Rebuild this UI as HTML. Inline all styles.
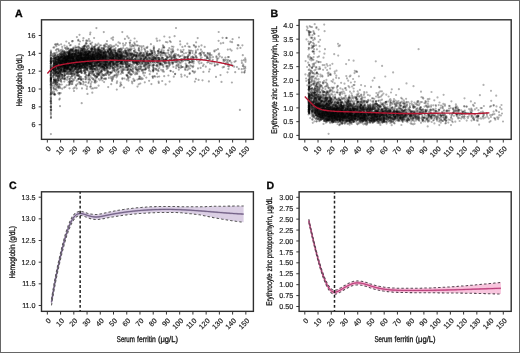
<!DOCTYPE html>
<html><head><meta charset="utf-8"><style>html,body{margin:0;padding:0;background:#fff;overflow:hidden}svg{display:block;filter:blur(0.35px)}</style></head>
<body><svg width="520" height="353" viewBox="0 0 520 353" font-family="'Liberation Sans', sans-serif" text-rendering="geometricPrecision"><rect x="0" y="0" width="520" height="353" fill="#fff"/><rect x="0.5" y="0.5" width="519" height="352" fill="none" stroke="#666" stroke-width="1"/><g fill="none" stroke="#000" stroke-opacity="0.33" stroke-width="2.2" stroke-linecap="round"><path d="M105.6 56.7h0M170.4 70.8h0M87.5 68.2h0M109.5 59.2h0M64.3 64.2h0M176.3 62.0h0M94.4 54.1h0M53.7 70.7h0M66.8 69.2h0M78.3 53.4h0M66.9 60.8h0M68.9 57.2h0M68.2 62.3h0M70.8 54.6h0M77.9 57.3h0M132.9 61.0h0M83.0 66.9h0M58.8 59.2h0M57.8 76.5h0M81.4 71.7h0M55.5 72.8h0M69.7 84.4h0M71.2 59.6h0M93.6 79.5h0M59.3 71.7h0M114.5 65.3h0M195.8 53.0h0M50.9 53.8h0M55.5 79.4h0M74.5 62.2h0M88.4 65.2h0M116.4 53.1h0M53.1 77.4h0M74.5 65.2h0M99.4 62.2h0M100.1 54.8h0M165.9 42.0h0M141.8 56.4h0M91.9 64.4h0M60.9 69.9h0M54.2 62.8h0M112.1 53.3h0M81.9 65.2h0M60.7 80.3h0M83.4 66.1h0M53.4 56.3h0M110.4 62.6h0M104.4 68.3h0M67.1 59.5h0M106.5 58.9h0M147.2 47.8h0M59.0 62.4h0M152.0 60.8h0M81.9 54.5h0M111.1 62.4h0M174.3 59.7h0M139.7 51.3h0M68.6 62.7h0M107.7 71.7h0M245.2 66.8h0M83.5 57.4h0M58.0 63.8h0M91.3 51.8h0M97.4 60.7h0M80.0 41.5h0M120.2 58.2h0M169.4 65.2h0M153.3 59.2h0M63.0 64.2h0M68.7 61.2h0M111.1 50.7h0M142.0 62.2h0M86.2 42.9h0M99.4 47.3h0M89.3 58.6h0M106.2 62.5h0M92.1 61.7h0M200.9 49.7h0M66.9 58.6h0M135.8 59.7h0M103.7 52.6h0M145.8 64.0h0M63.8 58.3h0M201.5 45.4h0M109.3 63.8h0M64.5 45.6h0M64.2 63.8h0M102.8 66.8h0M88.5 57.9h0M93.8 74.6h0M101.7 56.6h0M141.3 58.4h0M101.5 55.5h0M89.7 73.5h0M72.8 66.1h0M59.2 68.6h0M55.7 83.5h0M96.9 68.5h0M139.3 59.2h0M98.2 56.2h0M74.0 63.8h0M50.9 61.6h0M95.7 61.6h0M73.5 58.9h0M137.7 63.2h0M69.3 65.0h0M86.4 75.7h0M93.1 60.6h0M72.0 59.4h0M60.4 61.1h0M136.2 60.3h0M53.7 68.1h0M138.1 62.2h0M97.2 61.6h0M63.9 55.8h0M75.6 67.4h0M151.7 53.5h0M62.2 62.4h0M130.6 55.0h0M79.7 64.5h0M67.5 68.0h0M71.0 61.9h0M50.9 65.9h0M66.4 55.4h0M68.8 65.8h0M75.9 62.9h0M190.0 68.5h0M122.0 57.4h0M126.4 64.4h0M104.0 78.8h0M153.4 64.5h0M154.0 62.5h0M85.6 54.2h0M66.0 56.0h0M90.0 72.2h0M101.7 60.5h0M58.4 80.1h0M53.6 71.2h0M70.4 70.2h0M117.2 65.2h0M71.8 51.7h0M74.0 65.8h0M92.8 66.4h0M108.8 63.6h0M178.4 54.9h0M73.2 59.6h0M147.0 61.6h0M83.9 58.2h0M61.1 57.6h0M100.0 56.6h0M71.0 63.1h0M71.4 56.6h0M67.1 68.7h0M109.9 49.2h0M132.7 65.1h0M89.1 61.4h0M87.2 66.1h0M50.9 68.1h0M51.0 87.7h0M69.2 57.9h0M74.8 54.0h0M195.9 78.9h0M106.4 68.7h0M71.5 60.8h0M50.8 72.3h0M76.6 64.3h0M105.8 56.7h0M80.8 53.4h0M87.5 48.5h0M58.1 64.0h0M77.5 61.3h0M61.6 65.5h0M91.0 56.7h0M108.0 51.4h0M159.4 61.1h0M101.1 68.1h0M62.0 54.6h0M91.6 71.7h0M231.4 62.7h0M164.6 61.3h0M54.4 69.7h0M69.6 61.8h0M149.7 74.2h0M80.1 62.6h0M79.8 68.6h0M73.9 51.5h0M100.9 72.8h0M97.1 69.9h0M80.2 63.4h0M65.6 62.6h0M74.5 63.4h0M61.5 74.3h0M103.7 75.2h0M95.4 55.5h0M160.6 63.6h0M97.9 52.6h0M141.7 52.4h0M112.5 67.2h0M62.0 52.7h0M174.0 57.4h0M81.9 71.3h0M144.5 64.4h0M53.5 72.7h0M68.8 54.4h0M174.6 36.2h0M153.9 57.3h0M90.1 52.8h0M128.3 55.8h0M66.1 70.4h0M60.6 67.8h0M139.6 58.8h0M219.2 53.6h0M125.2 63.3h0M85.0 58.8h0M114.8 58.0h0M86.7 57.6h0M109.0 51.6h0M172.9 63.3h0M103.5 65.7h0M51.0 80.8h0M61.8 57.3h0M135.9 61.3h0M76.8 67.3h0M88.3 52.5h0M60.8 63.8h0M117.4 55.0h0M56.1 59.5h0M143.7 56.2h0M126.0 52.8h0M126.8 61.3h0M63.8 63.5h0M127.9 76.6h0M88.5 55.9h0M108.7 48.0h0M192.5 71.0h0M153.7 68.0h0M91.8 55.1h0M105.1 56.8h0M118.3 56.8h0M67.7 64.2h0M131.1 59.3h0M91.5 49.2h0M83.6 64.1h0M82.9 60.9h0M95.3 68.8h0M103.2 50.4h0M103.8 58.5h0M101.9 59.4h0M87.0 61.9h0M68.8 69.5h0M127.7 49.8h0M104.9 64.4h0M88.7 64.6h0M116.5 77.3h0M82.0 67.6h0M149.0 61.2h0M134.3 48.3h0M81.8 72.5h0M64.1 73.5h0M176.2 54.4h0M141.7 69.9h0M84.3 70.4h0M98.7 48.6h0M68.4 64.5h0M74.2 61.8h0M77.4 70.4h0M115.0 60.5h0M88.0 67.3h0M77.4 50.0h0M59.1 62.3h0M131.4 55.7h0M84.7 73.7h0M188.9 62.8h0M101.2 57.1h0M59.9 77.5h0M66.0 59.3h0M129.6 58.8h0M126.2 65.3h0M90.1 62.7h0M130.3 54.1h0M73.7 69.7h0M95.0 46.4h0M125.5 67.6h0M190.0 53.1h0M165.0 53.9h0M68.4 61.2h0M92.0 59.6h0M54.1 68.2h0M135.2 50.2h0M85.5 56.3h0M128.3 61.5h0M79.7 65.8h0M73.1 65.8h0M65.5 58.3h0M153.3 62.9h0M96.9 60.5h0M80.9 65.1h0M78.1 50.6h0M96.7 81.5h0M65.7 66.4h0M163.3 60.1h0M120.2 66.1h0M117.1 62.7h0M69.5 60.3h0M69.0 71.9h0M60.0 106.2h0M117.5 52.3h0M102.5 60.6h0M87.0 55.0h0M68.1 62.8h0M176.8 64.7h0M93.1 53.6h0M61.2 79.4h0M83.2 79.0h0M67.4 57.8h0M60.8 63.6h0M164.6 60.9h0M121.7 61.9h0M125.8 63.8h0M108.8 53.4h0M80.0 64.0h0M76.4 62.1h0M50.9 71.4h0M143.5 62.1h0M50.9 72.7h0M61.8 71.9h0M91.1 64.8h0M78.2 60.2h0M142.3 62.9h0M76.4 63.8h0M98.1 56.1h0M137.2 63.5h0M136.4 55.5h0M90.1 63.5h0M60.7 68.1h0M67.2 64.9h0M72.4 56.6h0M129.7 55.6h0M208.1 58.0h0M157.2 40.9h0M107.0 69.8h0M135.6 61.7h0M115.3 60.9h0M99.9 52.7h0M203.4 71.9h0M104.7 47.0h0M80.9 64.6h0M117.1 81.4h0M53.8 80.2h0M98.1 57.3h0M112.5 54.8h0M65.8 52.8h0M148.8 57.8h0M58.9 71.0h0M163.2 61.7h0M88.7 62.2h0M64.7 71.8h0M68.0 58.0h0M95.2 52.2h0M118.5 74.4h0M114.8 54.5h0M57.7 67.0h0M66.3 62.5h0M83.1 49.1h0M72.5 63.1h0M50.9 71.2h0M57.5 56.4h0M102.2 75.0h0M50.9 79.3h0M145.7 68.4h0M229.5 61.1h0M82.8 59.1h0M157.0 62.1h0M139.3 78.5h0M68.9 52.3h0M104.1 60.9h0M67.4 68.0h0M95.4 60.7h0M98.1 56.0h0M85.6 72.2h0M66.1 61.0h0M85.7 52.3h0M66.3 67.9h0M76.2 52.2h0M92.5 57.5h0M93.6 59.2h0M123.0 43.7h0M114.2 57.9h0M74.3 66.0h0M85.2 64.6h0M107.4 64.7h0M182.1 59.1h0M59.4 84.0h0M91.9 45.7h0M168.4 75.5h0M85.6 65.0h0M75.0 73.9h0M125.9 61.3h0M98.8 60.6h0M62.9 52.3h0M111.6 56.1h0M146.4 64.5h0M76.6 58.1h0M53.6 67.1h0M165.0 63.7h0M170.8 42.1h0M68.3 63.2h0M137.9 56.0h0M81.1 58.3h0M92.0 56.6h0M83.8 82.4h0M72.9 62.2h0M127.3 59.1h0M92.0 49.5h0M72.0 67.2h0M60.4 73.6h0M90.8 60.8h0M85.4 60.4h0M110.4 63.7h0M126.2 56.7h0M124.7 67.7h0M60.5 51.7h0M87.7 54.1h0M70.6 59.4h0M119.6 56.7h0M108.3 63.4h0M73.8 73.6h0M174.3 59.1h0M68.5 69.1h0M92.0 58.4h0M243.8 68.7h0M123.5 45.8h0M67.3 62.5h0M64.0 67.9h0M95.8 49.0h0M150.6 56.2h0M118.4 65.9h0M88.4 56.5h0M110.9 47.7h0M89.6 53.0h0M63.0 61.2h0M51.0 58.9h0M241.9 72.3h0M65.3 53.5h0M118.5 60.3h0M151.2 51.4h0M99.1 57.6h0M71.7 58.9h0M112.1 79.7h0M238.5 45.4h0M63.7 69.2h0M67.3 60.8h0M85.3 62.9h0M89.9 59.5h0M88.4 62.0h0M113.6 56.9h0M68.3 56.8h0"/><path d="M64.6 66.4h0M175.6 62.2h0M151.8 59.8h0M84.1 49.0h0M173.1 56.8h0M78.2 67.0h0M55.5 63.9h0M58.7 58.5h0M61.2 64.0h0M147.9 56.0h0M89.6 55.3h0M101.2 71.4h0M98.5 50.0h0M107.5 72.5h0M105.8 59.4h0M87.4 55.6h0M97.0 63.1h0M86.0 64.2h0M93.0 71.7h0M131.1 55.4h0M88.8 77.6h0M158.3 61.7h0M67.1 63.8h0M117.9 45.9h0M168.8 61.5h0M123.2 51.5h0M65.5 65.0h0M136.8 61.6h0M60.2 71.0h0M95.8 67.6h0M95.9 65.4h0M59.6 63.0h0M57.9 68.2h0M79.4 53.6h0M51.0 117.5h0M61.4 66.3h0M73.2 63.4h0M199.4 63.5h0M84.7 57.2h0M121.1 56.2h0M114.6 54.8h0M98.3 48.3h0M68.1 48.5h0M62.3 51.5h0M149.8 58.5h0M107.3 52.0h0M92.1 65.5h0M77.0 72.5h0M61.5 56.2h0M110.7 66.7h0M71.8 81.7h0M116.5 55.3h0M92.8 54.3h0M116.0 59.8h0M123.4 62.5h0M80.8 68.4h0M56.7 63.9h0M110.2 63.5h0M87.8 58.7h0M78.2 69.1h0M125.8 64.7h0M87.2 50.2h0M116.9 64.9h0M51.0 98.3h0M53.4 73.3h0M99.4 66.1h0M95.9 53.4h0M94.1 46.7h0M63.0 59.9h0M62.6 61.0h0M113.2 61.4h0M96.9 72.4h0M98.9 56.8h0M93.0 63.1h0M92.0 61.8h0M55.5 44.3h0M112.2 57.6h0M61.7 74.4h0M162.2 58.2h0M81.7 103.2h0M70.8 68.2h0M131.8 56.2h0M216.2 50.0h0M105.4 55.3h0M163.9 52.4h0M161.5 60.3h0M154.3 51.4h0M84.1 69.1h0M141.6 61.2h0M93.4 65.5h0M137.5 79.5h0M60.1 73.3h0M185.7 63.7h0M92.0 62.9h0M66.4 62.2h0M64.5 68.0h0M88.1 62.0h0M67.7 65.8h0M81.0 55.9h0M64.5 62.5h0M92.7 57.3h0M109.1 63.1h0M124.2 58.5h0M65.4 68.0h0M157.7 66.6h0M98.9 56.1h0M87.3 51.8h0M91.7 60.5h0M122.3 56.6h0M99.8 66.2h0M76.7 64.2h0M58.5 62.2h0M67.1 79.8h0M70.6 71.5h0M140.8 68.3h0M115.6 62.7h0M96.7 52.7h0M88.0 53.2h0M133.0 62.0h0M54.3 57.9h0M90.8 72.7h0M79.4 63.6h0M110.3 72.8h0M81.2 58.1h0M89.7 66.6h0M103.5 47.7h0M94.2 60.3h0M63.7 54.7h0M102.6 74.6h0M50.8 55.3h0M58.1 62.2h0M84.8 63.7h0M129.4 50.8h0M143.4 60.6h0M173.9 56.1h0M65.0 63.1h0M72.9 62.2h0M93.9 66.1h0M153.8 46.4h0M57.7 80.3h0M145.9 68.6h0M86.9 58.4h0M149.2 54.1h0M73.5 60.7h0M83.5 49.1h0M67.6 67.9h0M169.6 81.6h0M120.8 57.2h0M79.4 60.3h0M55.6 71.4h0M130.7 70.7h0M156.4 65.7h0M138.7 84.3h0M100.1 58.1h0M175.2 56.4h0M101.5 60.4h0M61.4 69.8h0M57.4 78.8h0M85.5 52.6h0M84.1 55.0h0M65.3 71.1h0M88.7 72.0h0M173.8 56.4h0M105.0 63.3h0M100.9 54.7h0M115.7 50.7h0M115.6 56.9h0M103.0 57.9h0M106.0 69.6h0M114.8 75.8h0M94.3 64.2h0M84.9 68.9h0M91.8 71.4h0M139.9 55.5h0M82.9 52.2h0M81.6 58.4h0M99.6 65.1h0M97.3 55.5h0M97.1 57.6h0M130.1 70.1h0M172.5 51.1h0M89.4 78.1h0M91.2 60.4h0M127.2 75.6h0M59.3 60.7h0M121.9 54.4h0M175.2 73.8h0M82.0 55.1h0M53.2 61.1h0M75.1 65.6h0M86.6 55.8h0M153.8 60.3h0M59.9 84.8h0M111.0 64.3h0M95.8 71.2h0M117.7 53.7h0M155.6 59.2h0M64.8 61.8h0M67.4 60.7h0M94.9 60.4h0M100.9 52.6h0M87.1 61.1h0M70.4 63.8h0M154.0 56.9h0M62.8 59.2h0M71.1 68.6h0M59.5 59.9h0M86.9 64.6h0M147.3 59.2h0M88.9 39.0h0M70.3 64.4h0M84.6 51.6h0M81.2 61.9h0M231.9 82.5h0M90.8 86.2h0M75.2 63.5h0M65.6 59.5h0M103.7 47.8h0M195.9 56.5h0M135.7 72.4h0M86.7 78.0h0M120.9 67.3h0M97.2 76.6h0M78.9 57.8h0M140.0 53.5h0M90.9 63.0h0M183.9 53.5h0M82.9 65.1h0M93.9 55.1h0M51.0 67.6h0M59.7 58.6h0M170.0 59.7h0M173.4 46.8h0M163.7 50.6h0M70.0 57.3h0M67.3 48.2h0M73.6 58.4h0M88.4 83.1h0M105.5 70.7h0M112.2 50.4h0M192.8 67.2h0M185.7 59.8h0M77.2 59.1h0M78.5 49.1h0M64.6 55.0h0M147.2 56.0h0M72.3 50.4h0M59.9 62.9h0M108.5 64.3h0M73.3 65.7h0M50.9 58.9h0M71.5 57.1h0M79.5 56.3h0M231.6 50.6h0M74.2 56.1h0M69.8 64.4h0M71.8 66.4h0M151.8 65.6h0M91.4 58.6h0M66.3 69.2h0M192.5 56.9h0M72.6 51.8h0M112.4 57.9h0M59.8 75.8h0M97.6 52.7h0M126.1 60.0h0M61.1 60.3h0M94.5 68.5h0M72.2 67.8h0M52.5 68.9h0M63.8 56.7h0M138.1 62.3h0M70.5 56.4h0M98.7 54.2h0M79.6 48.0h0M57.7 66.3h0M71.7 73.6h0M117.5 56.6h0M83.6 53.9h0M123.4 59.8h0M108.8 61.0h0M96.5 54.3h0M64.3 56.8h0M99.4 54.3h0M97.8 53.0h0M76.5 64.8h0M88.3 55.5h0M78.5 58.3h0M68.8 54.7h0M68.2 55.6h0M112.9 57.8h0M80.5 55.9h0M77.7 67.5h0M159.6 59.5h0M134.8 62.4h0M53.4 58.6h0M50.8 67.8h0M200.8 54.3h0M80.5 83.2h0M106.9 66.8h0M137.0 63.1h0M100.4 57.9h0M61.1 65.9h0M218.3 58.3h0M85.2 62.8h0M96.1 72.1h0M79.0 55.6h0M117.1 54.1h0M85.1 67.0h0M84.8 49.3h0M123.3 57.6h0M59.5 74.6h0M70.7 61.6h0M156.3 57.6h0M69.8 82.0h0M177.0 60.9h0M60.4 58.9h0M67.1 60.1h0M146.4 47.7h0M104.2 64.8h0M69.9 81.0h0M67.8 60.3h0M89.4 51.8h0M161.4 63.0h0M97.7 60.8h0M55.2 65.1h0M204.4 54.8h0M99.9 56.8h0M55.9 81.7h0M89.1 63.2h0M61.6 66.0h0M189.7 62.7h0M120.9 53.1h0M83.0 81.5h0M111.6 59.1h0M125.9 53.5h0M178.2 59.5h0M146.7 64.5h0M71.9 68.4h0M58.8 86.8h0M92.3 92.7h0M131.6 55.1h0M214.9 65.1h0M156.8 62.2h0M100.4 54.2h0M111.6 50.0h0M65.4 65.2h0M165.8 59.9h0M113.0 55.3h0M87.5 60.9h0M160.5 62.2h0M170.9 56.8h0M200.5 55.8h0M224.0 66.9h0M133.3 71.3h0M109.3 60.5h0M101.2 56.8h0M121.3 59.8h0M111.4 51.7h0M64.8 63.7h0M82.1 67.5h0M105.4 57.6h0M97.8 52.3h0M82.3 55.1h0M132.1 53.9h0M147.4 46.8h0M101.5 54.1h0M73.4 59.2h0M106.6 54.7h0M62.7 62.4h0M65.2 66.4h0M235.2 72.2h0M67.8 64.8h0M91.5 59.7h0M57.2 76.3h0M110.4 54.9h0M80.7 62.3h0M53.7 65.9h0M86.9 55.1h0M82.9 62.7h0M50.8 101.4h0M70.6 65.3h0M110.1 66.6h0M65.7 61.4h0M72.1 68.2h0M63.5 71.3h0M145.1 62.6h0M110.2 74.1h0M114.2 56.0h0M91.2 64.5h0M79.2 56.2h0M81.7 57.9h0M58.2 59.3h0M78.9 67.5h0M87.7 54.9h0M86.3 54.2h0M130.5 49.8h0M102.9 65.9h0M50.9 61.4h0M70.2 62.6h0M56.3 87.6h0M69.0 54.1h0M83.5 59.5h0M118.5 67.4h0M116.7 62.9h0M122.6 60.5h0M55.9 73.0h0M188.6 60.1h0M71.6 65.7h0M83.6 62.8h0M129.5 56.8h0M80.0 63.4h0M89.0 75.2h0M192.3 60.8h0M80.7 53.2h0M113.0 65.1h0M127.0 55.0h0M131.9 46.5h0M79.1 65.5h0M73.3 67.4h0M122.3 79.1h0M121.2 59.4h0M100.6 63.9h0M58.9 45.0h0M78.7 65.1h0M60.6 62.9h0M150.2 58.1h0M157.0 73.7h0M93.3 58.0h0M85.1 51.9h0M89.8 41.1h0M69.0 68.9h0M102.0 78.0h0M58.6 77.7h0M76.9 59.1h0M67.1 59.4h0M60.3 58.2h0M209.8 54.1h0M85.4 57.6h0M227.8 66.0h0M113.2 46.6h0M84.7 67.6h0M92.8 73.2h0M86.6 60.7h0M94.1 58.1h0M50.7 101.5h0M164.2 76.2h0M114.2 67.8h0M121.1 61.1h0M78.9 52.8h0M124.3 58.0h0M154.2 57.8h0M50.9 83.4h0M114.3 71.1h0M93.8 66.3h0M75.3 51.6h0M63.6 59.2h0"/><path d="M60.2 72.6h0M50.9 63.5h0M56.9 64.9h0M65.9 65.7h0M176.6 59.3h0M60.9 80.9h0M102.8 56.7h0M50.9 62.4h0M56.0 75.5h0M62.7 62.8h0M163.2 65.7h0M99.0 62.7h0M106.4 60.8h0M123.5 53.3h0M84.0 56.5h0M206.9 58.1h0M50.9 94.1h0M77.9 73.1h0M79.6 51.2h0M133.5 62.3h0M165.6 59.6h0M62.9 63.0h0M59.4 62.6h0M108.6 59.3h0M84.0 64.4h0M87.3 59.3h0M58.5 60.1h0M103.3 53.5h0M84.9 55.4h0M103.4 54.9h0M92.9 63.1h0M128.4 54.7h0M129.7 60.9h0M157.7 70.5h0M134.8 54.7h0M82.1 58.6h0M188.5 55.8h0M64.8 75.4h0M79.5 54.3h0M192.6 51.1h0M92.4 57.0h0M134.7 52.5h0M127.1 67.2h0M80.0 61.2h0M121.5 64.2h0M103.9 52.5h0M69.2 62.4h0M137.5 86.6h0M76.6 67.7h0M71.0 65.0h0M50.9 100.2h0M82.9 57.1h0M66.9 64.4h0M87.7 46.1h0M105.4 65.1h0M71.4 60.3h0M90.5 56.3h0M132.3 59.1h0M82.3 54.3h0M146.2 58.7h0M127.5 53.9h0M123.4 54.1h0M79.2 44.2h0M63.8 61.4h0M78.1 63.8h0M109.6 61.3h0M81.9 48.8h0M135.1 67.9h0M94.0 58.2h0M64.5 51.3h0M89.9 60.8h0M93.8 58.9h0M125.1 55.7h0M99.4 62.6h0M108.8 46.5h0M108.1 52.0h0M174.7 55.3h0M93.1 60.1h0M51.0 92.8h0M117.2 57.4h0M86.3 54.6h0M69.4 71.1h0M113.4 68.3h0M142.7 78.8h0M79.6 77.5h0M76.2 65.6h0M197.8 49.6h0M143.8 53.0h0M80.9 55.3h0M60.5 79.8h0M66.2 59.8h0M172.2 63.0h0M66.5 65.8h0M70.9 61.1h0M122.1 66.1h0M115.0 66.8h0M80.0 49.9h0M119.7 61.5h0M80.3 61.1h0M106.8 60.4h0M70.1 72.2h0M113.9 62.6h0M53.4 64.9h0M87.0 65.1h0M168.9 54.5h0M63.3 60.4h0M125.0 69.9h0M78.9 55.4h0M72.8 59.2h0M192.6 56.6h0M141.6 63.9h0M81.1 60.9h0M107.9 59.7h0M167.4 42.3h0M89.4 64.4h0M97.2 63.4h0M104.2 60.7h0M84.5 66.9h0M142.8 61.6h0M130.0 53.1h0M51.0 89.9h0M75.1 54.5h0M72.9 67.5h0M72.9 54.2h0M70.4 64.9h0M66.8 66.1h0M77.1 54.7h0M76.8 56.0h0M74.6 60.2h0M64.5 70.4h0M61.8 62.5h0M100.6 59.8h0M111.3 51.8h0M147.6 62.7h0M53.0 83.4h0M51.1 93.6h0M100.5 64.5h0M96.8 55.9h0M164.0 61.6h0M108.8 59.8h0M120.8 62.6h0M55.7 69.4h0M55.2 80.0h0M58.7 88.1h0M67.3 77.9h0M114.9 52.5h0M135.1 58.5h0M100.7 55.2h0M120.3 58.4h0M76.3 67.3h0M51.0 81.9h0M50.8 69.2h0M86.0 53.7h0M84.0 56.5h0M105.9 56.7h0M64.0 68.4h0M77.8 59.5h0M93.3 68.8h0M144.8 82.3h0M176.1 68.2h0M70.8 64.9h0M67.4 58.2h0M88.9 53.1h0M101.4 65.4h0M55.8 55.6h0M56.1 72.6h0M88.4 61.6h0M64.6 65.6h0M82.7 54.1h0M87.3 60.5h0M89.4 58.6h0M72.4 78.7h0M119.4 60.2h0M50.9 85.2h0M117.4 56.6h0M71.5 81.4h0M106.4 65.5h0M166.6 58.7h0M147.4 54.9h0M102.9 56.7h0M101.2 64.6h0M97.0 56.4h0M93.3 54.4h0M65.7 71.3h0M75.1 78.3h0M60.3 65.5h0M230.2 49.3h0M83.5 60.3h0M82.8 63.7h0M69.2 53.6h0M82.5 57.6h0M166.8 69.0h0M97.2 55.5h0M118.0 62.3h0M62.5 72.0h0M53.6 70.2h0M77.3 60.3h0M154.1 65.2h0M50.9 82.4h0M55.3 63.2h0M60.2 63.7h0M139.0 61.3h0M72.7 54.1h0M96.4 56.7h0M83.5 55.7h0M66.8 68.7h0M82.7 50.5h0M59.3 57.1h0M83.1 64.8h0M178.7 67.1h0M146.4 57.9h0M121.2 51.2h0M68.3 68.5h0M97.1 61.8h0M102.1 73.5h0M162.6 71.3h0M50.9 68.8h0M50.9 103.2h0M159.0 63.7h0M153.0 61.5h0M90.0 57.8h0M132.1 57.8h0M140.4 53.2h0M91.1 67.0h0M116.7 55.7h0M189.7 53.2h0M141.3 67.2h0M50.9 74.3h0M58.7 60.3h0M53.1 68.3h0M59.8 71.6h0M76.3 56.2h0M98.4 53.4h0M119.6 55.0h0M73.1 57.6h0M63.7 70.4h0M99.7 64.4h0M109.2 50.3h0M65.0 58.1h0M123.3 69.2h0M137.1 52.8h0M83.3 60.8h0M68.7 56.9h0M118.0 55.1h0M149.0 58.1h0M125.2 60.0h0M59.5 56.4h0M94.0 62.3h0M91.1 58.4h0M58.1 73.1h0M85.8 59.8h0M152.5 76.6h0M79.4 60.6h0M173.4 55.5h0M69.9 57.4h0M63.5 64.7h0M65.1 63.2h0M130.1 54.5h0M137.5 61.3h0M98.8 54.0h0M80.2 53.1h0M94.7 65.5h0M69.5 66.1h0M74.0 79.8h0M61.4 70.0h0M63.8 58.2h0M80.2 53.3h0M138.5 54.9h0M86.0 60.7h0M160.3 51.8h0M187.2 76.8h0M99.3 57.8h0M111.2 55.5h0M84.7 65.4h0M67.3 65.2h0M227.5 61.3h0M70.5 69.9h0M76.9 73.4h0M111.2 54.9h0M108.6 63.5h0M81.0 61.2h0M94.6 47.2h0M97.7 61.8h0M190.2 61.9h0M164.0 53.0h0M88.7 65.6h0M114.6 50.1h0M77.1 63.2h0M62.4 62.2h0M55.9 50.2h0M146.7 62.7h0M68.3 68.1h0M72.9 54.2h0M103.2 66.7h0M92.3 73.0h0M104.4 61.5h0M81.2 57.8h0M55.2 60.5h0M118.9 49.1h0M118.5 53.1h0M70.6 72.1h0M72.2 58.6h0M91.4 69.5h0M101.3 61.4h0M74.5 69.9h0M82.9 56.1h0M86.0 63.2h0M67.0 56.9h0M76.2 57.1h0M105.3 56.2h0M112.9 53.0h0M79.3 67.6h0M73.4 48.3h0M121.8 61.8h0M50.7 84.7h0M191.5 66.2h0M123.1 55.8h0M81.9 61.1h0M79.3 64.6h0M124.5 55.7h0M101.2 58.2h0M110.2 45.0h0M120.5 57.9h0M69.4 79.0h0M105.2 56.0h0M52.6 92.8h0M142.5 55.7h0M96.6 73.6h0M168.6 50.3h0M145.0 49.5h0M80.5 53.4h0M93.7 61.9h0M89.7 58.4h0M64.8 59.6h0M77.3 71.7h0M113.5 77.3h0M50.8 75.3h0M62.5 74.6h0M107.6 50.1h0M139.3 76.7h0M119.7 61.6h0M72.5 82.1h0M74.3 50.5h0M120.0 43.3h0M62.2 76.9h0M128.5 61.0h0M95.6 53.1h0M109.3 54.6h0M94.7 61.7h0M145.1 72.8h0M70.5 49.4h0M50.7 82.2h0M100.4 62.9h0M64.5 67.1h0M63.1 67.1h0M180.2 63.1h0M64.3 58.4h0M74.0 59.9h0M71.1 67.9h0M130.5 64.7h0M78.8 59.4h0M53.3 82.1h0M158.8 57.5h0M112.0 77.6h0M69.9 45.3h0M57.0 73.1h0M148.7 54.9h0M111.0 77.1h0M55.3 75.7h0M156.9 60.4h0M74.8 63.0h0M50.6 81.2h0M221.5 81.9h0M72.1 61.2h0M56.8 57.1h0M56.0 56.6h0M54.2 82.3h0M81.9 62.8h0M226.6 37.9h0M55.4 64.0h0M99.2 49.7h0M119.9 63.5h0M83.1 40.5h0M111.4 45.5h0M184.2 56.5h0M132.8 54.5h0M78.1 56.7h0M65.4 59.8h0M51.0 71.0h0M116.7 56.6h0M72.9 59.6h0M143.1 58.7h0M70.8 63.5h0M105.9 78.4h0M150.9 44.2h0M53.9 58.9h0M86.1 58.1h0M100.6 61.2h0M64.7 59.8h0M50.7 77.9h0M54.0 65.7h0M98.5 66.1h0M118.4 58.1h0M100.7 63.4h0M107.0 44.3h0M85.3 56.8h0M59.8 58.0h0M118.5 50.4h0M90.7 62.0h0M82.4 61.3h0M189.6 73.9h0M83.4 56.2h0M89.8 52.0h0M149.1 58.3h0M129.8 77.2h0M160.1 64.1h0M91.3 68.7h0M73.1 79.4h0M70.6 58.1h0M79.5 59.2h0M136.3 62.3h0M105.2 59.6h0M56.8 63.3h0M113.5 58.3h0M94.4 57.8h0M72.5 57.0h0M223.2 42.9h0M68.2 58.0h0M69.7 64.1h0M104.6 68.6h0M64.4 59.8h0M145.0 62.4h0M155.0 76.7h0M50.9 100.6h0M88.7 55.7h0M106.6 67.5h0M62.7 60.8h0M103.5 58.3h0M67.9 72.1h0M127.9 51.1h0M165.5 60.8h0M80.5 55.3h0M80.6 65.0h0M60.8 62.0h0M119.5 60.8h0M91.4 61.4h0M104.6 60.3h0M52.7 54.1h0M68.7 55.8h0M141.3 58.8h0M88.1 56.7h0M73.9 62.2h0M97.5 62.9h0M153.1 71.6h0M178.8 65.2h0M73.9 66.0h0M127.6 53.0h0"/><path d="M62.2 65.9h0M88.1 59.9h0M171.3 60.4h0M132.4 62.1h0M136.9 58.2h0M87.0 63.1h0M58.9 66.0h0M60.6 56.8h0M175.1 60.0h0M191.0 57.4h0M120.9 63.4h0M195.9 55.8h0M141.0 58.7h0M114.1 56.7h0M91.8 65.4h0M140.7 66.7h0M64.2 69.7h0M64.9 65.0h0M110.2 62.5h0M153.1 66.6h0M64.0 64.7h0M95.4 61.9h0M55.5 58.0h0M74.9 68.5h0M116.4 54.8h0M188.3 69.2h0M85.7 61.0h0M68.0 53.6h0M69.5 53.9h0M62.5 63.9h0M70.1 65.5h0M78.5 79.0h0M141.6 49.8h0M64.8 71.2h0M70.5 55.5h0M170.1 56.7h0M113.3 65.1h0M107.8 66.7h0M56.4 65.5h0M115.4 64.0h0M119.4 52.3h0M58.9 57.3h0M85.8 60.9h0M102.4 57.5h0M112.6 64.0h0M57.9 66.9h0M76.5 66.8h0M76.5 53.3h0M72.0 63.6h0M106.3 57.6h0M98.4 60.1h0M59.1 93.2h0M108.9 72.1h0M105.1 61.6h0M78.1 51.8h0M73.2 61.1h0M70.6 57.7h0M59.5 65.0h0M173.8 76.7h0M82.4 50.6h0M120.5 49.2h0M93.1 56.4h0M101.1 52.4h0M70.2 62.4h0M102.6 60.0h0M120.5 59.6h0M103.0 63.9h0M79.5 58.8h0M88.5 75.1h0M92.1 64.2h0M77.1 69.9h0M58.3 73.2h0M74.9 61.9h0M62.3 60.5h0M105.0 60.6h0M57.0 71.3h0M72.1 54.2h0M84.7 55.6h0M81.0 55.3h0M122.0 52.8h0M95.8 57.4h0M99.7 54.0h0M148.8 63.8h0M77.3 69.9h0M132.9 68.8h0M75.9 61.1h0M103.6 66.3h0M93.4 62.9h0M67.6 67.8h0M136.7 63.8h0M76.5 57.0h0M139.0 78.9h0M85.8 61.6h0M173.4 66.9h0M102.9 56.7h0M188.0 58.9h0M94.8 50.0h0M92.0 60.1h0M96.8 55.9h0M50.9 78.1h0M91.8 56.7h0M241.9 62.9h0M136.3 62.0h0M75.1 59.7h0M50.8 60.5h0M105.4 57.6h0M139.5 63.7h0M66.6 73.8h0M85.0 57.2h0M112.3 63.6h0M77.7 53.7h0M62.0 59.8h0M99.7 80.2h0M72.0 49.7h0M55.0 58.5h0M76.0 63.3h0M154.7 51.8h0M96.2 57.8h0M51.1 62.2h0M108.1 60.8h0M119.5 52.4h0M206.9 56.5h0M62.9 57.6h0M55.8 61.6h0M186.7 65.8h0M62.8 78.2h0M95.4 56.2h0M159.5 65.7h0M83.0 61.9h0M90.1 56.4h0M114.9 56.6h0M70.0 58.9h0M112.6 61.8h0M241.7 69.2h0M153.2 70.4h0M123.1 73.1h0M53.4 47.5h0M204.7 46.9h0M86.6 60.4h0M90.2 57.3h0M88.1 61.0h0M50.8 68.8h0M80.7 71.1h0M149.4 60.6h0M76.9 59.8h0M136.0 56.0h0M136.5 54.8h0M122.0 62.3h0M137.9 70.5h0M50.9 53.1h0M72.3 63.2h0M105.0 51.2h0M76.4 58.9h0M84.9 63.8h0M187.4 70.0h0M98.6 65.5h0M87.5 93.9h0M110.3 67.6h0M125.2 44.8h0M143.2 69.7h0M81.3 52.5h0M84.4 55.2h0M152.9 61.0h0M80.4 63.9h0M205.1 56.1h0M61.2 64.4h0M232.6 65.6h0M84.0 62.3h0M67.7 65.0h0M82.7 61.9h0M70.3 58.1h0M105.1 57.2h0M161.2 69.8h0M111.6 49.3h0M64.4 61.2h0M92.4 60.6h0M80.0 56.1h0M84.9 58.4h0M83.7 62.0h0M127.3 36.4h0M240.4 47.9h0M85.0 58.2h0M127.6 67.6h0M159.3 59.8h0M66.8 67.1h0M65.9 55.7h0M51.1 89.8h0M111.4 58.0h0M88.6 54.7h0M84.7 62.0h0M90.2 60.6h0M162.4 57.6h0M62.2 61.1h0M76.5 55.3h0M75.6 60.3h0M88.0 48.9h0M116.3 58.5h0M88.8 59.3h0M76.0 47.7h0M69.5 60.7h0M50.9 88.2h0M125.2 64.3h0M60.5 63.1h0M117.4 69.3h0M56.3 80.7h0M90.4 68.2h0M133.1 53.3h0M174.2 60.3h0M86.3 58.0h0M85.3 76.8h0M56.6 71.4h0M203.4 53.2h0M139.5 64.4h0M65.0 58.0h0M88.8 58.5h0M81.4 53.2h0M76.0 50.1h0M139.9 54.8h0M84.0 61.8h0M63.0 72.0h0M76.3 65.7h0M84.6 59.2h0M62.8 71.7h0M111.2 58.1h0M91.6 59.0h0M58.5 76.5h0M54.9 71.6h0M73.9 66.2h0M90.1 63.9h0M81.9 65.8h0M110.4 67.6h0M80.1 72.0h0M105.2 73.8h0M76.4 61.4h0M118.5 72.2h0M112.5 57.4h0M84.7 55.1h0M94.4 55.7h0M127.6 53.1h0M51.2 74.5h0M101.9 66.2h0M120.5 56.2h0M65.3 79.4h0M81.0 52.0h0M88.7 50.9h0M90.3 55.8h0M130.4 61.6h0M91.9 54.6h0M88.7 63.2h0M171.2 53.3h0M187.8 65.8h0M93.9 49.8h0M96.1 62.0h0M160.5 54.9h0M227.5 72.3h0M87.2 68.6h0M144.9 67.2h0M188.6 46.5h0M117.2 75.9h0M80.3 58.0h0M120.3 59.3h0M65.9 60.0h0M138.6 53.7h0M108.2 48.3h0M86.6 55.7h0M74.8 62.7h0M53.4 87.7h0M107.0 60.2h0M57.3 82.2h0M170.5 60.0h0M84.2 66.0h0M77.5 72.5h0M75.4 46.3h0M80.2 66.9h0M93.0 48.6h0M53.8 74.8h0M95.3 64.0h0M132.5 71.6h0M106.6 53.4h0M171.7 60.5h0M77.7 62.5h0M71.6 50.1h0M65.1 58.1h0M59.1 56.5h0M81.4 54.2h0M90.7 56.2h0M97.0 58.0h0M84.1 57.5h0M124.2 53.1h0M129.9 63.9h0M55.8 70.8h0M72.3 83.9h0M85.8 58.8h0M84.5 64.9h0M71.4 56.8h0M58.2 93.3h0M87.1 57.6h0M207.7 53.1h0M88.9 56.3h0M62.1 60.8h0M95.6 49.8h0M86.1 64.0h0M63.1 61.2h0M94.4 59.2h0M86.6 59.8h0M75.4 55.7h0M103.9 67.6h0M115.8 53.0h0M51.0 78.8h0M66.2 66.5h0M78.4 52.3h0M104.5 59.1h0M83.8 71.0h0M97.7 59.3h0M152.6 62.1h0M83.6 56.0h0M71.4 70.5h0M88.3 79.5h0M77.7 55.7h0M91.2 55.9h0M72.7 57.3h0M62.7 56.2h0M194.2 72.7h0M136.1 54.6h0M100.0 51.4h0M142.2 63.0h0M226.4 38.0h0M228.5 68.9h0M109.9 52.4h0M132.2 44.9h0M84.8 62.9h0M60.1 55.0h0M73.5 59.4h0M76.8 75.4h0M113.4 57.0h0M96.4 28.1h0M51.0 58.5h0M80.9 69.0h0M68.4 60.4h0M111.0 57.6h0M69.0 50.7h0M154.1 47.9h0M93.7 62.6h0M71.8 64.5h0M63.5 59.5h0M144.3 48.7h0M167.3 57.5h0M133.6 56.6h0M63.0 71.8h0M81.8 61.8h0M62.2 65.0h0M136.1 52.4h0M76.1 61.7h0M86.3 64.0h0M114.0 59.8h0M149.0 65.7h0M109.3 54.6h0M78.0 61.1h0M95.3 64.3h0M53.8 61.2h0M187.3 43.7h0M97.9 49.3h0M101.4 51.8h0M118.0 63.1h0M84.3 54.5h0M81.3 68.3h0M98.8 79.1h0M68.9 68.4h0M63.3 77.7h0M145.5 52.0h0M117.7 58.9h0M124.4 56.5h0M67.9 59.3h0M104.5 65.3h0M80.3 53.8h0M60.7 64.0h0M66.9 56.3h0M81.5 61.4h0M103.1 55.5h0M76.3 65.4h0M70.5 56.4h0M191.9 62.0h0M184.9 57.7h0M54.6 69.2h0M80.8 58.4h0M78.3 70.4h0M58.2 67.4h0M117.3 55.1h0M87.8 54.2h0M93.2 52.4h0M105.7 53.4h0M109.3 49.2h0M65.6 48.3h0M94.4 47.6h0M124.6 55.2h0M107.0 59.2h0M75.8 53.7h0M106.6 57.5h0M129.0 66.3h0M88.6 59.3h0M55.7 71.6h0M92.0 53.8h0M63.4 63.9h0M75.5 63.6h0M100.1 58.3h0M151.8 53.4h0M76.0 64.9h0M70.7 78.3h0M234.1 66.7h0M135.5 55.8h0M144.3 75.6h0M88.7 51.1h0M92.4 55.6h0M140.3 56.7h0M171.3 59.4h0M134.6 38.5h0M132.2 57.6h0M93.4 55.6h0M118.6 63.8h0M88.6 56.5h0M87.0 61.1h0M97.8 75.6h0M89.1 60.7h0M113.1 54.8h0M64.6 68.8h0M112.8 61.6h0M143.8 55.1h0M93.8 56.9h0M110.0 66.8h0M98.7 50.2h0M62.5 76.6h0M50.8 67.2h0M73.7 53.6h0M200.6 67.9h0M88.5 58.9h0M107.5 66.8h0M126.5 67.1h0M99.3 62.8h0M201.5 62.9h0M163.3 53.1h0M111.0 72.5h0M53.5 86.1h0M53.1 69.0h0M93.9 48.9h0M93.4 63.3h0M69.0 54.5h0M50.7 97.6h0M75.2 57.6h0M66.7 63.1h0M62.3 59.7h0M70.3 74.0h0M61.9 65.5h0M58.4 58.6h0M99.4 59.7h0M56.1 81.7h0M115.3 52.5h0M51.0 74.7h0"/><path d="M107.4 68.1h0M118.7 57.6h0M127.8 69.0h0M92.9 67.2h0M88.5 60.2h0M88.5 52.2h0M209.1 59.2h0M144.8 59.0h0M105.6 60.7h0M65.9 61.2h0M82.8 48.3h0M54.5 72.1h0M83.0 57.5h0M66.9 60.9h0M120.7 63.1h0M61.6 53.6h0M103.5 55.7h0M58.0 61.3h0M178.7 60.9h0M209.7 69.3h0M73.1 61.0h0M92.5 55.8h0M130.0 45.0h0M187.6 56.5h0M98.6 54.3h0M158.2 53.2h0M71.9 74.8h0M181.4 60.7h0M96.3 63.1h0M75.9 62.3h0M105.9 58.2h0M79.5 64.4h0M50.9 101.6h0M138.1 68.2h0M229.0 66.4h0M107.9 51.0h0M84.4 45.8h0M79.6 57.3h0M58.9 71.3h0M82.6 57.9h0M90.9 62.3h0M71.6 55.9h0M94.9 80.8h0M80.4 60.0h0M92.5 67.7h0M134.2 56.2h0M74.6 54.1h0M143.4 59.9h0M75.0 68.4h0M87.1 55.1h0M74.7 87.6h0M82.0 59.8h0M134.7 62.5h0M112.1 61.3h0M115.7 53.0h0M98.0 59.8h0M85.0 48.8h0M68.3 56.8h0M162.2 81.0h0M64.9 65.3h0M112.2 53.2h0M76.2 58.4h0M92.9 58.9h0M69.5 65.2h0M121.5 57.9h0M100.4 49.5h0M106.8 62.0h0M89.2 58.4h0M96.5 66.5h0M86.4 60.6h0M57.9 66.4h0M91.7 65.6h0M55.2 66.6h0M76.0 50.8h0M115.0 69.3h0M50.9 106.9h0M149.2 61.4h0M65.6 71.7h0M54.2 64.7h0M60.3 60.3h0M89.4 52.9h0M94.3 57.2h0M89.3 58.4h0M58.3 56.9h0M72.3 55.4h0M92.6 56.9h0M122.4 64.0h0M89.4 58.6h0M133.9 63.4h0M63.6 56.6h0M73.0 57.1h0M83.3 64.9h0M104.2 69.3h0M65.0 68.4h0M80.0 59.9h0M98.9 61.2h0M64.6 59.9h0M202.1 51.7h0M63.0 67.8h0M88.9 60.3h0M60.9 61.4h0M82.2 61.8h0M81.0 63.7h0M138.7 50.3h0M67.4 67.3h0M235.7 61.1h0M95.1 57.4h0M76.6 65.4h0M81.6 57.6h0M75.2 77.2h0M71.6 60.2h0M62.5 51.0h0M77.9 62.3h0M105.2 55.3h0M62.5 57.2h0M59.6 67.2h0M93.5 59.1h0M110.1 63.6h0M60.2 66.2h0M67.3 70.6h0M102.7 58.5h0M57.0 72.2h0M64.4 57.9h0M96.7 49.3h0M67.1 65.3h0M65.7 67.2h0M78.6 57.1h0M85.8 57.7h0M84.7 53.6h0M188.3 59.4h0M92.0 62.4h0M55.8 89.3h0M98.8 67.1h0M69.6 60.0h0M82.8 58.6h0M103.2 55.4h0M136.3 61.1h0M138.8 48.9h0M78.9 68.7h0M87.6 57.4h0M80.3 66.1h0M119.0 50.9h0M120.3 54.1h0M73.6 56.5h0M61.5 58.1h0M91.2 61.1h0M185.3 70.0h0M74.4 55.9h0M141.9 59.7h0M55.0 55.2h0M69.0 60.2h0M129.0 60.5h0M51.0 77.9h0M67.1 60.0h0M73.0 62.2h0M72.3 68.9h0M97.4 57.7h0M116.3 58.6h0M136.4 73.7h0M104.7 50.1h0M50.7 65.9h0M58.8 60.5h0M103.1 54.7h0M67.6 49.2h0M155.8 59.8h0M77.2 65.7h0M106.0 52.4h0M87.4 61.6h0M94.1 59.7h0M55.4 63.2h0M157.7 51.2h0M125.2 62.6h0M63.8 69.0h0M54.8 57.5h0M163.0 57.8h0M70.3 69.8h0M71.8 76.1h0M105.4 53.5h0M58.3 60.3h0M88.7 58.4h0M79.5 53.1h0M195.9 52.2h0M145.2 69.6h0M227.8 62.8h0M99.7 60.9h0M84.5 72.9h0M101.7 63.2h0M86.1 69.5h0M60.5 53.2h0M59.2 66.3h0M91.0 58.9h0M56.2 63.0h0M54.8 74.3h0M87.5 62.8h0M53.0 69.5h0M59.6 69.8h0M87.1 86.7h0M59.8 64.4h0M82.3 63.1h0M205.7 55.2h0M84.7 67.8h0M95.2 49.8h0M79.4 64.3h0M118.8 60.4h0M95.8 70.1h0M116.7 73.5h0M118.5 42.4h0M65.9 57.2h0M51.1 62.6h0M59.4 94.3h0M112.2 58.3h0M69.4 54.6h0M59.1 65.7h0M86.2 52.6h0M98.6 65.9h0M72.8 58.2h0M78.8 56.5h0M154.0 50.1h0M105.1 66.4h0M136.7 55.9h0M60.1 59.0h0M63.0 58.6h0M63.3 64.8h0M140.3 60.7h0M78.5 65.5h0M73.8 57.5h0M69.6 59.1h0M100.7 65.9h0M70.4 57.7h0M106.2 75.0h0M100.7 54.4h0M190.3 65.3h0M164.8 63.0h0M79.9 55.3h0M122.0 49.4h0M87.1 55.0h0M139.2 62.7h0M63.8 56.6h0M84.3 65.8h0M74.6 61.4h0M122.4 78.2h0M74.0 75.6h0M80.3 57.0h0M55.3 59.8h0M96.3 76.3h0M112.2 58.7h0M136.7 68.9h0M105.3 62.1h0M155.9 69.2h0M69.4 64.2h0M88.1 54.2h0M104.0 53.3h0M66.7 85.3h0M98.2 57.5h0M107.1 73.6h0M149.2 68.8h0M57.9 73.1h0M60.3 74.0h0M61.0 58.0h0M139.4 68.9h0M138.4 67.2h0M79.5 34.8h0M79.0 75.0h0M73.2 80.7h0M121.4 58.2h0M241.8 60.7h0M218.0 49.2h0M65.4 66.4h0M175.4 59.1h0M70.3 49.8h0M126.3 54.0h0M75.2 50.3h0M69.1 55.4h0M93.7 70.8h0M133.9 59.8h0M50.9 94.5h0M73.3 61.7h0M153.7 48.1h0M130.7 49.5h0M66.2 63.5h0M99.7 68.1h0M106.1 64.0h0M58.8 51.4h0M73.8 51.2h0M91.9 57.4h0M92.3 69.0h0M162.5 64.7h0M98.2 54.1h0M101.6 78.0h0M66.3 41.5h0M110.2 68.5h0M58.3 49.1h0M157.5 76.8h0M77.0 60.6h0M53.9 80.0h0M90.5 62.6h0M100.8 53.8h0M129.1 66.3h0M65.0 62.3h0M76.2 51.8h0M236.9 67.0h0M113.5 53.5h0M79.2 63.6h0M105.5 56.1h0M73.3 70.8h0M66.8 59.4h0M112.5 65.6h0M92.0 57.5h0M74.8 52.9h0M164.0 47.4h0M134.3 42.7h0M61.4 52.7h0M53.5 72.7h0M86.0 59.1h0M94.8 50.7h0M50.9 52.5h0M54.5 94.4h0M185.1 46.2h0M90.6 54.0h0M77.2 60.1h0M193.1 58.2h0M115.7 58.7h0M103.0 58.9h0M196.0 46.6h0M70.4 51.7h0M71.1 72.5h0M93.8 61.5h0M117.8 58.5h0M176.2 66.0h0M175.1 57.7h0M116.9 62.0h0M83.9 50.3h0M143.4 57.4h0M119.6 62.2h0M83.4 62.4h0M102.0 51.2h0M152.1 51.1h0M76.9 73.3h0M57.7 61.4h0M91.5 88.5h0M74.4 55.0h0M167.0 67.0h0M102.5 56.8h0M132.7 60.4h0M120.6 67.2h0M60.5 63.7h0M79.0 56.1h0M243.9 60.2h0M86.9 61.2h0M71.2 62.0h0M99.8 60.7h0M62.7 57.5h0M161.0 58.6h0M68.0 58.7h0M63.7 69.2h0M58.1 66.4h0M216.4 56.3h0M85.4 51.5h0M67.0 67.2h0M98.1 61.3h0M73.7 63.5h0M159.4 68.0h0M97.2 62.3h0M55.2 70.5h0M99.8 73.2h0M74.2 63.9h0M50.9 107.1h0M76.6 69.2h0M109.5 54.1h0M84.8 59.9h0M91.3 62.7h0M104.2 57.5h0M112.2 51.6h0M51.0 107.8h0M130.5 74.8h0M83.3 55.3h0M65.2 61.2h0M78.5 64.1h0M66.4 69.6h0M71.1 61.4h0M60.1 62.8h0M85.9 59.7h0M212.4 61.7h0M50.8 55.1h0M152.3 52.3h0M77.6 60.7h0M70.1 65.2h0M184.5 59.4h0M180.8 50.4h0M104.4 49.3h0M86.5 52.6h0M57.3 81.8h0M159.3 52.9h0M93.3 68.1h0M105.8 53.4h0M96.1 64.7h0M86.8 88.9h0M100.7 64.0h0M91.3 50.3h0M51.0 79.5h0M120.6 55.8h0M165.7 59.1h0M126.8 64.7h0M108.5 58.3h0M71.6 49.3h0M157.2 65.7h0M137.0 68.3h0M188.4 54.9h0M53.1 72.4h0M71.6 58.1h0M71.1 49.3h0M81.5 56.0h0M119.6 50.8h0M51.0 81.6h0M100.3 54.8h0M155.0 53.2h0M143.9 65.9h0M100.4 52.2h0M100.4 51.8h0M118.0 51.2h0M70.0 57.9h0M75.1 66.2h0M54.2 70.3h0M99.8 45.4h0M50.9 55.1h0M58.7 63.3h0M222.7 67.4h0M95.9 57.2h0M171.2 55.2h0M70.9 65.0h0M134.6 61.2h0M86.5 58.4h0M68.8 74.1h0M76.2 85.8h0M62.3 61.1h0M67.0 60.3h0M194.3 45.8h0M126.0 57.2h0M110.1 53.6h0M61.2 54.2h0M64.9 61.2h0M178.0 55.4h0M228.2 63.7h0M124.0 62.5h0M113.4 59.1h0M227.8 49.6h0M71.3 64.6h0M131.1 70.0h0M83.6 58.0h0M84.4 61.2h0M75.1 77.2h0M174.7 53.8h0M101.7 66.7h0M239.0 37.5h0M193.8 61.7h0M59.3 66.2h0M204.2 52.8h0"/><path d="M158.6 71.1h0M70.8 61.2h0M60.6 57.2h0M56.2 68.8h0M84.4 60.4h0M71.7 72.8h0M64.8 61.3h0M94.9 51.2h0M69.7 64.0h0M83.4 52.9h0M103.8 61.9h0M108.4 56.1h0M166.8 65.6h0M107.5 68.1h0M120.9 58.1h0M110.5 72.8h0M110.8 51.8h0M186.0 53.0h0M112.8 62.6h0M80.8 56.0h0M100.1 75.0h0M179.5 61.9h0M101.4 52.5h0M99.1 62.6h0M60.7 72.1h0M91.2 66.8h0M59.7 67.0h0M77.7 71.7h0M99.4 62.9h0M80.4 66.2h0M231.5 64.9h0M200.5 59.4h0M58.0 60.6h0M62.0 69.8h0M148.5 63.2h0M132.2 57.8h0M103.6 53.1h0M61.6 61.8h0M213.0 57.1h0M140.8 57.9h0M83.9 58.7h0M59.9 61.2h0M245.3 68.3h0M200.8 52.9h0M50.9 80.7h0M61.8 58.6h0M81.0 80.0h0M92.4 58.2h0M88.2 60.7h0M102.0 57.4h0M88.9 61.2h0M100.5 62.9h0M225.4 57.6h0M106.4 63.4h0M82.1 58.2h0M61.1 68.3h0M92.9 57.2h0M89.3 62.9h0M181.5 66.9h0M70.2 50.1h0M64.9 61.3h0M73.4 47.6h0M102.7 69.2h0M57.0 59.4h0M55.0 58.9h0M111.4 59.1h0M58.9 74.9h0M55.0 63.5h0M56.2 64.0h0M160.8 55.8h0M143.2 72.1h0M140.7 65.2h0M92.8 71.5h0M95.6 56.6h0M77.7 66.3h0M59.8 71.7h0M228.9 57.0h0M125.9 67.2h0M105.1 57.2h0M64.8 56.7h0M214.4 50.7h0M149.6 65.5h0M88.2 70.6h0M136.5 69.9h0M186.1 57.2h0M121.3 55.1h0M108.0 51.3h0M134.2 54.4h0M95.4 59.7h0M167.3 56.7h0M101.1 78.9h0M78.2 51.4h0M175.6 56.0h0M67.9 57.0h0M69.0 53.0h0M126.2 53.8h0M89.3 57.0h0M85.4 66.4h0M85.4 64.8h0M64.0 78.8h0M90.0 53.9h0M62.7 64.4h0M84.1 64.2h0M88.1 54.4h0M91.6 60.3h0M64.9 61.6h0M74.9 61.3h0M139.5 59.9h0M95.4 55.6h0M62.9 70.4h0M68.0 64.0h0M101.8 64.1h0M89.9 59.6h0M57.7 54.6h0M69.4 56.4h0M79.1 65.8h0M150.5 61.6h0M55.5 66.3h0M92.9 57.1h0M56.0 61.4h0M65.7 57.0h0M63.9 61.2h0M125.3 50.8h0M50.9 134.1h0M186.6 66.0h0M94.9 81.4h0M113.8 64.3h0M81.3 66.7h0M86.7 56.0h0M99.8 59.3h0M80.9 57.1h0M67.7 60.4h0M182.8 67.0h0M78.4 57.3h0M89.2 55.7h0M195.1 71.7h0M120.1 58.2h0M199.2 53.8h0M71.1 66.8h0M84.6 64.1h0M94.8 75.5h0M101.6 61.2h0M85.4 60.9h0M83.6 52.5h0M98.6 59.5h0M207.9 53.4h0M77.6 56.3h0M85.9 62.8h0M122.2 58.6h0M74.1 63.3h0M52.8 70.4h0M78.3 39.9h0M116.1 53.3h0M87.2 59.1h0M140.4 78.8h0M51.2 82.5h0M79.1 69.2h0M147.7 52.0h0M59.3 63.3h0M163.4 67.0h0M83.2 84.3h0M75.4 61.0h0M71.7 76.4h0M60.9 64.1h0M110.8 57.7h0M100.5 64.7h0M103.8 75.7h0M116.5 55.0h0M113.5 70.0h0M123.0 55.8h0M96.6 54.1h0M63.7 63.7h0M162.8 61.2h0M89.7 53.3h0M62.8 63.9h0M163.5 46.4h0M90.4 51.8h0M144.3 61.0h0M104.1 56.3h0M99.0 74.7h0M86.2 62.0h0M60.2 68.0h0M111.5 54.4h0M55.5 53.3h0M88.9 46.7h0M88.3 57.5h0M60.4 61.6h0M84.1 47.9h0M55.2 94.6h0M68.7 58.0h0M78.7 60.5h0M77.2 58.4h0M60.9 71.7h0M73.4 67.1h0M75.7 50.0h0M135.1 74.3h0M50.9 84.4h0M62.6 59.2h0M110.7 66.0h0M99.3 53.5h0M117.9 60.5h0M90.0 64.1h0M64.8 66.6h0M76.6 50.4h0M78.8 58.4h0M73.0 58.4h0M75.5 59.6h0M92.2 70.0h0M60.9 62.7h0M68.7 64.7h0M84.6 71.1h0M125.2 49.1h0M78.3 72.6h0M61.4 67.1h0M105.6 61.4h0M131.4 53.9h0M207.3 62.5h0M76.0 67.3h0M155.2 58.4h0M65.8 61.5h0M129.0 57.3h0M99.1 54.1h0M63.6 65.7h0M96.9 57.8h0M142.7 63.9h0M186.5 67.3h0M51.0 62.6h0M71.4 67.4h0M99.9 55.5h0M62.4 66.0h0M57.0 72.3h0M167.9 57.5h0M111.0 61.1h0M108.6 65.3h0M73.2 60.6h0M121.0 56.9h0M59.5 75.2h0M140.6 65.9h0M64.3 52.6h0M87.4 59.7h0M66.7 61.2h0M75.6 53.6h0M50.9 78.0h0M85.6 77.2h0M130.9 55.3h0M100.1 65.3h0M93.7 60.8h0M74.8 61.3h0M61.4 67.5h0M161.5 59.9h0M64.5 58.8h0M64.8 75.1h0M102.2 55.8h0M188.8 66.9h0M55.8 68.3h0M62.4 68.3h0M152.0 54.3h0M91.1 67.9h0M162.6 52.9h0M68.0 67.1h0M79.2 65.9h0M82.7 51.3h0M71.1 53.1h0M88.5 61.2h0M59.3 99.6h0M96.1 54.0h0M70.9 54.4h0M76.6 56.2h0M53.3 70.8h0M135.4 45.3h0M116.8 83.1h0M94.4 54.5h0M58.8 58.1h0M103.7 67.2h0M92.4 60.3h0M102.4 80.5h0M137.4 54.5h0M139.2 59.3h0M78.9 63.8h0M102.7 67.6h0M158.9 59.1h0M105.7 79.2h0M88.6 53.9h0M80.9 61.8h0M124.5 61.6h0M77.6 59.8h0M56.6 64.8h0M113.7 61.8h0M57.2 69.1h0M130.1 73.4h0M77.6 74.9h0M169.1 60.2h0M132.6 60.5h0M73.6 63.6h0M64.6 64.4h0M81.2 56.8h0M82.6 52.8h0M104.6 58.6h0M61.3 54.7h0M212.8 59.8h0M85.3 53.5h0M58.0 73.4h0M61.3 81.9h0M54.0 64.0h0M149.4 66.8h0M158.1 57.8h0M61.4 62.5h0M96.9 58.2h0M85.7 54.0h0M70.3 70.1h0M166.5 59.8h0M99.4 55.2h0M68.5 55.0h0M97.3 55.1h0M63.3 69.5h0M79.9 68.3h0M158.9 60.4h0M67.7 73.6h0M78.2 65.1h0M58.7 66.0h0M173.4 62.6h0M101.8 61.3h0M92.1 50.7h0M92.0 58.9h0M193.0 71.5h0M89.3 73.6h0M55.0 59.4h0M157.5 64.4h0M59.0 62.8h0M109.8 57.1h0M78.6 71.8h0M210.0 55.2h0M51.0 51.8h0M82.0 63.5h0M61.6 59.4h0M113.1 68.2h0M64.0 70.8h0M74.3 74.4h0M65.0 64.2h0M99.3 61.0h0M89.0 54.8h0M147.5 57.8h0M102.4 61.3h0M62.7 59.9h0M100.0 64.2h0M72.7 51.0h0M87.3 68.8h0M153.4 58.3h0M51.1 91.8h0M62.8 61.0h0M86.7 47.4h0M73.3 64.7h0M70.0 69.4h0M75.9 66.1h0M218.7 32.0h0M128.6 59.8h0M129.1 50.2h0M108.1 57.3h0M72.0 68.5h0M93.1 74.8h0M58.2 61.1h0M111.6 57.4h0M64.2 66.9h0M102.9 56.9h0M100.3 58.7h0M66.3 62.3h0M89.2 55.3h0M78.3 69.2h0M60.8 50.2h0M85.6 45.0h0M55.2 44.6h0M135.5 61.0h0M162.9 52.5h0M72.7 69.3h0M116.1 44.7h0M105.1 58.3h0M76.9 60.4h0M94.4 60.3h0M140.2 61.1h0M148.5 60.4h0M150.5 49.9h0M80.2 60.1h0M176.8 59.7h0M50.9 60.1h0M62.2 46.9h0M51.0 107.5h0M106.1 63.1h0M99.7 54.7h0M134.0 45.8h0M94.9 55.1h0M103.0 60.6h0M75.3 59.9h0M139.3 71.3h0M140.4 57.5h0M88.2 59.0h0M125.0 58.6h0M62.4 78.6h0M135.2 62.6h0M78.3 61.5h0M87.0 54.5h0M191.6 59.4h0M54.6 84.3h0M68.6 52.2h0M60.3 59.1h0M80.3 65.8h0M56.4 61.7h0M61.6 64.1h0M64.1 61.8h0M81.0 71.9h0M132.9 56.6h0M181.6 60.0h0M180.1 41.3h0M133.0 59.7h0M104.1 61.4h0M98.0 55.2h0M99.8 50.3h0M131.7 48.8h0M100.7 66.8h0M85.7 58.3h0M101.2 57.0h0M98.1 60.3h0M116.6 53.1h0M92.5 49.0h0M61.0 60.6h0M187.5 56.8h0M68.6 82.2h0M139.1 61.7h0M114.3 60.8h0M63.6 65.8h0M153.4 58.8h0M157.3 56.1h0M80.2 84.2h0M96.8 55.8h0M90.2 80.0h0M161.4 52.4h0M237.8 45.1h0M80.8 50.8h0M86.4 46.5h0M57.8 87.4h0M99.4 55.9h0M148.1 61.5h0M81.2 69.8h0M126.4 67.7h0M97.6 54.5h0M90.8 63.7h0M64.1 65.5h0M52.7 72.7h0M65.0 68.3h0M88.8 60.2h0M80.2 57.4h0M90.4 55.2h0M70.0 55.7h0M61.8 63.3h0M67.8 58.6h0M81.7 54.3h0M55.5 89.3h0M129.1 72.2h0"/><path d="M124.5 60.7h0M157.0 59.3h0M52.9 67.3h0M184.9 57.0h0M98.6 48.9h0M128.3 78.7h0M111.3 61.5h0M83.9 58.2h0M50.8 101.3h0M136.0 56.5h0M104.4 66.4h0M84.3 57.0h0M84.7 64.0h0M102.2 58.4h0M75.4 54.0h0M62.3 49.4h0M90.1 63.6h0M56.4 61.9h0M84.1 46.2h0M130.8 51.0h0M53.6 73.8h0M73.1 68.0h0M65.8 57.5h0M67.2 58.2h0M81.9 49.8h0M64.2 87.6h0M50.9 65.9h0M71.2 53.8h0M117.9 60.1h0M97.4 74.1h0M78.1 60.3h0M58.4 60.9h0M93.6 50.4h0M121.0 48.4h0M65.8 66.2h0M182.5 51.9h0M92.6 51.3h0M163.5 60.3h0M63.6 53.5h0M112.6 58.8h0M122.3 63.0h0M73.3 65.7h0M77.6 61.1h0M110.0 57.6h0M76.8 64.2h0M55.3 80.8h0M67.3 51.8h0M91.9 48.9h0M103.3 63.9h0M138.0 45.5h0M82.1 50.1h0M137.7 57.4h0M71.3 62.5h0M71.8 62.1h0M118.7 54.1h0M72.1 66.2h0M135.9 67.5h0M84.2 51.9h0M118.8 57.6h0M110.4 58.9h0M103.7 45.5h0M115.4 63.2h0M96.9 57.2h0M118.2 72.3h0M75.6 68.9h0M166.6 53.4h0M50.7 63.6h0M142.1 55.1h0M152.9 76.6h0M132.2 71.1h0M150.7 53.8h0M98.0 57.8h0M65.0 63.4h0M124.4 52.8h0M134.0 50.9h0M95.8 45.5h0M75.3 47.8h0M77.2 53.2h0M168.9 63.3h0M80.3 59.7h0M245.0 70.6h0M117.0 58.8h0M84.4 59.8h0M112.6 59.9h0M58.2 56.2h0M118.8 61.2h0M68.7 76.4h0M72.5 49.9h0M75.2 56.3h0M67.7 61.4h0M79.3 68.3h0M138.8 49.9h0M183.5 49.8h0M129.8 60.5h0M65.7 57.3h0M62.5 75.4h0M203.7 64.6h0M62.4 57.1h0M79.7 60.2h0M71.2 62.3h0M66.2 54.3h0M137.8 64.6h0M105.8 52.3h0M81.1 60.8h0M69.0 61.6h0M62.6 55.3h0M101.7 48.3h0M163.0 69.9h0M171.9 57.6h0M182.3 67.0h0M86.9 68.9h0M64.9 57.9h0M62.0 67.0h0M98.4 62.6h0M55.0 62.9h0M54.8 73.7h0M94.7 69.2h0M223.8 59.6h0M76.2 64.4h0M114.0 60.1h0M77.3 59.0h0M80.6 48.4h0M58.9 54.7h0M145.8 64.8h0M85.3 67.6h0M105.8 59.3h0M130.1 53.3h0M80.4 52.5h0M66.5 64.6h0M78.2 58.9h0M87.1 66.5h0M66.5 60.2h0M62.0 57.3h0M106.0 62.0h0M63.7 58.1h0M68.8 55.6h0M137.3 71.0h0M61.3 64.3h0M60.8 65.4h0M153.2 67.7h0M164.4 62.3h0M56.0 64.9h0M134.8 44.0h0M74.8 62.4h0M74.5 56.1h0M50.7 94.9h0M128.4 63.6h0M118.3 61.5h0M96.4 59.5h0M110.5 57.0h0M100.6 61.2h0M73.1 59.0h0M185.1 69.0h0M95.2 63.2h0M182.4 55.4h0M71.0 59.3h0M127.1 64.5h0M71.6 59.3h0M145.9 61.9h0M152.2 61.5h0M88.0 58.5h0M63.2 66.3h0M118.4 55.1h0M76.7 61.1h0M99.2 58.6h0M138.0 69.8h0M102.1 57.7h0M156.4 70.0h0M122.4 57.5h0M91.5 62.3h0M79.2 55.4h0M68.7 60.2h0M52.2 85.5h0M98.4 55.0h0M69.0 43.2h0M171.6 59.2h0M59.3 55.0h0M67.8 53.6h0M53.3 83.1h0M115.5 59.7h0M180.7 56.0h0M111.8 46.9h0M140.0 76.8h0M68.3 55.7h0M77.7 59.2h0M96.0 53.0h0M85.1 64.1h0M102.8 59.2h0M169.2 57.2h0M86.0 67.5h0M82.3 60.7h0M76.6 64.7h0M115.3 59.4h0M152.1 57.5h0M68.4 66.4h0M80.5 54.4h0M110.0 63.3h0M84.4 55.7h0M103.5 52.4h0M97.6 69.4h0M78.4 62.6h0M83.5 67.7h0M94.9 57.1h0M90.1 34.3h0M90.6 59.0h0M75.7 66.9h0M76.7 54.7h0M76.4 61.1h0M166.6 63.0h0M76.2 71.3h0M82.1 58.1h0M118.6 68.8h0M149.9 57.8h0M67.4 69.5h0M64.1 63.8h0M113.9 59.7h0M61.1 70.9h0M60.8 68.8h0M76.0 72.0h0M87.4 65.5h0M66.2 57.0h0M83.1 68.0h0M50.8 109.8h0M100.3 67.3h0M76.9 55.8h0M112.7 54.8h0M106.3 57.3h0M135.6 69.1h0M162.8 55.1h0M82.7 60.4h0M91.9 69.0h0M88.9 60.0h0M135.2 58.9h0M156.9 58.6h0M99.0 61.7h0M119.9 58.0h0M99.2 56.1h0M56.3 69.1h0M65.0 66.9h0M81.0 59.2h0M141.7 47.8h0M90.9 60.9h0M86.1 62.0h0M189.8 62.1h0M68.4 61.1h0M58.9 59.1h0M53.0 56.3h0M230.1 60.7h0M193.5 57.5h0M191.0 50.6h0M91.9 51.4h0M54.3 63.2h0M114.0 56.5h0M82.4 58.3h0M148.8 56.2h0M197.7 38.1h0M184.2 59.7h0M127.9 70.4h0M77.7 61.2h0M100.8 50.3h0M134.2 61.2h0M70.6 63.3h0M78.5 46.5h0M67.5 61.9h0M67.0 68.2h0M93.4 56.5h0M74.3 65.5h0M103.2 62.7h0M96.0 61.2h0M126.3 51.9h0M99.9 59.8h0M130.5 46.7h0M105.6 74.9h0M91.9 56.8h0M54.7 63.2h0M117.3 66.2h0M121.6 72.0h0M79.0 60.1h0M112.1 80.9h0M126.7 61.3h0M209.9 53.0h0M83.5 65.0h0M67.3 66.0h0M145.8 57.6h0M86.6 67.4h0M83.4 54.6h0M131.4 59.1h0M69.4 67.1h0M84.4 46.2h0M109.9 49.9h0M99.2 59.5h0M110.6 65.6h0M78.5 66.9h0M60.1 65.7h0M121.4 61.4h0M77.9 59.9h0M115.6 59.3h0M67.8 53.7h0M146.3 77.6h0M168.9 66.5h0M108.5 53.7h0M68.6 48.5h0M106.0 66.3h0M99.6 51.7h0M85.9 49.5h0M91.0 61.5h0M114.6 60.4h0M112.6 54.5h0M56.8 82.9h0M195.9 50.7h0M71.8 71.0h0M107.2 62.7h0M85.2 63.8h0M71.9 61.3h0M72.4 54.4h0M141.4 79.2h0M98.9 59.5h0M96.7 50.3h0M75.3 59.8h0M117.4 57.2h0M106.5 65.3h0M141.5 77.8h0M185.1 57.6h0M97.5 65.2h0M78.1 67.3h0M168.2 52.8h0M66.8 68.1h0M63.8 57.5h0M66.8 59.8h0M73.6 57.4h0M70.7 59.4h0M124.4 59.7h0M80.8 65.5h0M79.7 67.1h0M127.6 62.9h0M107.9 57.2h0M70.6 77.0h0M107.5 60.1h0M109.1 53.8h0M55.5 83.9h0M66.5 66.2h0M57.4 59.9h0M151.6 58.8h0M66.2 64.5h0M79.2 52.2h0M85.9 52.4h0M129.3 58.9h0M64.9 77.8h0M95.9 62.7h0M128.6 68.3h0M97.4 61.2h0M126.8 59.8h0M56.9 67.9h0M58.5 69.4h0M86.3 59.8h0M146.8 61.8h0M131.1 69.7h0M207.1 56.7h0M158.5 53.4h0M133.3 61.4h0M112.3 53.0h0M80.1 57.6h0M165.3 53.1h0M106.7 58.1h0M95.5 62.7h0M67.7 57.9h0M138.3 60.9h0M63.9 55.4h0M112.0 53.6h0M121.5 60.6h0M93.9 57.9h0M111.1 56.4h0M50.9 114.4h0M110.2 53.9h0M64.2 71.7h0M117.8 64.2h0M158.5 54.8h0M54.1 56.4h0M107.5 72.1h0M72.5 66.6h0M85.8 55.9h0M166.0 62.9h0M179.4 56.8h0M109.5 62.1h0M122.0 68.4h0M95.0 58.1h0M124.0 56.0h0M59.6 54.0h0M157.1 55.1h0M108.7 55.9h0M96.6 77.8h0M168.5 57.3h0M128.0 54.0h0M94.6 57.2h0M60.6 68.0h0M137.6 60.2h0M129.1 65.0h0M98.2 57.3h0M66.0 64.3h0M84.6 50.4h0M100.6 71.8h0M152.4 59.8h0M65.4 57.6h0M129.0 70.5h0M130.5 40.5h0M78.4 76.2h0M103.5 69.9h0M85.4 78.9h0M96.2 59.6h0M69.5 88.3h0M53.9 70.6h0M68.6 63.2h0M69.1 62.4h0M50.9 100.0h0M85.1 70.3h0M79.1 72.1h0M158.5 50.4h0M100.1 59.6h0M77.4 57.9h0M101.1 57.7h0M102.3 68.8h0M56.0 67.9h0M64.6 52.6h0M92.9 47.0h0M113.4 50.1h0M76.1 58.5h0M63.6 64.6h0M76.7 88.4h0M169.3 56.8h0M65.1 47.8h0M54.9 60.8h0M60.6 69.1h0M99.2 53.8h0M71.3 63.5h0M173.0 51.9h0M127.8 64.5h0M55.6 70.7h0M75.1 55.7h0M85.9 82.2h0M67.6 56.4h0M92.8 55.4h0M74.2 71.9h0M83.9 48.6h0M55.9 80.0h0M76.4 61.0h0M67.8 53.0h0M97.2 55.2h0M132.4 54.5h0M80.4 76.5h0M128.1 57.9h0M152.7 53.1h0M117.4 65.6h0M122.5 56.8h0M175.0 74.2h0M132.0 81.7h0M144.6 60.7h0M113.0 39.8h0"/><path d="M101.1 70.4h0M66.7 56.4h0M66.0 61.4h0M100.3 63.6h0M104.8 54.0h0M192.5 53.0h0M93.2 52.1h0M153.5 70.4h0M106.1 60.1h0M172.0 52.7h0M98.1 54.5h0M127.7 65.4h0M81.9 59.7h0M59.4 63.4h0M77.9 56.0h0M64.7 60.9h0M131.4 54.6h0M155.7 58.3h0M70.6 65.0h0M74.9 67.0h0M51.0 93.5h0M74.8 54.4h0M80.8 51.8h0M150.8 63.6h0M100.0 69.9h0M80.2 58.6h0M99.1 73.5h0M92.4 54.0h0M99.8 59.9h0M78.4 58.2h0M121.3 55.4h0M65.6 64.1h0M87.2 70.2h0M68.7 51.4h0M189.2 60.7h0M50.7 74.9h0M59.0 68.5h0M81.7 63.7h0M108.8 64.3h0M61.4 74.6h0M96.0 64.5h0M51.0 96.5h0M87.9 57.4h0M62.7 60.4h0M70.1 61.8h0M136.8 41.5h0M97.3 58.8h0M82.7 64.8h0M120.7 84.2h0M95.9 61.4h0M93.0 53.0h0M71.6 66.7h0M68.8 56.7h0M92.1 55.6h0M68.5 58.0h0M93.5 57.4h0M77.3 58.1h0M168.9 63.3h0M127.7 53.2h0M108.3 52.0h0M125.8 52.8h0M50.9 79.0h0M53.7 66.8h0M55.8 62.5h0M72.9 73.3h0M148.6 55.2h0M61.8 63.9h0M117.6 70.3h0M65.3 63.6h0M131.6 53.0h0M223.7 61.7h0M65.3 62.8h0M97.5 61.4h0M99.3 58.3h0M101.1 55.6h0M124.8 61.8h0M64.8 62.0h0M169.6 37.3h0M84.5 67.6h0M118.3 56.7h0M100.9 69.5h0M80.4 55.1h0M109.1 75.4h0M97.7 61.9h0M80.0 63.3h0M181.6 60.7h0M61.1 64.5h0M88.0 54.9h0M93.6 66.5h0M71.1 61.1h0M60.6 57.4h0M107.2 62.6h0M56.9 90.5h0M60.5 61.0h0M69.9 53.2h0M82.6 61.8h0M94.7 64.1h0M50.7 106.8h0M100.3 57.9h0M91.8 54.6h0M95.2 63.8h0M93.9 55.5h0M53.3 62.5h0M77.1 61.8h0M198.5 61.8h0M66.1 59.7h0M88.4 52.2h0M78.9 62.0h0M56.1 71.8h0M118.8 71.0h0M80.8 50.6h0M65.3 61.2h0M56.3 46.2h0M64.7 66.7h0M238.8 68.9h0M160.6 52.2h0M98.1 61.0h0M126.0 43.0h0M194.1 57.5h0M90.2 71.0h0M65.6 58.3h0M104.1 82.1h0M103.2 60.8h0M188.6 52.4h0M145.9 56.8h0M55.5 61.3h0M68.2 66.3h0M54.8 58.8h0M114.6 55.9h0M244.4 72.6h0M76.9 55.5h0M66.4 55.8h0M87.8 40.8h0M71.3 81.0h0M90.1 61.1h0M53.3 76.0h0M87.6 61.5h0M77.8 66.4h0M163.9 59.5h0M66.9 53.1h0M122.8 59.9h0M58.1 80.3h0M73.0 65.0h0M55.7 60.6h0M83.5 60.2h0M106.6 49.7h0M61.8 54.7h0M97.6 57.8h0M111.1 78.5h0M75.6 67.2h0M88.2 52.0h0M186.4 65.2h0M161.5 51.1h0M88.3 58.6h0M81.9 64.8h0M108.7 49.3h0M98.9 60.3h0M51.2 109.6h0M58.5 78.4h0M89.8 58.1h0M225.5 64.2h0M112.5 66.3h0M51.1 73.3h0M75.9 69.6h0M76.7 80.7h0M110.2 57.3h0M144.2 61.3h0M126.7 75.6h0M86.2 51.8h0M81.9 58.0h0M112.0 59.7h0M91.3 64.8h0M58.4 68.4h0M72.8 72.2h0M57.9 62.9h0M94.9 49.2h0M54.0 79.3h0M104.4 45.7h0M187.4 58.1h0M102.3 52.5h0M126.7 79.6h0M143.2 73.4h0M144.2 59.1h0M71.2 65.1h0M98.1 55.9h0M116.3 58.8h0M65.3 58.0h0M149.1 80.8h0M210.6 57.7h0M159.2 76.5h0M92.9 54.9h0M158.6 81.6h0M129.0 53.2h0M114.7 49.0h0M126.9 58.8h0M86.1 64.8h0M110.8 53.0h0M118.8 55.2h0M91.9 50.6h0M96.3 59.4h0M116.6 60.6h0M91.6 81.9h0M72.4 56.0h0M72.0 61.1h0M191.8 62.5h0M91.7 57.1h0M88.3 58.1h0M73.5 88.6h0M111.6 58.7h0M208.4 62.0h0M92.2 55.5h0M104.1 55.9h0M61.2 65.9h0M107.0 41.2h0M89.1 63.8h0M201.0 58.0h0M135.9 60.8h0M116.8 89.6h0M53.7 60.5h0M76.9 59.7h0M109.9 56.1h0M119.3 58.6h0M136.2 56.9h0M115.3 50.3h0M62.8 66.9h0M78.4 58.6h0M71.5 66.3h0M64.8 58.1h0M122.8 70.9h0M65.8 59.9h0M51.0 78.9h0M201.0 54.9h0M107.7 59.1h0M105.3 53.7h0M156.9 55.6h0M56.4 80.1h0M65.0 78.6h0M67.9 61.2h0M65.5 54.7h0M117.2 65.2h0M89.4 63.6h0M201.7 57.6h0M82.7 50.1h0M92.3 57.9h0M95.2 58.8h0M56.8 56.5h0M123.6 64.3h0M91.6 65.2h0M210.0 59.6h0M140.7 60.5h0M83.4 38.2h0M75.2 62.1h0M59.0 74.9h0M95.4 77.8h0M71.7 63.9h0M169.9 64.6h0M218.6 54.6h0M118.7 60.2h0M64.7 60.8h0M51.3 61.0h0M62.7 63.6h0M64.9 56.2h0M161.1 53.8h0M60.9 63.1h0M97.5 50.3h0M71.4 65.1h0M142.4 54.9h0M60.1 65.7h0M90.1 65.8h0M84.3 46.5h0M169.9 41.1h0M108.1 73.3h0M62.8 66.0h0M50.8 57.5h0M149.6 54.6h0M59.8 98.6h0M57.7 74.1h0M98.0 55.1h0M152.8 59.9h0M76.9 64.3h0M74.7 60.8h0M50.9 104.1h0M76.3 55.4h0M134.1 55.0h0M63.9 66.6h0M71.2 65.7h0M99.6 56.6h0M56.5 58.1h0M79.4 61.3h0M78.0 79.4h0M124.9 38.9h0M91.3 57.3h0M105.2 62.8h0M92.0 59.2h0M230.4 41.7h0M123.8 60.0h0M82.1 57.3h0M50.8 73.6h0M105.5 65.7h0M61.1 44.3h0M127.1 54.4h0M61.7 64.0h0M61.2 75.9h0M72.3 58.0h0M136.7 69.5h0M144.8 69.5h0M112.2 71.9h0M97.2 45.2h0M68.8 51.2h0M120.3 51.6h0M98.5 73.8h0M95.4 57.4h0M101.6 53.9h0M79.7 66.3h0M110.3 61.3h0M94.7 56.6h0M98.1 60.5h0M177.8 49.7h0M77.0 64.6h0M95.5 57.5h0M71.8 61.9h0M91.6 47.4h0M150.5 61.3h0M173.2 71.8h0M104.0 55.1h0M118.9 58.3h0M77.0 61.9h0M89.2 51.6h0M136.1 55.8h0M87.3 50.2h0M88.3 57.7h0M56.1 59.6h0M106.0 61.5h0M54.9 71.2h0M82.1 66.4h0M88.5 57.0h0M60.9 54.5h0M119.5 52.1h0M65.6 63.1h0M92.7 78.3h0M84.1 60.7h0M86.9 64.3h0M75.0 60.1h0M101.4 53.1h0M96.8 76.9h0M116.3 54.9h0M119.6 64.3h0M117.6 59.9h0M159.4 58.7h0M67.5 69.0h0M93.3 61.2h0M99.0 57.7h0M105.9 56.5h0M90.4 43.7h0M92.9 56.5h0M50.9 86.5h0M104.6 78.5h0M109.2 65.1h0M54.9 80.4h0M103.7 64.1h0M60.7 56.1h0M147.0 67.0h0M54.4 94.4h0M63.6 61.2h0M162.9 45.3h0M62.0 56.6h0M117.1 70.5h0M218.6 40.8h0M72.8 56.3h0M63.9 68.1h0M90.0 69.2h0M83.9 68.5h0M88.0 54.4h0M103.0 57.4h0M91.4 66.6h0M207.3 58.2h0M117.8 65.0h0M128.2 72.9h0M156.6 65.4h0M121.0 56.2h0M86.7 60.5h0M180.7 59.6h0M199.4 60.9h0M70.0 65.0h0M51.2 83.9h0M63.7 64.2h0M65.4 58.1h0M143.9 59.3h0M91.2 54.5h0M92.5 60.2h0M84.8 52.0h0M74.0 91.0h0M64.8 56.5h0M92.9 67.0h0M71.5 61.2h0M90.1 57.8h0M59.1 75.1h0M116.9 55.1h0M94.5 82.5h0M76.9 60.8h0M145.3 50.8h0M55.8 70.0h0M101.2 60.2h0M94.6 49.5h0M71.7 63.6h0M99.2 61.0h0M153.4 65.2h0M147.8 62.9h0M53.7 68.5h0M78.8 63.1h0M92.0 58.3h0M67.4 76.8h0M119.3 56.1h0M86.9 60.1h0M54.1 63.0h0M121.9 54.1h0M114.2 60.1h0M99.8 65.9h0M79.8 57.9h0M155.5 54.6h0M71.1 63.0h0M93.0 88.4h0M169.3 48.2h0M94.8 55.0h0M53.3 58.7h0M84.0 59.0h0M85.8 50.9h0M68.8 61.0h0M110.3 72.1h0M116.7 74.8h0M146.8 54.4h0M70.5 57.3h0M51.0 83.5h0M116.3 56.5h0M95.0 58.0h0M54.5 67.9h0M51.0 105.9h0M177.6 65.8h0M68.9 62.8h0M143.4 66.3h0M113.1 63.7h0M171.7 58.8h0M99.4 56.7h0M95.3 65.6h0M107.5 60.6h0M222.0 57.4h0M78.2 79.0h0M116.8 54.1h0M67.9 65.9h0M116.0 63.5h0M110.3 48.3h0M115.3 56.8h0M73.6 53.0h0M97.0 55.7h0M96.9 57.0h0M83.8 57.6h0M120.4 60.5h0"/><path d="M109.5 63.4h0M198.0 68.4h0M105.9 54.6h0M148.9 67.3h0M120.4 66.7h0M70.7 69.5h0M121.7 71.3h0M71.7 58.2h0M56.5 75.6h0M80.3 53.3h0M179.9 56.3h0M113.6 51.2h0M105.3 64.6h0M196.0 57.7h0M72.7 62.3h0M98.6 56.9h0M82.5 63.6h0M66.5 64.3h0M77.8 64.2h0M66.8 71.4h0M90.4 64.0h0M79.5 56.8h0M69.3 54.6h0M55.4 70.9h0M63.6 65.7h0M84.2 54.1h0M105.0 60.1h0M55.5 66.5h0M208.9 81.4h0M85.3 59.4h0M57.0 44.4h0M90.9 60.2h0M98.3 50.1h0M220.5 75.1h0M170.8 71.1h0M98.4 65.4h0M103.7 49.2h0M140.1 54.2h0M159.3 58.0h0M74.8 60.0h0M62.8 63.4h0M60.6 71.8h0M81.6 48.5h0M97.2 58.9h0M106.3 64.1h0M135.1 52.1h0M97.1 74.3h0M97.9 66.1h0M100.3 64.7h0M73.2 61.7h0M68.3 58.5h0M81.7 57.4h0M56.9 49.2h0M69.3 56.0h0M73.3 60.7h0M143.7 60.2h0M70.7 58.8h0M113.7 59.8h0M127.3 60.2h0M114.4 63.9h0M143.7 55.2h0M116.0 62.2h0M72.1 53.6h0M104.7 58.3h0M63.2 63.5h0M50.7 80.0h0M112.7 67.6h0M100.9 60.1h0M93.1 55.0h0M96.8 53.6h0M50.9 58.6h0M105.8 63.5h0M99.8 51.4h0M71.1 49.6h0M143.8 54.9h0M51.0 116.6h0M114.4 45.9h0M50.9 70.6h0M108.7 67.8h0M61.1 65.7h0M69.7 61.2h0M121.6 55.5h0M108.2 71.2h0M60.3 88.1h0M62.9 66.7h0M53.5 62.0h0M68.6 73.8h0M130.3 60.1h0M158.9 58.0h0M50.8 93.4h0M78.3 40.7h0M78.4 59.1h0M73.9 56.5h0M122.9 63.9h0M193.8 45.1h0M76.2 84.8h0M138.9 47.9h0M114.6 58.3h0M174.1 57.2h0M108.3 45.8h0M170.9 51.8h0M62.6 70.5h0M60.7 93.0h0M52.6 75.8h0M113.8 63.3h0M96.4 68.2h0M116.9 53.5h0M56.9 84.9h0M214.8 65.8h0M86.5 40.3h0M65.6 68.5h0M104.2 52.2h0M72.0 66.9h0M81.7 60.9h0M69.3 60.0h0M78.7 60.1h0M60.1 60.8h0M123.7 69.4h0M93.8 59.2h0M104.0 75.0h0M162.3 52.9h0M62.5 62.1h0M115.9 56.7h0M55.7 70.6h0M120.9 59.0h0M138.0 59.3h0M152.8 69.6h0M52.5 68.6h0M90.9 57.0h0M97.5 66.8h0M89.7 60.4h0M187.0 60.2h0M123.0 66.3h0M94.2 65.3h0M67.9 57.8h0M113.2 54.9h0M69.2 64.3h0M88.5 54.0h0M187.9 57.1h0M107.9 70.4h0M86.8 62.5h0M61.4 62.2h0M93.0 61.2h0M74.1 70.3h0M93.2 79.3h0M70.6 59.2h0M124.9 50.7h0M125.5 61.3h0M106.4 68.5h0M55.5 61.6h0M96.5 54.5h0M98.4 70.7h0M154.9 58.3h0M65.2 60.5h0M88.7 65.0h0M79.6 58.3h0M71.8 67.3h0M91.5 68.2h0M65.3 63.6h0M113.7 59.9h0M80.8 70.7h0M62.4 59.2h0M66.2 61.6h0M140.7 52.9h0M126.9 57.2h0M53.0 61.1h0M149.9 54.2h0M202.9 66.0h0M57.5 71.7h0M68.3 66.1h0M121.5 56.4h0M91.5 64.1h0M61.0 67.2h0M181.3 59.4h0M87.1 63.3h0M114.2 63.8h0M104.4 68.2h0M89.5 64.6h0M73.5 60.7h0M117.3 66.3h0M80.4 58.8h0M167.9 50.4h0M91.4 48.4h0M81.1 77.1h0M93.4 52.0h0M146.8 53.9h0M88.3 55.7h0M65.9 62.3h0M127.9 64.0h0M92.2 66.9h0M69.9 51.6h0M194.0 59.7h0M166.3 55.9h0M120.3 61.0h0M139.1 69.0h0M125.9 52.3h0M82.2 62.9h0M98.1 61.5h0M71.9 55.8h0M111.1 58.4h0M66.9 74.2h0M55.4 58.0h0M145.8 69.3h0M56.8 59.2h0M50.8 76.1h0M72.5 63.3h0M93.1 60.4h0M137.5 64.2h0M113.6 56.7h0M226.0 59.8h0M107.5 46.8h0M94.6 54.4h0M108.9 77.9h0M78.8 53.0h0M83.9 47.2h0M70.6 67.2h0M65.0 68.0h0M70.1 63.6h0M242.4 45.3h0M58.8 61.8h0M120.1 86.2h0M115.3 53.6h0M75.4 62.8h0M145.4 65.8h0M190.6 59.0h0M70.5 51.0h0M75.0 56.5h0M119.8 68.0h0M72.5 64.4h0M93.9 58.6h0M65.2 66.0h0M75.4 63.3h0M67.1 62.0h0M98.2 61.8h0M140.2 69.2h0M86.2 55.2h0M85.4 54.9h0M85.8 43.5h0M81.0 56.8h0M78.1 60.7h0M63.0 61.8h0M100.6 55.6h0M94.2 56.4h0M92.4 61.3h0M98.1 73.9h0M70.8 45.1h0M163.2 59.3h0M70.7 58.9h0M126.5 74.8h0M128.0 59.9h0M91.5 59.2h0M69.4 53.7h0M112.9 78.9h0M136.9 45.4h0M94.3 64.6h0M93.9 66.3h0M60.1 78.8h0M84.9 52.9h0M128.5 59.2h0M77.6 57.4h0M62.3 57.2h0M95.5 80.1h0M53.8 64.1h0M62.3 63.6h0M109.5 55.4h0M75.9 50.0h0M110.8 50.8h0M51.1 70.8h0M100.0 57.9h0M90.2 69.2h0M152.0 55.6h0M99.7 72.3h0M195.5 47.3h0M85.3 63.4h0M63.8 66.3h0M70.2 59.9h0M66.8 59.4h0M168.8 62.0h0M75.5 60.1h0M67.5 72.6h0M70.6 59.5h0M97.4 69.0h0M97.9 57.9h0M65.3 69.3h0M50.7 84.9h0M70.7 67.0h0M93.4 72.0h0M58.3 68.1h0M160.2 64.4h0M79.1 63.7h0M90.5 50.4h0M65.4 66.9h0M81.6 66.2h0M52.5 93.7h0M65.7 65.5h0M90.5 76.2h0M148.7 63.1h0M78.2 47.4h0M120.3 54.3h0M73.7 55.5h0M61.9 78.0h0M102.3 66.4h0M85.2 57.1h0M129.2 54.9h0M185.3 60.5h0M68.3 56.9h0M92.7 54.5h0M86.3 57.6h0M79.1 55.7h0M58.2 57.2h0M95.5 44.3h0M68.4 72.9h0M66.7 63.6h0M54.3 57.9h0M122.3 32.1h0M69.3 59.4h0M119.8 49.0h0M128.2 69.5h0M156.6 38.7h0M119.9 53.5h0M54.3 93.5h0M124.2 58.0h0M65.9 62.8h0M60.7 60.1h0M102.1 54.0h0M100.3 55.5h0M196.8 59.8h0M85.0 66.0h0M117.0 60.8h0M87.4 60.0h0M81.9 59.2h0M69.5 81.2h0M107.3 62.0h0M87.2 65.3h0M69.6 53.5h0M60.3 70.0h0M129.7 48.9h0M75.7 58.6h0M55.6 65.2h0M138.8 56.7h0M62.4 75.1h0M112.9 60.6h0M85.6 61.8h0M102.1 76.4h0M70.2 61.2h0M135.8 60.3h0M61.5 62.1h0M153.7 60.5h0M223.4 60.1h0M111.0 60.7h0M139.6 57.3h0M91.7 61.3h0M64.8 61.6h0M82.6 47.4h0M68.9 61.8h0M165.4 62.0h0M86.9 66.0h0M52.5 58.9h0M64.4 51.8h0M181.0 65.7h0M72.5 63.3h0M135.9 62.9h0M106.3 73.2h0M108.6 59.8h0M116.0 56.2h0M68.8 85.1h0M89.1 66.0h0M84.8 60.2h0M101.0 55.0h0M78.2 57.6h0M96.5 59.0h0M90.4 55.8h0M74.1 61.6h0M142.5 56.5h0M118.5 59.2h0M89.4 50.5h0M103.4 68.6h0M70.8 57.7h0M65.6 59.2h0M78.9 57.1h0M145.3 56.3h0M76.5 63.1h0M120.9 61.1h0M87.9 54.5h0M106.3 55.1h0M81.7 80.0h0M58.6 71.1h0M214.5 51.5h0M55.1 64.8h0M106.8 64.6h0M142.3 69.8h0M109.7 59.1h0M128.1 77.7h0M55.7 59.0h0M119.7 61.0h0M143.7 69.8h0M86.8 59.1h0M202.5 80.3h0M112.2 62.1h0M103.5 56.7h0M128.5 55.7h0M57.7 58.3h0M110.4 62.9h0M71.6 54.9h0M72.2 55.6h0M217.2 59.1h0M80.2 77.3h0M139.9 63.1h0M98.9 47.1h0M158.4 51.5h0M180.3 44.4h0M106.9 54.6h0M56.6 75.5h0M103.7 54.3h0M185.4 67.4h0M57.1 64.0h0M155.2 57.8h0M85.2 72.8h0M89.2 50.9h0M98.0 52.3h0M97.7 53.1h0M94.5 74.0h0M244.4 72.1h0M72.6 75.6h0M121.0 62.2h0M126.8 70.1h0M51.0 57.9h0M106.1 64.7h0M53.2 65.0h0M94.1 38.0h0M93.6 55.2h0M149.7 53.5h0M153.7 49.3h0M61.9 68.8h0M54.3 81.8h0M59.8 76.1h0M104.8 45.4h0M57.7 62.6h0M50.9 106.7h0M67.7 52.5h0M147.9 66.0h0M55.3 67.4h0M65.9 61.5h0M81.6 53.3h0M119.8 52.0h0M104.9 70.1h0M216.9 64.4h0M55.4 64.2h0M63.4 58.0h0M61.7 62.4h0M164.3 36.5h0M128.4 59.1h0M70.7 58.0h0M101.2 50.6h0M68.6 68.0h0M82.8 59.3h0M70.7 65.0h0"/><path d="M97.2 62.8h0M64.6 53.2h0M79.0 58.5h0M137.4 53.0h0M79.9 64.0h0M66.2 61.1h0M70.9 58.2h0M104.3 63.8h0M94.0 52.7h0M64.5 64.5h0M82.8 59.5h0M108.6 74.5h0M100.0 61.3h0M83.8 52.6h0M181.2 74.5h0M78.1 64.0h0M72.6 65.7h0M107.0 55.8h0M81.2 57.8h0M159.9 63.2h0M61.7 84.5h0M70.5 54.8h0M104.1 65.1h0M127.3 61.8h0M111.3 60.7h0M169.7 55.3h0M54.3 53.1h0M80.5 79.2h0M55.2 82.3h0M83.8 53.9h0M51.0 98.5h0M143.6 53.3h0M161.8 57.4h0M90.3 68.6h0M69.7 55.8h0M72.0 55.7h0M158.1 61.8h0M72.6 58.6h0M83.5 60.8h0M120.9 52.2h0M81.0 61.8h0M102.5 59.2h0M126.7 48.0h0M51.2 71.2h0M125.7 63.2h0M120.6 82.5h0M108.2 87.1h0M149.0 70.6h0M58.3 66.4h0M117.8 54.6h0M61.2 63.9h0M63.7 65.0h0M86.3 62.9h0M65.4 62.2h0M155.9 57.0h0M80.6 67.9h0M136.4 59.5h0M92.1 55.1h0M164.3 47.5h0M82.9 67.7h0M84.2 58.2h0M64.0 70.7h0M85.8 79.5h0M74.3 57.1h0M116.8 61.2h0M105.4 55.5h0M57.5 62.4h0M157.6 62.5h0M99.6 59.9h0M123.4 59.6h0M76.7 63.2h0M50.9 76.8h0M116.5 62.0h0M53.2 69.4h0M172.7 62.2h0M137.7 64.5h0M85.8 67.2h0M239.9 109.9h0M79.7 62.8h0M101.6 71.2h0M128.7 51.5h0M59.8 56.8h0M73.6 49.1h0M51.0 86.3h0M158.8 82.9h0M153.1 55.6h0M95.3 66.0h0M133.6 72.8h0M70.9 55.0h0M56.9 63.6h0M86.2 63.3h0M95.1 60.9h0M90.5 66.1h0M67.3 58.7h0M131.8 74.4h0M100.0 59.5h0M134.6 59.3h0M112.4 57.0h0M62.3 61.1h0M117.9 49.8h0M150.9 59.3h0M136.3 56.3h0M105.6 51.9h0M102.3 62.1h0M117.6 54.0h0M57.4 69.5h0M53.5 67.7h0M91.2 54.8h0M111.5 72.9h0M78.0 52.8h0M55.8 76.2h0M181.5 76.7h0M89.7 66.9h0M63.8 61.4h0M96.8 76.6h0M109.7 56.2h0M134.0 55.3h0M99.0 65.3h0M68.7 60.5h0M224.8 60.6h0M143.8 56.6h0M227.9 59.8h0M150.7 54.8h0M62.2 88.7h0M69.8 50.8h0M87.6 65.0h0M113.0 58.2h0M87.3 63.3h0M101.0 76.9h0M66.1 63.3h0M50.9 79.7h0M80.3 66.3h0M83.6 58.4h0M128.7 38.1h0M113.0 59.1h0M157.9 58.1h0M110.2 58.2h0M103.1 52.4h0M64.6 67.8h0M64.7 73.1h0M59.1 60.3h0M67.1 67.9h0M173.3 50.9h0M96.9 55.3h0M86.4 53.0h0M92.5 69.1h0M65.2 66.8h0M145.5 57.1h0M88.1 62.3h0M75.1 57.8h0M154.4 76.0h0M60.9 61.9h0M77.8 74.9h0M54.2 47.4h0M109.8 46.5h0M76.8 63.2h0M96.0 55.9h0M132.3 58.1h0M65.1 59.7h0M50.8 59.3h0M83.0 59.0h0M116.2 70.7h0M113.8 64.0h0M171.9 57.5h0M101.6 59.6h0M91.5 65.3h0M87.4 65.5h0M70.1 58.2h0M101.0 59.8h0M78.6 75.1h0M176.6 59.7h0M100.3 57.3h0M129.5 71.8h0M163.9 71.7h0M110.5 48.1h0M89.6 57.3h0M133.3 45.8h0M89.3 48.0h0M91.1 52.5h0M150.7 51.3h0M85.6 67.1h0M50.8 112.0h0M68.9 53.0h0M78.5 50.1h0M103.5 60.2h0M64.3 81.6h0M102.8 49.8h0M72.9 60.9h0M216.0 76.9h0M71.1 73.9h0M67.3 60.4h0M58.3 69.9h0M73.6 65.2h0M71.8 64.8h0M54.8 68.3h0M53.8 65.5h0M61.0 58.8h0M108.3 62.8h0M86.3 46.9h0M82.8 57.8h0M127.5 48.3h0M86.8 51.9h0M94.9 62.5h0M60.4 66.1h0M84.7 45.5h0M58.7 86.1h0M74.4 74.2h0M98.3 71.4h0M91.5 61.3h0M214.4 62.8h0M85.0 55.0h0M77.9 70.4h0M139.0 55.6h0M103.6 49.0h0M84.7 58.2h0M71.2 62.8h0M120.9 73.8h0M74.9 63.2h0M132.0 60.5h0M60.3 62.9h0M146.6 53.0h0M56.3 62.2h0M104.2 62.5h0M76.6 52.9h0M92.3 55.4h0M121.1 63.3h0M72.7 57.1h0M110.5 56.0h0M89.1 68.0h0M98.6 49.9h0M90.8 55.7h0M66.9 46.7h0M117.1 68.9h0M72.0 64.3h0M94.1 75.3h0M94.1 59.7h0M90.8 54.1h0M81.8 73.0h0M126.0 50.5h0M159.1 59.9h0M136.8 63.1h0M75.6 72.6h0M72.6 62.7h0M103.2 58.5h0M121.7 53.6h0M78.7 60.0h0M51.2 88.8h0M50.8 87.4h0M117.8 51.7h0M51.0 91.3h0M109.3 53.6h0M80.5 55.4h0M104.4 49.6h0M99.2 65.0h0M75.8 66.5h0M79.8 59.1h0M174.7 61.4h0M155.4 56.2h0M134.4 63.6h0M72.6 57.7h0M72.8 41.1h0M198.6 79.9h0M63.2 63.1h0M79.1 76.1h0M94.1 65.8h0M65.2 68.6h0M73.5 59.2h0M59.0 56.9h0M103.8 32.1h0M63.5 50.8h0M95.0 87.9h0M101.9 50.8h0M177.4 59.8h0M90.8 83.9h0M56.1 58.2h0M187.7 58.6h0M133.9 51.0h0M167.9 68.0h0M86.7 63.5h0M93.0 59.5h0M79.7 54.7h0M69.3 62.5h0M64.3 65.5h0M56.6 74.5h0M104.9 53.3h0M80.3 82.5h0M82.1 52.8h0M95.6 76.2h0M118.5 61.7h0M234.5 61.8h0M64.7 75.8h0M80.8 60.5h0M84.0 60.6h0M65.6 67.2h0M147.0 59.8h0M87.6 58.0h0M90.7 59.2h0M86.4 41.2h0M194.6 54.5h0M69.3 57.0h0M182.4 46.9h0M88.9 75.6h0M85.7 54.1h0M99.6 50.0h0M100.5 54.8h0M135.7 58.4h0M128.7 65.7h0M97.7 47.8h0M69.1 66.3h0M63.8 54.4h0M189.9 51.1h0M76.1 62.3h0M112.4 68.6h0M140.3 83.5h0M101.0 45.3h0M60.8 57.2h0M71.2 64.1h0M61.4 59.7h0M115.6 71.8h0M100.6 51.0h0M97.1 56.5h0M245.5 61.8h0M133.9 62.4h0M63.9 62.5h0M82.8 61.8h0M76.9 57.3h0M59.3 58.6h0M51.0 88.2h0M70.2 82.3h0M81.2 54.4h0M69.3 56.3h0M94.3 58.0h0M53.7 53.3h0M127.1 55.8h0M66.8 58.2h0M106.7 66.6h0M71.7 69.4h0M53.8 67.8h0M115.0 50.9h0M226.3 62.5h0M114.8 70.7h0M99.7 58.7h0M87.0 57.0h0M66.8 51.8h0M61.0 63.7h0M78.4 55.4h0M84.8 58.8h0M56.8 65.4h0M170.1 63.1h0M69.6 83.8h0M144.6 64.4h0M70.2 69.1h0M76.9 59.9h0M75.0 69.2h0M116.6 56.3h0M78.1 53.4h0M67.0 57.6h0M58.2 75.9h0M78.3 61.8h0M59.7 68.5h0M155.3 62.8h0M66.2 64.7h0M87.1 55.1h0M51.0 72.1h0M57.6 77.9h0M104.0 52.7h0M65.0 56.7h0M89.3 73.5h0M101.0 54.9h0M76.8 56.5h0M55.2 67.1h0M64.0 58.8h0M105.9 46.6h0M67.2 55.9h0M105.8 65.0h0M55.2 61.5h0M116.7 67.4h0M77.7 83.8h0M121.4 54.6h0M69.7 65.5h0M50.9 63.9h0M63.3 61.5h0M145.2 54.4h0M79.7 67.1h0M57.3 59.4h0M102.4 66.9h0M68.2 56.8h0M72.3 41.5h0M72.0 50.7h0M138.3 61.0h0M76.9 37.1h0M69.4 58.0h0M57.7 57.6h0M59.0 72.8h0M121.5 56.1h0M137.5 60.7h0M131.2 57.6h0M78.4 64.3h0M104.5 63.7h0M86.8 53.5h0M91.0 65.4h0M127.5 70.0h0M123.1 48.0h0M91.8 48.8h0M87.3 67.7h0M103.9 64.3h0M96.6 87.8h0M74.3 54.1h0M81.2 83.9h0M72.5 54.2h0M88.7 63.4h0M143.2 60.9h0M80.8 54.3h0M119.2 57.6h0M84.8 62.2h0M153.9 54.7h0M110.6 52.6h0M75.6 51.2h0M57.6 43.8h0M90.1 52.8h0M71.0 62.2h0M175.8 58.3h0M95.1 56.6h0M130.7 59.6h0M50.8 91.3h0M98.4 51.7h0M147.6 64.3h0M86.4 57.3h0M134.0 80.9h0M79.1 78.8h0M144.5 58.1h0M111.7 56.1h0M76.1 53.8h0M157.9 60.8h0M61.6 56.6h0M90.6 64.1h0M78.9 71.7h0M77.2 65.9h0M67.2 56.3h0M63.2 60.8h0M155.3 58.3h0M88.2 56.8h0M50.9 110.3h0M88.3 67.0h0M81.9 59.6h0M95.8 51.2h0M242.8 66.0h0M113.1 56.2h0M59.8 54.1h0M91.7 68.7h0M108.4 57.2h0M132.3 83.3h0M73.6 66.2h0M100.7 55.9h0M165.3 55.4h0M91.6 51.8h0"/><path d="M73.0 58.4h0M113.6 59.9h0M65.3 86.9h0M63.7 53.9h0M76.4 62.6h0M59.5 65.8h0M102.0 59.5h0M76.9 47.5h0M81.5 52.3h0M69.1 62.3h0M59.5 77.2h0M145.9 63.4h0M103.5 60.3h0M69.2 54.9h0M115.6 65.2h0M93.9 58.6h0M123.1 67.0h0M81.1 60.1h0M84.0 60.7h0M98.9 56.2h0M196.1 42.3h0M104.6 64.7h0M56.9 64.7h0M68.8 61.8h0M65.1 68.4h0M73.0 62.0h0M93.4 54.6h0M123.6 56.8h0M174.0 59.5h0M79.9 60.2h0M89.0 61.4h0M63.2 65.0h0M181.5 62.5h0M72.7 49.3h0M125.9 51.3h0M149.8 54.4h0M81.5 56.4h0M55.0 81.2h0M113.1 37.4h0M69.3 62.6h0M86.6 65.2h0M59.7 57.9h0M54.2 91.8h0M96.5 52.4h0M88.9 58.7h0M145.0 57.8h0M50.9 50.7h0M88.9 81.8h0M96.9 53.0h0M74.3 65.5h0M62.5 65.0h0M132.7 56.8h0M67.4 67.4h0M70.7 56.0h0M58.2 65.3h0M127.4 75.4h0M91.1 57.9h0M61.0 69.6h0M178.8 69.7h0M111.2 84.2h0M88.8 56.8h0M146.9 53.1h0M62.6 54.6h0M132.9 67.9h0M242.8 55.2h0M66.3 65.0h0M67.2 68.4h0M76.3 64.2h0M115.9 57.9h0M89.5 56.2h0M97.6 63.9h0M69.8 52.6h0M114.7 65.9h0M90.1 56.8h0M121.1 70.0h0M65.7 65.2h0M120.9 63.3h0M74.7 56.7h0M70.8 65.1h0M115.6 59.8h0M95.5 82.6h0M71.5 58.5h0M66.5 59.1h0M192.9 61.6h0M125.9 63.0h0M86.7 62.7h0M59.0 80.8h0M56.6 74.6h0M85.1 58.9h0M108.2 50.7h0M63.9 65.9h0M94.0 52.0h0M112.8 63.9h0M102.2 58.4h0M122.2 72.6h0M104.7 58.8h0M152.0 51.1h0M152.2 57.2h0M66.1 54.6h0M53.1 91.5h0M108.2 65.4h0M122.7 61.2h0M142.8 60.8h0M115.5 66.9h0M152.5 56.6h0M78.0 67.8h0M64.3 75.4h0M99.7 56.0h0M56.7 66.5h0M123.9 87.5h0M50.8 74.9h0M139.8 46.1h0M69.0 58.9h0M80.3 62.7h0M81.6 58.0h0M126.8 62.6h0M219.8 56.4h0M57.8 83.7h0M84.5 65.5h0M127.5 63.0h0M53.4 67.1h0M83.2 67.0h0M98.3 51.3h0M155.9 68.5h0M101.9 70.7h0M131.5 66.6h0M76.6 50.6h0M123.9 59.7h0M115.3 74.9h0M71.7 84.1h0M108.8 59.9h0M143.2 61.6h0M79.2 61.1h0M89.0 52.7h0M92.1 42.5h0M89.1 63.7h0M137.2 73.9h0M72.0 66.7h0M66.5 57.6h0M92.8 71.2h0M78.4 53.5h0M76.7 65.4h0M132.9 63.5h0M60.6 65.2h0M95.0 58.3h0M139.3 66.8h0M105.8 51.6h0M87.8 53.8h0M77.8 61.0h0M55.3 55.8h0M149.5 54.1h0M57.7 68.1h0M98.5 54.0h0M60.6 57.5h0M69.0 65.2h0M217.1 60.5h0M62.2 61.6h0M72.2 71.2h0M113.9 63.8h0M183.0 61.2h0M94.9 69.4h0M146.8 55.5h0M130.1 58.0h0M109.9 49.3h0M121.3 50.2h0M101.5 52.3h0M55.5 56.9h0M50.9 61.6h0M98.4 72.7h0M95.5 53.7h0M133.3 66.6h0M66.5 62.8h0M191.9 59.9h0M158.3 69.3h0M112.4 56.7h0M90.1 52.4h0M62.4 60.4h0M86.8 63.3h0M126.9 58.8h0M88.4 61.1h0M62.0 61.8h0M109.4 58.2h0M51.2 78.8h0M98.0 55.2h0M90.8 43.9h0M64.9 56.5h0M78.3 54.4h0M53.8 88.2h0M55.8 64.5h0M100.2 64.1h0M105.4 64.3h0M153.7 57.4h0M50.9 113.4h0M57.6 69.5h0M121.8 52.5h0M70.5 52.5h0M66.5 64.7h0M130.0 43.1h0M78.4 68.7h0M106.8 67.5h0M162.2 64.7h0M200.0 53.2h0M91.9 65.3h0M232.6 39.2h0M61.3 69.3h0M159.1 49.1h0M90.8 49.2h0M63.4 55.5h0M74.7 66.2h0M58.8 50.3h0M79.6 59.8h0M154.0 59.8h0M88.4 51.4h0M65.5 58.8h0M80.3 51.2h0M117.3 56.6h0M123.2 58.4h0M187.4 60.1h0M57.9 76.3h0M83.7 63.9h0M147.5 51.3h0M110.5 65.0h0M100.9 54.6h0M80.8 71.1h0M81.8 50.3h0M104.0 59.3h0M76.8 63.5h0M98.3 61.3h0M95.6 59.4h0M61.6 64.9h0M78.9 67.3h0M76.6 66.0h0M171.9 46.5h0M82.3 57.6h0M58.0 66.9h0M81.4 67.0h0M75.6 53.2h0M150.2 54.6h0M71.3 62.4h0M107.4 55.9h0M89.3 54.7h0M154.0 69.0h0M129.4 59.9h0M121.4 63.1h0M123.0 52.1h0M65.5 60.6h0M56.6 68.4h0M77.8 53.0h0M68.7 70.9h0M108.4 52.8h0M96.6 60.9h0M66.6 58.5h0M88.7 57.2h0M98.7 74.4h0M110.8 66.2h0M64.1 70.2h0M70.2 73.9h0M131.2 74.5h0M97.7 50.7h0M66.9 72.7h0M68.7 52.6h0M77.3 56.6h0M91.0 59.1h0M110.3 49.7h0M79.7 62.9h0M126.4 66.0h0M75.4 55.0h0M69.2 57.6h0M92.5 65.9h0M158.6 60.1h0M115.6 67.0h0M141.0 55.8h0M69.2 53.4h0M82.7 52.1h0M153.0 65.4h0M171.3 49.4h0M55.1 55.4h0M59.8 68.0h0M91.0 53.1h0M184.8 75.4h0M101.8 55.6h0M95.4 60.1h0M85.8 70.1h0M81.4 72.9h0M68.5 68.2h0M72.3 73.8h0M56.3 75.0h0M120.0 55.2h0M65.1 54.1h0M67.6 56.6h0M141.5 46.3h0M105.7 43.9h0M55.0 86.1h0M137.5 61.2h0M86.9 60.2h0M140.6 62.3h0M114.7 65.0h0M69.8 69.3h0M65.0 74.3h0M160.1 63.9h0M106.9 52.6h0M71.6 55.8h0M95.5 65.9h0M89.0 57.4h0M109.4 68.7h0M144.6 65.6h0M134.7 80.4h0M58.0 63.3h0M76.2 63.3h0M86.7 59.5h0M136.6 62.8h0M82.7 46.8h0M55.4 81.7h0M92.7 56.2h0M62.1 65.2h0M120.5 54.8h0M71.3 64.6h0M60.7 60.3h0M105.9 55.0h0M74.1 63.0h0M91.9 60.5h0M107.3 55.9h0M104.1 67.6h0M73.0 54.1h0M61.3 61.4h0M60.5 67.0h0M129.5 73.6h0M55.5 73.1h0M53.6 62.1h0M66.2 58.4h0M74.7 63.3h0M67.5 65.9h0M166.9 59.4h0M165.6 84.4h0M59.8 86.8h0M98.6 52.4h0M56.2 84.7h0M94.2 59.8h0M94.6 49.0h0M108.7 57.2h0M55.5 69.1h0M210.0 63.3h0M91.5 77.8h0M120.4 60.2h0M77.7 56.6h0M50.9 71.3h0M77.9 61.4h0M76.1 75.5h0M61.9 65.6h0M73.7 65.0h0M77.8 55.5h0M73.6 55.1h0M87.0 58.2h0M85.1 55.8h0M73.7 57.3h0M58.3 73.2h0M64.5 70.3h0M115.9 55.9h0M140.2 60.3h0M60.3 72.8h0M180.8 67.8h0M89.5 67.0h0M129.4 66.1h0M131.4 64.9h0M70.5 54.1h0M59.0 59.9h0M89.1 62.3h0M103.9 53.6h0M70.3 58.1h0M105.1 54.8h0M61.2 70.0h0M119.7 51.5h0M81.5 78.7h0M132.8 69.3h0M70.9 55.4h0M50.8 61.2h0M126.3 51.1h0M84.2 55.7h0M91.9 48.3h0M88.4 45.5h0M82.9 59.4h0M90.2 60.2h0M76.7 68.4h0M50.8 81.3h0M86.0 67.8h0M126.5 56.5h0M72.2 41.0h0M92.7 66.8h0M112.9 58.7h0M147.9 67.9h0M109.2 49.9h0M73.7 58.3h0M85.1 69.3h0M143.2 60.9h0M64.1 65.8h0M128.6 73.1h0M125.6 56.6h0M66.2 63.7h0M115.6 48.0h0M150.5 71.4h0M60.1 71.1h0M133.4 59.9h0M70.9 56.6h0M166.8 62.7h0M67.9 61.8h0M70.5 59.8h0M81.1 71.4h0M53.7 63.4h0M245.2 58.4h0M56.7 65.1h0M56.7 65.2h0M166.2 66.4h0M55.3 65.1h0M92.4 53.0h0M102.8 54.9h0M104.6 58.6h0M58.5 69.1h0M104.2 61.2h0M66.8 61.9h0M90.3 59.1h0M77.6 55.5h0M130.2 68.9h0M66.2 61.3h0M98.8 59.3h0M77.2 57.6h0M66.7 66.9h0M86.0 63.5h0M67.5 69.5h0M81.0 53.6h0M70.7 61.9h0M100.1 52.1h0M69.6 62.0h0M208.5 54.7h0M58.1 59.9h0M103.4 56.8h0M88.7 63.4h0M77.2 57.9h0M53.8 81.6h0M91.3 67.3h0M92.4 57.7h0M102.8 56.2h0M98.6 85.7h0M122.4 57.6h0M82.0 62.7h0M71.9 58.5h0M172.5 64.3h0M77.1 58.1h0M128.7 49.5h0M153.7 59.5h0M86.7 43.6h0M74.0 61.3h0M68.2 61.1h0M56.2 83.5h0M128.5 80.6h0M179.1 67.6h0M50.9 75.0h0"/><path d="M151.3 59.3h0M50.7 61.2h0M190.0 52.7h0M76.3 63.7h0M82.0 88.4h0M50.9 118.0h0M150.4 61.6h0M176.0 28.0h0M56.8 52.4h0M59.0 59.7h0M61.7 67.2h0M119.2 57.2h0M82.9 61.8h0M68.0 62.3h0M78.0 75.8h0M67.9 64.0h0M84.6 59.5h0M110.2 57.8h0M124.6 60.6h0M211.7 63.6h0M53.7 77.5h0M118.0 61.2h0M114.0 75.6h0M147.1 55.7h0M112.9 76.7h0M130.9 67.2h0M104.7 51.7h0M96.0 54.6h0M59.2 59.3h0M92.6 56.4h0M57.3 86.2h0M77.9 60.4h0M149.8 65.1h0M51.0 67.9h0M84.0 59.5h0M109.4 65.0h0M82.4 54.0h0M67.2 60.0h0M136.3 65.7h0M113.3 62.8h0M167.6 66.0h0M51.1 110.3h0M81.3 48.8h0M76.0 54.8h0M127.6 58.6h0M189.7 54.7h0M88.8 57.2h0M72.9 62.0h0M102.2 56.7h0M79.9 55.2h0M193.3 66.2h0M60.1 61.2h0M64.9 53.1h0M95.7 60.2h0M68.6 55.5h0M198.9 46.6h0M64.2 55.2h0M106.1 57.2h0M135.6 66.5h0M79.0 63.8h0M94.1 60.4h0M68.8 58.8h0M70.1 59.7h0M119.1 51.2h0M113.5 59.3h0M59.8 63.3h0M57.5 61.4h0M92.5 55.7h0M58.2 79.0h0M182.0 51.8h0M75.9 51.5h0M147.7 54.2h0M90.4 32.5h0M149.1 59.7h0M62.7 57.7h0M68.6 63.4h0M127.4 55.3h0M68.2 66.3h0M81.9 59.3h0M89.4 58.0h0M66.9 60.8h0M63.5 64.5h0M81.7 49.7h0M94.2 65.5h0M96.0 52.7h0M110.3 53.2h0M137.6 61.9h0M113.0 54.4h0M67.8 59.8h0M106.7 64.5h0M243.2 64.7h0M159.7 40.5h0M125.1 56.8h0M84.5 51.3h0M133.9 55.4h0M75.5 68.2h0M106.0 55.3h0M63.8 59.6h0M65.7 60.5h0M137.5 72.5h0M65.4 61.3h0M73.3 52.4h0M64.2 79.2h0M70.1 63.3h0M65.0 57.4h0M69.5 64.7h0M217.9 64.4h0M67.0 56.1h0M88.8 74.6h0M50.8 63.7h0M53.7 56.1h0M102.0 67.2h0M80.1 61.4h0M57.1 66.7h0M64.0 76.5h0M112.1 53.6h0M67.0 67.6h0M98.4 43.7h0M107.1 57.6h0M127.0 61.6h0M59.8 66.0h0M69.5 61.4h0M69.0 61.2h0M161.1 52.3h0M232.1 42.2h0M152.4 59.6h0M107.2 71.0h0M66.9 61.8h0M121.3 62.4h0M57.8 65.3h0M78.8 64.9h0M80.2 65.3h0M73.8 61.1h0M131.4 53.6h0M82.5 65.6h0M111.3 51.1h0M119.0 49.7h0M88.2 64.0h0M107.9 66.4h0M144.3 60.4h0M55.2 73.6h0M152.2 52.8h0M57.7 85.0h0M63.4 65.2h0M89.3 79.6h0M54.3 79.6h0M74.3 58.5h0M151.4 84.1h0M114.6 55.1h0M65.3 66.6h0M124.4 78.5h0M102.0 62.9h0M77.1 64.5h0M62.5 60.5h0M100.7 56.1h0M101.9 63.3h0M119.2 49.8h0M121.5 60.9h0M87.3 69.8h0M77.2 55.8h0M127.5 66.9h0M186.7 66.8h0M90.0 67.4h0M161.1 64.6h0M75.0 55.7h0M94.9 76.1h0M64.0 60.8h0M89.9 55.6h0M55.6 66.1h0M98.7 60.5h0M80.8 57.1h0M204.7 59.5h0M130.6 59.5h0M85.1 57.6h0M112.5 70.6h0M82.4 60.0h0M121.4 85.2h0M53.4 65.9h0M68.3 63.5h0M67.5 62.5h0M78.7 63.8h0M102.3 59.0h0M111.5 38.4h0M68.8 67.4h0M211.5 55.2h0M104.6 68.4h0M107.4 61.1h0M245.7 60.0h0M237.4 48.4h0M153.1 70.6h0M58.2 68.8h0M209.6 56.8h0M105.5 66.0h0M95.5 51.6h0M116.5 59.8h0M97.0 65.3h0M129.7 42.6h0M85.6 67.4h0M171.6 62.3h0M85.5 85.2h0M53.1 60.7h0M141.3 53.5h0M194.9 81.6h0M142.0 71.0h0M150.5 62.1h0M54.8 68.0h0M73.8 61.9h0M96.1 54.1h0M51.1 57.6h0M122.9 59.0h0M84.0 63.1h0M79.3 47.5h0M83.1 65.1h0M71.5 55.6h0M97.6 51.8h0M146.5 58.9h0M86.4 51.5h0M51.0 63.8h0M69.6 79.2h0M209.0 71.6h0M113.5 52.0h0M143.8 60.8h0M147.2 59.8h0M167.1 57.4h0M174.1 55.2h0M148.0 60.0h0M99.0 53.7h0M87.9 63.4h0M94.2 48.4h0M140.5 59.6h0M107.1 56.6h0M87.7 54.1h0M74.9 65.9h0M129.5 65.8h0M70.3 55.6h0M56.4 61.8h0M79.5 56.3h0M119.5 55.7h0M59.9 63.0h0M118.5 56.4h0M67.8 56.4h0M162.8 47.7h0M93.2 58.2h0M102.0 64.7h0M70.2 51.6h0M70.0 71.4h0M161.7 49.6h0M70.3 60.8h0M110.6 62.3h0M64.8 61.8h0M76.6 63.0h0M88.9 56.2h0M104.3 70.4h0M119.1 59.4h0M57.7 71.5h0M92.6 61.1h0M59.4 93.0h0M116.3 64.8h0M76.1 59.0h0M55.2 78.2h0M51.0 68.3h0M77.9 72.7h0M70.4 69.3h0M81.0 68.5h0M114.0 69.4h0M75.7 57.0h0M68.5 59.9h0M73.4 71.3h0M100.9 61.8h0M144.5 59.4h0M93.5 59.4h0M90.3 86.9h0M71.8 56.0h0M76.1 71.5h0M133.4 78.9h0M83.9 61.5h0M53.1 55.4h0M158.4 62.5h0M75.4 60.8h0M59.1 61.2h0M64.3 65.3h0M54.4 63.3h0M189.8 73.2h0M68.9 62.8h0M91.4 74.1h0M79.2 55.5h0M85.3 62.0h0M113.2 60.5h0M158.2 51.1h0M87.9 75.8h0M61.7 69.0h0M119.4 61.0h0M61.0 53.4h0M59.2 67.6h0M103.1 62.3h0M101.7 48.2h0M65.2 52.3h0M177.4 62.2h0M82.1 63.8h0M85.3 59.8h0M54.1 89.4h0M86.2 56.4h0M67.4 63.0h0M57.4 55.1h0M63.2 53.4h0M189.0 50.3h0M120.8 57.7h0M78.2 60.2h0M97.9 53.3h0M152.9 77.9h0M205.8 66.7h0M51.1 56.0h0M90.2 51.8h0M72.6 59.9h0M93.3 69.0h0M64.3 64.4h0M103.3 57.6h0M57.6 67.3h0M222.6 37.8h0M84.3 49.9h0M63.2 53.9h0M80.8 79.0h0M116.5 61.1h0M63.6 64.8h0M145.6 58.1h0M113.0 57.9h0M74.8 62.6h0M101.7 71.7h0M51.2 103.2h0M64.1 62.1h0M104.4 55.1h0M53.8 75.2h0M88.0 58.7h0M71.9 57.8h0M80.2 56.2h0M193.5 63.5h0M154.4 61.7h0M67.9 56.5h0M96.9 58.7h0M50.8 78.8h0M99.6 61.0h0M92.6 58.5h0M82.2 63.9h0M62.9 64.3h0M85.9 62.7h0M84.0 54.6h0M111.6 59.7h0M228.0 57.1h0M56.2 57.6h0M99.1 69.2h0M98.8 61.3h0M105.1 56.2h0M79.3 61.3h0M110.8 54.6h0M72.2 54.4h0M72.2 60.6h0M178.4 63.8h0M96.5 67.0h0M85.3 67.6h0M95.3 53.5h0M70.6 64.2h0M103.5 48.2h0M85.4 72.3h0M79.1 57.7h0M82.9 60.0h0M64.6 71.0h0M78.9 64.1h0M86.1 74.7h0M110.3 64.7h0M89.0 60.4h0M60.1 61.4h0M85.2 59.8h0M121.9 59.7h0M63.8 65.8h0M79.9 71.1h0M68.7 58.3h0M79.1 82.2h0M66.5 59.4h0M104.8 57.0h0M113.5 49.3h0M50.8 70.9h0M81.5 66.1h0M97.6 64.9h0M79.2 67.0h0M216.5 57.4h0M98.7 75.2h0M94.4 69.3h0M165.3 59.6h0M69.8 83.2h0M103.4 53.0h0M82.0 55.9h0M122.8 70.1h0M80.0 54.8h0M205.7 59.7h0M110.0 49.2h0M124.4 51.4h0M122.4 55.4h0M50.7 56.4h0M86.4 68.7h0M66.3 49.6h0M70.4 51.4h0M102.5 58.1h0M136.1 55.2h0M89.0 57.9h0M189.7 46.9h0M81.3 55.4h0M68.9 64.2h0M85.9 54.6h0M86.5 51.0h0M115.5 52.2h0M89.7 55.5h0M152.7 58.3h0M97.9 60.3h0M77.9 50.9h0M61.3 55.9h0M60.4 62.7h0M91.0 63.1h0M95.6 59.4h0M54.4 94.5h0M143.4 46.2h0M183.9 58.0h0M79.1 78.6h0M53.2 69.3h0M95.0 55.8h0M83.4 54.9h0M95.1 63.3h0M56.7 64.9h0M67.3 57.8h0M122.0 61.3h0M89.5 56.5h0M50.8 73.4h0M73.1 56.3h0M220.8 43.4h0M97.1 67.5h0M89.9 67.2h0M51.0 77.0h0M243.6 66.3h0M99.7 60.0h0M54.6 54.2h0M181.0 52.1h0M86.4 61.1h0M69.9 51.9h0M116.8 54.4h0M64.4 61.0h0M172.9 49.2h0M90.4 56.8h0M59.3 60.5h0M111.9 61.8h0M83.5 70.8h0M197.0 57.6h0M84.5 60.3h0M102.5 61.4h0M72.6 58.4h0M96.9 63.2h0M59.9 62.7h0M122.3 64.3h0"/></g><g fill="none" stroke="#000" stroke-opacity="0.3" stroke-width="2.2" stroke-linecap="round"><path d="M322.0 113.6h0M398.7 112.8h0M399.2 103.3h0M348.6 101.4h0M337.8 103.0h0M382.1 65.9h0M352.1 108.6h0M314.4 93.5h0M371.8 114.4h0M341.9 113.3h0M356.3 98.8h0M329.8 119.3h0M333.5 104.8h0M411.7 101.6h0M388.3 114.2h0M336.8 102.2h0M375.2 106.5h0M402.5 117.5h0M340.1 100.4h0M329.5 118.7h0M320.8 106.1h0M359.1 118.0h0M350.8 104.7h0M358.1 115.9h0M322.9 92.5h0M354.6 106.2h0M351.6 104.3h0M330.7 113.1h0M383.4 121.9h0M320.9 112.3h0M317.9 82.7h0M385.5 102.2h0M373.0 98.3h0M366.0 120.8h0M347.1 116.9h0M435.9 111.1h0M340.4 107.9h0M441.3 120.6h0M329.2 90.7h0M360.1 113.5h0M414.4 121.4h0M330.7 119.4h0M348.7 115.5h0M359.8 96.2h0M348.4 120.5h0M451.0 125.1h0M328.2 87.6h0M419.6 108.9h0M309.1 100.6h0M353.9 104.2h0M435.7 108.7h0M318.2 94.8h0M329.4 116.2h0M322.8 111.7h0M413.4 107.8h0M365.3 114.2h0M389.2 112.5h0M329.7 97.2h0M333.1 110.3h0M319.8 97.9h0M353.9 106.4h0M308.9 107.4h0M443.3 117.5h0M329.2 114.2h0M402.6 118.0h0M339.4 119.8h0M331.4 121.0h0M315.6 114.9h0M343.2 114.8h0M361.3 102.1h0M368.5 119.7h0M342.5 121.0h0M389.9 110.7h0M356.3 114.2h0M442.4 113.3h0M346.0 117.2h0M349.1 118.6h0M333.5 121.9h0M440.0 120.6h0M358.2 113.6h0M361.9 118.1h0M319.4 91.6h0M342.2 113.6h0M346.2 121.2h0M329.4 120.7h0M449.1 105.9h0M367.9 108.4h0M348.2 117.0h0M309.3 109.4h0M337.0 119.0h0M329.5 109.4h0M437.1 120.7h0M379.8 119.8h0M360.2 114.6h0M336.5 70.7h0M317.1 114.7h0M319.0 114.9h0M388.0 101.6h0M333.6 115.8h0M426.2 117.6h0M399.1 111.1h0M339.9 116.7h0M338.6 116.2h0M339.6 106.9h0M330.0 107.3h0M343.5 116.8h0M352.6 116.1h0M410.2 111.3h0M405.9 114.9h0M359.6 112.1h0M373.2 101.7h0M428.0 120.6h0M353.3 116.4h0M314.7 81.2h0M311.6 110.8h0M343.3 115.2h0M412.5 119.2h0M315.5 104.6h0M326.8 113.9h0M419.3 112.5h0M330.9 109.0h0M328.6 74.7h0M357.6 99.0h0M402.0 109.5h0M388.0 118.5h0M308.5 101.5h0M370.0 113.6h0M364.3 113.5h0M428.6 114.6h0M383.4 116.7h0M359.9 116.1h0M337.0 108.5h0M491.8 115.1h0M416.4 117.2h0M350.7 115.3h0M416.7 109.4h0M327.4 110.4h0M310.7 103.8h0M421.3 118.3h0M396.4 116.2h0M317.9 107.7h0M390.5 111.7h0M379.0 109.9h0M324.6 112.7h0M352.5 108.1h0M418.0 102.4h0M397.3 120.3h0M317.6 108.2h0M371.5 114.5h0M350.9 111.7h0M364.2 110.5h0M322.3 112.7h0M337.7 115.0h0M430.8 109.4h0M329.8 122.0h0M316.4 105.3h0M322.5 110.8h0M374.8 103.5h0M324.6 119.5h0M382.9 116.0h0M376.1 116.3h0M333.7 108.0h0M370.3 107.9h0M351.5 93.3h0M437.8 114.9h0M317.3 103.8h0M441.0 105.5h0M320.8 113.8h0M384.1 118.2h0M322.7 113.4h0M345.8 109.0h0M320.1 39.8h0M359.3 117.7h0M359.1 106.9h0M341.9 115.7h0M379.6 110.3h0M347.7 115.6h0M371.5 111.1h0M385.6 116.0h0M399.8 103.1h0M305.4 74.4h0M314.6 105.6h0M340.3 115.2h0M342.6 113.7h0M357.9 115.0h0M316.2 104.0h0M330.0 110.6h0M329.8 114.1h0M382.2 117.5h0M375.0 113.6h0M318.9 83.7h0M321.0 119.6h0M327.7 106.3h0M406.6 116.1h0M332.9 116.1h0M361.2 106.4h0M309.1 79.2h0M364.1 115.2h0M365.5 100.9h0M376.8 116.3h0M386.5 101.8h0M355.0 119.0h0M422.8 120.1h0M384.3 114.4h0M345.4 109.5h0M343.1 107.5h0M374.3 119.9h0M444.3 115.4h0M407.9 118.4h0M354.5 106.3h0M350.8 103.6h0M340.0 117.8h0M416.9 110.4h0M311.0 93.0h0M350.6 114.0h0M401.0 108.8h0M317.4 109.3h0M308.9 105.9h0M324.5 96.0h0M378.4 106.1h0M374.3 117.3h0M366.0 117.8h0M371.5 109.3h0M391.8 117.8h0M329.4 108.0h0M356.5 114.8h0M316.6 100.7h0M312.5 47.6h0M395.9 116.8h0M366.5 120.4h0M446.2 110.9h0M359.0 115.9h0M354.6 116.0h0M322.5 109.3h0M318.9 99.3h0M314.6 108.5h0M334.2 108.8h0M337.2 111.4h0M381.3 115.0h0M334.9 105.1h0M368.8 114.6h0M343.8 116.2h0M337.3 113.5h0M320.4 97.9h0M319.5 96.7h0M444.5 114.5h0M380.6 102.7h0M309.1 108.2h0M338.7 110.8h0M442.5 107.4h0M328.8 115.3h0M311.1 57.8h0M370.0 109.5h0M312.1 93.7h0M382.0 114.8h0M376.1 120.1h0M374.0 120.3h0M340.2 119.1h0M347.2 104.6h0M320.9 114.0h0M334.5 113.8h0M409.4 116.6h0M308.9 32.4h0M347.1 109.4h0M372.4 112.3h0M474.9 109.4h0M338.5 105.9h0M314.7 109.8h0M320.1 68.6h0M466.7 106.5h0M319.0 106.0h0M345.0 110.1h0M348.1 113.8h0M319.5 108.7h0M362.9 113.2h0M342.1 116.7h0M370.1 117.9h0M325.9 113.8h0M323.7 118.0h0M342.4 112.7h0M411.0 114.5h0M337.9 85.9h0M407.3 120.4h0M364.2 115.3h0M344.1 118.1h0M318.8 107.2h0M316.1 114.5h0M327.3 97.9h0M308.9 105.9h0M344.1 112.1h0M341.9 117.2h0M343.2 113.7h0M345.7 114.9h0M319.8 109.1h0M319.6 51.5h0M310.3 73.1h0M364.1 113.7h0M401.1 113.8h0M338.5 110.8h0M327.7 112.8h0M330.5 119.2h0M331.0 99.1h0M497.2 117.4h0M397.3 112.6h0M380.4 113.0h0M357.6 112.5h0M347.0 113.5h0M414.5 107.2h0M352.8 119.5h0M332.1 111.1h0M320.0 92.1h0M403.1 117.6h0M361.9 120.8h0M396.2 111.8h0M357.7 118.7h0M367.4 110.6h0M329.2 118.7h0M362.4 116.5h0M318.4 115.8h0M308.8 99.9h0M419.4 121.0h0M355.7 118.7h0M349.8 122.1h0M360.3 119.2h0M330.3 100.5h0M332.7 119.8h0M334.5 117.7h0M337.8 113.8h0M320.3 98.3h0M308.9 105.9h0M379.5 110.2h0M327.8 112.8h0M363.6 100.7h0M372.2 118.8h0M341.9 106.0h0M420.6 102.0h0M384.1 120.2h0M372.8 113.4h0M319.9 106.2h0M331.4 114.4h0M343.0 115.7h0M441.3 119.8h0M362.3 119.2h0M363.9 112.1h0M334.7 111.3h0M310.4 82.7h0M397.2 115.2h0M339.0 115.9h0M316.4 28.2h0M321.3 101.1h0M315.9 111.1h0M433.3 105.3h0M332.2 105.6h0M326.1 112.4h0M346.3 111.6h0M387.8 119.7h0M365.0 118.2h0M345.9 114.7h0M365.9 113.0h0M320.1 115.6h0M316.6 73.2h0M425.9 118.4h0M358.2 117.5h0M355.0 113.6h0M437.7 117.2h0M355.7 114.5h0M327.0 83.7h0M314.9 93.0h0M327.3 114.4h0M323.0 111.9h0M353.2 113.3h0M361.0 115.5h0M378.3 119.1h0M329.4 111.9h0M432.8 115.6h0M330.7 118.4h0M309.5 101.0h0M318.4 104.2h0M311.8 45.7h0M340.3 116.6h0M329.3 103.0h0M436.7 118.7h0M317.2 101.3h0M318.6 36.0h0M348.1 114.9h0M347.4 123.8h0M316.7 111.4h0M355.8 120.7h0M341.6 106.1h0M318.6 81.7h0M471.5 116.9h0M348.7 111.2h0M379.1 115.2h0M321.6 117.4h0M336.1 119.0h0M397.0 115.4h0M341.5 120.0h0M445.4 123.5h0M350.5 101.6h0M335.0 97.7h0M343.2 113.0h0M361.5 113.5h0M318.0 109.3h0M323.4 104.7h0M411.3 115.7h0M324.8 115.7h0M326.4 112.7h0M328.2 108.2h0M389.3 117.5h0M478.6 116.0h0M367.0 102.7h0M324.1 112.5h0M325.4 96.3h0M355.1 113.1h0M440.7 115.0h0M315.9 98.4h0M327.7 102.7h0M309.5 112.3h0M338.4 122.1h0M394.3 104.0h0M386.3 111.4h0M395.9 118.2h0M322.9 111.2h0M326.1 115.0h0M332.0 117.8h0M393.6 115.1h0M391.8 89.3h0M388.6 110.7h0M490.2 115.2h0M335.6 117.3h0M338.1 119.7h0M309.0 87.3h0M334.3 117.3h0M359.6 114.3h0M334.8 73.4h0M310.7 37.6h0M360.3 108.6h0M379.6 115.9h0M383.5 120.0h0M337.7 108.7h0M314.0 43.9h0M388.7 110.4h0M336.4 92.3h0M340.4 120.2h0M365.5 109.5h0M313.1 102.2h0M426.5 110.4h0M335.2 107.6h0M355.5 115.8h0M379.8 112.3h0M315.1 98.4h0M358.5 93.4h0M335.4 116.7h0M345.5 115.6h0M346.0 109.6h0M327.5 106.6h0M330.4 112.9h0M326.2 104.5h0M339.3 120.4h0M489.5 122.1h0M372.2 116.8h0M309.4 108.3h0M356.9 120.1h0M333.7 111.1h0M422.4 110.2h0M323.4 96.9h0M355.4 117.3h0M338.9 78.2h0M400.1 117.9h0M380.0 115.2h0M335.5 116.7h0M364.1 111.4h0M391.2 103.0h0M349.9 119.5h0M339.3 106.5h0M326.7 119.4h0M422.6 117.2h0M337.3 116.8h0M353.5 110.8h0M417.1 109.4h0M311.5 102.7h0M322.3 115.3h0M375.3 118.5h0M359.9 117.6h0M346.1 116.7h0M378.0 111.6h0M359.7 113.7h0M409.3 120.2h0M337.8 105.8h0M328.5 118.8h0M361.4 109.3h0"/><path d="M339.3 116.2h0M398.1 102.9h0M345.6 119.0h0M473.8 105.9h0M353.6 118.1h0M324.6 104.9h0M309.5 32.7h0M332.9 97.6h0M354.2 115.3h0M420.9 107.2h0M340.5 107.4h0M367.7 114.8h0M379.7 106.4h0M353.2 112.8h0M334.1 115.8h0M391.5 112.8h0M311.2 76.6h0M390.6 111.6h0M347.9 118.3h0M349.4 120.7h0M380.3 115.8h0M332.4 112.9h0M364.4 104.9h0M388.7 113.4h0M392.4 111.7h0M329.1 119.6h0M348.1 99.3h0M322.8 111.6h0M326.8 110.2h0M368.5 111.9h0M314.6 102.4h0M312.4 119.7h0M311.7 115.8h0M308.7 108.6h0M322.1 110.6h0M386.2 115.0h0M361.7 119.1h0M383.1 114.7h0M370.7 114.8h0M322.1 116.0h0M318.9 114.2h0M351.1 115.5h0M372.2 114.2h0M369.2 113.6h0M425.6 111.8h0M393.6 111.3h0M314.3 33.6h0M309.1 102.2h0M311.9 37.6h0M332.8 108.4h0M314.1 117.1h0M382.2 112.5h0M350.4 113.2h0M353.9 121.6h0M441.0 116.2h0M392.6 114.1h0M316.9 49.3h0M328.7 105.9h0M331.1 113.4h0M382.2 104.4h0M366.4 118.3h0M352.4 96.6h0M438.7 109.8h0M339.7 111.9h0M335.6 112.3h0M341.1 117.0h0M335.0 116.6h0M327.6 108.2h0M427.1 118.9h0M321.1 101.4h0M385.3 76.5h0M350.9 82.5h0M321.7 112.3h0M405.7 114.9h0M320.9 112.9h0M317.5 96.2h0M340.6 112.7h0M334.8 114.3h0M363.5 111.5h0M309.1 83.4h0M336.3 112.4h0M318.6 79.2h0M308.7 70.0h0M375.6 114.0h0M343.9 98.3h0M333.2 79.7h0M356.1 98.0h0M349.4 113.4h0M395.8 112.2h0M321.7 107.8h0M378.8 110.4h0M331.6 116.3h0M354.8 115.1h0M355.9 115.5h0M342.9 113.3h0M480.9 112.3h0M357.7 113.5h0M333.8 120.3h0M331.4 98.2h0M361.1 85.1h0M334.9 110.2h0M343.1 112.8h0M413.6 117.7h0M315.5 102.6h0M342.6 89.4h0M381.0 106.7h0M378.3 115.7h0M311.9 104.9h0M322.7 114.2h0M335.3 110.5h0M406.7 113.0h0M396.9 101.5h0M316.5 73.5h0M309.3 96.6h0M311.6 94.7h0M356.4 114.8h0M341.9 116.8h0M319.2 99.1h0M312.1 71.6h0M318.1 114.5h0M345.1 120.5h0M326.2 110.7h0M372.5 118.4h0M328.0 101.4h0M320.8 104.5h0M372.8 117.9h0M374.0 120.6h0M331.8 111.3h0M362.8 109.4h0M324.0 114.4h0M323.6 106.5h0M350.5 112.2h0M340.1 110.6h0M370.2 109.0h0M363.4 117.6h0M344.2 111.8h0M349.4 105.4h0M351.0 113.1h0M351.6 105.3h0M474.1 120.0h0M309.3 98.1h0M482.3 113.5h0M403.9 116.1h0M325.6 117.6h0M325.1 109.5h0M317.2 105.3h0M452.7 122.2h0M320.6 118.2h0M386.8 113.6h0M357.1 101.1h0M501.5 109.2h0M311.8 106.8h0M325.5 67.7h0M328.0 114.3h0M355.8 116.5h0M390.7 102.3h0M372.4 117.2h0M365.5 115.3h0M313.1 76.7h0M348.5 114.8h0M345.8 117.1h0M360.2 113.2h0M390.5 120.4h0M319.2 111.8h0M345.7 117.3h0M374.4 109.6h0M402.1 114.0h0M415.5 116.6h0M361.1 120.0h0M363.2 121.1h0M309.0 108.7h0M348.8 99.8h0M342.0 109.5h0M312.1 90.6h0M330.5 110.7h0M374.0 114.5h0M345.9 113.1h0M362.6 120.7h0M309.1 112.3h0M347.2 109.0h0M346.5 110.5h0M401.6 118.8h0M351.8 112.9h0M331.1 103.5h0M319.4 111.0h0M333.9 109.6h0M335.7 117.8h0M331.9 109.7h0M382.2 95.0h0M341.7 114.3h0M318.7 110.4h0M311.9 68.2h0M327.1 92.3h0M319.7 116.8h0M342.3 109.7h0M315.3 110.4h0M473.4 116.6h0M345.6 109.5h0M326.1 113.1h0M324.8 111.6h0M413.0 106.4h0M328.8 106.9h0M420.9 114.2h0M434.7 115.1h0M355.1 107.0h0M326.1 97.7h0M354.7 101.3h0M314.3 83.4h0M457.8 110.2h0M324.3 104.5h0M370.4 117.9h0M326.9 98.4h0M351.7 124.0h0M391.7 115.3h0M330.4 73.8h0M357.8 107.1h0M357.7 107.5h0M317.4 104.9h0M350.2 111.6h0M391.3 121.2h0M309.2 86.5h0M354.7 107.1h0M350.5 75.7h0M375.4 111.7h0M308.8 47.8h0M309.3 96.3h0M322.5 104.3h0M462.5 114.4h0M399.3 113.6h0M342.4 110.6h0M322.2 104.7h0M379.8 120.1h0M316.6 105.8h0M308.8 107.1h0M318.4 112.2h0M354.0 108.6h0M336.3 104.3h0M342.3 112.7h0M328.3 109.3h0M427.2 106.8h0M363.5 119.5h0M390.6 114.3h0M322.2 105.3h0M355.1 108.2h0M338.5 113.5h0M317.1 116.2h0M340.9 108.7h0M398.2 117.1h0M389.5 114.1h0M423.8 112.0h0M365.2 115.6h0M316.6 84.0h0M335.8 118.5h0M440.1 115.6h0M339.1 109.0h0M313.5 80.9h0M377.4 119.4h0M308.9 109.1h0M491.2 100.8h0M386.6 118.9h0M482.8 116.8h0M346.8 120.2h0M309.2 107.3h0M374.2 116.0h0M346.5 112.8h0M332.9 104.8h0M333.7 112.5h0M346.3 111.5h0M314.6 104.9h0M342.2 102.2h0M328.8 106.6h0M391.9 107.5h0M311.0 102.8h0M348.3 121.2h0M464.3 111.5h0M338.2 108.0h0M337.2 111.4h0M376.8 111.2h0M376.8 114.7h0M369.8 115.0h0M401.5 117.6h0M387.0 112.5h0M333.1 120.3h0M455.8 114.4h0M320.5 74.7h0M324.1 99.2h0M357.4 113.9h0M428.8 111.8h0M336.2 108.9h0M400.4 117.2h0M377.4 112.7h0M344.9 112.3h0M329.6 119.4h0M329.1 103.8h0M394.6 123.4h0M360.4 107.9h0M348.2 112.7h0M393.8 112.6h0M308.8 112.7h0M362.2 109.7h0M318.2 108.0h0M319.9 84.6h0M312.4 115.5h0M314.0 112.5h0M330.7 115.8h0M334.6 114.0h0M399.8 113.0h0M398.9 115.5h0M389.1 109.0h0M335.9 111.6h0M361.4 118.4h0M349.5 113.2h0M361.4 113.6h0M324.1 113.4h0M309.0 113.1h0M334.7 114.3h0M322.0 110.8h0M333.7 117.7h0M309.2 98.9h0M411.6 103.6h0M370.0 113.6h0M343.1 109.7h0M373.2 118.8h0M369.6 113.7h0M345.0 115.0h0M362.5 109.1h0M401.3 114.6h0M319.2 96.8h0M321.1 101.6h0M428.9 106.9h0M329.8 116.4h0M338.1 111.9h0M376.6 117.1h0M353.4 111.6h0M330.2 108.8h0M344.0 117.3h0M313.2 89.5h0M334.5 115.2h0M311.6 105.3h0M395.0 117.2h0M435.9 111.0h0M422.2 116.7h0M385.5 107.7h0M458.6 111.4h0M316.5 86.7h0M315.3 95.3h0M317.4 83.4h0M316.3 97.8h0M355.9 115.3h0M367.0 117.0h0M368.5 110.4h0M369.5 114.2h0M382.0 119.4h0M341.4 109.8h0M331.4 119.9h0M341.2 105.8h0M315.8 94.9h0M354.0 119.2h0M314.8 113.2h0M378.0 120.9h0M330.2 91.3h0M410.9 114.5h0M353.2 112.6h0M357.1 116.9h0M375.6 110.8h0M346.3 76.1h0M340.5 113.7h0M352.6 116.0h0M320.2 105.9h0M378.0 105.6h0M354.0 118.0h0M372.7 112.3h0M405.2 106.6h0M327.4 114.0h0M368.0 111.4h0M328.5 107.0h0M317.9 113.2h0M378.7 116.6h0M320.8 99.7h0M327.5 120.5h0M421.9 102.1h0M340.7 106.5h0M352.1 109.9h0M356.2 114.6h0M375.9 117.5h0M367.7 114.4h0M379.7 118.0h0M378.3 115.0h0M337.6 102.9h0M434.3 100.3h0M310.6 41.8h0M350.2 114.0h0M342.6 116.9h0M321.5 107.0h0M315.9 115.5h0M384.6 113.1h0M341.2 114.6h0M358.3 113.9h0M314.8 39.2h0M317.5 92.9h0M360.2 113.4h0M332.0 111.1h0M326.2 111.2h0M342.0 123.9h0M320.5 112.3h0M353.4 118.7h0M326.3 103.3h0M324.9 104.1h0M323.1 83.6h0M397.2 119.6h0M424.5 106.6h0M315.7 97.6h0M343.2 113.7h0M372.3 118.5h0M360.1 107.1h0M345.9 120.6h0M328.5 103.7h0M328.6 109.2h0M367.4 122.7h0M309.1 97.7h0M325.1 110.4h0M331.2 114.4h0M409.7 103.6h0M321.9 108.5h0M364.9 119.5h0M331.5 110.5h0M317.8 104.7h0M335.9 114.2h0M354.1 110.4h0M321.0 118.4h0M349.6 97.3h0M328.6 116.7h0M326.5 108.0h0M312.4 107.7h0M314.3 66.2h0M330.9 118.8h0M315.9 86.0h0M397.1 111.0h0M418.7 120.0h0M353.0 119.1h0M357.4 123.9h0M357.7 119.7h0M382.2 113.8h0M374.2 112.2h0M360.5 115.5h0M414.7 111.9h0M308.8 108.8h0M322.4 110.9h0M382.4 108.8h0M319.6 105.5h0M327.7 97.5h0M322.7 110.8h0M434.3 112.7h0M342.7 107.3h0M386.4 113.3h0M317.2 116.4h0M356.4 114.8h0M375.1 108.3h0M363.6 116.3h0M356.7 109.3h0M324.6 108.5h0M360.2 110.4h0M346.9 105.7h0M359.0 121.2h0M373.6 112.7h0M321.5 110.4h0M345.8 116.3h0M356.2 100.0h0M310.7 105.0h0M317.8 101.4h0M323.1 110.1h0M383.8 120.9h0M402.6 120.4h0M386.7 116.5h0M416.6 118.3h0M369.5 120.3h0M331.2 104.2h0M312.2 88.3h0M360.4 118.6h0M367.6 110.4h0M341.6 114.3h0M321.1 119.3h0M358.8 117.0h0M338.3 116.8h0M381.6 114.6h0M348.6 119.6h0M358.2 122.9h0M307.3 85.3h0M368.2 110.4h0M347.6 117.5h0M309.4 97.5h0"/><path d="M496.6 111.0h0M343.2 114.4h0M394.6 102.7h0M333.1 88.4h0M324.7 109.7h0M442.8 121.0h0M361.9 99.7h0M342.4 115.4h0M392.6 115.9h0M379.4 106.6h0M360.7 111.8h0M390.4 116.1h0M348.8 120.4h0M311.1 94.6h0M336.1 121.6h0M328.6 105.5h0M325.7 116.9h0M367.9 108.8h0M313.3 101.7h0M359.5 111.8h0M473.2 118.2h0M325.4 105.3h0M310.7 70.9h0M335.6 101.5h0M411.7 123.9h0M328.1 111.9h0M339.8 110.8h0M419.6 113.7h0M351.7 119.3h0M398.0 110.9h0M347.4 113.1h0M318.0 116.2h0M334.3 117.6h0M344.1 110.3h0M348.3 112.7h0M472.3 110.8h0M367.9 94.9h0M327.4 113.8h0M454.4 111.5h0M336.1 108.3h0M403.8 100.4h0M383.5 120.1h0M329.6 119.1h0M308.8 100.6h0M311.3 100.6h0M351.7 118.2h0M336.8 107.6h0M342.9 118.2h0M404.2 112.6h0M328.6 101.0h0M430.7 113.7h0M325.0 86.8h0M318.8 108.0h0M331.7 105.1h0M400.2 104.8h0M338.8 115.9h0M399.1 115.1h0M374.0 118.0h0M384.1 115.1h0M364.3 100.8h0M316.5 27.2h0M380.9 118.8h0M406.4 119.5h0M331.8 119.1h0M308.8 102.7h0M319.8 111.3h0M427.8 99.2h0M390.3 123.1h0M329.6 120.3h0M364.5 118.9h0M314.5 89.9h0M334.0 115.1h0M355.4 114.5h0M355.8 105.9h0M343.3 116.7h0M316.3 115.0h0M317.5 89.1h0M327.9 119.8h0M334.4 120.5h0M308.9 110.1h0M325.1 112.3h0M345.7 95.6h0M320.8 105.0h0M396.9 114.6h0M330.4 112.5h0M354.0 118.5h0M372.3 115.3h0M367.6 118.4h0M327.1 111.8h0M381.2 96.3h0M323.5 117.9h0M503.0 121.5h0M372.1 108.4h0M330.4 98.1h0M321.5 115.0h0M340.5 119.8h0M476.5 116.2h0M329.8 113.5h0M435.7 105.1h0M331.6 117.6h0M344.1 114.8h0M342.6 120.7h0M380.9 119.2h0M331.4 110.0h0M316.2 91.3h0M429.4 121.1h0M343.0 110.7h0M332.0 117.2h0M393.4 112.7h0M335.0 96.6h0M383.2 114.7h0M311.0 58.4h0M348.0 100.3h0M353.8 116.0h0M324.5 115.7h0M449.8 114.1h0M386.4 113.6h0M339.5 119.4h0M348.8 108.5h0M351.5 111.0h0M326.0 82.3h0M344.6 111.0h0M327.1 112.2h0M386.7 110.9h0M346.8 103.6h0M376.9 115.4h0M347.2 110.3h0M314.9 91.6h0M357.1 109.9h0M346.1 98.2h0M379.1 86.8h0M308.9 105.4h0M333.0 115.1h0M325.6 114.8h0M401.9 114.4h0M349.3 120.7h0M322.1 113.8h0M345.6 117.7h0M341.8 108.2h0M364.2 117.0h0M344.5 114.3h0M310.1 57.1h0M350.1 115.5h0M308.7 102.2h0M401.0 112.6h0M361.8 116.0h0M382.8 121.3h0M323.5 96.1h0M358.9 101.4h0M341.2 105.9h0M408.8 114.3h0M367.9 113.0h0M338.9 116.0h0M324.4 109.1h0M385.7 113.5h0M326.9 106.7h0M386.6 123.6h0M363.6 113.7h0M348.5 102.2h0M324.0 106.6h0M323.2 98.1h0M353.7 118.4h0M309.1 111.4h0M314.4 121.3h0M320.1 99.1h0M406.8 106.5h0M332.4 113.1h0M325.7 112.5h0M369.0 114.3h0M308.6 97.8h0M337.1 112.0h0M326.7 112.0h0M340.3 120.6h0M332.0 112.6h0M368.6 107.3h0M334.1 118.1h0M357.5 124.3h0M350.9 118.3h0M358.7 116.1h0M380.3 116.3h0M312.9 107.5h0M336.4 109.9h0M335.1 109.6h0M351.2 112.9h0M316.5 85.0h0M337.3 114.1h0M316.2 107.5h0M334.1 108.0h0M350.7 118.0h0M312.1 105.8h0M340.4 88.3h0M313.4 59.8h0M329.2 109.5h0M358.5 114.0h0M339.7 117.0h0M388.4 109.9h0M337.4 117.4h0M400.1 117.0h0M308.7 109.9h0M332.7 109.0h0M382.2 118.1h0M329.4 114.4h0M431.0 116.6h0M345.2 102.3h0M370.2 110.1h0M369.8 108.5h0M405.3 114.9h0M390.2 120.7h0M424.6 113.8h0M417.7 119.0h0M424.4 103.1h0M321.3 117.4h0M309.5 43.5h0M326.4 111.0h0M332.9 116.4h0M357.5 102.1h0M421.1 109.4h0M354.5 110.2h0M415.8 103.8h0M312.1 108.6h0M396.1 95.0h0M385.2 113.2h0M348.6 102.0h0M394.5 113.8h0M350.2 110.9h0M350.6 103.7h0M351.8 122.3h0M394.1 117.0h0M408.4 108.3h0M369.1 111.0h0M357.5 115.7h0M342.6 110.1h0M348.9 113.9h0M418.7 119.1h0M355.2 118.9h0M363.8 113.5h0M340.0 105.4h0M476.6 108.1h0M330.3 107.9h0M348.8 101.6h0M490.6 121.0h0M330.6 106.1h0M339.9 119.2h0M317.3 105.6h0M346.1 112.3h0M335.9 106.8h0M397.0 103.4h0M343.1 117.1h0M347.7 116.7h0M321.7 107.6h0M327.0 105.9h0M331.9 113.6h0M345.3 105.3h0M395.7 118.5h0M326.7 104.7h0M339.6 116.0h0M340.1 116.9h0M328.1 116.3h0M344.9 114.7h0M352.9 108.1h0M384.4 111.1h0M351.2 115.7h0M308.7 103.8h0M354.8 108.8h0M322.0 96.2h0M322.7 105.2h0M386.4 115.3h0M406.6 116.2h0M414.6 123.8h0M311.9 111.9h0M318.8 97.8h0M383.6 118.2h0M341.0 104.8h0M395.9 111.3h0M319.5 103.6h0M414.3 115.7h0M332.4 106.1h0M319.3 111.9h0M352.6 111.1h0M365.1 113.7h0M336.2 108.4h0M353.6 110.3h0M338.5 108.6h0M371.2 114.8h0M336.4 115.6h0M316.0 94.9h0M360.0 117.3h0M411.5 111.6h0M308.9 111.4h0M332.4 94.5h0M346.6 117.9h0M315.0 105.3h0M327.4 99.0h0M340.9 113.9h0M406.5 83.4h0M334.7 112.3h0M373.0 118.3h0M342.2 102.9h0M451.4 101.3h0M366.6 110.4h0M439.2 119.0h0M349.9 112.4h0M320.9 97.0h0M378.6 107.8h0M325.8 113.5h0M402.5 115.4h0M367.0 121.9h0M318.8 113.4h0M455.3 121.7h0M365.0 114.4h0M323.6 113.4h0M357.0 106.4h0M338.5 111.4h0M369.7 110.3h0M341.0 103.0h0M333.4 114.3h0M390.8 120.6h0M325.8 111.8h0M422.0 112.3h0M363.5 107.4h0M358.0 117.5h0M403.0 103.1h0M328.4 112.6h0M327.6 98.7h0M311.0 88.9h0M384.7 119.7h0M326.6 118.9h0M398.2 118.3h0M421.0 91.7h0M478.1 118.7h0M397.5 111.9h0M338.5 117.2h0M326.5 117.5h0M356.4 120.9h0M392.9 115.3h0M312.5 35.2h0M367.2 113.6h0M348.6 113.4h0M377.5 118.7h0M363.1 112.0h0M326.7 95.1h0M345.7 109.7h0M314.0 49.2h0M315.4 105.3h0M338.9 112.2h0M366.2 121.6h0M313.1 115.7h0M381.2 119.6h0M325.7 99.0h0M405.6 112.5h0M320.8 114.8h0M334.2 112.0h0M341.8 112.1h0M362.3 118.3h0M315.3 109.7h0M325.4 112.4h0M327.7 105.3h0M360.0 122.2h0M351.9 114.0h0M337.4 119.9h0M311.1 89.6h0M352.9 114.6h0M323.8 118.3h0M314.2 93.2h0M323.6 114.1h0M370.6 113.7h0M365.5 115.0h0M318.4 89.2h0M336.5 113.7h0M422.9 97.7h0M315.6 89.2h0M333.2 96.2h0M337.4 120.7h0M332.6 109.2h0M326.5 109.5h0M404.7 110.4h0M347.7 117.9h0M349.0 113.3h0M345.9 115.7h0M321.2 102.4h0M308.8 109.6h0M370.5 121.2h0M348.6 119.4h0M310.6 102.8h0M336.6 112.8h0M361.0 118.5h0M399.5 111.6h0M361.6 117.3h0M361.9 101.1h0M363.5 116.9h0M317.2 109.4h0M338.6 109.3h0M453.0 109.5h0M361.5 108.8h0M319.6 94.7h0M333.8 87.5h0M482.7 111.6h0M348.0 106.4h0M306.3 81.0h0M316.6 110.3h0M478.0 117.1h0M333.8 112.9h0M366.5 116.3h0M344.4 116.0h0M336.2 107.8h0M327.6 116.2h0M326.2 120.4h0M342.8 116.7h0M355.9 113.9h0M369.6 117.9h0M390.0 116.3h0M397.8 116.8h0M354.8 119.4h0M336.0 111.0h0M335.4 117.6h0M322.5 101.5h0M328.9 97.0h0M360.0 114.4h0M353.1 79.0h0M319.4 104.4h0M343.1 111.4h0M393.4 113.0h0M354.8 116.8h0M420.2 108.6h0M365.2 107.3h0M322.5 106.3h0M329.4 120.6h0M326.4 94.1h0M421.0 122.8h0M309.6 95.0h0M357.8 119.7h0M349.6 101.8h0M347.6 109.4h0M330.8 116.1h0M332.2 90.4h0M309.2 95.1h0M329.4 111.0h0M393.0 116.7h0M371.0 86.9h0M336.9 87.7h0M309.1 98.1h0M361.2 105.4h0M318.9 114.5h0M334.3 102.6h0M331.4 114.7h0M320.0 100.6h0M402.4 111.6h0M315.9 108.4h0M309.2 88.5h0M314.8 99.3h0M337.0 107.5h0M433.4 110.3h0M410.1 115.8h0M349.6 110.8h0M366.6 108.6h0M311.7 106.8h0M358.0 115.8h0M433.7 110.4h0M388.1 112.3h0M436.9 119.3h0M358.2 118.8h0M376.1 103.3h0M388.2 109.4h0M321.9 103.9h0M364.4 117.1h0M343.3 110.8h0M332.7 118.3h0M375.4 117.3h0M365.5 122.2h0M375.2 115.9h0M323.2 118.2h0M315.7 69.6h0M318.7 103.1h0M472.8 118.2h0M334.2 54.2h0M323.6 106.7h0M343.0 115.0h0M329.4 116.3h0M328.4 92.6h0M315.3 97.7h0M309.2 89.2h0M332.0 102.7h0M333.9 113.0h0M335.4 105.0h0M309.3 32.6h0M365.5 115.4h0M320.0 105.7h0M350.1 115.4h0M367.6 115.7h0M323.4 117.0h0M319.6 107.1h0"/><path d="M393.5 116.0h0M315.2 112.3h0M320.8 107.9h0M336.5 120.1h0M336.9 99.8h0M344.0 120.7h0M393.2 113.2h0M413.4 115.2h0M400.2 118.7h0M312.2 72.7h0M311.3 105.3h0M322.7 115.9h0M339.6 111.8h0M349.8 104.4h0M348.8 108.6h0M406.2 115.0h0M377.7 109.3h0M340.1 118.8h0M365.9 119.9h0M347.5 108.4h0M353.9 107.1h0M321.9 116.8h0M308.6 97.4h0M336.6 114.6h0M321.4 111.5h0M359.8 119.2h0M338.5 117.9h0M358.2 116.2h0M313.2 51.5h0M402.0 112.3h0M395.6 117.3h0M349.1 114.5h0M335.6 117.1h0M354.9 114.7h0M339.0 111.8h0M386.1 115.1h0M339.9 106.8h0M323.4 105.6h0M328.9 98.9h0M316.1 107.2h0M338.9 117.6h0M308.8 89.3h0M340.6 109.6h0M330.0 116.0h0M389.1 118.5h0M498.6 117.5h0M385.4 107.0h0M312.2 101.6h0M383.6 103.2h0M348.5 109.9h0M413.5 86.2h0M324.7 110.6h0M321.9 113.5h0M385.4 109.4h0M324.8 105.5h0M356.0 112.3h0M335.7 117.9h0M343.4 102.9h0M308.9 112.8h0M334.9 109.9h0M326.9 116.2h0M403.5 103.6h0M320.0 116.3h0M374.6 117.0h0M327.6 92.1h0M432.6 114.6h0M337.9 99.0h0M367.1 123.8h0M326.0 92.9h0M336.9 111.4h0M327.7 107.8h0M391.6 119.3h0M330.6 120.5h0M317.7 104.6h0M345.4 96.4h0M355.8 112.3h0M363.8 95.1h0M337.7 117.5h0M405.1 107.3h0M429.4 119.3h0M371.1 110.0h0M378.0 112.3h0M347.2 113.1h0M361.8 96.9h0M329.7 107.3h0M328.2 107.6h0M347.0 108.8h0M309.1 113.1h0M332.3 112.9h0M340.1 124.0h0M355.6 114.6h0M412.2 115.6h0M380.8 119.2h0M348.5 111.9h0M331.6 107.7h0M314.2 94.5h0M333.0 108.8h0M332.6 91.9h0M326.6 107.6h0M324.9 116.9h0M353.6 85.1h0M390.0 115.5h0M331.6 108.7h0M334.6 98.5h0M328.5 110.7h0M387.1 116.4h0M309.0 108.8h0M318.8 61.9h0M338.3 103.5h0M389.7 111.8h0M316.7 79.4h0M320.1 111.0h0M313.7 45.9h0M337.0 119.9h0M327.9 116.8h0M354.9 119.3h0M338.5 108.0h0M351.8 106.0h0M329.4 116.3h0M356.0 117.8h0M346.3 110.9h0M350.9 105.4h0M350.4 115.8h0M383.0 111.8h0M322.5 112.7h0M455.8 111.2h0M334.7 83.3h0M329.6 88.4h0M400.6 102.4h0M377.1 112.2h0M346.5 118.8h0M325.2 118.5h0M371.2 115.9h0M326.6 115.3h0M334.8 110.7h0M328.0 116.5h0M335.5 108.5h0M311.2 105.1h0M396.7 117.4h0M327.5 84.6h0M328.8 109.1h0M396.4 103.0h0M318.2 109.4h0M361.8 110.6h0M315.7 114.9h0M348.0 101.7h0M405.0 115.5h0M360.8 104.8h0M367.5 105.3h0M405.6 120.7h0M380.5 118.8h0M376.5 111.8h0M361.0 120.2h0M399.9 120.8h0M347.4 116.5h0M354.5 109.2h0M329.7 106.9h0M327.1 70.1h0M318.3 96.4h0M343.8 113.6h0M373.6 116.9h0M376.1 96.6h0M310.3 102.1h0M394.3 119.1h0M370.1 114.0h0M309.0 82.3h0M316.3 104.3h0M324.0 109.3h0M324.9 115.3h0M466.5 106.7h0M397.1 118.0h0M352.7 109.1h0M361.2 114.4h0M350.8 122.7h0M367.2 112.8h0M348.5 106.1h0M327.0 99.8h0M378.7 92.7h0M350.6 116.0h0M409.9 107.2h0M355.1 116.8h0M309.3 96.2h0M346.3 122.2h0M313.9 64.3h0M334.9 119.5h0M313.8 109.9h0M342.2 118.9h0M344.2 112.9h0M312.5 59.5h0M343.1 114.4h0M323.4 107.7h0M347.0 104.1h0M370.6 111.6h0M373.4 115.7h0M330.9 102.6h0M377.2 117.3h0M356.8 115.0h0M415.5 117.3h0M323.1 117.7h0M397.9 115.9h0M345.8 88.1h0M360.9 117.4h0M363.8 117.9h0M327.1 103.5h0M323.9 105.5h0M310.5 107.7h0M320.6 106.1h0M344.5 114.4h0M413.4 113.6h0M396.1 111.0h0M359.8 116.1h0M398.2 108.9h0M335.8 109.7h0M309.1 112.5h0M309.2 109.7h0M339.9 95.3h0M308.8 111.4h0M374.6 114.8h0M350.5 110.0h0M359.1 106.0h0M425.9 111.2h0M350.2 119.8h0M386.1 113.3h0M338.8 104.5h0M337.5 124.0h0M354.5 118.6h0M386.1 107.7h0M398.6 114.1h0M358.3 113.8h0M439.1 121.4h0M349.4 115.6h0M322.6 117.2h0M402.2 114.1h0M345.5 116.6h0M349.1 116.1h0M439.5 102.5h0M461.2 118.6h0M320.6 105.7h0M310.9 91.2h0M335.2 116.4h0M392.6 109.0h0M314.5 37.8h0M327.7 111.9h0M388.6 116.6h0M453.9 111.3h0M421.7 113.3h0M333.1 113.8h0M314.7 24.2h0M322.9 99.0h0M313.6 102.3h0M341.1 82.8h0M360.2 121.2h0M351.6 111.9h0M383.3 117.5h0M337.7 106.5h0M404.2 106.0h0M324.8 119.7h0M354.7 116.3h0M410.4 115.0h0M333.1 114.1h0M309.0 83.6h0M309.2 65.2h0M315.2 99.9h0M371.2 112.4h0M453.9 111.7h0M419.0 114.1h0M338.4 106.5h0M406.1 111.9h0M345.4 121.7h0M307.1 67.0h0M373.9 119.2h0M393.7 119.7h0M309.2 107.8h0M367.2 112.2h0M380.5 100.3h0M350.0 121.2h0M346.5 112.8h0M313.0 92.8h0M404.1 106.4h0M317.2 116.4h0M345.3 117.1h0M314.7 88.6h0M329.8 111.3h0M392.1 119.2h0M317.1 94.8h0M415.4 117.0h0M332.3 112.9h0M410.5 114.7h0M403.7 110.8h0M418.1 117.5h0M402.5 119.5h0M326.5 110.1h0M388.3 111.4h0M355.0 112.7h0M455.9 106.3h0M387.1 104.5h0M368.4 114.8h0M392.8 102.6h0M326.8 109.0h0M379.0 100.6h0M345.8 109.2h0M320.3 107.9h0M349.3 118.8h0M371.6 115.9h0M364.3 116.7h0M343.6 115.1h0M388.9 117.8h0M311.8 111.1h0M349.8 108.7h0M390.6 117.8h0M345.9 106.2h0M416.2 109.0h0M387.8 107.2h0M333.1 111.4h0M376.9 117.1h0M371.5 118.4h0M312.3 119.3h0M312.2 112.4h0M420.7 113.6h0M330.1 116.0h0M357.7 110.4h0M336.0 112.7h0M353.3 121.2h0M313.4 31.2h0M331.5 122.0h0M317.7 95.2h0M321.0 107.9h0M317.1 72.9h0M348.5 117.3h0M357.0 106.7h0M374.9 114.2h0M382.0 114.6h0M356.0 114.7h0M339.7 119.0h0M381.1 109.6h0M335.0 109.9h0M339.2 111.5h0M314.5 101.7h0M329.8 117.3h0M318.7 114.6h0M380.5 113.3h0M332.8 87.8h0M320.7 113.4h0M361.1 112.7h0M380.6 106.7h0M332.4 117.7h0M387.7 107.9h0M369.7 108.1h0M319.8 109.5h0M343.0 108.1h0M332.8 111.7h0M324.3 101.3h0M339.3 118.6h0M309.6 86.4h0M419.1 115.3h0M318.2 105.8h0M373.6 117.9h0M342.0 106.1h0M332.2 109.2h0M326.9 109.8h0M310.3 100.3h0M314.2 116.1h0M368.8 115.2h0M444.0 110.1h0M380.6 115.2h0M330.1 65.3h0M357.2 99.3h0M371.4 120.9h0M362.5 116.8h0M334.4 120.4h0M314.2 100.5h0M428.3 117.9h0M389.6 118.2h0M326.3 113.4h0M342.2 111.1h0M351.3 118.5h0M380.8 113.7h0M324.4 109.5h0M391.6 108.2h0M414.8 112.8h0M399.4 113.4h0M499.3 115.2h0M351.0 114.6h0M342.2 113.7h0M400.2 116.2h0M399.1 120.0h0M332.3 113.8h0M405.2 116.7h0M334.3 116.2h0M309.3 77.5h0M400.1 119.1h0M416.5 115.9h0M365.6 115.3h0M358.2 101.9h0M324.3 105.7h0M356.4 116.9h0M322.9 82.2h0M325.3 121.0h0M395.8 104.3h0M322.0 109.0h0M325.7 97.7h0M399.6 108.9h0M335.8 118.1h0M361.0 108.5h0M309.2 81.1h0M332.3 117.9h0M383.8 121.5h0M352.0 116.4h0M382.4 122.3h0M356.2 114.2h0M377.1 119.1h0M313.1 84.3h0M317.8 90.7h0M349.7 117.6h0M340.4 116.3h0M356.1 108.3h0M365.0 86.1h0M340.6 111.4h0M422.7 112.8h0M328.9 117.7h0M435.3 110.8h0M436.9 118.6h0M334.0 91.8h0M316.2 106.2h0M346.5 101.7h0M309.1 94.3h0M326.4 116.9h0M389.1 115.0h0M386.2 108.3h0M380.4 107.4h0M499.0 112.2h0M317.1 107.6h0M332.3 116.0h0M428.9 114.0h0M316.6 101.7h0M321.9 114.0h0M343.9 114.6h0M363.9 108.4h0M478.3 115.9h0M356.1 104.0h0M334.5 120.7h0M429.1 115.2h0M328.3 115.6h0M334.3 117.1h0M332.5 118.8h0M354.9 117.0h0M316.1 98.7h0M360.5 111.2h0M356.9 115.8h0M344.3 107.7h0M370.0 106.2h0M375.1 120.4h0M322.8 111.3h0M361.7 109.0h0M461.2 110.3h0M350.3 109.7h0M376.9 114.2h0M359.3 110.4h0M347.3 107.8h0M406.1 98.8h0M338.5 113.7h0M396.4 109.1h0M500.9 115.5h0M359.6 120.1h0M435.5 116.8h0M331.1 108.4h0M393.8 101.5h0M358.4 113.3h0M358.1 115.5h0M313.3 102.1h0M326.3 108.9h0M356.3 96.7h0M325.0 117.0h0M346.3 90.0h0M326.3 111.8h0M360.6 99.4h0M340.0 115.5h0M323.5 110.8h0M311.8 38.2h0M339.1 106.3h0M427.8 103.7h0M394.0 111.3h0M374.5 109.1h0M341.7 115.2h0M318.3 103.6h0M342.3 122.2h0M368.0 105.4h0M369.4 109.3h0M352.6 117.3h0M357.2 99.3h0"/><path d="M399.4 104.9h0M309.2 106.7h0M343.5 114.1h0M359.2 110.0h0M310.1 99.6h0M445.2 118.8h0M312.3 110.9h0M320.4 116.7h0M381.4 113.7h0M343.6 118.8h0M356.3 112.8h0M377.0 112.3h0M314.2 111.7h0M315.2 97.3h0M343.0 106.5h0M319.3 119.6h0M372.1 120.7h0M445.0 114.9h0M412.4 116.4h0M327.7 73.3h0M328.9 103.7h0M315.0 105.6h0M336.8 116.7h0M320.6 115.4h0M329.5 117.7h0M363.3 120.5h0M479.9 95.2h0M339.4 109.2h0M381.2 120.5h0M404.6 104.3h0M336.3 117.6h0M348.7 104.1h0M350.7 113.2h0M394.8 113.5h0M360.7 111.7h0M319.9 105.8h0M320.6 117.7h0M340.0 108.9h0M446.9 110.5h0M343.2 112.4h0M363.3 109.8h0M396.7 104.9h0M323.0 118.6h0M404.7 118.4h0M315.9 118.4h0M403.2 112.8h0M330.7 98.5h0M337.9 112.4h0M422.9 112.2h0M338.0 115.4h0M400.7 114.0h0M348.3 110.1h0M316.3 103.4h0M316.9 96.9h0M309.4 113.3h0M368.2 120.4h0M332.7 82.0h0M383.9 110.6h0M356.3 113.7h0M360.7 105.1h0M357.2 118.4h0M343.2 119.5h0M328.5 117.0h0M310.4 78.5h0M370.0 114.0h0M325.8 110.4h0M334.7 111.4h0M384.2 117.4h0M345.0 88.3h0M396.6 110.3h0M315.9 94.8h0M320.3 114.6h0M483.6 114.2h0M327.6 65.8h0M374.9 108.2h0M360.7 120.1h0M336.0 115.2h0M331.6 115.8h0M384.4 108.1h0M425.9 105.8h0M409.2 109.2h0M334.3 108.2h0M340.6 110.5h0M333.0 108.5h0M375.8 115.4h0M344.1 121.3h0M343.1 110.5h0M373.4 103.3h0M363.7 118.0h0M364.7 117.2h0M328.2 114.3h0M341.6 116.5h0M422.4 115.2h0M329.6 116.2h0M344.1 105.4h0M323.3 115.0h0M354.2 121.0h0M335.9 111.8h0M399.0 115.0h0M387.9 112.0h0M354.2 102.9h0M318.5 114.2h0M319.9 110.8h0M329.1 106.0h0M356.4 106.3h0M378.6 108.9h0M329.3 115.9h0M452.4 113.7h0M494.3 118.0h0M382.5 112.1h0M351.0 111.2h0M317.9 111.4h0M331.7 99.4h0M319.2 117.5h0M332.4 118.4h0M412.4 114.0h0M344.9 122.4h0M410.4 114.8h0M309.2 113.6h0M457.2 110.9h0M395.6 120.8h0M347.4 121.0h0M336.1 105.4h0M358.2 113.0h0M328.4 104.2h0M339.2 117.6h0M419.0 105.3h0M323.8 108.1h0M329.9 113.9h0M312.7 96.3h0M389.8 111.8h0M372.9 113.0h0M315.6 93.0h0M320.8 96.7h0M344.6 107.3h0M469.4 114.7h0M309.1 64.9h0M363.7 114.4h0M404.0 113.4h0M321.5 109.0h0M349.5 114.8h0M356.4 114.8h0M309.3 105.4h0M315.3 98.4h0M346.0 102.3h0M381.6 119.9h0M427.9 114.6h0M389.2 119.6h0M354.4 96.9h0M331.9 108.0h0M309.1 103.1h0M349.4 87.3h0M342.4 93.7h0M347.7 108.7h0M317.1 112.8h0M391.2 122.1h0M418.9 118.1h0M337.3 107.9h0M328.4 109.9h0M408.3 111.9h0M309.6 109.7h0M404.4 117.8h0M356.8 94.6h0M316.4 121.4h0M317.0 106.4h0M336.6 111.8h0M386.1 117.4h0M306.5 39.4h0M347.5 114.5h0M325.8 111.6h0M337.8 119.8h0M453.1 113.1h0M343.6 116.5h0M311.8 104.2h0M405.9 112.7h0M319.5 115.8h0M314.3 95.9h0M331.6 117.6h0M318.2 111.1h0M373.2 113.0h0M331.6 99.1h0M327.0 116.1h0M392.6 112.8h0M409.1 119.5h0M342.8 118.6h0M406.6 101.9h0M380.5 111.3h0M312.7 64.1h0M338.7 114.1h0M372.9 104.9h0M393.0 109.5h0M341.7 119.3h0M331.0 110.5h0M326.4 114.4h0M325.2 114.1h0M322.8 107.7h0M322.2 116.0h0M325.2 109.5h0M433.0 114.8h0M309.2 111.1h0M363.7 113.1h0M378.4 114.3h0M332.8 102.0h0M379.8 113.7h0M330.1 68.6h0M384.1 117.7h0M398.0 112.2h0M335.6 116.6h0M323.9 114.2h0M327.6 109.1h0M338.0 114.0h0M374.8 121.4h0M462.7 116.7h0M399.2 106.7h0M361.3 101.1h0M315.9 113.5h0M401.7 117.8h0M400.2 118.3h0M326.7 118.5h0M382.6 113.3h0M455.5 107.5h0M309.1 88.2h0M373.2 104.5h0M314.9 87.9h0M375.3 108.0h0M381.4 109.1h0M378.2 100.8h0M416.7 113.0h0M380.4 125.0h0M367.7 118.1h0M332.2 113.4h0M320.7 85.8h0M313.3 102.6h0M343.5 108.1h0M372.6 109.3h0M333.9 115.6h0M431.6 110.3h0M324.8 104.3h0M332.8 118.4h0M373.9 108.2h0M309.3 106.6h0M334.6 117.8h0M376.8 109.7h0M353.3 115.5h0M328.0 110.6h0M319.5 105.0h0M374.4 114.6h0M434.0 115.5h0M356.0 118.9h0M325.4 119.0h0M308.3 80.1h0M329.6 113.0h0M330.1 74.7h0M356.1 116.1h0M364.1 101.6h0M323.2 107.2h0M354.6 115.3h0M328.2 76.0h0M414.0 112.4h0M390.3 99.2h0M352.8 108.6h0M344.7 110.0h0M386.2 122.0h0M328.4 115.6h0M362.3 113.0h0M379.7 105.2h0M349.7 76.5h0M337.8 118.4h0M326.3 103.3h0M379.2 119.4h0M326.8 112.9h0M329.8 114.0h0M312.0 81.1h0M326.4 109.4h0M354.6 111.5h0M319.4 87.5h0M338.3 112.8h0M357.1 109.4h0M325.8 111.6h0M357.9 108.3h0M309.3 110.2h0M342.5 120.1h0M354.0 118.4h0M320.5 103.4h0M396.3 112.0h0M381.7 115.2h0M410.3 111.2h0M350.4 103.8h0M321.3 103.8h0M323.0 119.2h0M349.1 105.5h0M376.4 93.0h0M332.2 120.9h0M351.5 120.3h0M342.4 115.5h0M376.3 111.4h0M394.5 118.9h0M324.8 98.4h0M332.5 118.6h0M384.2 116.9h0M378.7 113.5h0M330.6 114.1h0M318.4 69.1h0M308.8 109.9h0M332.8 106.3h0M374.4 114.3h0M331.1 101.1h0M389.3 121.0h0M356.3 113.2h0M333.8 120.8h0M350.5 114.2h0M321.1 116.6h0M351.4 119.8h0M328.2 111.6h0M349.6 98.2h0M377.8 113.0h0M360.4 104.3h0M430.7 110.1h0M325.6 100.9h0M329.6 113.5h0M342.2 114.5h0M393.8 115.2h0M371.7 109.1h0M318.0 106.8h0M326.6 112.2h0M326.4 109.4h0M339.8 118.3h0M333.5 113.4h0M369.5 115.8h0M361.5 110.9h0M321.7 102.6h0M454.0 110.2h0M361.8 118.7h0M379.6 97.2h0M361.6 116.1h0M362.6 121.7h0M357.1 108.3h0M360.2 111.0h0M327.1 111.7h0M318.3 102.3h0M352.7 109.1h0M372.7 80.6h0M377.0 104.1h0M341.0 111.7h0M310.6 31.9h0M365.2 115.5h0M343.2 111.4h0M308.9 109.6h0M390.3 121.7h0M311.7 109.6h0M407.2 111.9h0M350.8 114.7h0M405.3 112.4h0M320.7 109.2h0M464.3 106.5h0M329.5 117.4h0M311.3 92.8h0M369.6 116.2h0M393.9 111.5h0M321.9 101.2h0M393.6 117.2h0M327.3 105.6h0M320.1 114.4h0M339.4 112.8h0M332.6 118.7h0M364.8 112.4h0M314.0 63.7h0M339.7 108.4h0M374.3 114.3h0M327.6 120.2h0M380.4 113.0h0M344.1 115.7h0M353.8 115.6h0M375.6 116.1h0M420.1 107.5h0M436.9 116.7h0M309.0 99.7h0M335.1 113.7h0M339.0 118.4h0M384.1 115.8h0M324.5 114.0h0M348.2 80.7h0M357.0 119.2h0M398.5 115.4h0M316.1 113.3h0M344.3 118.0h0M360.1 106.8h0M322.4 108.9h0M364.5 117.6h0M339.1 116.8h0M390.9 100.4h0M378.1 115.7h0M334.4 113.8h0M365.6 118.4h0M370.4 122.8h0M371.2 108.0h0M337.0 121.9h0M402.1 110.6h0M324.7 115.2h0M315.4 95.1h0M337.7 111.5h0M327.2 105.4h0M359.6 118.7h0M348.9 120.3h0M456.8 113.9h0M341.3 104.1h0M390.2 110.6h0M350.4 105.6h0M316.6 105.4h0M383.0 116.0h0M311.5 98.6h0M374.3 113.9h0M410.6 123.3h0M364.9 105.5h0M401.6 119.8h0M397.8 112.7h0M395.2 116.7h0M331.4 108.2h0M363.3 115.4h0M394.0 117.2h0M363.6 109.5h0M323.8 108.5h0M335.8 121.7h0M360.8 111.8h0M323.3 91.2h0M353.1 117.4h0M313.4 109.5h0M309.1 95.9h0M346.5 111.4h0M330.4 116.0h0M356.4 119.6h0M370.0 119.3h0M318.5 119.4h0M349.7 110.7h0M440.7 107.9h0M438.7 105.1h0M439.2 109.6h0M341.9 118.0h0M330.2 119.2h0M308.6 49.5h0M363.9 112.4h0M324.0 101.8h0M348.8 104.6h0M314.0 96.1h0M308.9 82.6h0M319.1 99.9h0M339.2 116.7h0M331.1 115.4h0M370.7 115.8h0M317.5 103.5h0M325.0 109.8h0M361.8 101.1h0M346.7 112.0h0M338.7 46.2h0M336.5 106.0h0M331.8 116.1h0M309.1 95.9h0M326.1 109.0h0M336.0 109.5h0M400.5 114.6h0M393.9 109.5h0M336.6 116.4h0M309.2 110.6h0M342.1 107.0h0M320.5 106.4h0M376.9 111.4h0M340.7 111.1h0M377.7 110.3h0M352.0 95.4h0M349.4 113.7h0M365.6 117.3h0M315.1 112.2h0M365.7 114.7h0M329.8 116.2h0M325.9 109.1h0M446.1 120.5h0M411.7 115.0h0M361.3 122.1h0M344.7 117.7h0M337.5 92.3h0M352.3 109.3h0M330.1 123.1h0M344.4 116.7h0M324.4 103.2h0M330.2 107.4h0M356.0 97.9h0M322.1 114.2h0M398.2 119.1h0M409.3 114.0h0M341.8 107.7h0"/><path d="M329.7 117.2h0M338.0 115.3h0M355.1 114.4h0M378.3 97.3h0M320.5 116.0h0M349.0 97.5h0M309.3 89.1h0M347.6 109.2h0M309.1 75.8h0M342.9 119.9h0M349.2 112.0h0M357.9 107.5h0M335.1 113.9h0M375.4 114.4h0M364.3 119.5h0M327.3 91.9h0M330.9 112.8h0M409.9 107.4h0M319.4 112.7h0M396.1 115.5h0M340.6 112.0h0M325.5 107.5h0M372.5 111.5h0M382.5 111.4h0M353.9 117.6h0M458.0 108.2h0M333.9 112.6h0M314.1 108.5h0M317.4 113.1h0M328.8 120.3h0M405.6 105.8h0M350.2 117.0h0M412.1 111.5h0M377.7 112.7h0M309.4 107.0h0M363.5 115.4h0M498.1 119.1h0M370.1 106.5h0M390.2 113.4h0M474.0 119.6h0M383.1 104.6h0M383.4 93.6h0M438.6 114.9h0M422.4 119.1h0M332.2 121.9h0M373.4 105.7h0M321.9 105.7h0M357.2 102.3h0M309.0 44.5h0M342.3 123.5h0M329.4 91.6h0M390.0 111.3h0M338.5 113.4h0M331.1 114.0h0M481.8 108.1h0M308.8 96.4h0M378.5 116.2h0M334.7 116.7h0M425.5 101.2h0M353.3 110.1h0M332.1 109.7h0M329.5 112.1h0M315.7 113.0h0M325.4 101.9h0M376.9 118.2h0M376.0 110.8h0M333.8 114.7h0M346.5 113.7h0M326.8 119.3h0M341.1 117.8h0M334.6 115.1h0M401.5 114.4h0M372.0 114.9h0M350.6 109.4h0M361.9 115.3h0M319.0 112.2h0M328.9 115.6h0M408.1 114.3h0M316.7 96.6h0M331.1 106.9h0M367.6 115.2h0M309.0 91.1h0M378.7 114.9h0M320.4 108.4h0M371.7 120.3h0M344.7 116.7h0M419.2 118.5h0M411.2 118.6h0M386.3 120.9h0M398.7 114.8h0M311.3 114.0h0M357.8 110.5h0M350.5 113.4h0M325.4 105.7h0M308.9 87.4h0M311.0 105.2h0M413.7 107.7h0M377.7 119.3h0M325.8 106.0h0M317.3 104.7h0M313.0 109.3h0M327.7 107.1h0M368.1 116.8h0M316.6 106.6h0M353.8 116.1h0M413.8 113.2h0M377.2 115.5h0M315.9 119.0h0M357.8 111.8h0M369.6 120.9h0M448.3 122.6h0M433.4 120.5h0M377.7 108.1h0M320.6 112.3h0M340.1 99.9h0M407.5 122.2h0M328.8 105.3h0M308.7 105.4h0M333.4 110.0h0M318.2 104.8h0M337.6 90.1h0M336.1 106.3h0M402.1 115.1h0M309.2 107.8h0M371.9 117.7h0M326.5 104.6h0M386.3 94.7h0M311.1 104.6h0M352.4 110.3h0M317.6 103.5h0M328.0 112.4h0M310.6 86.0h0M348.7 113.3h0M335.4 114.7h0M328.7 114.5h0M392.9 114.1h0M386.0 118.0h0M320.0 115.5h0M365.0 104.8h0M347.1 106.2h0M424.6 117.5h0M348.5 116.4h0M332.0 116.3h0M331.2 98.7h0M319.7 108.6h0M337.2 110.2h0M343.9 111.8h0M311.4 85.0h0M342.0 98.5h0M325.9 111.4h0M385.8 119.2h0M321.9 109.1h0M327.1 99.3h0M403.1 119.7h0M327.3 97.5h0M391.3 110.3h0M360.6 115.5h0M337.3 108.6h0M340.8 113.4h0M386.9 116.3h0M368.1 112.8h0M355.2 118.4h0M414.3 118.3h0M328.0 110.5h0M470.5 110.4h0M355.4 109.1h0M411.4 121.5h0M322.5 90.9h0M390.0 107.8h0M422.7 118.0h0M336.6 112.8h0M486.9 114.8h0M390.5 117.0h0M341.3 110.4h0M309.2 87.2h0M450.2 120.1h0M354.4 104.8h0M349.5 98.0h0M403.3 117.6h0M377.3 122.8h0M324.6 112.4h0M362.0 98.6h0M309.1 103.3h0M363.8 114.9h0M317.1 91.6h0M337.6 119.8h0M324.4 108.5h0M324.5 117.4h0M317.6 111.3h0M387.5 112.5h0M463.2 112.6h0M394.5 111.2h0M322.7 100.8h0M387.6 117.5h0M360.5 122.7h0M312.5 51.5h0M400.5 106.1h0M378.6 112.7h0M425.1 115.4h0M323.7 91.9h0M365.5 120.2h0M344.6 112.4h0M392.4 118.6h0M311.7 95.5h0M400.9 118.6h0M350.0 116.3h0M339.0 110.7h0M344.6 99.6h0M459.3 115.2h0M403.1 115.2h0M391.1 114.9h0M353.0 119.8h0M362.2 103.0h0M334.1 112.2h0M364.8 116.3h0M342.2 113.9h0M350.2 114.3h0M322.4 116.4h0M338.8 118.7h0M313.0 42.8h0M355.8 106.0h0M357.2 113.7h0M324.2 24.6h0M400.3 112.9h0M327.7 105.2h0M336.6 113.0h0M373.1 114.1h0M370.3 104.2h0M335.2 118.7h0M335.8 111.8h0M317.8 118.7h0M387.4 113.9h0M330.6 120.1h0M324.7 108.6h0M337.6 114.3h0M334.5 109.4h0M360.8 117.8h0M330.5 107.0h0M339.8 117.5h0M363.8 101.6h0M328.1 106.9h0M349.4 96.7h0M375.1 119.2h0M485.3 117.5h0M406.7 121.6h0M335.6 115.4h0M315.2 106.5h0M365.6 118.9h0M416.8 104.6h0M410.7 112.6h0M359.2 112.4h0M309.2 105.7h0M312.1 94.7h0M344.9 106.8h0M363.2 107.1h0M367.3 118.2h0M342.7 118.5h0M319.0 99.8h0M366.6 101.2h0M457.1 113.5h0M373.8 119.5h0M312.1 95.6h0M359.9 114.6h0M493.7 105.1h0M368.2 115.2h0M405.5 114.6h0M332.7 119.7h0M309.2 102.4h0M339.0 111.0h0M382.4 110.3h0M345.1 112.3h0M322.6 101.1h0M309.1 107.4h0M309.1 108.7h0M313.9 84.7h0M407.1 104.4h0M373.8 115.6h0M385.9 119.3h0M372.4 109.7h0M310.8 108.4h0M424.3 117.6h0M379.5 116.2h0M361.8 117.9h0M386.5 108.9h0M373.2 115.2h0M340.4 100.3h0M428.7 116.2h0M328.3 119.8h0M382.3 122.0h0M390.3 102.2h0M366.7 123.7h0M349.5 117.0h0M341.7 108.9h0M426.4 120.1h0M391.0 108.8h0M330.2 98.7h0M364.3 93.6h0M378.9 117.6h0M317.0 108.4h0M319.5 99.0h0M385.8 112.9h0M349.4 95.7h0M309.2 113.1h0M359.1 123.3h0M405.2 109.8h0M336.0 111.6h0M360.4 120.5h0M322.4 116.0h0M320.9 116.7h0M372.6 118.7h0M357.1 72.0h0M374.2 113.2h0M328.9 110.7h0M324.2 120.5h0M376.3 106.3h0M358.2 106.2h0M336.7 111.3h0M307.6 28.0h0M344.6 104.6h0M364.1 114.9h0M333.9 104.4h0M335.3 112.1h0M338.6 103.4h0M390.5 117.9h0M310.5 95.1h0M324.6 106.3h0M359.4 113.9h0M372.7 104.6h0M354.5 114.5h0M329.4 112.4h0M359.4 112.2h0M334.4 111.4h0M321.2 109.2h0M401.2 97.9h0M415.2 114.7h0M369.6 120.1h0M352.0 115.7h0M340.5 122.2h0M352.3 112.0h0M382.1 112.6h0M320.2 113.7h0M424.9 114.9h0M459.6 121.0h0M364.4 116.9h0M310.6 88.6h0M315.0 113.2h0M357.9 108.0h0M329.2 116.7h0M319.5 103.9h0M336.4 116.4h0M336.4 103.3h0M331.0 108.8h0M340.1 112.0h0M331.0 116.0h0M349.0 116.2h0M331.0 110.6h0M364.5 109.2h0M353.8 114.1h0M417.3 111.6h0M348.7 99.9h0M327.9 116.3h0M327.6 120.0h0M334.0 112.9h0M375.8 115.8h0M443.6 94.8h0M394.0 113.1h0M361.2 119.8h0M338.1 114.8h0M339.0 110.6h0M483.5 118.4h0M386.2 112.2h0M416.0 118.4h0M360.5 107.7h0M311.4 97.0h0M325.4 89.1h0M357.8 107.6h0M335.3 117.9h0M337.4 118.7h0M448.5 110.9h0M358.1 106.3h0M367.5 117.3h0M305.6 61.1h0M337.4 109.5h0M347.6 116.7h0M351.7 117.3h0M329.1 107.2h0M339.6 118.8h0M349.8 117.8h0M363.2 105.9h0M336.5 118.8h0M311.3 103.2h0M308.9 95.9h0M369.2 105.8h0M338.3 122.2h0M363.3 110.6h0M343.3 109.1h0M365.9 120.5h0M356.0 116.1h0M428.5 115.2h0M336.9 107.2h0M377.8 122.4h0M429.0 114.9h0M366.5 115.3h0M330.1 101.1h0M357.3 113.5h0M403.9 113.5h0M339.3 116.7h0M452.0 114.7h0M322.7 115.8h0M371.0 104.9h0M321.5 112.8h0M384.7 116.6h0M362.4 108.3h0M382.5 122.4h0M404.9 110.4h0M374.4 121.2h0M410.3 116.3h0M324.4 106.1h0M346.1 112.5h0M315.0 88.3h0M404.2 103.6h0M374.4 113.9h0M367.1 119.0h0M322.2 111.5h0M390.6 120.4h0M331.9 115.3h0M421.4 111.1h0M328.5 93.1h0M317.3 114.2h0M320.1 112.2h0M340.8 104.0h0M351.9 119.6h0M349.8 111.4h0M349.1 111.7h0M315.7 102.7h0M342.4 114.5h0M344.5 83.7h0M308.9 106.5h0M309.0 105.1h0M309.5 101.9h0M360.8 116.9h0M384.0 118.6h0M328.9 101.4h0M316.2 105.4h0M330.1 113.7h0M346.0 107.8h0M344.3 117.0h0M426.7 115.6h0M391.8 112.5h0M330.9 110.7h0M401.4 125.0h0M479.4 113.0h0M350.3 119.9h0M365.1 115.4h0M343.4 105.8h0M336.7 105.6h0M319.7 107.1h0M355.1 115.9h0M309.7 106.7h0M325.0 107.9h0M309.0 106.0h0M333.7 113.6h0M308.8 102.8h0M398.0 112.3h0M378.7 121.5h0M417.2 118.3h0M312.9 111.1h0M400.5 103.2h0M326.1 101.4h0M398.5 115.8h0M370.1 111.5h0M311.6 96.0h0M316.8 115.1h0M342.7 112.9h0M357.7 96.0h0M318.5 104.7h0M349.6 121.8h0M391.2 113.8h0M308.8 105.5h0M339.5 121.0h0M418.4 114.2h0M316.5 105.2h0M322.5 113.3h0M336.5 112.7h0M348.4 115.4h0M364.9 114.9h0M332.4 63.8h0M371.7 118.4h0M464.8 110.5h0M323.8 116.5h0"/><path d="M429.9 111.4h0M346.6 112.7h0M315.9 106.9h0M309.2 105.9h0M343.0 108.1h0M417.4 119.2h0M340.9 112.5h0M335.5 115.4h0M338.7 97.8h0M343.1 108.5h0M349.9 108.2h0M315.6 62.8h0M425.6 109.9h0M309.0 90.1h0M377.6 118.9h0M314.2 104.7h0M329.4 109.9h0M346.1 107.9h0M309.2 73.8h0M369.7 111.5h0M356.7 113.7h0M319.3 119.5h0M380.2 118.6h0M431.2 112.8h0M378.6 122.3h0M391.0 92.5h0M323.5 117.8h0M314.7 98.0h0M358.5 110.0h0M315.9 101.0h0M322.3 109.9h0M358.7 115.2h0M308.3 57.4h0M411.5 112.6h0M325.8 115.0h0M400.3 117.4h0M338.8 112.3h0M381.2 113.3h0M471.2 108.6h0M334.2 118.5h0M373.8 117.8h0M356.4 117.7h0M443.3 103.9h0M362.7 104.1h0M414.2 106.6h0M325.7 94.7h0M348.3 115.3h0M319.0 90.3h0M377.5 121.3h0M348.3 107.7h0M409.5 115.0h0M320.7 111.1h0M380.6 111.4h0M358.3 114.2h0M389.5 116.9h0M381.9 91.3h0M339.7 105.2h0M336.3 114.6h0M317.4 96.8h0M349.6 111.1h0M352.8 100.8h0M324.7 115.2h0M317.7 117.0h0M348.8 114.6h0M341.6 111.8h0M338.1 110.8h0M326.0 108.5h0M376.9 118.0h0M329.8 110.1h0M339.8 107.4h0M408.0 118.3h0M362.4 102.9h0M319.6 88.9h0M417.4 115.3h0M311.6 104.8h0M309.0 31.1h0M386.1 101.9h0M387.3 115.7h0M334.9 115.0h0M322.4 99.8h0M373.7 116.2h0M317.9 94.9h0M384.6 115.1h0M418.3 101.2h0M353.7 118.7h0M368.2 99.8h0M382.7 117.8h0M445.0 105.8h0M393.8 113.4h0M308.7 100.2h0M309.0 102.9h0M316.1 45.3h0M349.1 110.3h0M383.9 116.5h0M377.5 111.8h0M331.5 115.9h0M390.6 110.9h0M350.2 117.6h0M357.5 114.5h0M448.7 119.6h0M335.6 120.0h0M323.4 111.7h0M313.1 46.4h0M309.6 105.8h0M333.8 110.1h0M362.0 113.2h0M367.4 118.9h0M376.3 111.5h0M318.2 104.4h0M335.4 110.7h0M315.8 77.9h0M410.2 114.6h0M377.7 116.3h0M354.0 121.7h0M321.9 113.0h0M382.8 113.9h0M455.7 109.4h0M319.9 103.5h0M328.0 120.7h0M322.9 111.7h0M326.8 103.8h0M313.2 103.5h0M357.2 119.3h0M446.7 117.6h0M379.4 113.6h0M376.1 110.3h0M360.5 102.2h0M386.4 107.9h0M332.5 111.4h0M367.7 115.5h0M355.9 113.8h0M335.6 109.4h0M317.7 106.2h0M362.1 112.6h0M332.5 110.9h0M413.7 113.9h0M344.0 117.1h0M315.8 105.0h0M392.1 113.7h0M370.3 121.2h0M398.8 107.9h0M441.3 115.8h0M341.8 108.5h0M355.5 97.7h0M360.3 114.6h0M331.0 102.2h0M476.1 117.4h0M387.0 119.2h0M471.9 115.8h0M394.8 117.7h0M389.3 113.3h0M380.0 115.4h0M349.4 111.2h0M381.2 115.7h0M328.1 114.1h0M346.9 113.0h0M354.5 73.1h0M321.3 107.0h0M445.9 118.2h0M345.1 118.2h0M336.9 106.3h0M415.5 118.7h0M337.7 116.7h0M464.9 113.3h0M315.6 100.7h0M366.0 110.1h0M322.5 108.4h0M312.2 79.1h0M308.9 89.2h0M322.1 119.0h0M335.1 111.8h0M332.8 120.3h0M315.4 104.8h0M341.4 108.9h0M366.0 109.7h0M339.2 117.7h0M433.7 109.5h0M372.2 115.8h0M364.6 115.6h0M355.7 112.3h0M348.9 120.1h0M340.2 119.6h0M309.2 107.0h0M317.3 107.4h0M354.0 110.4h0M325.7 119.0h0M402.1 120.7h0M344.5 115.0h0M316.6 84.8h0M345.7 113.2h0M318.8 113.8h0M373.5 112.8h0M349.2 112.3h0M335.8 113.7h0M326.7 92.6h0M379.8 106.6h0M334.5 119.4h0M324.8 111.8h0M361.2 104.4h0M365.9 116.1h0M383.4 119.5h0M492.8 114.4h0M384.9 112.1h0M385.1 111.0h0M357.5 112.0h0M359.4 119.6h0M355.5 117.2h0M455.7 108.2h0M309.2 35.4h0M367.1 102.3h0M392.9 114.7h0M352.9 105.6h0M338.1 112.0h0M309.2 105.5h0M309.0 109.1h0M373.9 117.1h0M322.3 105.9h0M343.3 120.1h0M368.1 108.5h0M312.9 73.3h0M352.2 118.0h0M331.6 111.1h0M311.2 85.2h0M344.6 118.7h0M342.3 110.0h0M365.9 110.5h0M397.8 115.7h0M309.2 54.7h0M327.9 114.0h0M354.3 109.5h0M338.4 117.5h0M379.0 109.0h0M458.6 109.9h0M320.7 102.7h0M320.3 86.6h0M347.4 119.8h0M309.4 112.0h0M308.6 111.7h0M474.8 103.2h0M340.8 104.4h0M356.7 112.6h0M347.3 116.9h0M347.8 105.2h0M323.3 106.3h0M332.5 118.6h0M351.2 110.5h0M326.4 115.9h0M355.3 118.2h0M315.9 110.2h0M368.9 110.4h0M382.6 109.9h0M375.8 61.3h0M325.9 107.3h0M372.0 120.6h0M309.0 103.0h0M341.4 122.8h0M343.5 106.2h0M409.5 109.8h0M337.2 107.9h0M319.2 98.8h0M403.9 106.6h0M348.6 116.2h0M326.7 64.2h0M333.0 118.7h0M361.9 112.2h0M369.8 122.2h0M392.4 107.4h0M318.8 112.6h0M365.9 107.5h0M362.4 117.9h0M326.0 111.6h0M456.7 108.5h0M417.4 117.2h0M455.5 108.1h0M381.6 120.3h0M328.0 119.6h0M347.0 119.2h0M423.5 120.1h0M394.7 114.9h0M328.5 94.9h0M338.1 110.8h0M415.1 116.4h0M405.7 107.8h0M342.2 113.0h0M377.7 105.1h0M312.0 104.3h0M326.2 112.3h0M337.0 116.0h0M395.4 100.5h0M324.1 103.1h0M369.8 95.6h0M334.1 118.9h0M392.3 113.4h0M319.2 118.8h0M330.6 110.7h0M402.4 110.9h0M378.9 114.1h0M381.3 117.8h0M373.8 119.3h0M347.9 108.9h0M346.5 117.2h0M331.0 111.6h0M394.6 117.0h0M324.4 53.7h0M332.1 101.0h0M414.4 113.7h0M326.2 100.3h0M348.5 114.9h0M344.1 97.9h0M315.0 112.0h0M381.6 112.5h0M309.2 111.0h0M393.5 101.2h0M312.3 113.8h0M376.3 110.5h0M396.6 115.2h0M362.3 104.8h0M373.0 117.1h0M438.2 117.1h0M337.8 115.8h0M324.2 105.7h0M360.0 118.3h0M331.8 100.3h0M357.9 115.1h0M348.7 116.1h0M419.5 114.0h0M431.3 118.4h0M379.5 123.5h0M308.9 109.6h0M333.2 99.7h0M364.0 119.2h0M403.9 119.3h0M309.0 87.3h0M334.9 108.7h0M374.9 111.4h0M442.3 112.9h0M370.7 118.5h0M374.8 114.0h0M342.4 110.4h0M372.3 114.8h0M344.7 116.4h0M368.6 111.8h0M317.8 102.5h0M361.3 113.2h0M353.8 121.7h0M349.0 118.8h0M347.6 107.6h0M339.8 106.5h0M328.3 102.5h0M328.7 116.5h0M449.8 106.0h0M334.7 116.1h0M326.8 121.7h0M391.2 116.0h0M413.4 114.5h0M346.9 114.8h0M376.7 113.6h0M323.2 115.9h0M333.7 110.7h0M324.4 112.1h0M322.1 112.6h0M367.5 112.8h0M364.0 118.5h0M383.2 117.0h0M359.9 111.6h0M317.6 109.9h0M335.0 114.8h0M359.5 117.1h0M359.1 96.7h0M355.3 115.0h0M353.5 118.5h0M373.2 120.4h0M483.8 112.9h0M326.5 112.9h0M335.7 114.5h0M393.4 119.3h0M450.7 108.1h0M355.3 111.8h0M329.8 111.5h0M383.7 118.2h0M339.6 110.9h0M324.1 94.5h0M368.2 115.5h0M331.1 116.8h0M350.3 106.6h0M354.8 115.2h0M328.0 118.6h0M326.4 112.9h0M321.4 115.5h0M383.7 109.0h0M344.4 111.0h0M423.3 119.9h0M355.1 114.0h0M317.4 90.4h0M313.7 76.6h0M346.5 115.7h0M363.1 120.6h0M309.1 111.5h0M315.0 92.8h0M337.7 102.2h0M330.3 114.3h0M400.2 115.2h0M342.2 115.6h0M353.8 91.4h0M399.5 114.9h0M348.5 86.1h0M370.1 108.7h0M312.0 27.1h0M376.7 117.4h0M418.6 119.9h0M366.7 112.1h0M343.2 116.0h0M342.1 102.0h0M317.0 117.5h0M317.2 98.5h0M444.3 119.4h0M325.2 114.7h0M339.9 45.4h0M349.5 107.6h0M342.3 120.0h0M322.9 116.6h0M333.0 113.8h0M330.6 113.9h0M367.9 106.5h0M352.0 114.0h0M321.4 100.9h0M382.8 112.3h0M377.4 119.3h0M375.2 119.1h0M371.5 114.1h0M389.3 114.8h0M411.1 115.4h0M429.3 115.5h0M326.4 79.9h0M362.1 110.5h0M350.2 112.1h0M388.4 118.0h0M342.6 111.6h0M315.9 107.4h0M353.9 120.0h0M308.9 103.9h0M330.7 103.4h0M351.1 117.6h0M328.0 105.4h0M344.7 117.1h0M323.9 112.3h0M439.4 117.8h0M333.3 121.9h0M323.4 111.4h0M337.7 110.1h0M350.3 114.6h0M434.0 115.8h0M347.3 102.4h0M350.7 114.9h0M309.2 43.6h0M327.2 113.1h0M419.3 117.2h0M320.6 117.3h0M340.1 119.9h0M358.4 117.1h0M364.9 117.9h0M338.0 114.6h0M369.3 109.7h0M315.5 105.4h0M376.3 109.5h0M369.0 119.8h0M431.9 117.3h0M355.7 110.2h0M327.4 114.0h0M355.9 112.4h0M316.9 93.3h0M318.6 29.6h0M350.2 115.1h0M388.0 119.2h0M363.4 117.8h0M332.3 106.8h0M443.8 111.0h0M317.0 99.3h0M316.7 121.3h0M337.1 118.5h0M328.9 101.6h0M414.4 102.6h0M351.0 118.1h0M386.9 115.1h0M351.0 119.7h0M309.5 109.9h0M314.1 92.8h0M430.6 117.8h0M347.3 106.0h0M423.8 117.9h0"/><path d="M351.8 112.7h0M328.6 133.8h0M334.5 107.2h0M345.0 122.9h0M358.2 116.2h0M374.3 98.8h0M370.7 114.8h0M358.1 102.2h0M390.6 113.9h0M330.5 111.3h0M496.2 95.7h0M309.5 96.9h0M361.1 94.5h0M332.4 111.0h0M468.3 113.1h0M329.0 120.4h0M347.6 116.4h0M317.6 111.3h0M372.4 108.0h0M382.4 112.1h0M470.4 112.3h0M317.5 119.2h0M316.1 100.5h0M317.3 109.6h0M364.8 108.7h0M413.8 111.1h0M324.2 101.4h0M330.5 100.4h0M348.0 121.4h0M371.3 111.7h0M337.9 112.0h0M356.6 97.3h0M474.9 114.6h0M420.1 113.1h0M490.9 117.0h0M377.7 114.1h0M341.0 110.7h0M324.6 120.6h0M309.4 86.9h0M329.8 118.8h0M348.7 115.0h0M386.3 114.9h0M362.8 109.3h0M347.2 113.9h0M342.9 114.9h0M395.8 106.1h0M398.9 120.2h0M384.3 121.3h0M361.4 104.9h0M368.2 106.2h0M318.4 85.6h0M364.5 112.6h0M334.9 102.7h0M349.8 113.5h0M386.3 115.0h0M370.0 111.1h0M347.9 115.3h0M411.9 120.0h0M327.3 101.2h0M313.0 108.0h0M325.6 105.9h0M359.2 111.2h0M350.4 111.4h0M309.4 84.8h0M429.8 116.5h0M331.5 109.3h0M354.4 110.5h0M363.5 124.3h0M317.6 116.2h0M368.5 107.0h0M374.7 117.6h0M337.7 117.4h0M316.5 107.9h0M363.5 124.1h0M373.0 113.1h0M352.5 116.4h0M326.4 104.5h0M337.0 99.7h0M330.4 95.6h0M385.3 110.6h0M326.4 86.4h0M309.3 86.9h0M309.0 96.6h0M332.6 110.4h0M351.2 117.5h0M308.9 105.4h0M410.1 110.0h0M349.4 107.2h0M402.2 98.8h0M337.4 114.3h0M364.0 114.2h0M335.2 113.9h0M422.3 121.0h0M338.5 103.6h0M311.7 94.9h0M327.2 120.5h0M313.9 99.5h0M328.3 110.9h0M480.8 108.1h0M346.5 104.1h0M338.9 107.7h0M341.8 117.6h0M342.6 113.2h0M363.4 109.4h0M327.1 93.9h0M316.7 89.0h0M332.4 112.4h0M332.9 114.7h0M352.1 118.4h0M352.3 112.9h0M327.5 103.8h0M348.4 123.8h0M326.3 112.5h0M334.2 118.3h0M359.9 102.6h0M374.9 109.3h0M309.3 95.8h0M316.8 61.1h0M434.5 118.9h0M327.7 104.3h0M362.3 120.5h0M338.3 115.1h0M461.4 113.8h0M327.2 121.6h0M339.9 121.2h0M349.0 104.7h0M375.8 119.5h0M318.8 108.7h0M347.1 120.9h0M384.6 108.2h0M407.3 120.9h0M354.7 113.4h0M413.2 124.3h0M353.4 121.9h0M375.4 110.2h0M362.6 117.8h0M339.4 110.4h0M316.0 67.6h0M400.9 116.8h0M354.1 110.5h0M367.0 120.3h0M324.7 97.9h0M314.1 92.4h0M361.3 113.8h0M327.2 94.2h0M318.8 97.4h0M340.3 114.9h0M339.1 125.2h0M331.2 117.8h0M401.8 119.5h0M374.8 112.3h0M316.2 94.8h0M312.7 104.6h0M312.0 108.5h0M325.1 98.0h0M358.6 117.2h0M326.9 114.3h0M336.1 117.3h0M418.7 117.6h0M319.7 113.6h0M323.2 112.0h0M374.3 118.5h0M320.5 99.1h0M383.7 105.4h0M395.1 116.7h0M354.9 115.4h0M319.8 120.7h0M372.8 114.0h0M319.0 101.7h0M405.5 113.9h0M348.3 106.8h0M333.7 114.2h0M403.3 107.7h0M377.3 111.1h0M323.0 109.0h0M316.0 89.8h0M316.6 113.6h0M354.0 108.9h0M330.2 102.6h0M319.0 117.2h0M333.2 105.9h0M327.2 107.1h0M342.4 113.3h0M308.6 100.9h0M318.0 82.5h0M365.1 124.1h0M397.7 117.9h0M444.6 119.4h0M328.3 113.9h0M387.1 115.7h0M326.9 109.8h0M385.1 115.4h0M403.5 110.8h0M311.4 81.9h0M320.2 85.7h0M370.0 119.5h0M314.8 112.6h0M327.7 112.5h0M420.0 112.7h0M315.0 101.3h0M412.5 120.0h0M309.3 96.7h0M347.6 102.4h0M336.3 112.7h0M442.1 111.8h0M409.4 114.6h0M379.0 117.6h0M364.9 97.4h0M343.8 116.9h0M331.9 110.4h0M351.9 116.3h0M310.8 94.4h0M339.6 111.0h0M347.0 114.8h0M378.5 123.0h0M394.8 113.8h0M337.0 108.9h0M341.6 116.9h0M375.1 119.0h0M321.1 118.0h0M312.4 110.0h0M373.2 106.1h0M360.0 120.7h0M362.4 122.9h0M309.1 95.0h0M330.4 119.3h0M340.2 119.7h0M352.3 113.8h0M334.7 71.5h0M374.7 116.7h0M351.0 119.8h0M453.9 115.8h0M308.6 93.4h0M324.5 115.3h0M374.4 106.4h0M406.3 109.9h0M383.7 119.8h0M417.5 108.1h0M495.3 119.7h0M332.9 112.7h0M335.9 115.7h0M369.7 120.0h0M377.9 95.4h0M320.3 93.0h0M334.2 115.8h0M340.1 105.6h0M324.7 119.4h0M340.2 112.5h0M355.0 119.7h0M309.7 26.2h0M439.9 113.8h0M326.0 115.2h0M316.5 111.4h0M483.2 116.1h0M456.9 116.3h0M316.3 100.7h0M326.9 114.6h0M311.4 48.2h0M374.4 77.9h0M334.4 117.3h0M379.6 116.6h0M317.0 113.2h0M360.5 112.5h0M361.9 115.2h0M322.2 75.7h0M352.9 121.1h0M445.9 116.4h0M350.5 109.8h0M345.9 112.6h0M313.4 114.7h0M364.5 114.7h0M351.8 122.3h0M412.9 118.4h0M328.4 113.7h0M364.9 114.2h0M324.5 113.1h0M371.6 118.2h0M363.6 113.1h0M310.2 118.0h0M419.9 109.7h0M321.3 114.9h0M339.0 113.7h0M364.2 92.0h0M383.3 116.6h0M339.1 112.7h0M349.5 107.7h0M364.3 114.1h0M322.3 116.6h0M347.8 100.6h0M367.3 111.9h0M337.7 103.6h0M381.8 112.8h0M310.8 89.1h0M316.3 82.6h0M331.8 110.5h0M327.4 106.1h0M345.6 110.4h0M363.0 107.7h0M471.2 112.6h0M319.2 103.6h0M321.1 85.4h0M425.9 101.9h0M323.9 107.4h0M374.8 113.4h0M374.5 120.0h0M364.0 120.4h0M355.1 118.9h0M314.2 101.9h0M316.2 110.5h0M425.2 121.4h0M336.7 110.2h0M320.5 98.5h0M340.8 105.7h0M314.3 113.6h0M381.7 115.2h0M335.8 115.3h0M364.9 117.0h0M336.5 111.9h0M322.2 114.6h0M345.9 118.2h0M355.7 110.0h0M398.2 112.8h0M322.7 116.1h0M389.5 113.1h0M314.6 98.8h0M327.0 90.8h0M310.9 98.0h0M309.4 79.5h0M338.1 112.0h0M443.6 117.6h0M351.0 114.7h0M368.1 101.7h0M349.6 124.7h0M319.4 99.1h0M427.4 119.0h0M394.8 114.1h0M359.3 116.3h0M323.0 83.0h0M330.0 116.3h0M382.3 104.7h0M347.8 114.5h0M338.3 112.9h0M371.0 112.4h0M336.2 114.7h0M321.6 115.5h0M340.4 109.1h0M400.2 113.1h0M400.0 116.1h0M330.9 107.8h0M438.4 111.5h0M341.6 114.0h0M331.0 102.9h0M456.9 113.9h0M335.3 102.5h0M337.4 116.8h0M431.6 118.4h0M364.3 115.3h0M335.7 118.7h0M341.7 102.5h0M375.2 114.8h0M309.4 105.2h0M344.7 117.0h0M334.4 116.0h0M385.6 118.0h0M329.6 113.8h0M310.2 66.6h0M325.4 99.9h0M352.7 111.7h0M360.2 102.2h0M346.3 112.2h0M404.3 113.8h0M383.3 105.6h0M500.1 107.3h0M380.6 120.4h0M322.9 104.8h0M393.8 116.7h0M349.4 104.2h0M383.7 114.7h0M314.7 78.8h0M362.8 123.4h0M324.8 91.9h0M319.1 105.7h0M335.4 97.8h0M366.7 117.6h0M309.6 109.9h0M348.2 118.3h0M418.6 49.2h0M337.8 111.7h0M373.2 109.3h0M335.1 94.6h0M349.4 118.3h0M388.6 96.5h0M393.1 122.0h0M347.4 111.2h0M312.1 112.5h0M319.0 56.4h0M326.8 105.9h0M346.0 115.3h0M319.0 105.7h0M376.0 101.2h0M350.2 108.8h0M324.8 117.2h0M324.8 115.0h0M330.2 115.2h0M323.7 109.0h0M366.0 119.2h0M462.1 112.2h0M369.8 112.7h0M317.2 104.0h0M373.0 116.5h0M328.9 109.8h0M436.1 117.0h0M437.5 97.4h0M362.3 116.3h0M341.1 113.2h0M367.3 109.3h0M443.5 115.3h0M449.0 108.5h0M419.2 109.5h0M312.3 98.3h0M343.4 112.9h0M336.7 115.4h0M332.9 114.4h0M350.8 104.8h0M380.3 105.7h0M365.7 118.9h0M331.7 114.7h0M341.6 106.6h0M316.2 104.3h0M335.1 106.0h0M389.9 109.8h0M332.7 113.4h0M328.6 87.8h0M327.1 117.3h0M347.1 113.5h0M346.6 115.2h0M368.1 112.1h0M326.3 118.6h0M326.3 106.6h0M317.4 106.8h0M329.7 113.0h0M385.0 117.5h0M366.7 116.4h0M393.7 114.9h0M335.5 122.2h0M431.0 106.8h0M363.6 102.5h0M335.6 108.4h0M404.9 116.2h0M330.6 114.7h0M379.2 122.4h0M311.8 77.6h0M309.6 79.2h0M351.7 111.8h0M328.3 119.3h0M380.2 91.3h0M314.5 95.9h0M365.9 116.4h0M309.2 106.0h0M362.4 114.0h0M312.6 88.9h0M433.6 120.0h0M360.4 120.9h0M342.0 107.2h0M324.6 31.2h0M330.0 99.9h0M308.5 114.5h0M341.9 119.2h0M310.8 70.6h0M325.0 49.2h0M310.0 77.3h0M373.5 100.8h0M358.6 117.1h0M336.3 107.0h0M357.2 109.5h0M360.2 111.5h0M328.3 112.7h0M338.2 55.6h0M316.7 110.5h0M349.6 111.5h0M339.9 110.8h0M388.5 118.5h0M332.5 114.5h0M328.6 118.5h0M343.7 104.0h0M333.4 116.4h0M373.7 121.9h0M323.0 106.7h0M419.0 113.3h0M332.1 107.8h0"/><path d="M402.5 118.6h0M382.8 111.7h0M308.0 56.0h0M368.1 107.1h0M326.5 85.8h0M350.7 112.0h0M312.3 109.4h0M320.5 105.5h0M344.5 93.3h0M312.4 91.6h0M343.4 106.0h0M332.9 112.8h0M337.4 117.6h0M335.5 117.2h0M343.2 123.1h0M325.3 99.3h0M341.5 109.6h0M369.7 113.6h0M316.0 109.3h0M471.5 120.6h0M400.9 115.1h0M380.1 112.4h0M354.0 109.9h0M320.1 117.4h0M310.9 42.2h0M341.4 108.3h0M402.8 122.0h0M363.7 108.2h0M368.6 112.2h0M359.8 118.7h0M343.8 115.4h0M340.3 116.8h0M382.7 109.4h0M465.1 112.7h0M329.2 108.1h0M350.7 118.4h0M332.4 121.7h0M397.1 112.4h0M403.9 117.2h0M422.5 119.4h0M347.4 101.7h0M374.5 121.4h0M355.0 113.7h0M368.9 111.9h0M383.5 119.8h0M324.7 109.8h0M327.7 111.4h0M349.8 120.6h0M338.0 116.6h0M332.8 114.2h0M343.9 113.1h0M473.9 118.4h0M314.4 108.3h0M351.9 119.3h0M353.1 114.7h0M408.6 110.5h0M375.3 104.4h0M354.7 109.4h0M427.4 110.1h0M326.7 115.2h0M331.4 119.0h0M351.1 116.9h0M365.9 115.4h0M329.9 113.7h0M339.6 116.9h0M393.7 110.9h0M381.0 112.6h0M459.3 117.9h0M338.2 117.7h0M376.9 116.7h0M365.1 123.5h0M357.4 120.5h0M349.1 101.0h0M329.9 111.6h0M322.1 117.6h0M341.6 112.8h0M428.4 113.5h0M361.1 98.6h0M349.0 112.3h0M311.7 110.4h0M337.6 117.1h0M359.9 106.5h0M399.2 120.2h0M342.7 112.4h0M316.6 104.2h0M387.5 108.5h0M335.4 115.1h0M320.6 97.7h0M322.7 113.1h0M373.3 114.6h0M371.6 117.6h0M381.6 104.0h0M470.9 101.4h0M377.2 120.4h0M337.2 117.0h0M349.6 123.1h0M378.4 119.3h0M372.7 109.3h0M353.7 111.3h0M428.2 101.3h0M330.8 113.9h0M322.7 116.7h0M374.7 107.7h0M353.6 114.7h0M364.4 119.0h0M340.6 106.9h0M338.4 113.3h0M363.2 116.6h0M351.9 106.3h0M372.7 122.8h0M393.5 113.5h0M380.1 113.6h0M369.9 120.3h0M387.2 112.1h0M327.0 119.5h0M340.2 117.2h0M389.4 111.1h0M394.5 112.4h0M309.0 106.1h0M403.8 117.4h0M389.6 100.4h0M327.2 119.3h0M349.6 116.3h0M384.3 112.1h0M349.7 110.4h0M357.7 101.7h0M450.9 118.0h0M321.6 109.9h0M458.2 117.4h0M381.5 118.3h0M407.5 109.9h0M410.7 117.7h0M312.6 106.4h0M352.7 108.5h0M336.1 109.7h0M339.9 116.9h0M322.5 76.6h0M332.9 109.3h0M378.1 105.4h0M322.1 109.0h0M330.4 105.5h0M360.6 113.8h0M324.4 108.4h0M331.9 121.0h0M318.7 109.8h0M324.2 101.3h0M358.5 114.2h0M417.6 101.0h0M361.3 109.7h0M340.9 116.8h0M327.5 112.2h0M367.5 113.2h0M494.4 114.1h0M320.0 118.9h0M317.2 109.3h0M315.9 112.3h0M330.8 74.9h0M340.4 108.7h0M315.6 103.8h0M384.3 121.4h0M364.9 117.1h0M352.1 120.1h0M344.8 111.1h0M319.4 94.7h0M476.8 120.4h0M322.9 113.4h0M319.0 117.9h0M366.4 113.4h0M364.2 109.0h0M411.6 116.6h0M336.4 118.0h0M335.1 114.1h0M347.7 116.2h0M444.9 104.4h0M318.9 114.0h0M363.7 115.8h0M340.7 108.8h0M347.0 121.0h0M322.4 101.1h0M380.2 117.5h0M314.1 53.7h0M412.4 104.9h0M316.1 107.5h0M321.9 105.7h0M327.9 107.9h0M309.2 96.8h0M346.2 116.8h0M324.9 108.5h0M323.3 105.7h0M312.4 106.2h0M366.0 116.0h0M331.3 93.9h0M310.0 92.2h0M383.9 118.0h0M398.8 121.1h0M368.8 114.4h0M387.9 117.5h0M309.0 109.2h0M339.9 114.1h0M376.5 113.6h0M481.4 118.6h0M341.5 112.1h0M397.7 111.5h0M323.8 120.9h0M357.0 108.4h0M377.1 111.9h0M333.5 115.6h0M308.5 93.1h0M334.0 108.4h0M326.9 107.9h0M328.4 111.2h0M313.8 101.2h0M317.1 110.9h0M336.1 99.2h0M417.6 116.3h0M357.0 113.1h0M487.3 116.7h0M336.8 111.8h0M327.2 98.5h0M364.6 118.2h0M329.8 111.3h0M332.6 113.7h0M340.9 101.5h0M383.6 115.8h0M309.0 96.4h0M394.2 119.6h0M327.9 108.7h0M339.4 110.8h0M343.9 116.2h0M480.4 118.4h0M402.8 114.7h0M331.5 99.4h0M323.6 111.0h0M394.1 110.5h0M371.1 113.1h0M445.8 121.1h0M417.0 113.7h0M359.0 119.2h0M372.5 114.1h0M360.8 105.0h0M319.4 100.3h0M356.3 113.4h0M339.3 115.5h0M317.3 76.2h0M431.5 92.0h0M323.4 101.8h0M343.6 91.5h0M350.4 115.5h0M372.3 101.6h0M390.2 117.0h0M337.2 102.7h0M346.2 116.7h0M376.7 119.7h0M327.3 119.5h0M377.7 110.9h0M318.2 74.0h0M382.3 103.6h0M431.5 117.9h0M341.4 104.9h0M327.0 108.2h0M345.7 105.5h0M309.2 91.1h0M308.8 107.5h0M311.6 98.6h0M320.4 114.5h0M397.0 114.2h0M336.4 113.7h0M325.9 116.0h0M329.0 111.3h0M348.9 60.1h0M389.8 114.4h0M354.9 111.4h0M309.0 108.2h0M459.2 109.8h0M361.3 112.6h0M316.6 86.8h0M380.1 116.3h0M313.5 110.4h0M339.2 102.4h0M349.7 112.2h0M317.0 86.8h0M335.8 105.7h0M328.2 105.8h0M332.5 118.7h0M352.3 114.1h0M452.2 119.0h0M356.9 110.7h0M312.9 117.2h0M409.8 105.6h0M355.5 116.3h0M354.3 115.3h0M332.3 122.9h0M341.0 107.1h0M340.3 110.8h0M323.0 102.6h0M326.2 108.8h0M333.2 119.1h0M340.3 119.3h0M310.1 108.8h0M408.6 119.1h0M344.8 114.6h0M350.0 113.5h0M479.1 124.7h0M326.6 118.6h0M362.2 107.2h0M326.0 106.2h0M330.4 89.9h0M310.6 97.4h0M331.9 112.5h0M453.5 112.9h0M328.8 100.5h0M351.1 117.5h0M334.4 116.0h0M331.6 87.5h0M359.7 107.9h0M333.1 113.0h0M440.8 117.9h0M376.4 105.8h0M327.0 116.4h0M392.1 117.5h0M384.1 111.5h0M309.0 108.9h0M336.0 108.7h0M338.3 118.5h0M431.0 116.8h0M308.9 106.4h0M329.1 116.9h0M322.9 88.4h0M343.5 117.9h0M357.7 91.3h0M414.5 112.8h0M386.6 109.6h0M310.6 27.0h0M364.3 113.0h0M413.2 106.7h0M345.1 114.9h0M364.7 113.9h0M325.6 120.8h0M350.2 110.2h0M313.6 101.5h0M365.3 114.7h0M483.9 115.1h0M423.3 98.6h0M320.0 114.7h0M381.9 109.8h0M471.5 112.5h0M329.5 112.8h0M430.7 110.3h0M316.0 105.7h0M333.5 122.1h0M352.8 105.5h0M393.1 72.4h0M339.1 114.0h0M430.0 109.9h0M334.8 104.7h0M339.5 111.7h0M453.0 108.6h0M366.1 109.4h0M461.8 116.8h0M312.1 103.4h0M312.0 88.2h0M335.2 105.3h0M335.2 106.6h0M357.1 110.1h0M318.0 109.9h0M336.7 119.9h0M329.0 118.9h0M328.8 118.1h0M318.4 109.6h0M364.4 111.3h0M309.0 112.3h0M331.9 118.3h0M374.3 118.0h0M310.9 102.0h0M404.1 111.1h0M341.2 107.8h0M358.0 113.4h0M339.5 116.9h0M367.8 109.3h0M373.0 108.4h0M314.9 92.3h0M428.0 117.2h0M312.9 102.6h0M328.6 108.2h0M346.3 99.8h0M367.0 102.1h0M316.0 112.7h0M369.6 110.2h0M323.4 101.1h0M327.4 120.0h0M338.0 117.3h0M338.6 109.0h0M314.0 106.7h0M312.1 67.5h0M344.5 118.5h0M313.5 97.3h0M339.8 114.2h0M374.2 117.0h0M394.6 118.8h0M329.6 104.6h0M332.7 110.1h0M368.6 117.3h0M308.8 103.2h0M350.2 107.4h0M375.2 114.8h0M341.3 97.3h0M323.9 114.2h0M390.0 103.9h0M342.1 116.5h0M356.8 99.9h0M411.2 111.8h0M323.2 107.7h0M329.6 111.4h0M334.7 117.6h0M322.3 107.6h0M343.8 118.6h0M313.7 106.0h0M317.3 98.0h0M327.0 118.8h0M340.6 116.4h0M378.2 113.7h0M318.3 105.5h0M326.7 103.5h0M331.3 111.5h0M406.5 102.5h0M327.8 113.0h0M349.3 106.6h0M355.1 109.2h0M350.6 112.3h0M349.0 118.0h0M313.2 40.2h0M366.7 92.3h0M315.6 105.7h0M400.7 105.8h0M338.8 114.3h0M345.4 119.7h0M329.3 118.3h0M330.0 97.7h0M362.6 115.0h0M400.8 114.5h0M343.4 113.6h0M327.3 116.4h0M348.9 117.1h0M386.7 117.4h0M351.3 112.0h0M337.8 112.3h0M364.0 106.0h0M340.4 119.5h0M356.3 122.6h0M372.0 120.0h0M358.4 115.3h0M313.8 32.7h0M345.1 116.4h0M333.0 112.0h0M444.7 119.8h0M328.4 105.0h0M345.8 109.9h0M360.0 117.8h0M446.8 111.6h0M349.1 102.8h0M320.6 95.3h0M319.2 121.2h0M446.5 116.4h0M371.6 110.2h0M395.2 104.4h0M308.7 110.4h0M335.0 101.9h0M309.0 106.6h0M329.2 109.6h0M341.1 102.5h0M316.3 112.9h0M331.9 116.6h0M320.1 105.5h0M395.8 119.0h0M328.0 108.3h0M371.5 115.2h0M348.3 107.1h0M340.3 120.5h0M358.2 115.9h0M308.8 102.1h0M327.8 86.0h0M311.4 106.7h0M318.9 105.6h0M473.3 118.7h0M332.6 109.9h0M340.9 115.6h0M347.4 114.4h0M387.2 112.5h0M341.7 118.4h0M309.2 109.1h0"/><path d="M328.7 116.7h0M382.0 99.7h0M379.5 87.5h0M381.3 110.3h0M347.1 119.2h0M378.7 109.2h0M352.7 106.5h0M464.5 98.3h0M399.2 117.8h0M383.9 114.3h0M393.9 119.5h0M375.1 104.8h0M361.7 114.0h0M360.5 110.0h0M306.1 78.5h0M309.0 100.6h0M355.9 118.1h0M315.3 103.5h0M344.4 112.5h0M354.8 119.1h0M370.4 109.9h0M309.3 111.4h0M426.5 118.7h0M367.3 112.7h0M340.5 113.2h0M342.7 113.8h0M360.7 105.2h0M347.0 78.4h0M382.5 114.0h0M449.3 110.6h0M339.6 116.6h0M339.8 116.4h0M323.5 111.8h0M330.7 109.6h0M426.6 105.7h0M367.4 110.5h0M379.2 120.6h0M350.8 110.4h0M428.0 121.8h0M356.9 103.3h0M320.4 114.3h0M355.6 118.1h0M309.4 81.4h0M327.4 110.4h0M333.8 112.9h0M455.9 104.4h0M352.7 114.8h0M308.2 62.7h0M373.0 120.1h0M309.3 69.4h0M370.1 105.3h0M333.0 112.2h0M366.3 121.4h0M352.5 121.1h0M350.4 112.6h0M342.3 121.2h0M323.1 69.8h0M320.3 108.9h0M351.9 118.2h0M368.0 104.7h0M315.4 110.5h0M353.6 121.9h0M341.3 112.6h0M308.8 89.1h0M386.4 112.1h0M373.5 112.5h0M372.9 114.8h0M403.2 116.0h0M357.3 117.6h0M346.4 120.1h0M370.1 109.3h0M348.3 110.4h0M407.4 120.6h0M308.8 94.2h0M394.1 123.1h0M339.1 113.3h0M357.8 118.6h0M409.8 116.8h0M358.2 116.2h0M387.7 116.7h0M381.2 121.0h0M347.8 111.8h0M460.2 113.3h0M362.8 119.5h0M378.0 107.5h0M346.1 64.1h0M350.7 110.2h0M345.3 119.6h0M323.8 110.5h0M353.3 115.7h0M386.1 110.4h0M384.7 105.6h0M356.1 116.8h0M360.8 108.4h0M493.6 111.7h0M342.5 98.5h0M331.3 103.1h0M378.1 115.2h0M309.0 109.0h0M451.3 117.1h0M342.0 107.5h0M339.4 94.1h0M369.5 113.9h0M365.8 120.9h0M404.3 115.6h0M327.7 113.6h0M320.5 97.5h0M314.4 94.8h0M495.1 118.5h0M338.7 99.8h0M327.9 111.4h0M456.8 115.3h0M369.9 109.0h0M347.1 117.6h0M354.8 81.8h0M375.8 103.6h0M411.6 111.2h0M309.4 111.2h0M351.8 111.5h0M486.7 113.3h0M337.1 119.6h0M317.8 115.7h0M336.3 112.0h0M397.0 114.0h0M333.2 104.2h0M440.8 122.7h0M342.1 117.1h0M313.7 99.0h0M340.6 104.7h0M388.3 111.1h0M383.3 115.1h0M360.8 104.7h0M324.0 119.1h0M334.3 109.4h0M306.9 30.2h0M334.5 110.6h0M349.5 114.4h0M335.7 119.1h0M321.8 86.0h0M329.5 111.0h0M309.3 103.5h0M415.3 114.7h0M322.5 111.9h0M462.9 111.6h0M325.7 101.8h0M378.0 110.2h0M309.1 99.7h0M347.5 116.1h0M473.0 104.8h0M314.8 86.1h0M383.7 113.5h0M346.5 122.1h0M363.8 110.2h0M319.3 112.4h0M333.9 113.2h0M374.2 120.4h0M358.1 105.1h0M339.9 115.4h0M309.5 96.8h0M313.9 96.4h0M349.4 118.3h0M317.4 110.7h0M367.1 109.9h0M373.8 107.4h0M341.5 111.3h0M360.7 111.4h0M353.6 88.5h0M343.4 114.9h0M340.4 100.1h0M351.7 113.1h0M349.6 103.4h0M310.5 32.2h0M360.0 112.3h0M415.3 106.9h0M314.6 98.9h0M364.0 107.1h0M429.5 116.6h0M353.8 117.6h0M330.9 115.9h0M337.8 106.9h0M400.6 110.9h0M364.5 119.7h0M377.1 104.2h0M423.9 117.9h0M436.7 111.7h0M464.4 116.6h0M378.8 121.3h0M319.2 112.5h0M394.0 99.1h0M324.9 109.1h0M426.4 111.8h0M348.8 97.3h0M340.4 111.1h0M319.1 107.1h0M394.5 108.9h0M370.6 106.4h0M377.5 112.6h0M325.8 111.2h0M353.7 103.6h0M346.6 120.3h0M350.0 115.9h0M317.9 119.1h0M372.9 117.5h0M340.2 117.9h0M322.7 65.1h0M377.8 112.3h0M397.0 112.3h0M342.1 115.6h0M371.6 120.2h0M336.3 75.7h0M359.7 114.9h0M371.7 112.7h0M333.4 108.9h0M324.4 121.1h0M320.0 114.3h0M323.1 116.9h0M363.0 107.0h0M379.5 114.2h0M317.4 106.2h0M343.6 114.0h0M477.8 115.4h0M378.2 116.4h0M348.1 115.9h0M338.1 111.0h0M323.0 113.2h0M425.5 103.3h0M445.1 117.2h0M350.2 109.1h0M309.1 104.2h0M364.8 103.0h0M335.5 117.9h0M331.5 81.0h0M316.7 118.0h0M356.7 114.0h0M309.3 88.0h0M340.7 116.0h0M385.3 102.7h0M442.7 120.9h0M319.8 116.5h0M342.1 123.2h0M325.4 109.3h0M388.1 117.2h0M356.4 113.0h0M383.6 115.0h0M323.4 111.4h0M379.3 112.4h0M360.1 103.8h0M383.0 118.6h0M327.2 111.0h0M325.9 121.5h0M328.2 119.5h0M312.5 105.1h0M379.2 117.3h0M435.5 115.3h0M354.9 115.0h0M312.1 95.3h0M312.3 111.8h0M441.4 116.4h0M356.6 71.4h0M337.5 109.9h0M375.1 120.6h0M351.7 115.9h0M328.1 113.6h0M361.3 117.7h0M321.5 114.8h0M377.5 111.5h0M351.6 111.2h0M323.5 57.7h0M331.3 116.3h0M393.5 121.1h0M372.7 107.1h0M353.3 108.4h0M316.4 99.9h0M379.3 118.8h0M383.4 111.5h0M339.5 107.9h0M422.8 109.3h0M368.3 114.9h0M366.1 106.7h0M324.9 116.1h0M388.2 115.4h0M405.1 103.6h0M320.4 96.1h0M324.4 65.2h0M308.9 104.5h0M376.7 119.9h0M370.8 116.4h0M379.8 113.7h0M309.2 104.8h0M343.8 115.2h0M356.2 111.9h0M343.0 112.0h0M364.1 112.2h0M467.4 117.0h0M332.7 114.3h0M431.2 105.4h0M329.4 104.0h0M310.4 95.9h0M358.6 119.3h0M429.0 116.6h0M392.6 112.4h0M381.3 116.4h0M466.7 120.6h0M343.1 117.9h0M341.5 122.8h0M323.9 114.7h0M312.8 122.8h0M407.3 114.9h0M309.2 99.8h0M399.2 111.6h0M343.8 105.8h0M346.5 103.1h0M350.0 91.7h0M384.2 121.6h0M315.3 98.3h0M412.6 111.3h0M322.3 111.1h0M354.7 107.3h0M340.0 92.9h0M328.7 101.7h0M341.5 114.8h0M309.5 106.8h0M339.0 109.2h0M441.5 115.8h0M342.9 110.7h0M394.4 111.1h0M318.5 106.7h0M320.6 62.1h0M491.0 90.8h0M394.8 118.7h0M338.7 111.5h0M315.0 107.4h0M419.6 103.7h0M359.6 111.4h0M358.6 119.1h0M313.6 57.1h0M368.3 108.5h0M382.8 122.4h0M337.4 107.9h0M370.4 100.4h0M329.0 105.0h0M316.6 118.3h0M353.5 98.6h0M324.4 106.8h0M333.5 108.8h0M345.1 114.5h0M320.9 119.6h0M382.2 113.5h0M336.3 118.4h0M316.7 111.3h0M370.3 121.7h0M376.3 116.5h0M348.1 103.5h0M337.8 115.9h0M421.5 97.2h0M342.1 112.9h0M379.9 113.3h0M314.0 103.8h0M323.8 114.0h0M337.4 102.9h0M387.4 112.4h0M317.4 112.1h0M428.9 115.9h0M350.0 112.4h0M398.5 101.0h0M368.1 109.5h0M330.4 100.8h0M316.6 114.6h0M320.3 116.3h0M332.2 118.8h0M405.5 109.7h0M351.9 120.8h0M355.6 116.4h0M328.2 113.3h0M363.2 97.5h0M403.3 106.9h0M399.9 108.5h0M322.1 94.4h0M477.8 120.8h0M405.0 116.8h0M386.6 112.0h0M318.0 104.8h0M338.9 119.3h0M344.4 119.0h0M417.6 105.1h0M360.0 103.5h0M308.9 109.4h0M395.8 116.8h0M343.0 120.6h0M339.1 121.3h0M350.7 118.8h0M357.2 104.7h0M386.2 113.6h0M324.4 109.0h0M314.1 100.4h0M355.5 118.5h0M466.8 113.1h0M323.0 109.2h0M352.9 113.0h0M314.1 105.5h0M444.1 113.0h0M350.7 122.8h0M309.8 59.4h0M350.6 110.3h0M340.0 111.4h0M483.5 84.9h0M393.5 113.3h0M358.3 109.1h0M338.0 102.4h0M338.0 107.5h0M354.6 114.8h0M333.3 114.8h0M354.7 108.6h0M319.2 110.4h0M365.5 102.3h0M390.4 117.7h0M328.5 108.2h0M317.8 87.1h0M402.4 115.8h0M309.4 111.7h0M319.0 104.6h0M333.2 114.5h0M402.7 117.6h0M367.7 111.4h0M375.2 114.0h0M338.9 113.8h0M380.1 116.2h0M330.6 99.8h0M341.0 102.1h0M335.5 119.3h0M364.8 103.6h0M327.6 108.0h0M319.7 114.4h0M335.1 106.2h0M334.5 115.4h0M320.2 82.1h0M369.0 114.1h0M401.9 109.3h0M395.6 114.9h0M386.2 109.8h0M311.5 80.1h0M315.1 102.8h0M340.8 114.6h0M349.7 110.6h0M324.6 114.0h0M367.1 116.6h0M340.3 120.9h0M326.9 113.2h0M322.5 119.1h0M342.2 116.6h0M308.8 86.1h0M309.0 34.0h0M347.1 113.0h0M314.2 103.4h0M421.8 110.1h0M324.5 92.2h0M341.8 92.1h0M362.3 119.0h0M325.6 106.0h0M321.8 97.3h0M389.9 106.0h0M364.0 114.9h0M368.4 118.5h0M430.8 117.0h0M384.0 106.5h0M317.4 108.7h0M387.6 121.9h0M334.6 98.0h0M396.8 106.2h0M337.5 92.5h0M319.9 116.5h0M374.5 115.1h0M381.7 109.4h0M377.5 119.0h0M467.9 118.1h0M376.1 116.0h0M431.2 114.8h0M371.5 120.9h0M349.6 117.4h0M327.7 117.9h0M419.9 113.6h0M320.8 101.6h0M415.5 111.2h0M335.6 109.5h0M420.0 112.0h0M359.3 104.7h0M386.9 111.0h0M458.5 111.6h0M349.7 111.4h0M321.7 90.1h0"/><path d="M332.8 117.3h0M413.5 115.1h0M368.3 108.0h0M363.1 108.7h0M411.5 116.1h0M340.2 114.9h0M326.9 119.7h0M392.8 118.8h0M321.6 101.3h0M329.0 119.9h0M336.0 119.5h0M330.2 100.5h0M327.1 117.0h0M318.6 97.1h0M363.4 119.2h0M339.5 102.7h0M342.8 108.2h0M353.6 109.5h0M434.4 123.4h0M369.1 114.5h0M374.9 114.7h0M315.5 111.6h0M345.3 120.6h0M309.5 101.6h0M420.8 109.9h0M345.1 111.2h0M336.4 110.7h0M313.8 104.1h0M340.6 100.2h0M445.8 117.1h0M329.5 110.4h0M362.5 117.7h0M326.9 118.8h0M384.7 121.8h0M317.4 108.1h0M308.9 105.6h0M328.5 114.9h0M363.7 119.9h0M337.7 116.6h0M309.1 110.9h0M329.0 113.1h0M333.3 107.7h0M341.6 112.4h0M390.3 111.0h0M393.7 112.4h0M322.5 97.7h0M326.5 118.0h0M323.1 94.8h0M458.9 110.1h0M312.5 101.4h0M309.1 108.5h0M373.6 108.7h0M323.0 103.3h0M339.4 114.6h0M382.5 114.1h0M324.1 80.8h0M309.4 108.4h0M317.2 112.4h0M400.0 118.3h0M314.7 74.3h0M329.8 111.2h0M370.6 108.0h0M329.0 108.8h0M318.3 98.7h0M314.5 70.3h0M326.8 107.2h0M447.3 110.6h0M375.5 117.4h0M337.0 109.6h0M329.4 108.9h0M310.9 103.9h0M330.1 112.3h0M332.1 121.2h0M390.5 109.6h0M376.6 120.8h0M396.1 116.3h0M330.0 114.7h0M326.4 99.5h0M308.8 94.3h0M309.1 81.8h0M379.9 113.7h0M324.8 106.0h0M324.5 82.5h0M333.3 113.8h0M397.2 115.5h0M416.1 120.4h0M346.4 113.6h0M315.7 112.9h0M318.1 112.6h0M306.9 26.5h0M344.7 111.8h0M462.1 113.9h0M320.4 115.3h0M319.6 107.2h0M396.8 113.3h0M398.0 114.1h0M333.3 112.2h0M312.8 115.8h0M325.6 105.9h0M357.5 104.2h0M396.7 116.9h0M323.8 106.8h0M384.2 113.0h0M314.4 117.8h0M316.2 115.2h0M376.3 103.9h0M340.2 94.4h0M323.9 110.6h0M464.2 106.1h0M350.9 112.6h0M356.6 109.4h0M314.1 51.6h0M324.6 116.6h0M348.9 116.0h0M366.8 114.1h0M441.0 119.9h0M328.2 112.9h0M363.7 115.3h0M342.2 119.7h0M353.6 60.7h0M342.8 111.6h0M385.2 111.5h0M309.1 94.4h0M331.2 113.3h0M451.4 115.6h0M336.3 111.6h0M351.8 118.6h0M314.9 92.2h0M366.9 120.5h0M312.8 107.0h0M320.8 106.1h0M314.6 116.3h0M351.8 113.8h0M309.1 108.0h0M378.1 118.2h0M335.7 113.9h0M324.5 113.6h0M338.1 101.1h0M344.6 118.5h0M327.7 108.1h0M401.8 116.7h0M325.2 100.4h0M329.2 110.4h0M445.9 122.9h0M358.5 103.8h0M334.5 118.0h0M317.6 57.1h0M322.9 115.4h0M328.6 101.6h0M392.5 121.2h0M371.4 107.2h0M352.1 115.9h0M340.7 110.8h0M309.2 113.4h0M329.3 115.0h0M324.1 113.2h0M336.7 115.9h0M309.0 107.2h0M374.3 104.5h0M330.6 111.9h0M391.5 118.3h0M397.0 112.5h0M331.7 110.2h0M336.1 106.2h0M385.0 108.4h0M395.0 107.5h0M324.1 91.9h0M333.7 122.0h0M394.2 115.1h0M339.6 98.6h0M308.5 41.5h0M404.1 119.1h0M345.7 111.6h0M345.0 116.4h0M352.4 104.6h0M340.8 105.4h0M333.2 107.0h0M324.1 102.2h0M326.2 112.3h0M310.2 74.4h0M496.5 106.4h0M325.5 97.9h0M312.2 67.5h0M314.5 90.7h0M344.8 123.8h0M309.1 73.0h0M321.2 104.6h0M363.3 118.3h0M352.8 107.9h0M339.9 113.5h0M337.3 86.3h0M425.9 110.9h0M351.1 100.0h0M330.4 101.8h0M308.4 89.8h0M316.6 103.6h0M319.1 106.0h0M314.9 111.0h0M403.3 116.6h0M362.3 121.2h0M363.9 120.9h0M311.0 97.9h0M365.8 114.1h0M381.6 112.6h0M368.5 112.0h0M344.6 117.2h0M348.2 104.4h0M382.3 109.8h0M360.2 107.9h0M352.8 118.4h0M358.1 102.0h0M317.9 113.2h0M328.4 114.5h0M318.4 62.2h0M328.6 116.7h0M333.7 100.1h0M313.6 111.9h0M350.4 121.0h0M377.0 116.8h0M313.5 111.6h0M315.8 113.1h0M366.3 112.5h0M377.7 112.2h0M332.1 114.6h0M342.5 99.5h0M326.2 97.1h0M341.8 113.6h0M326.1 112.4h0M312.6 96.4h0M357.7 108.0h0M343.0 105.3h0M352.3 110.5h0M334.7 110.5h0M397.2 109.5h0M329.6 96.7h0M322.5 118.9h0M341.1 115.3h0M330.3 118.2h0M332.1 102.2h0M343.9 111.0h0M315.9 86.3h0M458.2 114.1h0M325.8 111.7h0M312.1 92.9h0M362.1 107.5h0M368.0 113.3h0M349.3 105.6h0M384.6 122.1h0M364.5 110.0h0M341.9 110.0h0M327.0 117.4h0M364.0 118.0h0M407.3 117.4h0M377.0 116.5h0M338.0 43.8h0M414.1 116.8h0M346.6 113.9h0M335.5 112.2h0M364.1 112.7h0M351.6 107.4h0M401.3 110.1h0M347.2 107.3h0M327.2 111.7h0M328.4 110.9h0M384.6 108.7h0M354.7 115.7h0M362.3 114.9h0M431.7 122.0h0M351.8 113.0h0M341.3 113.6h0M355.7 115.4h0M333.0 113.6h0M352.1 86.6h0M383.0 120.7h0M355.7 118.4h0M365.2 119.7h0M409.6 120.3h0M350.8 105.9h0M308.9 95.4h0M363.8 113.7h0M352.0 112.6h0M337.4 111.8h0M413.3 117.6h0M315.8 112.6h0M331.1 116.4h0M385.9 118.8h0M328.6 113.0h0M406.9 105.3h0M315.8 104.0h0M360.3 105.5h0M372.5 117.6h0M325.6 112.6h0M323.5 123.9h0M318.5 105.8h0M374.3 116.3h0M326.6 103.0h0M382.1 113.7h0M413.7 105.1h0M376.1 101.6h0M327.0 109.7h0M353.7 110.6h0M308.5 107.1h0M350.6 108.6h0M372.2 122.0h0M326.6 110.8h0M493.7 105.6h0M332.6 101.1h0M314.4 82.4h0M349.8 120.5h0M342.0 117.2h0M408.0 119.4h0M351.5 116.0h0M354.8 70.8h0M325.3 106.2h0M349.8 113.9h0M320.4 91.9h0M335.1 116.2h0M377.8 94.5h0M319.8 103.4h0M330.8 114.7h0M395.2 106.4h0M342.9 112.2h0M407.9 117.1h0M339.9 124.7h0M333.2 114.0h0M410.1 119.1h0M343.6 118.4h0M339.2 113.5h0M360.5 112.1h0M344.6 117.3h0M340.6 105.7h0M471.0 112.7h0M324.1 115.0h0M342.7 112.2h0M317.6 109.0h0M332.4 121.8h0M312.6 83.7h0M380.1 118.3h0M342.8 117.6h0M423.2 109.7h0M329.6 113.6h0M343.6 117.3h0M364.6 117.9h0M407.7 117.7h0M384.1 120.2h0M309.2 98.5h0M368.7 118.0h0M311.1 100.9h0M361.6 114.1h0M371.3 108.2h0M410.9 118.1h0M331.8 110.4h0M368.8 115.9h0M371.3 118.4h0M442.5 115.2h0M340.1 116.1h0M374.6 111.5h0M456.9 114.6h0M339.5 120.1h0M352.6 112.7h0M315.0 109.3h0M409.6 119.4h0M402.5 121.3h0M326.1 115.9h0M339.8 114.6h0M393.8 116.3h0M367.1 108.3h0M359.0 111.8h0M490.0 106.7h0M477.0 116.4h0M358.1 107.6h0M313.4 114.3h0M420.7 112.0h0M431.8 115.9h0M349.3 109.6h0M355.7 109.9h0M371.9 116.3h0M330.6 109.6h0M331.3 111.3h0M401.4 113.4h0M458.2 118.4h0M337.9 113.9h0M363.5 118.2h0M325.9 119.1h0M351.7 119.5h0M374.4 114.3h0M391.7 125.2h0M349.9 114.0h0M398.1 120.7h0M356.4 109.0h0M321.7 105.0h0M322.3 117.9h0M328.0 115.1h0M429.4 98.9h0M364.6 115.3h0M348.4 101.3h0M328.0 113.3h0M371.7 106.6h0M343.1 107.5h0M334.4 108.7h0M330.8 112.2h0M384.2 119.0h0M344.9 109.7h0M366.7 109.6h0M342.1 111.7h0M308.9 98.7h0M453.2 112.6h0M334.6 117.6h0M418.5 116.4h0M337.5 109.1h0M415.8 116.6h0M322.2 105.7h0M414.6 116.4h0M319.3 115.4h0M410.3 115.9h0M381.1 118.4h0M403.9 110.4h0M318.6 113.8h0M325.8 111.5h0M336.3 112.8h0M362.6 118.5h0M334.7 100.2h0M332.0 114.8h0M377.6 113.3h0M319.3 114.1h0M309.3 96.7h0M417.5 111.2h0M308.8 111.5h0M313.2 101.3h0M390.5 118.6h0M314.5 34.0h0M351.1 114.2h0M342.6 110.7h0M329.6 104.1h0M340.0 112.2h0M346.9 113.4h0M311.9 101.7h0M316.6 111.3h0M323.3 108.1h0M338.3 105.0h0M309.0 80.0h0M368.5 114.8h0M374.4 113.4h0M342.0 108.5h0M427.9 120.6h0M440.7 115.2h0M379.0 118.5h0M325.8 104.9h0M308.8 83.3h0M375.9 114.1h0M331.3 107.7h0M332.7 107.9h0M418.7 111.1h0M406.5 119.1h0M321.3 111.8h0M386.2 115.3h0M340.3 117.2h0M478.1 116.1h0M334.5 120.1h0M375.6 110.9h0M373.6 120.7h0M348.3 98.6h0M388.6 110.6h0M348.0 98.4h0M358.8 117.0h0M338.0 115.1h0M373.8 119.4h0M326.4 117.8h0M355.7 71.4h0M309.1 109.9h0M319.4 112.3h0M330.9 107.2h0M362.4 121.5h0M376.9 107.1h0M360.7 118.2h0M369.3 113.8h0M336.6 119.5h0M309.3 103.4h0M369.3 111.6h0M329.4 109.5h0M341.0 109.9h0M332.5 116.0h0M336.0 104.9h0M373.3 107.2h0M388.4 116.7h0M320.9 108.8h0M385.3 113.0h0M312.7 102.5h0M333.8 112.9h0M373.0 119.9h0"/><path d="M337.5 108.8h0M324.7 112.8h0M468.5 116.5h0M322.3 87.5h0M362.8 109.6h0M370.6 112.9h0M309.0 106.8h0M321.7 112.9h0M328.1 115.7h0M308.1 75.8h0M309.4 82.6h0M372.3 109.3h0M464.5 118.5h0M340.3 112.3h0M400.6 118.7h0M309.6 34.9h0M397.5 114.3h0M323.1 111.6h0M341.7 114.5h0M341.0 114.7h0M324.1 108.6h0M333.3 118.4h0M390.7 118.1h0M428.5 106.2h0M366.5 124.9h0M345.8 115.2h0M412.8 112.0h0M330.4 107.3h0M369.5 116.8h0M385.6 103.8h0M359.9 89.9h0M320.8 102.7h0M311.7 101.6h0M328.6 72.5h0M345.0 108.0h0M314.4 107.8h0M389.0 115.0h0M337.3 108.1h0M350.2 121.4h0M313.0 95.7h0M369.5 115.2h0M372.0 98.3h0M341.8 106.0h0M341.7 111.5h0M355.4 116.6h0M316.4 102.4h0M334.7 111.4h0M331.3 111.1h0M358.0 94.5h0M331.1 117.2h0M358.1 112.6h0M330.3 110.8h0M338.1 116.2h0M465.7 113.1h0M392.6 107.5h0M325.6 110.0h0M423.4 121.5h0M336.3 110.7h0M348.7 113.2h0M325.9 95.3h0M385.6 113.8h0M421.6 113.6h0M320.8 97.8h0M314.5 111.4h0M319.5 67.1h0M321.3 114.4h0M389.5 117.2h0M368.3 114.1h0M346.9 117.7h0M324.9 110.2h0M346.9 114.3h0M362.7 106.5h0M427.4 107.6h0M344.9 101.3h0M337.9 120.0h0M315.1 101.5h0M352.5 107.1h0M316.5 107.7h0M315.9 110.3h0M443.0 115.2h0M329.7 111.8h0M321.3 112.0h0M350.6 113.7h0M339.2 99.1h0M376.1 111.5h0M332.9 115.8h0M317.5 87.2h0M313.3 92.5h0M416.9 102.4h0M341.8 110.1h0M370.7 116.5h0M439.3 110.1h0M340.0 112.2h0M404.2 102.0h0M393.3 118.5h0M309.2 107.5h0M386.6 110.5h0M334.1 105.5h0M338.7 100.5h0M363.0 118.5h0M396.8 111.7h0M340.1 110.0h0M366.0 120.7h0M339.3 111.9h0M405.2 115.2h0M384.9 119.0h0M329.4 104.4h0M343.0 114.3h0M343.3 107.4h0M361.3 95.3h0M360.4 118.5h0M352.4 116.1h0M361.2 113.4h0M322.6 108.6h0M332.5 113.4h0M425.3 110.1h0M324.6 112.0h0M415.8 114.4h0M367.8 119.0h0M373.4 105.3h0M329.4 117.0h0M340.4 92.7h0M371.1 120.4h0M376.3 103.8h0M372.9 106.8h0M321.8 113.1h0M331.8 107.3h0M400.6 108.2h0M401.4 105.5h0M425.2 112.3h0M342.4 116.0h0M381.8 110.4h0M367.4 112.6h0M334.9 103.4h0M364.2 120.4h0M309.4 107.5h0M326.1 111.6h0M376.4 119.9h0M388.8 114.1h0M379.7 116.7h0M343.7 117.4h0M371.3 118.9h0M312.9 51.4h0M326.0 98.0h0M432.9 109.0h0M349.0 115.2h0M334.3 112.0h0M351.4 98.4h0M336.5 110.8h0M334.2 111.7h0M330.1 105.0h0M346.4 112.8h0M345.0 116.2h0M326.6 120.5h0M310.3 106.6h0M318.1 112.8h0M326.8 110.2h0M347.9 112.4h0M347.1 118.0h0M311.0 95.4h0M316.8 91.1h0M471.5 115.5h0M380.8 122.7h0M396.0 112.1h0M404.5 116.0h0M329.1 118.8h0M406.1 117.2h0M360.3 109.3h0M318.6 116.1h0M312.9 95.8h0M344.7 113.6h0M328.4 116.0h0M315.2 113.5h0M334.0 115.9h0M310.4 72.5h0M314.9 96.6h0M331.5 114.6h0M420.7 107.5h0M316.2 108.7h0M329.5 114.6h0M355.9 112.7h0M340.6 118.8h0M342.2 111.7h0M401.4 116.4h0M326.1 115.3h0M384.7 118.7h0M460.2 114.6h0M411.2 113.7h0M477.6 117.1h0M453.2 108.3h0M346.8 118.6h0M464.3 116.4h0M312.8 47.2h0M386.0 110.2h0M376.0 101.4h0M338.8 114.1h0M403.7 116.5h0M337.4 119.9h0M314.1 93.9h0M329.6 102.6h0M322.7 92.3h0M328.4 118.3h0M383.8 106.7h0M314.3 45.8h0M424.3 117.6h0M430.3 112.8h0M351.8 114.4h0M319.8 102.7h0M340.5 113.3h0M313.9 106.9h0M309.2 98.5h0M369.2 114.5h0M358.9 76.3h0M309.1 108.0h0M312.2 107.2h0M372.8 121.8h0M317.8 112.1h0M333.7 111.9h0M428.7 105.7h0M400.4 115.0h0M311.2 99.2h0M413.2 120.2h0M354.1 109.0h0M311.4 60.5h0M344.9 107.9h0M334.3 112.8h0M373.3 114.5h0M352.0 108.3h0M309.1 107.5h0M321.1 100.3h0M339.7 119.8h0M456.0 107.8h0M313.7 73.2h0M364.4 105.7h0M331.9 117.3h0M354.4 84.9h0M316.8 72.3h0M336.4 110.0h0M394.9 116.9h0M392.2 119.4h0M400.0 112.2h0M378.2 105.2h0M311.9 98.6h0M362.2 114.9h0M434.2 117.7h0M368.7 115.3h0M327.9 115.1h0M403.6 107.4h0M401.9 101.6h0M328.9 118.7h0M351.8 116.8h0M369.8 107.2h0M402.5 114.1h0M329.3 94.9h0M323.1 114.6h0M333.1 117.0h0M355.2 107.8h0M336.2 114.6h0M338.8 115.9h0M391.3 114.8h0M330.2 101.7h0M491.1 106.1h0M332.8 113.0h0M370.9 113.7h0M352.7 120.0h0M452.0 121.0h0M341.9 113.6h0M383.0 111.6h0M374.1 113.1h0M488.8 118.3h0M331.2 117.2h0M309.4 75.4h0M356.8 115.8h0M328.9 108.0h0M320.5 117.4h0M368.1 100.7h0M351.1 115.5h0M319.5 87.7h0M308.8 109.7h0M347.1 108.5h0M359.7 115.1h0M352.6 97.8h0M343.8 117.1h0M347.7 107.1h0M464.4 114.3h0M338.2 107.7h0M351.3 111.1h0M323.3 117.8h0M442.8 106.3h0M320.1 105.7h0M336.5 111.1h0M318.4 114.5h0M360.7 117.4h0M446.4 120.4h0M368.7 114.0h0M345.4 108.1h0M319.8 112.6h0M325.9 122.7h0M326.1 100.8h0M363.1 120.0h0M377.2 116.9h0M332.8 116.8h0M311.9 58.4h0M359.6 108.5h0M364.8 117.0h0M483.9 106.0h0M340.2 116.2h0M381.0 114.4h0M381.9 115.8h0M354.1 116.8h0M379.8 119.7h0M365.8 108.1h0M340.9 102.5h0M375.8 111.6h0M370.3 113.2h0M312.4 110.8h0M318.8 110.5h0M312.2 103.6h0M344.0 116.9h0M346.7 120.5h0M312.9 66.2h0M478.4 110.2h0M431.1 115.6h0M366.4 111.2h0M423.7 111.3h0M423.0 120.8h0M337.0 115.3h0M501.5 105.0h0M410.1 113.1h0M320.0 113.0h0M469.1 109.1h0M386.2 122.1h0M324.4 114.1h0M311.8 106.3h0M314.0 83.6h0M308.9 109.3h0M408.3 102.0h0M325.7 108.8h0M315.4 111.3h0M319.3 106.9h0M435.6 113.0h0M391.7 122.4h0M369.7 105.1h0M318.6 92.3h0M361.1 106.6h0M349.2 118.0h0M339.5 115.2h0M368.9 112.8h0M323.5 94.8h0M439.3 125.1h0M376.5 112.6h0M442.9 108.3h0M340.6 115.4h0M436.0 106.0h0M455.8 110.6h0M330.0 115.3h0M317.6 111.0h0M321.8 101.0h0M316.4 110.9h0M315.6 111.7h0M356.5 110.9h0M375.9 114.7h0M316.4 83.8h0M351.5 117.2h0M315.0 107.6h0M389.3 113.0h0M402.3 116.5h0M471.7 109.6h0M310.1 101.6h0M319.1 113.9h0M320.5 76.5h0M308.9 110.7h0M323.7 94.9h0M496.0 110.1h0M360.7 116.0h0M316.0 109.5h0M326.5 104.0h0M317.6 109.2h0M333.4 109.6h0M347.3 120.4h0M313.8 99.7h0M368.7 112.9h0M359.7 113.8h0M363.3 114.0h0M336.1 77.8h0M329.7 100.6h0M375.6 116.4h0M334.9 120.2h0M314.3 89.8h0M352.8 102.0h0M320.9 120.1h0M402.2 113.1h0M314.9 90.3h0M362.8 107.4h0M348.7 115.3h0M355.9 111.6h0M412.9 118.2h0M351.1 101.3h0M355.2 112.0h0M342.4 115.0h0M360.5 107.7h0M353.2 109.3h0M400.6 112.7h0M398.9 89.2h0M360.4 112.1h0M376.4 114.1h0M336.0 112.0h0M390.2 112.9h0M321.3 111.0h0M309.1 99.1h0M347.1 109.5h0M350.7 116.8h0M403.2 111.6h0M317.4 88.4h0M331.0 111.0h0M407.7 120.3h0M390.1 114.5h0M332.6 121.0h0M339.3 116.1h0M390.5 105.2h0M319.6 46.2h0M341.0 111.1h0M313.7 105.7h0M313.5 97.2h0M319.5 110.5h0M376.7 113.0h0M347.9 108.4h0M318.6 41.9h0M404.3 120.4h0M362.3 121.2h0M341.4 115.8h0M457.2 106.5h0M377.0 113.8h0M324.3 109.1h0M363.5 115.8h0M361.6 114.9h0M373.0 122.5h0M358.0 115.0h0M316.4 67.2h0M353.8 103.9h0M358.5 115.9h0M369.4 122.3h0M446.2 118.0h0M368.2 122.3h0M346.6 113.8h0M407.7 114.7h0M384.5 120.0h0M309.0 104.8h0M463.0 111.9h0M502.0 113.5h0M340.7 121.3h0M309.0 48.3h0M363.5 117.8h0M314.3 105.4h0M331.8 112.0h0M463.4 117.8h0M309.4 93.9h0M348.0 112.7h0M388.8 120.9h0M334.2 113.0h0M316.9 100.1h0M371.1 120.5h0M330.8 90.3h0M427.7 126.4h0M308.8 102.2h0M336.9 109.4h0M402.4 117.8h0M392.1 104.2h0M341.7 117.4h0M343.2 108.5h0M343.1 108.7h0M387.1 119.9h0M341.7 111.0h0M321.0 106.5h0M308.4 31.1h0M315.9 109.2h0M333.3 109.7h0M339.3 109.3h0M319.2 89.7h0M337.6 110.0h0M380.0 106.9h0M315.0 97.7h0M386.1 101.8h0M308.9 98.8h0M350.7 109.0h0M308.4 74.9h0M331.5 113.1h0M319.8 69.1h0M312.2 76.6h0M361.1 116.7h0"/></g><path d="M47.35 73.50C47.61 73.20 48.39 72.29 48.91 71.72C49.43 71.14 49.95 70.57 50.47 70.04C50.99 69.52 51.51 69.02 52.03 68.58C52.55 68.14 53.07 67.74 53.60 67.40C54.12 67.06 54.64 66.78 55.16 66.53C55.68 66.29 56.20 66.10 56.72 65.92C57.24 65.74 57.76 65.60 58.28 65.47C58.80 65.33 59.32 65.22 59.84 65.10C60.36 64.98 60.88 64.87 61.40 64.76C61.92 64.65 62.44 64.54 62.96 64.43C63.48 64.33 64.00 64.22 64.52 64.12C65.04 64.02 65.56 63.92 66.09 63.83C66.61 63.74 67.13 63.65 67.65 63.56C68.17 63.48 68.69 63.40 69.21 63.32C69.73 63.25 70.25 63.17 70.77 63.10C71.29 63.03 71.81 62.96 72.33 62.89C72.85 62.83 73.37 62.76 73.89 62.70C74.41 62.63 74.93 62.57 75.45 62.51C75.97 62.44 76.49 62.38 77.01 62.32C77.53 62.26 78.06 62.20 78.58 62.15C79.10 62.09 79.62 62.03 80.14 61.98C80.66 61.92 81.18 61.87 81.70 61.81C82.22 61.76 82.74 61.71 83.26 61.66C83.78 61.61 84.30 61.56 84.82 61.51C85.34 61.46 85.86 61.42 86.38 61.37C86.90 61.33 87.42 61.28 87.94 61.24C88.46 61.20 88.98 61.16 89.50 61.12C90.02 61.08 90.55 61.04 91.07 61.01C91.59 60.97 92.11 60.94 92.63 60.90C93.15 60.87 93.67 60.84 94.19 60.81C94.71 60.78 95.23 60.75 95.75 60.73C96.27 60.70 96.79 60.67 97.31 60.65C97.83 60.63 98.35 60.60 98.87 60.58C99.39 60.56 99.91 60.54 100.43 60.52C100.95 60.50 101.47 60.49 101.99 60.47C102.51 60.46 103.04 60.44 103.56 60.43C104.08 60.41 104.60 60.40 105.12 60.39C105.64 60.38 106.16 60.37 106.68 60.36C107.20 60.35 107.72 60.35 108.24 60.34C108.76 60.33 109.28 60.33 109.80 60.32C110.32 60.32 110.84 60.32 111.36 60.31C111.88 60.31 112.40 60.31 112.92 60.31C113.44 60.31 113.96 60.31 114.48 60.31C115.01 60.31 115.53 60.31 116.05 60.32C116.57 60.32 117.09 60.32 117.61 60.33C118.13 60.33 118.65 60.34 119.17 60.34C119.69 60.35 120.21 60.36 120.73 60.36C121.25 60.37 121.77 60.38 122.29 60.39C122.81 60.40 123.33 60.41 123.85 60.42C124.37 60.43 124.89 60.44 125.41 60.45C125.93 60.46 126.45 60.47 126.97 60.48C127.50 60.49 128.02 60.51 128.54 60.52C129.06 60.53 129.58 60.54 130.10 60.56C130.62 60.57 131.14 60.58 131.66 60.60C132.18 60.61 132.70 60.62 133.22 60.64C133.74 60.65 134.26 60.66 134.78 60.68C135.30 60.69 135.82 60.71 136.34 60.72C136.86 60.73 137.38 60.75 137.90 60.76C138.42 60.77 138.94 60.79 139.47 60.80C139.99 60.81 140.51 60.82 141.03 60.84C141.55 60.85 142.07 60.86 142.59 60.87C143.11 60.88 143.63 60.89 144.15 60.90C144.67 60.91 145.19 60.92 145.71 60.93C146.23 60.94 146.75 60.95 147.27 60.96C147.79 60.96 148.31 60.97 148.83 60.98C149.35 60.98 149.87 60.99 150.39 60.99C150.91 61.00 151.43 61.00 151.96 61.00C152.48 61.00 153.00 61.00 153.52 61.00C154.04 61.00 154.56 61.00 155.08 61.00C155.60 61.00 156.12 60.99 156.64 60.99C157.16 60.98 157.68 60.98 158.20 60.97C158.72 60.96 159.24 60.95 159.76 60.94C160.28 60.93 160.80 60.92 161.32 60.90C161.84 60.89 162.36 60.87 162.88 60.86C163.40 60.84 163.92 60.82 164.45 60.80C164.97 60.78 165.49 60.76 166.01 60.73C166.53 60.71 167.05 60.68 167.57 60.65C168.09 60.62 168.61 60.59 169.13 60.56C169.65 60.53 170.17 60.49 170.69 60.46C171.21 60.42 171.73 60.38 172.25 60.34C172.77 60.30 173.29 60.26 173.81 60.22C174.33 60.18 174.85 60.13 175.37 60.09C175.89 60.05 176.42 60.00 176.94 59.96C177.46 59.92 177.98 59.87 178.50 59.83C179.02 59.79 179.54 59.75 180.06 59.71C180.58 59.67 181.10 59.63 181.62 59.60C182.14 59.56 182.66 59.53 183.18 59.50C183.70 59.47 184.22 59.44 184.74 59.42C185.26 59.39 185.78 59.37 186.30 59.35C186.82 59.34 187.34 59.32 187.86 59.31C188.38 59.30 188.91 59.30 189.43 59.29C189.95 59.29 190.47 59.29 190.99 59.29C191.51 59.29 192.03 59.30 192.55 59.31C193.07 59.32 193.59 59.33 194.11 59.35C194.63 59.36 195.15 59.38 195.67 59.40C196.19 59.42 196.71 59.45 197.23 59.48C197.75 59.51 198.27 59.54 198.79 59.57C199.31 59.61 199.83 59.65 200.35 59.69C200.88 59.73 201.40 59.77 201.92 59.82C202.44 59.87 202.96 59.92 203.48 59.98C204.00 60.04 204.52 60.10 205.04 60.16C205.56 60.22 206.08 60.29 206.60 60.36C207.12 60.43 207.64 60.50 208.16 60.58C208.68 60.65 209.20 60.73 209.72 60.82C210.24 60.90 210.76 60.98 211.28 61.07C211.80 61.16 212.32 61.24 212.84 61.33C213.37 61.42 213.89 61.52 214.41 61.61C214.93 61.70 215.45 61.79 215.97 61.88C216.49 61.98 217.01 62.07 217.53 62.17C218.05 62.26 218.57 62.35 219.09 62.45C219.61 62.55 220.13 62.65 220.65 62.75C221.17 62.85 221.69 62.95 222.21 63.06C222.73 63.17 223.25 63.28 223.77 63.40C224.29 63.51 224.81 63.63 225.33 63.75C225.86 63.88 226.38 64.01 226.90 64.14C227.42 64.27 227.94 64.40 228.46 64.54C228.98 64.68 229.50 64.82 230.02 64.96C230.54 65.10 231.06 65.25 231.58 65.39C232.10 65.54 232.88 65.76 233.14 65.83" fill="none" stroke="#b51530" stroke-width="1.4"/><path d="M304.80 96.62C305.06 96.88 305.83 97.64 306.35 98.15C306.87 98.66 307.39 99.18 307.90 99.71C308.42 100.24 308.94 100.80 309.45 101.34C309.97 101.87 310.49 102.43 311.01 102.95C311.52 103.47 312.04 103.98 312.56 104.45C313.07 104.93 313.59 105.38 314.11 105.78C314.62 106.19 315.14 106.55 315.66 106.89C316.18 107.22 316.69 107.50 317.21 107.77C317.73 108.04 318.24 108.28 318.76 108.50C319.28 108.72 319.80 108.92 320.31 109.10C320.83 109.28 321.35 109.44 321.86 109.59C322.38 109.73 322.90 109.86 323.42 109.98C323.93 110.10 324.45 110.21 324.97 110.30C325.48 110.40 326.00 110.48 326.52 110.56C327.03 110.63 327.55 110.70 328.07 110.76C328.59 110.82 329.10 110.87 329.62 110.92C330.14 110.97 330.65 111.01 331.17 111.05C331.69 111.10 332.21 111.13 332.72 111.17C333.24 111.21 333.76 111.24 334.27 111.27C334.79 111.31 335.31 111.33 335.83 111.36C336.34 111.39 336.86 111.42 337.38 111.44C337.89 111.47 338.41 111.49 338.93 111.51C339.44 111.53 339.96 111.55 340.48 111.57C341.00 111.59 341.51 111.61 342.03 111.63C342.55 111.65 343.06 111.66 343.58 111.68C344.10 111.70 344.62 111.71 345.13 111.73C345.65 111.74 346.17 111.76 346.68 111.78C347.20 111.79 347.72 111.81 348.24 111.82C348.75 111.84 349.27 111.85 349.79 111.87C350.30 111.88 350.82 111.90 351.34 111.91C351.85 111.93 352.37 111.94 352.89 111.96C353.41 111.97 353.92 111.99 354.44 112.00C354.96 112.02 355.47 112.03 355.99 112.05C356.51 112.06 357.03 112.08 357.54 112.09C358.06 112.11 358.58 112.13 359.09 112.14C359.61 112.16 360.13 112.17 360.65 112.19C361.16 112.20 361.68 112.22 362.20 112.24C362.71 112.25 363.23 112.27 363.75 112.29C364.27 112.30 364.78 112.32 365.30 112.34C365.82 112.35 366.33 112.37 366.85 112.39C367.37 112.40 367.88 112.42 368.40 112.44C368.92 112.46 369.44 112.48 369.95 112.50C370.47 112.51 370.99 112.53 371.50 112.55C372.02 112.57 372.54 112.59 373.06 112.61C373.57 112.63 374.09 112.65 374.61 112.67C375.12 112.69 375.64 112.71 376.16 112.73C376.68 112.75 377.19 112.77 377.71 112.78C378.23 112.80 378.74 112.82 379.26 112.84C379.78 112.86 380.29 112.88 380.81 112.90C381.33 112.92 381.85 112.94 382.36 112.96C382.88 112.98 383.40 113.00 383.91 113.01C384.43 113.03 384.95 113.05 385.47 113.07C385.98 113.09 386.50 113.10 387.02 113.12C387.53 113.14 388.05 113.15 388.57 113.17C389.09 113.19 389.60 113.20 390.12 113.22C390.64 113.23 391.15 113.25 391.67 113.26C392.19 113.28 392.70 113.29 393.22 113.31C393.74 113.32 394.26 113.33 394.77 113.34C395.29 113.36 395.81 113.37 396.32 113.38C396.84 113.39 397.36 113.40 397.88 113.41C398.39 113.42 398.91 113.43 399.43 113.43C399.94 113.44 400.46 113.45 400.98 113.46C401.50 113.46 402.01 113.47 402.53 113.47C403.05 113.48 403.56 113.48 404.08 113.49C404.60 113.49 405.12 113.49 405.63 113.50C406.15 113.50 406.67 113.50 407.18 113.50C407.70 113.51 408.22 113.51 408.73 113.51C409.25 113.51 409.77 113.51 410.29 113.51C410.80 113.51 411.32 113.51 411.84 113.50C412.35 113.50 412.87 113.50 413.39 113.50C413.91 113.50 414.42 113.49 414.94 113.49C415.46 113.49 415.97 113.48 416.49 113.48C417.01 113.48 417.53 113.47 418.04 113.47C418.56 113.46 419.08 113.46 419.59 113.45C420.11 113.45 420.63 113.44 421.14 113.43C421.66 113.43 422.18 113.42 422.70 113.42C423.21 113.41 423.73 113.40 424.25 113.40C424.76 113.39 425.28 113.38 425.80 113.37C426.32 113.37 426.83 113.36 427.35 113.35C427.87 113.34 428.38 113.33 428.90 113.33C429.42 113.32 429.94 113.31 430.45 113.30C430.97 113.29 431.49 113.29 432.00 113.28C432.52 113.27 433.04 113.26 433.55 113.25C434.07 113.25 434.59 113.24 435.11 113.23C435.62 113.22 436.14 113.21 436.66 113.21C437.17 113.20 437.69 113.19 438.21 113.19C438.73 113.18 439.24 113.17 439.76 113.17C440.28 113.16 440.79 113.15 441.31 113.15C441.83 113.14 442.35 113.14 442.86 113.13C443.38 113.13 443.90 113.12 444.41 113.12C444.93 113.12 445.45 113.11 445.96 113.11C446.48 113.11 447.00 113.11 447.52 113.11C448.03 113.10 448.55 113.10 449.07 113.11C449.58 113.11 450.10 113.11 450.62 113.12C451.14 113.12 451.65 113.13 452.17 113.13C452.69 113.14 453.20 113.15 453.72 113.16C454.24 113.17 454.76 113.19 455.27 113.20C455.79 113.22 456.31 113.24 456.82 113.26C457.34 113.28 457.86 113.30 458.38 113.32C458.89 113.35 459.41 113.38 459.93 113.40C460.44 113.43 460.96 113.46 461.48 113.49C461.99 113.51 462.51 113.54 463.03 113.57C463.55 113.60 464.06 113.62 464.58 113.65C465.10 113.67 465.61 113.70 466.13 113.72C466.65 113.74 467.17 113.76 467.68 113.77C468.20 113.78 468.72 113.80 469.23 113.80C469.75 113.81 470.27 113.81 470.79 113.81C471.30 113.81 471.82 113.80 472.34 113.80C472.85 113.79 473.37 113.77 473.89 113.76C474.40 113.74 474.92 113.72 475.44 113.70C475.96 113.67 476.47 113.65 476.99 113.62C477.51 113.60 478.02 113.57 478.54 113.54C479.06 113.51 479.58 113.48 480.09 113.44C480.61 113.41 481.13 113.38 481.64 113.35C482.16 113.32 482.68 113.28 483.20 113.25C483.71 113.22 484.23 113.18 484.75 113.15C485.26 113.12 485.78 113.08 486.30 113.05C486.81 113.02 487.33 112.98 487.85 112.95C488.37 112.92 489.14 112.87 489.40 112.85" fill="none" stroke="#b51530" stroke-width="1.4"/><path d="M51.50 299.30C51.63 298.44 52.04 295.84 52.30 294.17C52.57 292.50 52.84 290.87 53.11 289.28C53.38 287.69 53.64 286.14 53.91 284.62C54.18 283.10 54.45 281.62 54.72 280.17C54.98 278.72 55.25 277.30 55.52 275.92C55.79 274.53 56.05 273.20 56.32 271.88C56.59 270.56 56.86 269.26 57.13 267.99C57.39 266.72 57.66 265.47 57.93 264.23C58.20 263.00 58.47 261.79 58.73 260.59C59.00 259.39 59.27 258.20 59.54 257.03C59.81 255.86 60.07 254.71 60.34 253.57C60.61 252.42 60.88 251.29 61.15 250.18C61.41 249.07 61.68 247.97 61.95 246.89C62.22 245.80 62.48 244.74 62.75 243.69C63.02 242.64 63.29 241.61 63.56 240.61C63.82 239.60 64.09 238.61 64.36 237.64C64.63 236.68 64.90 235.73 65.16 234.82C65.43 233.90 65.70 233.01 65.97 232.15C66.24 231.29 66.50 230.47 66.77 229.66C67.04 228.86 67.31 228.08 67.58 227.33C67.84 226.57 68.11 225.85 68.38 225.15C68.65 224.45 68.91 223.77 69.18 223.12C69.45 222.48 69.72 221.85 69.99 221.27C70.25 220.68 70.52 220.12 70.79 219.59C71.06 219.06 71.33 218.56 71.59 218.08C71.86 217.61 72.13 217.16 72.40 216.74C72.67 216.31 72.93 215.92 73.20 215.56C73.47 215.19 73.74 214.86 74.01 214.55C74.27 214.24 74.54 213.95 74.81 213.69C75.08 213.44 75.35 213.20 75.61 213.00C75.88 212.79 76.15 212.61 76.42 212.45C76.68 212.29 76.95 212.16 77.22 212.05C77.49 211.94 77.76 211.85 78.02 211.78C78.29 211.70 78.56 211.66 78.83 211.62C79.10 211.58 79.36 211.55 79.63 211.53C79.90 211.51 80.17 211.49 80.44 211.49C80.70 211.49 80.97 211.51 81.24 211.53C81.51 211.56 81.78 211.60 82.04 211.64C82.31 211.69 82.58 211.74 82.85 211.81C83.11 211.87 83.38 211.94 83.65 212.01C83.92 212.09 84.19 212.17 84.45 212.25C84.72 212.33 84.99 212.42 85.26 212.51C85.53 212.59 85.79 212.69 86.06 212.77C86.33 212.85 86.60 212.93 86.87 213.01C87.13 213.08 87.40 213.16 87.67 213.24C87.94 213.31 88.21 213.38 88.47 213.46C88.74 213.53 89.01 213.59 89.28 213.66C89.54 213.73 89.81 213.79 90.08 213.85C90.35 213.91 90.62 213.97 90.88 214.02C91.15 214.07 91.42 214.12 91.69 214.17C91.96 214.21 92.22 214.25 92.49 214.29C92.76 214.33 93.03 214.36 93.30 214.38C93.56 214.41 93.83 214.43 94.10 214.45C94.37 214.46 94.64 214.47 94.90 214.48C95.17 214.48 95.44 214.49 95.71 214.49C95.98 214.49 96.24 214.48 96.51 214.47C96.78 214.45 97.05 214.44 97.31 214.41C97.58 214.39 97.85 214.36 98.12 214.33C98.39 214.30 98.65 214.27 98.92 214.23C99.19 214.19 99.46 214.15 99.73 214.10C99.99 214.06 100.26 214.01 100.53 213.96C100.80 213.91 101.07 213.85 101.33 213.80C101.60 213.74 101.87 213.69 102.14 213.63C102.41 213.57 102.67 213.51 102.94 213.45C103.21 213.39 103.48 213.32 103.74 213.26C104.01 213.20 104.28 213.13 104.55 213.07C104.82 213.01 105.08 212.95 105.35 212.89C105.62 212.83 105.89 212.77 106.16 212.71C106.42 212.65 106.69 212.59 106.96 212.53C107.23 212.47 107.50 212.41 107.76 212.35C108.03 212.30 108.30 212.24 108.57 212.18C108.84 212.13 109.10 212.07 109.37 212.01C109.64 211.96 109.91 211.90 110.17 211.85C110.44 211.79 110.71 211.74 110.98 211.68C111.25 211.63 111.51 211.57 111.78 211.52C112.05 211.47 112.32 211.41 112.59 211.36C112.85 211.31 113.12 211.25 113.39 211.20C113.66 211.15 113.93 211.10 114.19 211.05C114.46 211.00 114.73 210.95 115.00 210.90C115.27 210.85 115.53 210.80 115.80 210.75C116.07 210.70 116.34 210.65 116.61 210.60C116.87 210.55 117.14 210.50 117.41 210.45C117.68 210.41 117.94 210.36 118.21 210.31C118.48 210.26 118.75 210.22 119.02 210.17C119.28 210.13 119.55 210.08 119.82 210.03C120.09 209.99 120.36 209.95 120.62 209.90C120.89 209.86 121.16 209.82 121.43 209.78C121.70 209.74 121.96 209.70 122.23 209.66C122.50 209.61 122.77 209.57 123.04 209.53C123.30 209.49 123.57 209.45 123.84 209.42C124.11 209.38 124.37 209.34 124.64 209.30C124.91 209.26 125.18 209.22 125.45 209.18C125.71 209.15 125.98 209.11 126.25 209.07C126.52 209.04 126.79 209.00 127.05 208.96C127.32 208.93 127.59 208.89 127.86 208.86C128.13 208.82 128.39 208.79 128.66 208.75C128.93 208.72 129.20 208.68 129.47 208.65C129.73 208.62 130.00 208.58 130.27 208.55C130.54 208.52 130.80 208.48 131.07 208.45C131.34 208.42 131.61 208.39 131.88 208.36C132.14 208.33 132.41 208.29 132.68 208.26C132.95 208.23 133.22 208.20 133.48 208.17C133.75 208.14 134.02 208.11 134.29 208.08C134.56 208.06 134.82 208.03 135.09 208.00C135.36 207.97 135.63 207.94 135.90 207.91C136.16 207.89 136.43 207.86 136.70 207.83C136.97 207.81 137.24 207.78 137.50 207.75C137.77 207.73 138.04 207.70 138.31 207.68C138.57 207.65 138.84 207.63 139.11 207.60C139.38 207.58 139.65 207.55 139.91 207.53C140.18 207.50 140.45 207.48 140.72 207.46C140.99 207.44 141.25 207.42 141.52 207.40C141.79 207.37 142.06 207.35 142.33 207.33C142.59 207.31 142.86 207.29 143.13 207.27C143.40 207.25 143.67 207.23 143.93 207.22C144.20 207.20 144.47 207.18 144.74 207.16C145.00 207.14 145.27 207.12 145.54 207.11C145.81 207.09 146.08 207.07 146.34 207.05C146.61 207.04 146.88 207.02 147.15 207.00C147.42 206.99 147.68 206.97 147.95 206.96C148.22 206.94 148.49 206.93 148.76 206.91C149.02 206.90 149.29 206.88 149.56 206.87C149.83 206.85 150.10 206.84 150.36 206.83C150.63 206.81 150.90 206.80 151.17 206.79C151.43 206.78 151.70 206.76 151.97 206.75C152.24 206.74 152.51 206.73 152.77 206.72C153.04 206.71 153.31 206.69 153.58 206.68C153.85 206.67 154.11 206.66 154.38 206.65C154.65 206.64 154.92 206.63 155.19 206.62C155.45 206.61 155.72 206.61 155.99 206.60C156.26 206.59 156.53 206.58 156.79 206.57C157.06 206.56 157.33 206.56 157.60 206.55C157.86 206.54 158.13 206.54 158.40 206.53C158.67 206.52 158.94 206.52 159.20 206.51C159.47 206.50 159.74 206.50 160.01 206.49C160.28 206.49 160.54 206.48 160.81 206.48C161.08 206.47 161.35 206.47 161.62 206.47C161.88 206.46 162.15 206.46 162.42 206.46C162.69 206.45 162.96 206.45 163.22 206.45C163.49 206.44 163.76 206.44 164.03 206.44C164.30 206.44 164.56 206.44 164.83 206.43C165.10 206.43 165.37 206.43 165.63 206.43C165.90 206.43 166.17 206.43 166.44 206.43C166.71 206.43 166.97 206.43 167.24 206.43C167.51 206.43 167.78 206.43 168.05 206.43C168.31 206.43 168.58 206.44 168.85 206.44C169.12 206.44 169.39 206.44 169.65 206.44C169.92 206.45 170.19 206.45 170.46 206.45C170.73 206.45 170.99 206.46 171.26 206.46C171.53 206.47 171.80 206.47 172.06 206.47C172.33 206.48 172.60 206.48 172.87 206.49C173.14 206.49 173.40 206.50 173.67 206.50C173.94 206.51 174.21 206.51 174.48 206.52C174.74 206.53 175.01 206.53 175.28 206.54C175.55 206.55 175.82 206.55 176.08 206.56C176.35 206.57 176.62 206.58 176.89 206.58C177.16 206.59 177.42 206.60 177.69 206.61C177.96 206.62 178.23 206.62 178.49 206.63C178.76 206.64 179.03 206.65 179.30 206.66C179.57 206.67 179.83 206.68 180.10 206.69C180.37 206.69 180.64 206.68 180.91 206.68C181.17 206.68 181.44 206.67 181.71 206.67C181.98 206.67 182.25 206.67 182.51 206.67C182.78 206.66 183.05 206.66 183.32 206.66C183.59 206.66 183.85 206.66 184.12 206.66C184.39 206.66 184.66 206.66 184.93 206.66C185.19 206.66 185.46 206.66 185.73 206.66C186.00 206.66 186.26 206.66 186.53 206.66C186.80 206.66 187.07 206.67 187.34 206.67C187.60 206.67 187.87 206.67 188.14 206.67C188.41 206.67 188.68 206.68 188.94 206.68C189.21 206.68 189.48 206.68 189.75 206.69C190.02 206.69 190.28 206.69 190.55 206.69C190.82 206.70 191.09 206.70 191.36 206.71C191.62 206.71 191.89 206.71 192.16 206.72C192.43 206.72 192.69 206.72 192.96 206.73C193.23 206.73 193.50 206.74 193.77 206.74C194.03 206.75 194.30 206.75 194.57 206.76C194.84 206.76 195.11 206.77 195.37 206.77C195.64 206.78 195.91 206.78 196.18 206.79C196.45 206.79 196.71 206.80 196.98 206.81C197.25 206.81 197.52 206.82 197.79 206.82C198.05 206.83 198.32 206.84 198.59 206.84C198.86 206.85 199.12 206.86 199.39 206.86C199.66 206.87 199.93 206.87 200.20 206.87C200.46 206.86 200.73 206.84 201.00 206.83C201.27 206.82 201.54 206.81 201.80 206.80C202.07 206.78 202.34 206.77 202.61 206.76C202.88 206.75 203.14 206.74 203.41 206.72C203.68 206.71 203.95 206.70 204.22 206.69C204.48 206.68 204.75 206.67 205.02 206.65C205.29 206.64 205.56 206.63 205.82 206.62C206.09 206.61 206.36 206.60 206.63 206.59C206.89 206.57 207.16 206.56 207.43 206.55C207.70 206.54 207.97 206.53 208.23 206.52C208.50 206.51 208.77 206.50 209.04 206.49C209.31 206.48 209.57 206.46 209.84 206.45C210.11 206.44 210.38 206.43 210.65 206.42C210.91 206.41 211.18 206.40 211.45 206.39C211.72 206.38 211.99 206.37 212.25 206.36C212.52 206.35 212.79 206.33 213.06 206.33C213.32 206.32 213.59 206.32 213.86 206.32C214.13 206.31 214.40 206.31 214.66 206.31C214.93 206.31 215.20 206.30 215.47 206.30C215.74 206.30 216.00 206.30 216.27 206.29C216.54 206.29 216.81 206.29 217.08 206.28C217.34 206.28 217.61 206.28 217.88 206.28C218.15 206.27 218.42 206.27 218.68 206.27C218.95 206.26 219.22 206.26 219.49 206.26C219.75 206.25 220.02 206.25 220.29 206.25C220.56 206.24 220.83 206.24 221.09 206.24C221.36 206.23 221.63 206.23 221.90 206.23C222.17 206.22 222.43 206.22 222.70 206.22C222.97 206.21 223.24 206.21 223.51 206.20C223.77 206.20 224.04 206.20 224.31 206.19C224.58 206.19 224.85 206.18 225.11 206.18C225.38 206.18 225.65 206.17 225.92 206.17C226.19 206.16 226.45 206.16 226.72 206.15C226.99 206.15 227.26 206.14 227.52 206.14C227.79 206.13 228.06 206.13 228.33 206.13C228.60 206.13 228.86 206.13 229.13 206.13C229.40 206.13 229.67 206.12 229.94 206.12C230.20 206.12 230.47 206.12 230.74 206.12C231.01 206.12 231.28 206.11 231.54 206.11C231.81 206.11 232.08 206.11 232.35 206.11C232.62 206.10 232.88 206.10 233.15 206.10C233.42 206.10 233.69 206.09 233.95 206.09C234.22 206.09 234.49 206.08 234.76 206.08C235.03 206.08 235.29 206.07 235.56 206.07C235.83 206.07 236.10 206.06 236.37 206.06C236.63 206.06 236.90 206.05 237.17 206.05C237.44 206.04 237.71 206.04 237.97 206.03C238.24 206.03 238.51 206.02 238.78 206.02C239.05 206.01 239.31 206.01 239.58 206.00C239.85 205.99 240.12 205.99 240.38 205.98C240.65 205.98 240.92 205.97 241.19 205.96C241.46 205.96 241.72 205.95 241.99 205.94C242.26 205.93 242.53 205.93 242.80 205.92C243.06 205.91 243.47 205.90 243.60 205.89L243.60 222.29C243.47 222.28 243.06 222.23 242.80 222.20C242.53 222.16 242.26 222.13 241.99 222.09C241.72 222.06 241.46 222.03 241.19 221.99C240.92 221.96 240.65 221.92 240.38 221.89C240.12 221.85 239.85 221.82 239.58 221.78C239.31 221.75 239.05 221.71 238.78 221.67C238.51 221.64 238.24 221.60 237.97 221.57C237.71 221.53 237.44 221.49 237.17 221.46C236.90 221.42 236.63 221.38 236.37 221.35C236.10 221.31 235.83 221.27 235.56 221.23C235.29 221.20 235.03 221.16 234.76 221.12C234.49 221.08 234.22 221.05 233.95 221.01C233.69 220.97 233.42 220.93 233.15 220.89C232.88 220.85 232.62 220.81 232.35 220.78C232.08 220.74 231.81 220.70 231.54 220.66C231.28 220.62 231.01 220.58 230.74 220.54C230.47 220.50 230.20 220.46 229.94 220.42C229.67 220.38 229.40 220.34 229.13 220.30C228.86 220.26 228.60 220.22 228.33 220.18C228.06 220.14 227.79 220.09 227.52 220.05C227.26 220.01 226.99 219.96 226.72 219.91C226.45 219.87 226.19 219.82 225.92 219.78C225.65 219.73 225.38 219.69 225.11 219.64C224.85 219.60 224.58 219.55 224.31 219.50C224.04 219.46 223.77 219.41 223.51 219.37C223.24 219.32 222.97 219.27 222.70 219.23C222.43 219.18 222.17 219.13 221.90 219.09C221.63 219.04 221.36 218.99 221.09 218.95C220.83 218.90 220.56 218.85 220.29 218.81C220.02 218.76 219.75 218.71 219.49 218.67C219.22 218.62 218.95 218.57 218.68 218.53C218.42 218.48 218.15 218.43 217.88 218.39C217.61 218.34 217.34 218.29 217.08 218.24C216.81 218.20 216.54 218.15 216.27 218.10C216.00 218.06 215.74 218.01 215.47 217.96C215.20 217.91 214.93 217.87 214.66 217.82C214.40 217.77 214.13 217.73 213.86 217.68C213.59 217.63 213.32 217.59 213.06 217.54C212.79 217.49 212.52 217.43 212.25 217.37C211.99 217.32 211.72 217.26 211.45 217.21C211.18 217.15 210.91 217.10 210.65 217.04C210.38 216.99 210.11 216.93 209.84 216.88C209.57 216.82 209.31 216.77 209.04 216.71C208.77 216.66 208.50 216.60 208.23 216.55C207.97 216.49 207.70 216.44 207.43 216.38C207.16 216.33 206.89 216.27 206.63 216.22C206.36 216.16 206.09 216.11 205.82 216.05C205.56 216.00 205.29 215.94 205.02 215.89C204.75 215.83 204.48 215.78 204.22 215.73C203.95 215.67 203.68 215.62 203.41 215.56C203.14 215.51 202.88 215.46 202.61 215.40C202.34 215.35 202.07 215.29 201.80 215.24C201.54 215.19 201.27 215.13 201.00 215.08C200.73 215.02 200.46 214.96 200.20 214.92C199.93 214.87 199.66 214.84 199.39 214.80C199.12 214.77 198.86 214.74 198.59 214.70C198.32 214.67 198.05 214.64 197.79 214.60C197.52 214.57 197.25 214.54 196.98 214.50C196.71 214.47 196.45 214.44 196.18 214.41C195.91 214.37 195.64 214.34 195.37 214.31C195.11 214.28 194.84 214.25 194.57 214.21C194.30 214.18 194.03 214.15 193.77 214.12C193.50 214.09 193.23 214.06 192.96 214.03C192.69 213.99 192.43 213.96 192.16 213.93C191.89 213.90 191.62 213.87 191.36 213.84C191.09 213.81 190.82 213.78 190.55 213.75C190.28 213.72 190.02 213.69 189.75 213.66C189.48 213.63 189.21 213.60 188.94 213.57C188.68 213.54 188.41 213.51 188.14 213.49C187.87 213.46 187.60 213.43 187.34 213.40C187.07 213.37 186.80 213.34 186.53 213.32C186.26 213.29 186.00 213.26 185.73 213.23C185.46 213.21 185.19 213.18 184.93 213.15C184.66 213.13 184.39 213.10 184.12 213.07C183.85 213.05 183.59 213.02 183.32 212.99C183.05 212.97 182.78 212.94 182.51 212.92C182.25 212.89 181.98 212.87 181.71 212.84C181.44 212.82 181.17 212.79 180.91 212.77C180.64 212.74 180.37 212.71 180.10 212.70C179.83 212.68 179.57 212.67 179.30 212.66C179.03 212.65 178.76 212.64 178.49 212.63C178.23 212.62 177.96 212.62 177.69 212.61C177.42 212.60 177.16 212.59 176.89 212.58C176.62 212.58 176.35 212.57 176.08 212.56C175.82 212.55 175.55 212.55 175.28 212.54C175.01 212.53 174.74 212.53 174.48 212.52C174.21 212.51 173.94 212.51 173.67 212.50C173.40 212.50 173.14 212.49 172.87 212.49C172.60 212.48 172.33 212.48 172.06 212.47C171.80 212.47 171.53 212.47 171.26 212.46C170.99 212.46 170.73 212.45 170.46 212.45C170.19 212.45 169.92 212.45 169.65 212.44C169.39 212.44 169.12 212.44 168.85 212.44C168.58 212.44 168.31 212.43 168.05 212.43C167.78 212.43 167.51 212.43 167.24 212.43C166.97 212.43 166.71 212.43 166.44 212.43C166.17 212.43 165.90 212.43 165.63 212.43C165.37 212.43 165.10 212.43 164.83 212.43C164.56 212.44 164.30 212.44 164.03 212.44C163.76 212.44 163.49 212.44 163.22 212.45C162.96 212.45 162.69 212.45 162.42 212.46C162.15 212.46 161.88 212.46 161.62 212.47C161.35 212.47 161.08 212.47 160.81 212.48C160.54 212.48 160.28 212.49 160.01 212.49C159.74 212.50 159.47 212.50 159.20 212.51C158.94 212.52 158.67 212.52 158.40 212.53C158.13 212.54 157.86 212.54 157.60 212.55C157.33 212.56 157.06 212.56 156.79 212.57C156.53 212.58 156.26 212.59 155.99 212.60C155.72 212.61 155.45 212.61 155.19 212.62C154.92 212.63 154.65 212.64 154.38 212.65C154.11 212.66 153.85 212.67 153.58 212.68C153.31 212.69 153.04 212.71 152.77 212.72C152.51 212.73 152.24 212.74 151.97 212.75C151.70 212.76 151.43 212.78 151.17 212.79C150.90 212.80 150.63 212.81 150.36 212.83C150.10 212.84 149.83 212.85 149.56 212.87C149.29 212.88 149.02 212.90 148.76 212.91C148.49 212.93 148.22 212.94 147.95 212.96C147.68 212.97 147.42 212.99 147.15 213.00C146.88 213.02 146.61 213.04 146.34 213.05C146.08 213.07 145.81 213.09 145.54 213.11C145.27 213.12 145.00 213.14 144.74 213.16C144.47 213.18 144.20 213.20 143.93 213.22C143.67 213.23 143.40 213.25 143.13 213.27C142.86 213.29 142.59 213.31 142.33 213.33C142.06 213.35 141.79 213.37 141.52 213.40C141.25 213.42 140.99 213.44 140.72 213.46C140.45 213.48 140.18 213.50 139.91 213.53C139.65 213.55 139.38 213.57 139.11 213.59C138.84 213.61 138.57 213.64 138.31 213.66C138.04 213.68 137.77 213.70 137.50 213.73C137.24 213.75 136.97 213.78 136.70 213.80C136.43 213.82 136.16 213.85 135.90 213.87C135.63 213.90 135.36 213.92 135.09 213.95C134.82 213.97 134.56 214.00 134.29 214.03C134.02 214.05 133.75 214.08 133.48 214.11C133.22 214.14 132.95 214.16 132.68 214.19C132.41 214.22 132.14 214.25 131.88 214.28C131.61 214.30 131.34 214.33 131.07 214.36C130.80 214.39 130.54 214.42 130.27 214.45C130.00 214.48 129.73 214.51 129.47 214.54C129.20 214.58 128.93 214.61 128.66 214.64C128.39 214.67 128.13 214.70 127.86 214.74C127.59 214.77 127.32 214.80 127.05 214.83C126.79 214.87 126.52 214.90 126.25 214.94C125.98 214.97 125.71 215.00 125.45 215.04C125.18 215.07 124.91 215.11 124.64 215.15C124.37 215.18 124.11 215.22 123.84 215.25C123.57 215.29 123.30 215.33 123.04 215.36C122.77 215.40 122.50 215.44 122.23 215.48C121.96 215.52 121.70 215.55 121.43 215.59C121.16 215.63 120.89 215.67 120.62 215.71C120.36 215.75 120.09 215.79 119.82 215.83C119.55 215.87 119.28 215.91 119.02 215.95C118.75 215.98 118.48 216.02 118.21 216.06C117.94 216.10 117.68 216.14 117.41 216.18C117.14 216.23 116.87 216.27 116.61 216.31C116.34 216.35 116.07 216.39 115.80 216.43C115.53 216.48 115.27 216.52 115.00 216.56C114.73 216.61 114.46 216.65 114.19 216.69C113.93 216.74 113.66 216.78 113.39 216.83C113.12 216.87 112.85 216.92 112.59 216.96C112.32 217.01 112.05 217.05 111.78 217.10C111.51 217.15 111.25 217.19 110.98 217.24C110.71 217.29 110.44 217.34 110.17 217.38C109.91 217.43 109.64 217.48 109.37 217.53C109.10 217.58 108.84 217.63 108.57 217.68C108.30 217.73 108.03 217.78 107.76 217.83C107.50 217.88 107.23 217.93 106.96 217.98C106.69 218.03 106.42 218.08 106.16 218.14C105.89 218.19 105.62 218.24 105.35 218.30C105.08 218.35 104.82 218.40 104.55 218.45C104.28 218.51 104.01 218.56 103.74 218.61C103.48 218.66 103.21 218.71 102.94 218.76C102.67 218.81 102.41 218.86 102.14 218.91C101.87 218.96 101.60 219.01 101.33 219.05C101.07 219.10 100.80 219.14 100.53 219.18C100.26 219.22 99.99 219.26 99.73 219.29C99.46 219.33 99.19 219.36 98.92 219.39C98.65 219.41 98.39 219.44 98.12 219.46C97.85 219.48 97.58 219.50 97.31 219.51C97.05 219.52 96.78 219.53 96.51 219.53C96.24 219.53 95.98 219.53 95.71 219.52C95.44 219.51 95.17 219.49 94.90 219.47C94.64 219.44 94.37 219.41 94.10 219.37C93.83 219.33 93.56 219.28 93.30 219.23C93.03 219.18 92.76 219.13 92.49 219.07C92.22 219.01 91.96 218.94 91.69 218.87C91.42 218.80 91.15 218.73 90.88 218.65C90.62 218.58 90.35 218.50 90.08 218.41C89.81 218.33 89.54 218.24 89.28 218.15C89.01 218.06 88.74 217.97 88.47 217.88C88.21 217.78 87.94 217.68 87.67 217.58C87.40 217.49 87.13 217.39 86.87 217.28C86.60 217.18 86.33 217.08 86.06 216.98C85.79 216.88 85.53 216.78 85.26 216.69C84.99 216.59 84.72 216.50 84.45 216.40C84.19 216.31 83.92 216.22 83.65 216.14C83.38 216.06 83.11 215.98 82.85 215.91C82.58 215.84 82.31 215.78 82.04 215.72C81.78 215.67 81.51 215.62 81.24 215.59C80.97 215.56 80.70 215.53 80.44 215.53C80.17 215.52 79.90 215.51 79.63 215.54C79.36 215.57 79.10 215.62 78.83 215.69C78.56 215.77 78.29 215.87 78.02 215.98C77.76 216.10 77.49 216.23 77.22 216.39C76.95 216.55 76.68 216.72 76.42 216.92C76.15 217.13 75.88 217.35 75.61 217.60C75.35 217.85 75.08 218.12 74.81 218.43C74.54 218.73 74.27 219.07 74.01 219.43C73.74 219.80 73.47 220.19 73.20 220.62C72.93 221.04 72.67 221.49 72.40 221.97C72.13 222.45 71.86 222.96 71.59 223.49C71.33 224.03 71.06 224.59 70.79 225.18C70.52 225.77 70.25 226.39 69.99 227.03C69.72 227.66 69.45 228.32 69.18 229.01C68.91 229.70 68.65 230.41 68.38 231.15C68.11 231.89 67.84 232.65 67.58 233.45C67.31 234.24 67.04 235.05 66.77 235.90C66.50 236.74 66.24 237.61 65.97 238.50C65.70 239.39 65.43 240.30 65.16 241.23C64.90 242.16 64.63 243.11 64.36 244.09C64.09 245.06 63.82 246.06 63.56 247.07C63.29 248.09 63.02 249.13 62.75 250.19C62.48 251.24 62.22 252.32 61.95 253.41C61.68 254.50 61.41 255.61 61.15 256.73C60.88 257.85 60.61 258.99 60.34 260.14C60.07 261.29 59.81 262.46 59.54 263.63C59.27 264.81 59.00 265.99 58.73 267.19C58.47 268.39 58.20 269.60 57.93 270.83C57.66 272.07 57.39 273.32 57.13 274.59C56.86 275.86 56.59 277.16 56.32 278.48C56.05 279.80 55.79 281.15 55.52 282.52C55.25 283.88 54.98 285.26 54.72 286.67C54.45 288.09 54.18 289.52 53.91 291.00C53.64 292.48 53.38 293.99 53.11 295.54C52.84 297.08 52.57 298.67 52.30 300.29C52.04 301.92 51.63 304.46 51.50 305.30Z" fill="#dbcfe4" stroke="none"/><path d="M51.50 302.30C51.63 301.45 52.04 298.88 52.30 297.23C52.57 295.58 52.84 293.98 53.11 292.41C53.38 290.84 53.64 289.31 53.91 287.81C54.18 286.31 54.45 284.85 54.72 283.42C54.98 281.99 55.25 280.59 55.52 279.22C55.79 277.84 56.05 276.50 56.32 275.18C56.59 273.86 56.86 272.56 57.13 271.29C57.39 270.02 57.66 268.77 57.93 267.53C58.20 266.30 58.47 265.09 58.73 263.89C59.00 262.69 59.27 261.51 59.54 260.33C59.81 259.16 60.07 258.00 60.34 256.86C60.61 255.71 60.88 254.57 61.15 253.46C61.41 252.34 61.68 251.23 61.95 250.15C62.22 249.06 62.48 247.99 62.75 246.94C63.02 245.89 63.29 244.85 63.56 243.84C63.82 242.83 64.09 241.83 64.36 240.86C64.63 239.90 64.90 238.95 65.16 238.02C65.43 237.10 65.70 236.20 65.97 235.33C66.24 234.45 66.50 233.60 66.77 232.78C67.04 231.96 67.31 231.16 67.58 230.39C67.84 229.61 68.11 228.87 68.38 228.15C68.65 227.43 68.91 226.73 69.18 226.07C69.45 225.40 69.72 224.76 69.99 224.15C70.25 223.53 70.52 222.94 70.79 222.38C71.06 221.82 71.33 221.29 71.59 220.79C71.86 220.28 72.13 219.80 72.40 219.35C72.67 218.90 72.93 218.48 73.20 218.09C73.47 217.69 73.74 217.33 74.01 216.99C74.27 216.65 74.54 216.34 74.81 216.06C75.08 215.78 75.35 215.53 75.61 215.30C75.88 215.07 76.15 214.87 76.42 214.69C76.68 214.51 76.95 214.35 77.22 214.22C77.49 214.08 77.76 213.97 78.02 213.88C78.29 213.79 78.56 213.71 78.83 213.66C79.10 213.60 79.36 213.56 79.63 213.54C79.90 213.51 80.17 213.50 80.44 213.51C80.70 213.51 80.97 213.53 81.24 213.56C81.51 213.59 81.78 213.63 82.04 213.68C82.31 213.73 82.58 213.79 82.85 213.86C83.11 213.92 83.38 214.00 83.65 214.08C83.92 214.16 84.19 214.24 84.45 214.33C84.72 214.41 84.99 214.51 85.26 214.60C85.53 214.69 85.79 214.78 86.06 214.87C86.33 214.96 86.60 215.06 86.87 215.15C87.13 215.24 87.40 215.32 87.67 215.41C87.94 215.50 88.21 215.58 88.47 215.67C88.74 215.75 89.01 215.83 89.28 215.91C89.54 215.98 89.81 216.06 90.08 216.13C90.35 216.20 90.62 216.27 90.88 216.34C91.15 216.40 91.42 216.46 91.69 216.52C91.96 216.58 92.22 216.63 92.49 216.68C92.76 216.73 93.03 216.77 93.30 216.81C93.56 216.85 93.83 216.88 94.10 216.91C94.37 216.93 94.64 216.96 94.90 216.97C95.17 216.99 95.44 217.00 95.71 217.00C95.98 217.01 96.24 217.00 96.51 217.00C96.78 216.99 97.05 216.98 97.31 216.96C97.58 216.94 97.85 216.92 98.12 216.90C98.39 216.87 98.65 216.84 98.92 216.81C99.19 216.77 99.46 216.74 99.73 216.70C99.99 216.66 100.26 216.61 100.53 216.57C100.80 216.52 101.07 216.48 101.33 216.43C101.60 216.38 101.87 216.32 102.14 216.27C102.41 216.22 102.67 216.16 102.94 216.11C103.21 216.05 103.48 215.99 103.74 215.94C104.01 215.88 104.28 215.82 104.55 215.76C104.82 215.71 105.08 215.65 105.35 215.59C105.62 215.53 105.89 215.48 106.16 215.42C106.42 215.37 106.69 215.31 106.96 215.26C107.23 215.20 107.50 215.15 107.76 215.09C108.03 215.04 108.30 214.98 108.57 214.93C108.84 214.88 109.10 214.82 109.37 214.77C109.64 214.72 109.91 214.67 110.17 214.61C110.44 214.56 110.71 214.51 110.98 214.46C111.25 214.41 111.51 214.36 111.78 214.31C112.05 214.26 112.32 214.21 112.59 214.16C112.85 214.11 113.12 214.06 113.39 214.01C113.66 213.97 113.93 213.92 114.19 213.87C114.46 213.82 114.73 213.78 115.00 213.73C115.27 213.68 115.53 213.64 115.80 213.59C116.07 213.54 116.34 213.50 116.61 213.45C116.87 213.41 117.14 213.36 117.41 213.32C117.68 213.27 117.94 213.23 118.21 213.19C118.48 213.14 118.75 213.10 119.02 213.06C119.28 213.02 119.55 212.97 119.82 212.93C120.09 212.89 120.36 212.85 120.62 212.81C120.89 212.77 121.16 212.73 121.43 212.69C121.70 212.65 121.96 212.61 122.23 212.57C122.50 212.53 122.77 212.49 123.04 212.45C123.30 212.41 123.57 212.37 123.84 212.33C124.11 212.30 124.37 212.26 124.64 212.22C124.91 212.19 125.18 212.15 125.45 212.11C125.71 212.08 125.98 212.04 126.25 212.00C126.52 211.97 126.79 211.93 127.05 211.90C127.32 211.86 127.59 211.83 127.86 211.80C128.13 211.76 128.39 211.73 128.66 211.70C128.93 211.66 129.20 211.63 129.47 211.60C129.73 211.57 130.00 211.53 130.27 211.50C130.54 211.47 130.80 211.44 131.07 211.41C131.34 211.38 131.61 211.35 131.88 211.32C132.14 211.29 132.41 211.26 132.68 211.23C132.95 211.20 133.22 211.17 133.48 211.14C133.75 211.11 134.02 211.08 134.29 211.06C134.56 211.03 134.82 211.00 135.09 210.97C135.36 210.95 135.63 210.92 135.90 210.89C136.16 210.87 136.43 210.84 136.70 210.82C136.97 210.79 137.24 210.77 137.50 210.74C137.77 210.72 138.04 210.69 138.31 210.67C138.57 210.64 138.84 210.62 139.11 210.60C139.38 210.57 139.65 210.55 139.91 210.53C140.18 210.50 140.45 210.48 140.72 210.46C140.99 210.44 141.25 210.42 141.52 210.40C141.79 210.37 142.06 210.35 142.33 210.33C142.59 210.31 142.86 210.29 143.13 210.27C143.40 210.25 143.67 210.23 143.93 210.22C144.20 210.20 144.47 210.18 144.74 210.16C145.00 210.14 145.27 210.12 145.54 210.11C145.81 210.09 146.08 210.07 146.34 210.05C146.61 210.04 146.88 210.02 147.15 210.00C147.42 209.99 147.68 209.97 147.95 209.96C148.22 209.94 148.49 209.93 148.76 209.91C149.02 209.90 149.29 209.88 149.56 209.87C149.83 209.85 150.10 209.84 150.36 209.83C150.63 209.81 150.90 209.80 151.17 209.79C151.43 209.78 151.70 209.76 151.97 209.75C152.24 209.74 152.51 209.73 152.77 209.72C153.04 209.71 153.31 209.69 153.58 209.68C153.85 209.67 154.11 209.66 154.38 209.65C154.65 209.64 154.92 209.63 155.19 209.62C155.45 209.61 155.72 209.61 155.99 209.60C156.26 209.59 156.53 209.58 156.79 209.57C157.06 209.56 157.33 209.56 157.60 209.55C157.86 209.54 158.13 209.54 158.40 209.53C158.67 209.52 158.94 209.52 159.20 209.51C159.47 209.50 159.74 209.50 160.01 209.49C160.28 209.49 160.54 209.48 160.81 209.48C161.08 209.47 161.35 209.47 161.62 209.47C161.88 209.46 162.15 209.46 162.42 209.46C162.69 209.45 162.96 209.45 163.22 209.45C163.49 209.44 163.76 209.44 164.03 209.44C164.30 209.44 164.56 209.44 164.83 209.43C165.10 209.43 165.37 209.43 165.63 209.43C165.90 209.43 166.17 209.43 166.44 209.43C166.71 209.43 166.97 209.43 167.24 209.43C167.51 209.43 167.78 209.43 168.05 209.43C168.31 209.43 168.58 209.44 168.85 209.44C169.12 209.44 169.39 209.44 169.65 209.44C169.92 209.45 170.19 209.45 170.46 209.45C170.73 209.45 170.99 209.46 171.26 209.46C171.53 209.47 171.80 209.47 172.06 209.47C172.33 209.48 172.60 209.48 172.87 209.49C173.14 209.49 173.40 209.50 173.67 209.50C173.94 209.51 174.21 209.51 174.48 209.52C174.74 209.53 175.01 209.53 175.28 209.54C175.55 209.55 175.82 209.55 176.08 209.56C176.35 209.57 176.62 209.58 176.89 209.58C177.16 209.59 177.42 209.60 177.69 209.61C177.96 209.62 178.23 209.62 178.49 209.63C178.76 209.64 179.03 209.65 179.30 209.66C179.57 209.67 179.83 209.68 180.10 209.69C180.37 209.70 180.64 209.71 180.91 209.72C181.17 209.73 181.44 209.75 181.71 209.76C181.98 209.77 182.25 209.78 182.51 209.79C182.78 209.80 183.05 209.82 183.32 209.83C183.59 209.84 183.85 209.85 184.12 209.87C184.39 209.88 184.66 209.89 184.93 209.91C185.19 209.92 185.46 209.93 185.73 209.95C186.00 209.96 186.26 209.98 186.53 209.99C186.80 210.00 187.07 210.02 187.34 210.03C187.60 210.05 187.87 210.06 188.14 210.08C188.41 210.09 188.68 210.11 188.94 210.13C189.21 210.14 189.48 210.16 189.75 210.17C190.02 210.19 190.28 210.21 190.55 210.22C190.82 210.24 191.09 210.26 191.36 210.27C191.62 210.29 191.89 210.31 192.16 210.32C192.43 210.34 192.69 210.36 192.96 210.38C193.23 210.39 193.50 210.41 193.77 210.43C194.03 210.45 194.30 210.47 194.57 210.49C194.84 210.50 195.11 210.52 195.37 210.54C195.64 210.56 195.91 210.58 196.18 210.60C196.45 210.62 196.71 210.64 196.98 210.66C197.25 210.67 197.52 210.69 197.79 210.71C198.05 210.73 198.32 210.75 198.59 210.77C198.86 210.79 199.12 210.81 199.39 210.83C199.66 210.85 199.93 210.87 200.20 210.89C200.46 210.91 200.73 210.93 201.00 210.96C201.27 210.98 201.54 211.00 201.80 211.02C202.07 211.04 202.34 211.06 202.61 211.08C202.88 211.10 203.14 211.12 203.41 211.14C203.68 211.16 203.95 211.19 204.22 211.21C204.48 211.23 204.75 211.25 205.02 211.27C205.29 211.29 205.56 211.31 205.82 211.34C206.09 211.36 206.36 211.38 206.63 211.40C206.89 211.42 207.16 211.44 207.43 211.47C207.70 211.49 207.97 211.51 208.23 211.53C208.50 211.55 208.77 211.58 209.04 211.60C209.31 211.62 209.57 211.64 209.84 211.66C210.11 211.69 210.38 211.71 210.65 211.73C210.91 211.75 211.18 211.78 211.45 211.80C211.72 211.82 211.99 211.84 212.25 211.86C212.52 211.89 212.79 211.91 213.06 211.93C213.32 211.95 213.59 211.98 213.86 212.00C214.13 212.02 214.40 212.04 214.66 212.06C214.93 212.09 215.20 212.11 215.47 212.13C215.74 212.15 216.00 212.18 216.27 212.20C216.54 212.22 216.81 212.24 217.08 212.26C217.34 212.29 217.61 212.31 217.88 212.33C218.15 212.35 218.42 212.37 218.68 212.40C218.95 212.42 219.22 212.44 219.49 212.46C219.75 212.48 220.02 212.51 220.29 212.53C220.56 212.55 220.83 212.57 221.09 212.59C221.36 212.61 221.63 212.64 221.90 212.66C222.17 212.68 222.43 212.70 222.70 212.72C222.97 212.74 223.24 212.76 223.51 212.78C223.77 212.81 224.04 212.83 224.31 212.85C224.58 212.87 224.85 212.89 225.11 212.91C225.38 212.93 225.65 212.95 225.92 212.97C226.19 212.99 226.45 213.01 226.72 213.03C226.99 213.05 227.26 213.07 227.52 213.09C227.79 213.11 228.06 213.13 228.33 213.15C228.60 213.17 228.86 213.19 229.13 213.21C229.40 213.23 229.67 213.25 229.94 213.27C230.20 213.29 230.47 213.31 230.74 213.33C231.01 213.35 231.28 213.37 231.54 213.39C231.81 213.40 232.08 213.42 232.35 213.44C232.62 213.46 232.88 213.48 233.15 213.50C233.42 213.51 233.69 213.53 233.95 213.55C234.22 213.57 234.49 213.58 234.76 213.60C235.03 213.62 235.29 213.64 235.56 213.65C235.83 213.67 236.10 213.69 236.37 213.70C236.63 213.72 236.90 213.74 237.17 213.75C237.44 213.77 237.71 213.78 237.97 213.80C238.24 213.82 238.51 213.83 238.78 213.85C239.05 213.86 239.31 213.88 239.58 213.89C239.85 213.91 240.12 213.92 240.38 213.93C240.65 213.95 240.92 213.96 241.19 213.98C241.46 213.99 241.72 214.00 241.99 214.02C242.26 214.03 242.53 214.04 242.80 214.06C243.06 214.07 243.47 214.09 243.60 214.09" fill="none" stroke="#b0a0c0" stroke-width="1.8"/><path d="M51.50 302.30C51.63 301.45 52.04 298.88 52.30 297.23C52.57 295.58 52.84 293.98 53.11 292.41C53.38 290.84 53.64 289.31 53.91 287.81C54.18 286.31 54.45 284.85 54.72 283.42C54.98 281.99 55.25 280.59 55.52 279.22C55.79 277.84 56.05 276.50 56.32 275.18C56.59 273.86 56.86 272.56 57.13 271.29C57.39 270.02 57.66 268.77 57.93 267.53C58.20 266.30 58.47 265.09 58.73 263.89C59.00 262.69 59.27 261.51 59.54 260.33C59.81 259.16 60.07 258.00 60.34 256.86C60.61 255.71 60.88 254.57 61.15 253.46C61.41 252.34 61.68 251.23 61.95 250.15C62.22 249.06 62.48 247.99 62.75 246.94C63.02 245.89 63.29 244.85 63.56 243.84C63.82 242.83 64.09 241.83 64.36 240.86C64.63 239.90 64.90 238.95 65.16 238.02C65.43 237.10 65.70 236.20 65.97 235.33C66.24 234.45 66.50 233.60 66.77 232.78C67.04 231.96 67.31 231.16 67.58 230.39C67.84 229.61 68.11 228.87 68.38 228.15C68.65 227.43 68.91 226.73 69.18 226.07C69.45 225.40 69.72 224.76 69.99 224.15C70.25 223.53 70.52 222.94 70.79 222.38C71.06 221.82 71.33 221.29 71.59 220.79C71.86 220.28 72.13 219.80 72.40 219.35C72.67 218.90 72.93 218.48 73.20 218.09C73.47 217.69 73.74 217.33 74.01 216.99C74.27 216.65 74.54 216.34 74.81 216.06C75.08 215.78 75.35 215.53 75.61 215.30C75.88 215.07 76.15 214.87 76.42 214.69C76.68 214.51 76.95 214.35 77.22 214.22C77.49 214.08 77.76 213.97 78.02 213.88C78.29 213.79 78.56 213.71 78.83 213.66C79.10 213.60 79.36 213.56 79.63 213.54C79.90 213.51 80.17 213.50 80.44 213.51C80.70 213.51 80.97 213.53 81.24 213.56C81.51 213.59 81.78 213.63 82.04 213.68C82.31 213.73 82.58 213.79 82.85 213.86C83.11 213.92 83.38 214.00 83.65 214.08C83.92 214.16 84.19 214.24 84.45 214.33C84.72 214.41 84.99 214.51 85.26 214.60C85.53 214.69 85.79 214.78 86.06 214.87C86.33 214.96 86.60 215.06 86.87 215.15C87.13 215.24 87.40 215.32 87.67 215.41C87.94 215.50 88.21 215.58 88.47 215.67C88.74 215.75 89.01 215.83 89.28 215.91C89.54 215.98 89.81 216.06 90.08 216.13C90.35 216.20 90.62 216.27 90.88 216.34C91.15 216.40 91.42 216.46 91.69 216.52C91.96 216.58 92.22 216.63 92.49 216.68C92.76 216.73 93.03 216.77 93.30 216.81C93.56 216.85 93.83 216.88 94.10 216.91C94.37 216.93 94.64 216.96 94.90 216.97C95.17 216.99 95.44 217.00 95.71 217.00C95.98 217.01 96.24 217.00 96.51 217.00C96.78 216.99 97.05 216.98 97.31 216.96C97.58 216.94 97.85 216.92 98.12 216.90C98.39 216.87 98.65 216.84 98.92 216.81C99.19 216.77 99.46 216.74 99.73 216.70C99.99 216.66 100.26 216.61 100.53 216.57C100.80 216.52 101.07 216.48 101.33 216.43C101.60 216.38 101.87 216.32 102.14 216.27C102.41 216.22 102.67 216.16 102.94 216.11C103.21 216.05 103.48 215.99 103.74 215.94C104.01 215.88 104.28 215.82 104.55 215.76C104.82 215.71 105.08 215.65 105.35 215.59C105.62 215.53 105.89 215.48 106.16 215.42C106.42 215.37 106.69 215.31 106.96 215.26C107.23 215.20 107.50 215.15 107.76 215.09C108.03 215.04 108.30 214.98 108.57 214.93C108.84 214.88 109.10 214.82 109.37 214.77C109.64 214.72 109.91 214.67 110.17 214.61C110.44 214.56 110.71 214.51 110.98 214.46C111.25 214.41 111.51 214.36 111.78 214.31C112.05 214.26 112.32 214.21 112.59 214.16C112.85 214.11 113.12 214.06 113.39 214.01C113.66 213.97 113.93 213.92 114.19 213.87C114.46 213.82 114.73 213.78 115.00 213.73C115.27 213.68 115.53 213.64 115.80 213.59C116.07 213.54 116.34 213.50 116.61 213.45C116.87 213.41 117.14 213.36 117.41 213.32C117.68 213.27 117.94 213.23 118.21 213.19C118.48 213.14 118.75 213.10 119.02 213.06C119.28 213.02 119.55 212.97 119.82 212.93C120.09 212.89 120.36 212.85 120.62 212.81C120.89 212.77 121.16 212.73 121.43 212.69C121.70 212.65 121.96 212.61 122.23 212.57C122.50 212.53 122.77 212.49 123.04 212.45C123.30 212.41 123.57 212.37 123.84 212.33C124.11 212.30 124.37 212.26 124.64 212.22C124.91 212.19 125.18 212.15 125.45 212.11C125.71 212.08 125.98 212.04 126.25 212.00C126.52 211.97 126.79 211.93 127.05 211.90C127.32 211.86 127.59 211.83 127.86 211.80C128.13 211.76 128.39 211.73 128.66 211.70C128.93 211.66 129.20 211.63 129.47 211.60C129.73 211.57 130.00 211.53 130.27 211.50C130.54 211.47 130.80 211.44 131.07 211.41C131.34 211.38 131.61 211.35 131.88 211.32C132.14 211.29 132.41 211.26 132.68 211.23C132.95 211.20 133.22 211.17 133.48 211.14C133.75 211.11 134.02 211.08 134.29 211.06C134.56 211.03 134.82 211.00 135.09 210.97C135.36 210.95 135.63 210.92 135.90 210.89C136.16 210.87 136.43 210.84 136.70 210.82C136.97 210.79 137.24 210.77 137.50 210.74C137.77 210.72 138.04 210.69 138.31 210.67C138.57 210.64 138.84 210.62 139.11 210.60C139.38 210.57 139.65 210.55 139.91 210.53C140.18 210.50 140.45 210.48 140.72 210.46C140.99 210.44 141.25 210.42 141.52 210.40C141.79 210.37 142.06 210.35 142.33 210.33C142.59 210.31 142.86 210.29 143.13 210.27C143.40 210.25 143.67 210.23 143.93 210.22C144.20 210.20 144.47 210.18 144.74 210.16C145.00 210.14 145.27 210.12 145.54 210.11C145.81 210.09 146.08 210.07 146.34 210.05C146.61 210.04 146.88 210.02 147.15 210.00C147.42 209.99 147.68 209.97 147.95 209.96C148.22 209.94 148.49 209.93 148.76 209.91C149.02 209.90 149.29 209.88 149.56 209.87C149.83 209.85 150.10 209.84 150.36 209.83C150.63 209.81 150.90 209.80 151.17 209.79C151.43 209.78 151.70 209.76 151.97 209.75C152.24 209.74 152.51 209.73 152.77 209.72C153.04 209.71 153.31 209.69 153.58 209.68C153.85 209.67 154.11 209.66 154.38 209.65C154.65 209.64 154.92 209.63 155.19 209.62C155.45 209.61 155.72 209.61 155.99 209.60C156.26 209.59 156.53 209.58 156.79 209.57C157.06 209.56 157.33 209.56 157.60 209.55C157.86 209.54 158.13 209.54 158.40 209.53C158.67 209.52 158.94 209.52 159.20 209.51C159.47 209.50 159.74 209.50 160.01 209.49C160.28 209.49 160.54 209.48 160.81 209.48C161.08 209.47 161.35 209.47 161.62 209.47C161.88 209.46 162.15 209.46 162.42 209.46C162.69 209.45 162.96 209.45 163.22 209.45C163.49 209.44 163.76 209.44 164.03 209.44C164.30 209.44 164.56 209.44 164.83 209.43C165.10 209.43 165.37 209.43 165.63 209.43C165.90 209.43 166.17 209.43 166.44 209.43C166.71 209.43 166.97 209.43 167.24 209.43C167.51 209.43 167.78 209.43 168.05 209.43C168.31 209.43 168.58 209.44 168.85 209.44C169.12 209.44 169.39 209.44 169.65 209.44C169.92 209.45 170.19 209.45 170.46 209.45C170.73 209.45 170.99 209.46 171.26 209.46C171.53 209.47 171.80 209.47 172.06 209.47C172.33 209.48 172.60 209.48 172.87 209.49C173.14 209.49 173.40 209.50 173.67 209.50C173.94 209.51 174.21 209.51 174.48 209.52C174.74 209.53 175.01 209.53 175.28 209.54C175.55 209.55 175.82 209.55 176.08 209.56C176.35 209.57 176.62 209.58 176.89 209.58C177.16 209.59 177.42 209.60 177.69 209.61C177.96 209.62 178.23 209.62 178.49 209.63C178.76 209.64 179.03 209.65 179.30 209.66C179.57 209.67 179.83 209.68 180.10 209.69C180.37 209.70 180.64 209.71 180.91 209.72C181.17 209.73 181.44 209.75 181.71 209.76C181.98 209.77 182.25 209.78 182.51 209.79C182.78 209.80 183.05 209.82 183.32 209.83C183.59 209.84 183.85 209.85 184.12 209.87C184.39 209.88 184.66 209.89 184.93 209.91C185.19 209.92 185.46 209.93 185.73 209.95C186.00 209.96 186.26 209.98 186.53 209.99C186.80 210.00 187.07 210.02 187.34 210.03C187.60 210.05 187.87 210.06 188.14 210.08C188.41 210.09 188.68 210.11 188.94 210.13C189.21 210.14 189.48 210.16 189.75 210.17C190.02 210.19 190.28 210.21 190.55 210.22C190.82 210.24 191.09 210.26 191.36 210.27C191.62 210.29 191.89 210.31 192.16 210.32C192.43 210.34 192.69 210.36 192.96 210.38C193.23 210.39 193.50 210.41 193.77 210.43C194.03 210.45 194.30 210.47 194.57 210.49C194.84 210.50 195.11 210.52 195.37 210.54C195.64 210.56 195.91 210.58 196.18 210.60C196.45 210.62 196.71 210.64 196.98 210.66C197.25 210.67 197.52 210.69 197.79 210.71C198.05 210.73 198.32 210.75 198.59 210.77C198.86 210.79 199.12 210.81 199.39 210.83C199.66 210.85 199.93 210.87 200.20 210.89C200.46 210.91 200.73 210.93 201.00 210.96C201.27 210.98 201.54 211.00 201.80 211.02C202.07 211.04 202.34 211.06 202.61 211.08C202.88 211.10 203.14 211.12 203.41 211.14C203.68 211.16 203.95 211.19 204.22 211.21C204.48 211.23 204.75 211.25 205.02 211.27C205.29 211.29 205.56 211.31 205.82 211.34C206.09 211.36 206.36 211.38 206.63 211.40C206.89 211.42 207.16 211.44 207.43 211.47C207.70 211.49 207.97 211.51 208.23 211.53C208.50 211.55 208.77 211.58 209.04 211.60C209.31 211.62 209.57 211.64 209.84 211.66C210.11 211.69 210.38 211.71 210.65 211.73C210.91 211.75 211.18 211.78 211.45 211.80C211.72 211.82 211.99 211.84 212.25 211.86C212.52 211.89 212.79 211.91 213.06 211.93C213.32 211.95 213.59 211.98 213.86 212.00C214.13 212.02 214.40 212.04 214.66 212.06C214.93 212.09 215.20 212.11 215.47 212.13C215.74 212.15 216.00 212.18 216.27 212.20C216.54 212.22 216.81 212.24 217.08 212.26C217.34 212.29 217.61 212.31 217.88 212.33C218.15 212.35 218.42 212.37 218.68 212.40C218.95 212.42 219.22 212.44 219.49 212.46C219.75 212.48 220.02 212.51 220.29 212.53C220.56 212.55 220.83 212.57 221.09 212.59C221.36 212.61 221.63 212.64 221.90 212.66C222.17 212.68 222.43 212.70 222.70 212.72C222.97 212.74 223.24 212.76 223.51 212.78C223.77 212.81 224.04 212.83 224.31 212.85C224.58 212.87 224.85 212.89 225.11 212.91C225.38 212.93 225.65 212.95 225.92 212.97C226.19 212.99 226.45 213.01 226.72 213.03C226.99 213.05 227.26 213.07 227.52 213.09C227.79 213.11 228.06 213.13 228.33 213.15C228.60 213.17 228.86 213.19 229.13 213.21C229.40 213.23 229.67 213.25 229.94 213.27C230.20 213.29 230.47 213.31 230.74 213.33C231.01 213.35 231.28 213.37 231.54 213.39C231.81 213.40 232.08 213.42 232.35 213.44C232.62 213.46 232.88 213.48 233.15 213.50C233.42 213.51 233.69 213.53 233.95 213.55C234.22 213.57 234.49 213.58 234.76 213.60C235.03 213.62 235.29 213.64 235.56 213.65C235.83 213.67 236.10 213.69 236.37 213.70C236.63 213.72 236.90 213.74 237.17 213.75C237.44 213.77 237.71 213.78 237.97 213.80C238.24 213.82 238.51 213.83 238.78 213.85C239.05 213.86 239.31 213.88 239.58 213.89C239.85 213.91 240.12 213.92 240.38 213.93C240.65 213.95 240.92 213.96 241.19 213.98C241.46 213.99 241.72 214.00 241.99 214.02C242.26 214.03 242.53 214.04 242.80 214.06C243.06 214.07 243.47 214.09 243.60 214.09" fill="none" stroke="#5e4c70" stroke-width="0.9"/><path d="M51.50 299.30C51.63 298.44 52.04 295.84 52.30 294.17C52.57 292.50 52.84 290.87 53.11 289.28C53.38 287.69 53.64 286.14 53.91 284.62C54.18 283.10 54.45 281.62 54.72 280.17C54.98 278.72 55.25 277.30 55.52 275.92C55.79 274.53 56.05 273.20 56.32 271.88C56.59 270.56 56.86 269.26 57.13 267.99C57.39 266.72 57.66 265.47 57.93 264.23C58.20 263.00 58.47 261.79 58.73 260.59C59.00 259.39 59.27 258.20 59.54 257.03C59.81 255.86 60.07 254.71 60.34 253.57C60.61 252.42 60.88 251.29 61.15 250.18C61.41 249.07 61.68 247.97 61.95 246.89C62.22 245.80 62.48 244.74 62.75 243.69C63.02 242.64 63.29 241.61 63.56 240.61C63.82 239.60 64.09 238.61 64.36 237.64C64.63 236.68 64.90 235.73 65.16 234.82C65.43 233.90 65.70 233.01 65.97 232.15C66.24 231.29 66.50 230.47 66.77 229.66C67.04 228.86 67.31 228.08 67.58 227.33C67.84 226.57 68.11 225.85 68.38 225.15C68.65 224.45 68.91 223.77 69.18 223.12C69.45 222.48 69.72 221.85 69.99 221.27C70.25 220.68 70.52 220.12 70.79 219.59C71.06 219.06 71.33 218.56 71.59 218.08C71.86 217.61 72.13 217.16 72.40 216.74C72.67 216.31 72.93 215.92 73.20 215.56C73.47 215.19 73.74 214.86 74.01 214.55C74.27 214.24 74.54 213.95 74.81 213.69C75.08 213.44 75.35 213.20 75.61 213.00C75.88 212.79 76.15 212.61 76.42 212.45C76.68 212.29 76.95 212.16 77.22 212.05C77.49 211.94 77.76 211.85 78.02 211.78C78.29 211.70 78.56 211.66 78.83 211.62C79.10 211.58 79.36 211.55 79.63 211.53C79.90 211.51 80.17 211.49 80.44 211.49C80.70 211.49 80.97 211.51 81.24 211.53C81.51 211.56 81.78 211.60 82.04 211.64C82.31 211.69 82.58 211.74 82.85 211.81C83.11 211.87 83.38 211.94 83.65 212.01C83.92 212.09 84.19 212.17 84.45 212.25C84.72 212.33 84.99 212.42 85.26 212.51C85.53 212.59 85.79 212.69 86.06 212.77C86.33 212.85 86.60 212.93 86.87 213.01C87.13 213.08 87.40 213.16 87.67 213.24C87.94 213.31 88.21 213.38 88.47 213.46C88.74 213.53 89.01 213.59 89.28 213.66C89.54 213.73 89.81 213.79 90.08 213.85C90.35 213.91 90.62 213.97 90.88 214.02C91.15 214.07 91.42 214.12 91.69 214.17C91.96 214.21 92.22 214.25 92.49 214.29C92.76 214.33 93.03 214.36 93.30 214.38C93.56 214.41 93.83 214.43 94.10 214.45C94.37 214.46 94.64 214.47 94.90 214.48C95.17 214.48 95.44 214.49 95.71 214.49C95.98 214.49 96.24 214.48 96.51 214.47C96.78 214.45 97.05 214.44 97.31 214.41C97.58 214.39 97.85 214.36 98.12 214.33C98.39 214.30 98.65 214.27 98.92 214.23C99.19 214.19 99.46 214.15 99.73 214.10C99.99 214.06 100.26 214.01 100.53 213.96C100.80 213.91 101.07 213.85 101.33 213.80C101.60 213.74 101.87 213.69 102.14 213.63C102.41 213.57 102.67 213.51 102.94 213.45C103.21 213.39 103.48 213.32 103.74 213.26C104.01 213.20 104.28 213.13 104.55 213.07C104.82 213.01 105.08 212.95 105.35 212.89C105.62 212.83 105.89 212.77 106.16 212.71C106.42 212.65 106.69 212.59 106.96 212.53C107.23 212.47 107.50 212.41 107.76 212.35C108.03 212.30 108.30 212.24 108.57 212.18C108.84 212.13 109.10 212.07 109.37 212.01C109.64 211.96 109.91 211.90 110.17 211.85C110.44 211.79 110.71 211.74 110.98 211.68C111.25 211.63 111.51 211.57 111.78 211.52C112.05 211.47 112.32 211.41 112.59 211.36C112.85 211.31 113.12 211.25 113.39 211.20C113.66 211.15 113.93 211.10 114.19 211.05C114.46 211.00 114.73 210.95 115.00 210.90C115.27 210.85 115.53 210.80 115.80 210.75C116.07 210.70 116.34 210.65 116.61 210.60C116.87 210.55 117.14 210.50 117.41 210.45C117.68 210.41 117.94 210.36 118.21 210.31C118.48 210.26 118.75 210.22 119.02 210.17C119.28 210.13 119.55 210.08 119.82 210.03C120.09 209.99 120.36 209.95 120.62 209.90C120.89 209.86 121.16 209.82 121.43 209.78C121.70 209.74 121.96 209.70 122.23 209.66C122.50 209.61 122.77 209.57 123.04 209.53C123.30 209.49 123.57 209.45 123.84 209.42C124.11 209.38 124.37 209.34 124.64 209.30C124.91 209.26 125.18 209.22 125.45 209.18C125.71 209.15 125.98 209.11 126.25 209.07C126.52 209.04 126.79 209.00 127.05 208.96C127.32 208.93 127.59 208.89 127.86 208.86C128.13 208.82 128.39 208.79 128.66 208.75C128.93 208.72 129.20 208.68 129.47 208.65C129.73 208.62 130.00 208.58 130.27 208.55C130.54 208.52 130.80 208.48 131.07 208.45C131.34 208.42 131.61 208.39 131.88 208.36C132.14 208.33 132.41 208.29 132.68 208.26C132.95 208.23 133.22 208.20 133.48 208.17C133.75 208.14 134.02 208.11 134.29 208.08C134.56 208.06 134.82 208.03 135.09 208.00C135.36 207.97 135.63 207.94 135.90 207.91C136.16 207.89 136.43 207.86 136.70 207.83C136.97 207.81 137.24 207.78 137.50 207.75C137.77 207.73 138.04 207.70 138.31 207.68C138.57 207.65 138.84 207.63 139.11 207.60C139.38 207.58 139.65 207.55 139.91 207.53C140.18 207.50 140.45 207.48 140.72 207.46C140.99 207.44 141.25 207.42 141.52 207.40C141.79 207.37 142.06 207.35 142.33 207.33C142.59 207.31 142.86 207.29 143.13 207.27C143.40 207.25 143.67 207.23 143.93 207.22C144.20 207.20 144.47 207.18 144.74 207.16C145.00 207.14 145.27 207.12 145.54 207.11C145.81 207.09 146.08 207.07 146.34 207.05C146.61 207.04 146.88 207.02 147.15 207.00C147.42 206.99 147.68 206.97 147.95 206.96C148.22 206.94 148.49 206.93 148.76 206.91C149.02 206.90 149.29 206.88 149.56 206.87C149.83 206.85 150.10 206.84 150.36 206.83C150.63 206.81 150.90 206.80 151.17 206.79C151.43 206.78 151.70 206.76 151.97 206.75C152.24 206.74 152.51 206.73 152.77 206.72C153.04 206.71 153.31 206.69 153.58 206.68C153.85 206.67 154.11 206.66 154.38 206.65C154.65 206.64 154.92 206.63 155.19 206.62C155.45 206.61 155.72 206.61 155.99 206.60C156.26 206.59 156.53 206.58 156.79 206.57C157.06 206.56 157.33 206.56 157.60 206.55C157.86 206.54 158.13 206.54 158.40 206.53C158.67 206.52 158.94 206.52 159.20 206.51C159.47 206.50 159.74 206.50 160.01 206.49C160.28 206.49 160.54 206.48 160.81 206.48C161.08 206.47 161.35 206.47 161.62 206.47C161.88 206.46 162.15 206.46 162.42 206.46C162.69 206.45 162.96 206.45 163.22 206.45C163.49 206.44 163.76 206.44 164.03 206.44C164.30 206.44 164.56 206.44 164.83 206.43C165.10 206.43 165.37 206.43 165.63 206.43C165.90 206.43 166.17 206.43 166.44 206.43C166.71 206.43 166.97 206.43 167.24 206.43C167.51 206.43 167.78 206.43 168.05 206.43C168.31 206.43 168.58 206.44 168.85 206.44C169.12 206.44 169.39 206.44 169.65 206.44C169.92 206.45 170.19 206.45 170.46 206.45C170.73 206.45 170.99 206.46 171.26 206.46C171.53 206.47 171.80 206.47 172.06 206.47C172.33 206.48 172.60 206.48 172.87 206.49C173.14 206.49 173.40 206.50 173.67 206.50C173.94 206.51 174.21 206.51 174.48 206.52C174.74 206.53 175.01 206.53 175.28 206.54C175.55 206.55 175.82 206.55 176.08 206.56C176.35 206.57 176.62 206.58 176.89 206.58C177.16 206.59 177.42 206.60 177.69 206.61C177.96 206.62 178.23 206.62 178.49 206.63C178.76 206.64 179.03 206.65 179.30 206.66C179.57 206.67 179.83 206.68 180.10 206.69C180.37 206.69 180.64 206.68 180.91 206.68C181.17 206.68 181.44 206.67 181.71 206.67C181.98 206.67 182.25 206.67 182.51 206.67C182.78 206.66 183.05 206.66 183.32 206.66C183.59 206.66 183.85 206.66 184.12 206.66C184.39 206.66 184.66 206.66 184.93 206.66C185.19 206.66 185.46 206.66 185.73 206.66C186.00 206.66 186.26 206.66 186.53 206.66C186.80 206.66 187.07 206.67 187.34 206.67C187.60 206.67 187.87 206.67 188.14 206.67C188.41 206.67 188.68 206.68 188.94 206.68C189.21 206.68 189.48 206.68 189.75 206.69C190.02 206.69 190.28 206.69 190.55 206.69C190.82 206.70 191.09 206.70 191.36 206.71C191.62 206.71 191.89 206.71 192.16 206.72C192.43 206.72 192.69 206.72 192.96 206.73C193.23 206.73 193.50 206.74 193.77 206.74C194.03 206.75 194.30 206.75 194.57 206.76C194.84 206.76 195.11 206.77 195.37 206.77C195.64 206.78 195.91 206.78 196.18 206.79C196.45 206.79 196.71 206.80 196.98 206.81C197.25 206.81 197.52 206.82 197.79 206.82C198.05 206.83 198.32 206.84 198.59 206.84C198.86 206.85 199.12 206.86 199.39 206.86C199.66 206.87 199.93 206.87 200.20 206.87C200.46 206.86 200.73 206.84 201.00 206.83C201.27 206.82 201.54 206.81 201.80 206.80C202.07 206.78 202.34 206.77 202.61 206.76C202.88 206.75 203.14 206.74 203.41 206.72C203.68 206.71 203.95 206.70 204.22 206.69C204.48 206.68 204.75 206.67 205.02 206.65C205.29 206.64 205.56 206.63 205.82 206.62C206.09 206.61 206.36 206.60 206.63 206.59C206.89 206.57 207.16 206.56 207.43 206.55C207.70 206.54 207.97 206.53 208.23 206.52C208.50 206.51 208.77 206.50 209.04 206.49C209.31 206.48 209.57 206.46 209.84 206.45C210.11 206.44 210.38 206.43 210.65 206.42C210.91 206.41 211.18 206.40 211.45 206.39C211.72 206.38 211.99 206.37 212.25 206.36C212.52 206.35 212.79 206.33 213.06 206.33C213.32 206.32 213.59 206.32 213.86 206.32C214.13 206.31 214.40 206.31 214.66 206.31C214.93 206.31 215.20 206.30 215.47 206.30C215.74 206.30 216.00 206.30 216.27 206.29C216.54 206.29 216.81 206.29 217.08 206.28C217.34 206.28 217.61 206.28 217.88 206.28C218.15 206.27 218.42 206.27 218.68 206.27C218.95 206.26 219.22 206.26 219.49 206.26C219.75 206.25 220.02 206.25 220.29 206.25C220.56 206.24 220.83 206.24 221.09 206.24C221.36 206.23 221.63 206.23 221.90 206.23C222.17 206.22 222.43 206.22 222.70 206.22C222.97 206.21 223.24 206.21 223.51 206.20C223.77 206.20 224.04 206.20 224.31 206.19C224.58 206.19 224.85 206.18 225.11 206.18C225.38 206.18 225.65 206.17 225.92 206.17C226.19 206.16 226.45 206.16 226.72 206.15C226.99 206.15 227.26 206.14 227.52 206.14C227.79 206.13 228.06 206.13 228.33 206.13C228.60 206.13 228.86 206.13 229.13 206.13C229.40 206.13 229.67 206.12 229.94 206.12C230.20 206.12 230.47 206.12 230.74 206.12C231.01 206.12 231.28 206.11 231.54 206.11C231.81 206.11 232.08 206.11 232.35 206.11C232.62 206.10 232.88 206.10 233.15 206.10C233.42 206.10 233.69 206.09 233.95 206.09C234.22 206.09 234.49 206.08 234.76 206.08C235.03 206.08 235.29 206.07 235.56 206.07C235.83 206.07 236.10 206.06 236.37 206.06C236.63 206.06 236.90 206.05 237.17 206.05C237.44 206.04 237.71 206.04 237.97 206.03C238.24 206.03 238.51 206.02 238.78 206.02C239.05 206.01 239.31 206.01 239.58 206.00C239.85 205.99 240.12 205.99 240.38 205.98C240.65 205.98 240.92 205.97 241.19 205.96C241.46 205.96 241.72 205.95 241.99 205.94C242.26 205.93 242.53 205.93 242.80 205.92C243.06 205.91 243.47 205.90 243.60 205.89" fill="none" stroke="#5a5a5a" stroke-width="1.05" stroke-dasharray="2.5 2.1"/><path d="M51.50 305.30C51.63 304.46 52.04 301.92 52.30 300.29C52.57 298.67 52.84 297.08 53.11 295.54C53.38 293.99 53.64 292.48 53.91 291.00C54.18 289.52 54.45 288.09 54.72 286.67C54.98 285.26 55.25 283.88 55.52 282.52C55.79 281.15 56.05 279.80 56.32 278.48C56.59 277.16 56.86 275.86 57.13 274.59C57.39 273.32 57.66 272.07 57.93 270.83C58.20 269.60 58.47 268.39 58.73 267.19C59.00 265.99 59.27 264.81 59.54 263.63C59.81 262.46 60.07 261.29 60.34 260.14C60.61 258.99 60.88 257.85 61.15 256.73C61.41 255.61 61.68 254.50 61.95 253.41C62.22 252.32 62.48 251.24 62.75 250.19C63.02 249.13 63.29 248.09 63.56 247.07C63.82 246.06 64.09 245.06 64.36 244.09C64.63 243.11 64.90 242.16 65.16 241.23C65.43 240.30 65.70 239.39 65.97 238.50C66.24 237.61 66.50 236.74 66.77 235.90C67.04 235.05 67.31 234.24 67.58 233.45C67.84 232.65 68.11 231.89 68.38 231.15C68.65 230.41 68.91 229.70 69.18 229.01C69.45 228.32 69.72 227.66 69.99 227.03C70.25 226.39 70.52 225.77 70.79 225.18C71.06 224.59 71.33 224.03 71.59 223.49C71.86 222.96 72.13 222.45 72.40 221.97C72.67 221.49 72.93 221.04 73.20 220.62C73.47 220.19 73.74 219.80 74.01 219.43C74.27 219.07 74.54 218.73 74.81 218.43C75.08 218.12 75.35 217.85 75.61 217.60C75.88 217.35 76.15 217.13 76.42 216.92C76.68 216.72 76.95 216.55 77.22 216.39C77.49 216.23 77.76 216.10 78.02 215.98C78.29 215.87 78.56 215.77 78.83 215.69C79.10 215.62 79.36 215.57 79.63 215.54C79.90 215.51 80.17 215.52 80.44 215.53C80.70 215.53 80.97 215.56 81.24 215.59C81.51 215.62 81.78 215.67 82.04 215.72C82.31 215.78 82.58 215.84 82.85 215.91C83.11 215.98 83.38 216.06 83.65 216.14C83.92 216.22 84.19 216.31 84.45 216.40C84.72 216.50 84.99 216.59 85.26 216.69C85.53 216.78 85.79 216.88 86.06 216.98C86.33 217.08 86.60 217.18 86.87 217.28C87.13 217.39 87.40 217.49 87.67 217.58C87.94 217.68 88.21 217.78 88.47 217.88C88.74 217.97 89.01 218.06 89.28 218.15C89.54 218.24 89.81 218.33 90.08 218.41C90.35 218.50 90.62 218.58 90.88 218.65C91.15 218.73 91.42 218.80 91.69 218.87C91.96 218.94 92.22 219.01 92.49 219.07C92.76 219.13 93.03 219.18 93.30 219.23C93.56 219.28 93.83 219.33 94.10 219.37C94.37 219.41 94.64 219.44 94.90 219.47C95.17 219.49 95.44 219.51 95.71 219.52C95.98 219.53 96.24 219.53 96.51 219.53C96.78 219.53 97.05 219.52 97.31 219.51C97.58 219.50 97.85 219.48 98.12 219.46C98.39 219.44 98.65 219.41 98.92 219.39C99.19 219.36 99.46 219.33 99.73 219.29C99.99 219.26 100.26 219.22 100.53 219.18C100.80 219.14 101.07 219.10 101.33 219.05C101.60 219.01 101.87 218.96 102.14 218.91C102.41 218.86 102.67 218.81 102.94 218.76C103.21 218.71 103.48 218.66 103.74 218.61C104.01 218.56 104.28 218.51 104.55 218.45C104.82 218.40 105.08 218.35 105.35 218.30C105.62 218.24 105.89 218.19 106.16 218.14C106.42 218.08 106.69 218.03 106.96 217.98C107.23 217.93 107.50 217.88 107.76 217.83C108.03 217.78 108.30 217.73 108.57 217.68C108.84 217.63 109.10 217.58 109.37 217.53C109.64 217.48 109.91 217.43 110.17 217.38C110.44 217.34 110.71 217.29 110.98 217.24C111.25 217.19 111.51 217.15 111.78 217.10C112.05 217.05 112.32 217.01 112.59 216.96C112.85 216.92 113.12 216.87 113.39 216.83C113.66 216.78 113.93 216.74 114.19 216.69C114.46 216.65 114.73 216.61 115.00 216.56C115.27 216.52 115.53 216.48 115.80 216.43C116.07 216.39 116.34 216.35 116.61 216.31C116.87 216.27 117.14 216.23 117.41 216.18C117.68 216.14 117.94 216.10 118.21 216.06C118.48 216.02 118.75 215.98 119.02 215.95C119.28 215.91 119.55 215.87 119.82 215.83C120.09 215.79 120.36 215.75 120.62 215.71C120.89 215.67 121.16 215.63 121.43 215.59C121.70 215.55 121.96 215.52 122.23 215.48C122.50 215.44 122.77 215.40 123.04 215.36C123.30 215.33 123.57 215.29 123.84 215.25C124.11 215.22 124.37 215.18 124.64 215.15C124.91 215.11 125.18 215.07 125.45 215.04C125.71 215.00 125.98 214.97 126.25 214.94C126.52 214.90 126.79 214.87 127.05 214.83C127.32 214.80 127.59 214.77 127.86 214.74C128.13 214.70 128.39 214.67 128.66 214.64C128.93 214.61 129.20 214.58 129.47 214.54C129.73 214.51 130.00 214.48 130.27 214.45C130.54 214.42 130.80 214.39 131.07 214.36C131.34 214.33 131.61 214.30 131.88 214.28C132.14 214.25 132.41 214.22 132.68 214.19C132.95 214.16 133.22 214.14 133.48 214.11C133.75 214.08 134.02 214.05 134.29 214.03C134.56 214.00 134.82 213.97 135.09 213.95C135.36 213.92 135.63 213.90 135.90 213.87C136.16 213.85 136.43 213.82 136.70 213.80C136.97 213.78 137.24 213.75 137.50 213.73C137.77 213.70 138.04 213.68 138.31 213.66C138.57 213.64 138.84 213.61 139.11 213.59C139.38 213.57 139.65 213.55 139.91 213.53C140.18 213.50 140.45 213.48 140.72 213.46C140.99 213.44 141.25 213.42 141.52 213.40C141.79 213.37 142.06 213.35 142.33 213.33C142.59 213.31 142.86 213.29 143.13 213.27C143.40 213.25 143.67 213.23 143.93 213.22C144.20 213.20 144.47 213.18 144.74 213.16C145.00 213.14 145.27 213.12 145.54 213.11C145.81 213.09 146.08 213.07 146.34 213.05C146.61 213.04 146.88 213.02 147.15 213.00C147.42 212.99 147.68 212.97 147.95 212.96C148.22 212.94 148.49 212.93 148.76 212.91C149.02 212.90 149.29 212.88 149.56 212.87C149.83 212.85 150.10 212.84 150.36 212.83C150.63 212.81 150.90 212.80 151.17 212.79C151.43 212.78 151.70 212.76 151.97 212.75C152.24 212.74 152.51 212.73 152.77 212.72C153.04 212.71 153.31 212.69 153.58 212.68C153.85 212.67 154.11 212.66 154.38 212.65C154.65 212.64 154.92 212.63 155.19 212.62C155.45 212.61 155.72 212.61 155.99 212.60C156.26 212.59 156.53 212.58 156.79 212.57C157.06 212.56 157.33 212.56 157.60 212.55C157.86 212.54 158.13 212.54 158.40 212.53C158.67 212.52 158.94 212.52 159.20 212.51C159.47 212.50 159.74 212.50 160.01 212.49C160.28 212.49 160.54 212.48 160.81 212.48C161.08 212.47 161.35 212.47 161.62 212.47C161.88 212.46 162.15 212.46 162.42 212.46C162.69 212.45 162.96 212.45 163.22 212.45C163.49 212.44 163.76 212.44 164.03 212.44C164.30 212.44 164.56 212.44 164.83 212.43C165.10 212.43 165.37 212.43 165.63 212.43C165.90 212.43 166.17 212.43 166.44 212.43C166.71 212.43 166.97 212.43 167.24 212.43C167.51 212.43 167.78 212.43 168.05 212.43C168.31 212.43 168.58 212.44 168.85 212.44C169.12 212.44 169.39 212.44 169.65 212.44C169.92 212.45 170.19 212.45 170.46 212.45C170.73 212.45 170.99 212.46 171.26 212.46C171.53 212.47 171.80 212.47 172.06 212.47C172.33 212.48 172.60 212.48 172.87 212.49C173.14 212.49 173.40 212.50 173.67 212.50C173.94 212.51 174.21 212.51 174.48 212.52C174.74 212.53 175.01 212.53 175.28 212.54C175.55 212.55 175.82 212.55 176.08 212.56C176.35 212.57 176.62 212.58 176.89 212.58C177.16 212.59 177.42 212.60 177.69 212.61C177.96 212.62 178.23 212.62 178.49 212.63C178.76 212.64 179.03 212.65 179.30 212.66C179.57 212.67 179.83 212.68 180.10 212.70C180.37 212.71 180.64 212.74 180.91 212.77C181.17 212.79 181.44 212.82 181.71 212.84C181.98 212.87 182.25 212.89 182.51 212.92C182.78 212.94 183.05 212.97 183.32 212.99C183.59 213.02 183.85 213.05 184.12 213.07C184.39 213.10 184.66 213.13 184.93 213.15C185.19 213.18 185.46 213.21 185.73 213.23C186.00 213.26 186.26 213.29 186.53 213.32C186.80 213.34 187.07 213.37 187.34 213.40C187.60 213.43 187.87 213.46 188.14 213.49C188.41 213.51 188.68 213.54 188.94 213.57C189.21 213.60 189.48 213.63 189.75 213.66C190.02 213.69 190.28 213.72 190.55 213.75C190.82 213.78 191.09 213.81 191.36 213.84C191.62 213.87 191.89 213.90 192.16 213.93C192.43 213.96 192.69 213.99 192.96 214.03C193.23 214.06 193.50 214.09 193.77 214.12C194.03 214.15 194.30 214.18 194.57 214.21C194.84 214.25 195.11 214.28 195.37 214.31C195.64 214.34 195.91 214.37 196.18 214.41C196.45 214.44 196.71 214.47 196.98 214.50C197.25 214.54 197.52 214.57 197.79 214.60C198.05 214.64 198.32 214.67 198.59 214.70C198.86 214.74 199.12 214.77 199.39 214.80C199.66 214.84 199.93 214.87 200.20 214.92C200.46 214.96 200.73 215.02 201.00 215.08C201.27 215.13 201.54 215.19 201.80 215.24C202.07 215.29 202.34 215.35 202.61 215.40C202.88 215.46 203.14 215.51 203.41 215.56C203.68 215.62 203.95 215.67 204.22 215.73C204.48 215.78 204.75 215.83 205.02 215.89C205.29 215.94 205.56 216.00 205.82 216.05C206.09 216.11 206.36 216.16 206.63 216.22C206.89 216.27 207.16 216.33 207.43 216.38C207.70 216.44 207.97 216.49 208.23 216.55C208.50 216.60 208.77 216.66 209.04 216.71C209.31 216.77 209.57 216.82 209.84 216.88C210.11 216.93 210.38 216.99 210.65 217.04C210.91 217.10 211.18 217.15 211.45 217.21C211.72 217.26 211.99 217.32 212.25 217.37C212.52 217.43 212.79 217.49 213.06 217.54C213.32 217.59 213.59 217.63 213.86 217.68C214.13 217.73 214.40 217.77 214.66 217.82C214.93 217.87 215.20 217.91 215.47 217.96C215.74 218.01 216.00 218.06 216.27 218.10C216.54 218.15 216.81 218.20 217.08 218.24C217.34 218.29 217.61 218.34 217.88 218.39C218.15 218.43 218.42 218.48 218.68 218.53C218.95 218.57 219.22 218.62 219.49 218.67C219.75 218.71 220.02 218.76 220.29 218.81C220.56 218.85 220.83 218.90 221.09 218.95C221.36 218.99 221.63 219.04 221.90 219.09C222.17 219.13 222.43 219.18 222.70 219.23C222.97 219.27 223.24 219.32 223.51 219.37C223.77 219.41 224.04 219.46 224.31 219.50C224.58 219.55 224.85 219.60 225.11 219.64C225.38 219.69 225.65 219.73 225.92 219.78C226.19 219.82 226.45 219.87 226.72 219.91C226.99 219.96 227.26 220.01 227.52 220.05C227.79 220.09 228.06 220.14 228.33 220.18C228.60 220.22 228.86 220.26 229.13 220.30C229.40 220.34 229.67 220.38 229.94 220.42C230.20 220.46 230.47 220.50 230.74 220.54C231.01 220.58 231.28 220.62 231.54 220.66C231.81 220.70 232.08 220.74 232.35 220.78C232.62 220.81 232.88 220.85 233.15 220.89C233.42 220.93 233.69 220.97 233.95 221.01C234.22 221.05 234.49 221.08 234.76 221.12C235.03 221.16 235.29 221.20 235.56 221.23C235.83 221.27 236.10 221.31 236.37 221.35C236.63 221.38 236.90 221.42 237.17 221.46C237.44 221.49 237.71 221.53 237.97 221.57C238.24 221.60 238.51 221.64 238.78 221.67C239.05 221.71 239.31 221.75 239.58 221.78C239.85 221.82 240.12 221.85 240.38 221.89C240.65 221.92 240.92 221.96 241.19 221.99C241.46 222.03 241.72 222.06 241.99 222.09C242.26 222.13 242.53 222.16 242.80 222.20C243.06 222.23 243.47 222.28 243.60 222.29" fill="none" stroke="#5a5a5a" stroke-width="1.05" stroke-dasharray="2.5 2.1"/><path d="M80.15 191.80V311.35" stroke="#222" stroke-width="1.5" stroke-dasharray="2.8 2.16" stroke-dashoffset="0.92"/><path d="M308.80 219.07C308.93 219.67 309.34 221.46 309.60 222.65C309.87 223.83 310.14 225.02 310.41 226.19C310.68 227.37 310.94 228.54 311.21 229.70C311.48 230.86 311.75 232.01 312.02 233.16C312.28 234.31 312.55 235.44 312.82 236.57C313.09 237.70 313.35 238.82 313.62 239.93C313.89 241.04 314.16 242.14 314.43 243.23C314.69 244.32 314.96 245.40 315.23 246.46C315.50 247.53 315.77 248.58 316.03 249.62C316.30 250.67 316.57 251.69 316.84 252.71C317.11 253.72 317.37 254.73 317.64 255.71C317.91 256.70 318.18 257.67 318.45 258.63C318.71 259.58 318.98 260.52 319.25 261.45C319.52 262.37 319.78 263.28 320.05 264.17C320.32 265.06 320.59 265.93 320.86 266.78C321.12 267.64 321.39 268.47 321.66 269.29C321.93 270.10 322.20 270.90 322.46 271.68C322.73 272.46 323.00 273.21 323.27 273.95C323.54 274.68 323.80 275.39 324.07 276.09C324.34 276.78 324.61 277.46 324.88 278.11C325.14 278.77 325.41 279.40 325.68 280.00C325.95 280.61 326.21 281.19 326.48 281.75C326.75 282.31 327.02 282.84 327.29 283.35C327.55 283.85 327.82 284.33 328.09 284.79C328.36 285.24 328.63 285.67 328.89 286.07C329.16 286.47 329.43 286.84 329.70 287.18C329.97 287.52 330.23 287.84 330.50 288.12C330.77 288.41 331.04 288.66 331.31 288.89C331.57 289.11 331.84 289.30 332.11 289.47C332.38 289.63 332.65 289.76 332.91 289.87C333.18 289.97 333.45 290.05 333.72 290.10C333.98 290.15 334.25 290.18 334.52 290.19C334.79 290.19 335.06 290.18 335.32 290.14C335.59 290.11 335.86 290.06 336.13 289.99C336.40 289.92 336.66 289.83 336.93 289.74C337.20 289.64 337.47 289.53 337.74 289.41C338.00 289.29 338.27 289.16 338.54 289.03C338.81 288.89 339.08 288.75 339.34 288.60C339.61 288.45 339.88 288.30 340.15 288.15C340.41 288.00 340.68 287.84 340.95 287.69C341.22 287.53 341.49 287.37 341.75 287.22C342.02 287.06 342.29 286.90 342.56 286.74C342.83 286.58 343.09 286.42 343.36 286.26C343.63 286.10 343.90 285.94 344.17 285.78C344.43 285.62 344.70 285.47 344.97 285.31C345.24 285.15 345.51 285.00 345.77 284.84C346.04 284.69 346.31 284.54 346.58 284.39C346.84 284.24 347.11 284.09 347.38 283.95C347.65 283.80 347.92 283.66 348.18 283.52C348.45 283.39 348.72 283.25 348.99 283.12C349.26 282.99 349.52 282.86 349.79 282.74C350.06 282.62 350.33 282.50 350.60 282.39C350.86 282.28 351.13 282.17 351.40 282.07C351.67 281.97 351.94 281.87 352.20 281.78C352.47 281.69 352.74 281.61 353.01 281.53C353.28 281.45 353.54 281.38 353.81 281.32C354.08 281.26 354.35 281.20 354.61 281.15C354.88 281.10 355.15 281.06 355.42 281.03C355.69 280.99 355.95 280.97 356.22 280.95C356.49 280.93 356.76 280.91 357.03 280.90C357.29 280.90 357.56 280.89 357.83 280.90C358.10 280.90 358.37 280.91 358.63 280.93C358.90 280.94 359.17 280.96 359.44 280.99C359.71 281.01 359.97 281.04 360.24 281.08C360.51 281.11 360.78 281.15 361.04 281.20C361.31 281.24 361.58 281.29 361.85 281.34C362.12 281.39 362.38 281.45 362.65 281.51C362.92 281.57 363.19 281.63 363.46 281.70C363.72 281.76 363.99 281.83 364.26 281.90C364.53 281.97 364.80 282.05 365.06 282.12C365.33 282.20 365.60 282.28 365.87 282.36C366.14 282.44 366.40 282.52 366.67 282.61C366.94 282.69 367.21 282.77 367.47 282.86C367.74 282.95 368.01 283.03 368.28 283.12C368.55 283.21 368.81 283.30 369.08 283.39C369.35 283.48 369.62 283.57 369.89 283.66C370.15 283.74 370.42 283.83 370.69 283.92C370.96 284.01 371.23 284.10 371.49 284.19C371.76 284.27 372.03 284.36 372.30 284.45C372.57 284.53 372.83 284.62 373.10 284.70C373.37 284.78 373.64 284.86 373.91 284.94C374.17 285.02 374.44 285.10 374.71 285.17C374.98 285.25 375.24 285.32 375.51 285.39C375.78 285.46 376.05 285.53 376.32 285.60C376.58 285.67 376.85 285.74 377.12 285.80C377.39 285.87 377.66 285.93 377.92 285.99C378.19 286.06 378.46 286.12 378.73 286.18C379.00 286.23 379.26 286.29 379.53 286.35C379.80 286.40 380.07 286.46 380.34 286.51C380.60 286.56 380.87 286.61 381.14 286.66C381.41 286.71 381.67 286.76 381.94 286.81C382.21 286.86 382.48 286.90 382.75 286.95C383.01 286.99 383.28 287.03 383.55 287.07C383.82 287.11 384.09 287.15 384.35 287.18C384.62 287.22 384.89 287.26 385.16 287.29C385.43 287.32 385.69 287.36 385.96 287.39C386.23 287.42 386.50 287.45 386.77 287.48C387.03 287.51 387.30 287.54 387.57 287.57C387.84 287.60 388.10 287.62 388.37 287.65C388.64 287.67 388.91 287.70 389.18 287.72C389.44 287.74 389.71 287.77 389.98 287.79C390.25 287.81 390.52 287.83 390.78 287.85C391.05 287.87 391.32 287.89 391.59 287.90C391.86 287.92 392.12 287.94 392.39 287.95C392.66 287.97 392.93 287.99 393.20 288.00C393.46 288.01 393.73 288.03 394.00 288.04C394.27 288.05 394.54 288.06 394.80 288.08C395.07 288.09 395.34 288.10 395.61 288.11C395.87 288.12 396.14 288.14 396.41 288.15C396.68 288.16 396.95 288.17 397.21 288.18C397.48 288.19 397.75 288.20 398.02 288.21C398.29 288.21 398.55 288.22 398.82 288.23C399.09 288.24 399.36 288.24 399.63 288.25C399.89 288.26 400.16 288.26 400.43 288.27C400.70 288.28 400.97 288.28 401.23 288.29C401.50 288.29 401.77 288.29 402.04 288.30C402.30 288.30 402.57 288.31 402.84 288.31C403.11 288.31 403.38 288.32 403.64 288.32C403.91 288.32 404.18 288.33 404.45 288.33C404.72 288.33 404.98 288.34 405.25 288.34C405.52 288.34 405.79 288.34 406.06 288.34C406.32 288.34 406.59 288.34 406.86 288.34C407.13 288.34 407.40 288.34 407.66 288.33C407.93 288.33 408.20 288.33 408.47 288.33C408.73 288.33 409.00 288.32 409.27 288.32C409.54 288.32 409.81 288.32 410.07 288.31C410.34 288.31 410.61 288.31 410.88 288.31C411.15 288.30 411.41 288.30 411.68 288.30C411.95 288.30 412.22 288.29 412.49 288.29C412.75 288.29 413.02 288.28 413.29 288.28C413.56 288.28 413.83 288.27 414.09 288.27C414.36 288.27 414.63 288.26 414.90 288.26C415.16 288.26 415.43 288.25 415.70 288.25C415.97 288.24 416.24 288.24 416.50 288.24C416.77 288.23 417.04 288.23 417.31 288.22C417.58 288.22 417.84 288.21 418.11 288.21C418.38 288.20 418.65 288.20 418.92 288.20C419.18 288.19 419.45 288.19 419.72 288.18C419.99 288.18 420.26 288.17 420.52 288.17C420.79 288.16 421.06 288.16 421.33 288.15C421.60 288.14 421.86 288.14 422.13 288.13C422.40 288.13 422.67 288.12 422.93 288.12C423.20 288.11 423.47 288.11 423.74 288.10C424.01 288.09 424.27 288.09 424.54 288.08C424.81 288.08 425.08 288.07 425.35 288.06C425.61 288.06 425.88 288.05 426.15 288.04C426.42 288.04 426.69 288.03 426.95 288.02C427.22 288.02 427.49 288.01 427.76 288.00C428.03 288.00 428.29 287.99 428.56 287.98C428.83 287.98 429.10 287.97 429.36 287.96C429.63 287.96 429.90 287.95 430.17 287.94C430.44 287.93 430.70 287.91 430.97 287.90C431.24 287.89 431.51 287.88 431.78 287.87C432.04 287.85 432.31 287.84 432.58 287.83C432.85 287.82 433.12 287.80 433.38 287.79C433.65 287.78 433.92 287.77 434.19 287.75C434.46 287.74 434.72 287.73 434.99 287.71C435.26 287.70 435.53 287.69 435.79 287.68C436.06 287.66 436.33 287.65 436.60 287.64C436.87 287.62 437.13 287.61 437.40 287.60C437.67 287.58 437.94 287.57 438.21 287.56C438.47 287.54 438.74 287.53 439.01 287.52C439.28 287.50 439.55 287.49 439.81 287.48C440.08 287.46 440.35 287.45 440.62 287.43C440.89 287.42 441.15 287.41 441.42 287.39C441.69 287.38 441.96 287.36 442.23 287.35C442.49 287.34 442.76 287.32 443.03 287.31C443.30 287.29 443.56 287.28 443.83 287.27C444.10 287.25 444.37 287.24 444.64 287.22C444.90 287.21 445.17 287.19 445.44 287.18C445.71 287.16 445.98 287.15 446.24 287.13C446.51 287.12 446.78 287.11 447.05 287.09C447.32 287.08 447.58 287.06 447.85 287.05C448.12 287.03 448.39 287.02 448.66 287.00C448.92 286.99 449.19 286.97 449.46 286.96C449.73 286.94 449.99 286.92 450.26 286.91C450.53 286.89 450.80 286.87 451.07 286.85C451.33 286.83 451.60 286.81 451.87 286.79C452.14 286.77 452.41 286.75 452.67 286.73C452.94 286.71 453.21 286.69 453.48 286.67C453.75 286.65 454.01 286.63 454.28 286.61C454.55 286.59 454.82 286.57 455.09 286.55C455.35 286.53 455.62 286.51 455.89 286.49C456.16 286.47 456.42 286.45 456.69 286.43C456.96 286.41 457.23 286.39 457.50 286.37C457.76 286.35 458.03 286.33 458.30 286.31C458.57 286.29 458.84 286.27 459.10 286.25C459.37 286.23 459.64 286.21 459.91 286.19C460.18 286.17 460.44 286.15 460.71 286.13C460.98 286.11 461.25 286.08 461.52 286.06C461.78 286.04 462.05 286.02 462.32 286.00C462.59 285.98 462.86 285.96 463.12 285.94C463.39 285.92 463.66 285.90 463.93 285.88C464.19 285.86 464.46 285.84 464.73 285.82C465.00 285.79 465.27 285.77 465.53 285.75C465.80 285.73 466.07 285.71 466.34 285.69C466.61 285.67 466.87 285.65 467.14 285.63C467.41 285.61 467.68 285.58 467.95 285.56C468.21 285.54 468.48 285.51 468.75 285.49C469.02 285.46 469.29 285.44 469.55 285.41C469.82 285.39 470.09 285.37 470.36 285.34C470.62 285.32 470.89 285.29 471.16 285.27C471.43 285.24 471.70 285.22 471.96 285.20C472.23 285.17 472.50 285.15 472.77 285.12C473.04 285.10 473.30 285.07 473.57 285.05C473.84 285.03 474.11 285.00 474.38 284.98C474.64 284.95 474.91 284.93 475.18 284.90C475.45 284.88 475.72 284.86 475.98 284.83C476.25 284.81 476.52 284.78 476.79 284.76C477.05 284.73 477.32 284.71 477.59 284.68C477.86 284.66 478.13 284.63 478.39 284.61C478.66 284.59 478.93 284.56 479.20 284.54C479.47 284.51 479.73 284.49 480.00 284.46C480.27 284.44 480.54 284.41 480.81 284.39C481.07 284.37 481.34 284.34 481.61 284.32C481.88 284.29 482.15 284.27 482.41 284.24C482.68 284.22 482.95 284.19 483.22 284.17C483.49 284.14 483.75 284.12 484.02 284.10C484.29 284.07 484.56 284.05 484.82 284.02C485.09 284.00 485.36 283.97 485.63 283.94C485.90 283.92 486.16 283.89 486.43 283.87C486.70 283.84 486.97 283.81 487.24 283.79C487.50 283.76 487.77 283.74 488.04 283.71C488.31 283.68 488.58 283.66 488.84 283.63C489.11 283.61 489.38 283.58 489.65 283.55C489.92 283.53 490.18 283.50 490.45 283.48C490.72 283.45 490.99 283.42 491.25 283.40C491.52 283.37 491.79 283.35 492.06 283.32C492.33 283.29 492.59 283.27 492.86 283.24C493.13 283.22 493.40 283.19 493.67 283.16C493.93 283.14 494.20 283.11 494.47 283.09C494.74 283.06 495.01 283.04 495.27 283.01C495.54 282.98 495.81 282.96 496.08 282.93C496.35 282.91 496.61 282.88 496.88 282.86C497.15 282.83 497.42 282.80 497.68 282.78C497.95 282.75 498.22 282.73 498.49 282.70C498.76 282.68 499.02 282.65 499.29 282.62C499.56 282.60 499.83 282.57 500.10 282.55C500.36 282.52 500.77 282.48 500.90 282.47L500.90 294.07C500.77 294.07 500.36 294.05 500.10 294.05C499.83 294.04 499.56 294.03 499.29 294.02C499.02 294.01 498.76 294.01 498.49 294.00C498.22 293.99 497.95 293.98 497.68 293.97C497.42 293.97 497.15 293.96 496.88 293.95C496.61 293.94 496.35 293.93 496.08 293.93C495.81 293.92 495.54 293.91 495.27 293.90C495.01 293.89 494.74 293.89 494.47 293.88C494.20 293.87 493.93 293.86 493.67 293.85C493.40 293.85 493.13 293.84 492.86 293.83C492.59 293.82 492.33 293.82 492.06 293.81C491.79 293.80 491.52 293.79 491.25 293.78C490.99 293.78 490.72 293.77 490.45 293.76C490.18 293.75 489.92 293.75 489.65 293.74C489.38 293.73 489.11 293.72 488.84 293.72C488.58 293.71 488.31 293.70 488.04 293.69C487.77 293.68 487.50 293.68 487.24 293.67C486.97 293.66 486.70 293.65 486.43 293.65C486.16 293.64 485.90 293.63 485.63 293.62C485.36 293.62 485.09 293.61 484.82 293.60C484.56 293.60 484.29 293.59 484.02 293.58C483.75 293.58 483.49 293.57 483.22 293.57C482.95 293.56 482.68 293.55 482.41 293.55C482.15 293.54 481.88 293.53 481.61 293.53C481.34 293.52 481.07 293.52 480.81 293.51C480.54 293.50 480.27 293.50 480.00 293.49C479.73 293.49 479.47 293.48 479.20 293.47C478.93 293.47 478.66 293.46 478.39 293.46C478.13 293.45 477.86 293.44 477.59 293.44C477.32 293.43 477.05 293.42 476.79 293.42C476.52 293.41 476.25 293.41 475.98 293.40C475.72 293.39 475.45 293.39 475.18 293.38C474.91 293.38 474.64 293.37 474.38 293.36C474.11 293.36 473.84 293.35 473.57 293.34C473.30 293.34 473.04 293.33 472.77 293.33C472.50 293.32 472.23 293.31 471.96 293.31C471.70 293.30 471.43 293.29 471.16 293.29C470.89 293.28 470.62 293.27 470.36 293.27C470.09 293.26 469.82 293.26 469.55 293.25C469.29 293.24 469.02 293.24 468.75 293.23C468.48 293.22 468.21 293.22 467.95 293.21C467.68 293.20 467.41 293.20 467.14 293.19C466.87 293.19 466.61 293.19 466.34 293.18C466.07 293.18 465.80 293.18 465.53 293.17C465.27 293.17 465.00 293.17 464.73 293.16C464.46 293.16 464.19 293.16 463.93 293.15C463.66 293.15 463.39 293.14 463.12 293.14C462.86 293.14 462.59 293.13 462.32 293.13C462.05 293.12 461.78 293.12 461.52 293.12C461.25 293.11 460.98 293.11 460.71 293.11C460.44 293.10 460.18 293.10 459.91 293.09C459.64 293.09 459.37 293.09 459.10 293.08C458.84 293.08 458.57 293.07 458.30 293.07C458.03 293.06 457.76 293.06 457.50 293.06C457.23 293.05 456.96 293.05 456.69 293.04C456.42 293.04 456.16 293.03 455.89 293.03C455.62 293.03 455.35 293.02 455.09 293.02C454.82 293.01 454.55 293.01 454.28 293.00C454.01 293.00 453.75 292.99 453.48 292.99C453.21 292.98 452.94 292.98 452.67 292.97C452.41 292.97 452.14 292.96 451.87 292.96C451.60 292.96 451.33 292.95 451.07 292.95C450.80 292.94 450.53 292.93 450.26 292.93C449.99 292.93 449.73 292.93 449.46 292.92C449.19 292.92 448.92 292.92 448.66 292.92C448.39 292.92 448.12 292.92 447.85 292.92C447.58 292.92 447.32 292.91 447.05 292.91C446.78 292.91 446.51 292.91 446.24 292.91C445.98 292.91 445.71 292.91 445.44 292.90C445.17 292.90 444.90 292.90 444.64 292.90C444.37 292.90 444.10 292.90 443.83 292.90C443.56 292.89 443.30 292.89 443.03 292.89C442.76 292.89 442.49 292.89 442.23 292.88C441.96 292.88 441.69 292.88 441.42 292.88C441.15 292.88 440.89 292.87 440.62 292.87C440.35 292.87 440.08 292.87 439.81 292.86C439.55 292.86 439.28 292.86 439.01 292.86C438.74 292.85 438.47 292.85 438.21 292.85C437.94 292.85 437.67 292.84 437.40 292.84C437.13 292.84 436.87 292.84 436.60 292.83C436.33 292.83 436.06 292.83 435.79 292.82C435.53 292.82 435.26 292.82 434.99 292.81C434.72 292.81 434.46 292.81 434.19 292.80C433.92 292.80 433.65 292.80 433.38 292.79C433.12 292.79 432.85 292.79 432.58 292.78C432.31 292.78 432.04 292.78 431.78 292.77C431.51 292.77 431.24 292.76 430.97 292.76C430.70 292.76 430.44 292.75 430.17 292.75C429.90 292.75 429.63 292.75 429.36 292.75C429.10 292.75 428.83 292.75 428.56 292.75C428.29 292.75 428.03 292.75 427.76 292.75C427.49 292.75 427.22 292.75 426.95 292.75C426.69 292.75 426.42 292.75 426.15 292.75C425.88 292.75 425.61 292.75 425.35 292.75C425.08 292.75 424.81 292.75 424.54 292.74C424.27 292.74 424.01 292.74 423.74 292.74C423.47 292.74 423.20 292.74 422.93 292.74C422.67 292.74 422.40 292.74 422.13 292.74C421.86 292.74 421.60 292.73 421.33 292.73C421.06 292.73 420.79 292.73 420.52 292.73C420.26 292.73 419.99 292.73 419.72 292.72C419.45 292.72 419.18 292.72 418.92 292.72C418.65 292.72 418.38 292.71 418.11 292.71C417.84 292.71 417.58 292.71 417.31 292.71C417.04 292.70 416.77 292.70 416.50 292.70C416.24 292.70 415.97 292.69 415.70 292.69C415.43 292.69 415.16 292.68 414.90 292.68C414.63 292.68 414.36 292.68 414.09 292.67C413.83 292.67 413.56 292.67 413.29 292.66C413.02 292.66 412.75 292.66 412.49 292.65C412.22 292.65 411.95 292.64 411.68 292.64C411.41 292.64 411.15 292.63 410.88 292.63C410.61 292.63 410.34 292.62 410.07 292.62C409.81 292.61 409.54 292.61 409.27 292.60C409.00 292.60 408.73 292.59 408.47 292.59C408.20 292.59 407.93 292.58 407.66 292.58C407.40 292.57 407.13 292.57 406.86 292.56C406.59 292.56 406.32 292.55 406.06 292.54C405.79 292.54 405.52 292.54 405.25 292.54C404.98 292.53 404.72 292.53 404.45 292.53C404.18 292.53 403.91 292.52 403.64 292.52C403.38 292.52 403.11 292.51 402.84 292.51C402.57 292.51 402.30 292.50 402.04 292.50C401.77 292.49 401.50 292.49 401.23 292.49C400.97 292.48 400.70 292.48 400.43 292.47C400.16 292.46 399.89 292.46 399.63 292.45C399.36 292.44 399.09 292.44 398.82 292.43C398.55 292.42 398.29 292.41 398.02 292.41C397.75 292.40 397.48 292.39 397.21 292.38C396.95 292.37 396.68 292.36 396.41 292.35C396.14 292.34 395.87 292.33 395.61 292.31C395.34 292.30 395.07 292.29 394.80 292.27C394.54 292.26 394.27 292.24 394.00 292.22C393.73 292.21 393.46 292.19 393.20 292.17C392.93 292.15 392.66 292.13 392.39 292.11C392.12 292.09 391.86 292.07 391.59 292.05C391.32 292.02 391.05 292.00 390.78 291.98C390.52 291.95 390.25 291.93 389.98 291.90C389.71 291.88 389.44 291.85 389.18 291.82C388.91 291.80 388.64 291.77 388.37 291.74C388.10 291.71 387.84 291.68 387.57 291.64C387.30 291.61 387.03 291.58 386.77 291.55C386.50 291.51 386.23 291.48 385.96 291.44C385.69 291.40 385.43 291.37 385.16 291.33C384.89 291.29 384.62 291.25 384.35 291.21C384.09 291.16 383.82 291.12 383.55 291.08C383.28 291.03 383.01 290.99 382.75 290.95C382.48 290.90 382.21 290.86 381.94 290.81C381.67 290.76 381.41 290.71 381.14 290.66C380.87 290.61 380.60 290.56 380.34 290.51C380.07 290.46 379.80 290.40 379.53 290.35C379.26 290.29 379.00 290.23 378.73 290.18C378.46 290.12 378.19 290.06 377.92 289.99C377.66 289.93 377.39 289.87 377.12 289.80C376.85 289.74 376.58 289.67 376.32 289.60C376.05 289.53 375.78 289.46 375.51 289.39C375.24 289.32 374.98 289.25 374.71 289.17C374.44 289.10 374.17 289.02 373.91 288.94C373.64 288.86 373.37 288.78 373.10 288.70C372.83 288.62 372.57 288.53 372.30 288.45C372.03 288.36 371.76 288.27 371.49 288.19C371.23 288.10 370.96 288.01 370.69 287.92C370.42 287.83 370.15 287.74 369.89 287.66C369.62 287.57 369.35 287.48 369.08 287.39C368.81 287.30 368.55 287.21 368.28 287.12C368.01 287.03 367.74 286.95 367.47 286.86C367.21 286.77 366.94 286.69 366.67 286.61C366.40 286.52 366.14 286.44 365.87 286.36C365.60 286.28 365.33 286.20 365.06 286.12C364.80 286.05 364.53 285.97 364.26 285.90C363.99 285.83 363.72 285.76 363.46 285.70C363.19 285.63 362.92 285.57 362.65 285.51C362.38 285.45 362.12 285.39 361.85 285.34C361.58 285.29 361.31 285.24 361.04 285.20C360.78 285.15 360.51 285.11 360.24 285.08C359.97 285.04 359.71 285.01 359.44 284.99C359.17 284.96 358.90 284.94 358.63 284.93C358.37 284.91 358.10 284.90 357.83 284.90C357.56 284.89 357.29 284.90 357.03 284.90C356.76 284.91 356.49 284.93 356.22 284.95C355.95 284.97 355.69 284.99 355.42 285.03C355.15 285.06 354.88 285.10 354.61 285.15C354.35 285.20 354.08 285.26 353.81 285.32C353.54 285.38 353.28 285.45 353.01 285.53C352.74 285.61 352.47 285.69 352.20 285.78C351.94 285.87 351.67 285.97 351.40 286.07C351.13 286.17 350.86 286.28 350.60 286.39C350.33 286.50 350.06 286.62 349.79 286.74C349.52 286.86 349.26 286.99 348.99 287.12C348.72 287.25 348.45 287.39 348.18 287.52C347.92 287.66 347.65 287.80 347.38 287.95C347.11 288.09 346.84 288.24 346.58 288.39C346.31 288.54 346.04 288.69 345.77 288.84C345.51 289.00 345.24 289.15 344.97 289.31C344.70 289.47 344.43 289.62 344.17 289.78C343.90 289.94 343.63 290.10 343.36 290.26C343.09 290.42 342.83 290.58 342.56 290.74C342.29 290.90 342.02 291.06 341.75 291.22C341.49 291.37 341.22 291.53 340.95 291.69C340.68 291.84 340.41 292.00 340.15 292.15C339.88 292.30 339.61 292.45 339.34 292.60C339.08 292.75 338.81 292.89 338.54 293.03C338.27 293.16 338.00 293.29 337.74 293.41C337.47 293.53 337.20 293.64 336.93 293.74C336.66 293.83 336.40 293.92 336.13 293.99C335.86 294.06 335.59 294.11 335.32 294.14C335.06 294.18 334.79 294.19 334.52 294.19C334.25 294.18 333.98 294.15 333.72 294.10C333.45 294.05 333.18 293.97 332.91 293.87C332.65 293.76 332.38 293.63 332.11 293.47C331.84 293.30 331.57 293.11 331.31 292.89C331.04 292.66 330.77 292.41 330.50 292.12C330.23 291.84 329.97 291.52 329.70 291.18C329.43 290.84 329.16 290.47 328.89 290.07C328.63 289.67 328.36 289.24 328.09 288.79C327.82 288.33 327.55 287.85 327.29 287.35C327.02 286.84 326.75 286.31 326.48 285.75C326.21 285.19 325.95 284.61 325.68 284.00C325.41 283.40 325.14 282.77 324.88 282.11C324.61 281.46 324.34 280.78 324.07 280.08C323.80 279.38 323.54 278.65 323.27 277.90C323.00 277.15 322.73 276.38 322.46 275.59C322.20 274.80 321.93 273.99 321.66 273.16C321.39 272.33 321.12 271.48 320.86 270.61C320.59 269.74 320.32 268.85 320.05 267.95C319.78 267.05 319.52 266.12 319.25 265.19C318.98 264.25 318.71 263.29 318.45 262.32C318.18 261.35 317.91 260.37 317.64 259.37C317.37 258.37 317.11 257.35 316.84 256.32C316.57 255.29 316.30 254.25 316.03 253.19C315.77 252.14 315.50 251.07 315.23 249.99C314.96 248.91 314.69 247.82 314.43 246.72C314.16 245.61 313.89 244.50 313.62 243.37C313.35 242.25 313.09 241.12 312.82 239.97C312.55 238.83 312.28 237.68 312.02 236.52C311.75 235.36 311.48 234.19 311.21 233.02C310.94 231.84 310.68 230.66 310.41 229.47C310.14 228.28 309.87 227.08 309.60 225.88C309.34 224.68 308.93 222.87 308.80 222.27Z" fill="#f8c6de" stroke="none"/><path d="M308.80 220.67C308.93 221.27 309.34 223.07 309.60 224.27C309.87 225.46 310.14 226.65 310.41 227.83C310.68 229.01 310.94 230.19 311.21 231.36C311.48 232.52 311.75 233.69 312.02 234.84C312.28 235.99 312.55 237.14 312.82 238.27C313.09 239.41 313.35 240.54 313.62 241.65C313.89 242.77 314.16 243.88 314.43 244.97C314.69 246.07 314.96 247.15 315.23 248.23C315.50 249.30 315.77 250.36 316.03 251.41C316.30 252.46 316.57 253.49 316.84 254.52C317.11 255.54 317.37 256.55 317.64 257.54C317.91 258.53 318.18 259.51 318.45 260.47C318.71 261.44 318.98 262.38 319.25 263.32C319.52 264.25 319.78 265.16 320.05 266.06C320.32 266.95 320.59 267.83 320.86 268.70C321.12 269.56 321.39 270.40 321.66 271.22C321.93 272.05 322.20 272.85 322.46 273.63C322.73 274.42 323.00 275.18 323.27 275.92C323.54 276.66 323.80 277.39 324.07 278.08C324.34 278.78 324.61 279.46 324.88 280.11C325.14 280.77 325.41 281.40 325.68 282.00C325.95 282.61 326.21 283.19 326.48 283.75C326.75 284.31 327.02 284.84 327.29 285.35C327.55 285.85 327.82 286.33 328.09 286.79C328.36 287.24 328.63 287.67 328.89 288.07C329.16 288.47 329.43 288.84 329.70 289.18C329.97 289.52 330.23 289.84 330.50 290.12C330.77 290.41 331.04 290.66 331.31 290.89C331.57 291.11 331.84 291.30 332.11 291.47C332.38 291.63 332.65 291.76 332.91 291.87C333.18 291.97 333.45 292.05 333.72 292.10C333.98 292.15 334.25 292.18 334.52 292.19C334.79 292.19 335.06 292.18 335.32 292.14C335.59 292.11 335.86 292.06 336.13 291.99C336.40 291.92 336.66 291.83 336.93 291.74C337.20 291.64 337.47 291.53 337.74 291.41C338.00 291.29 338.27 291.16 338.54 291.03C338.81 290.89 339.08 290.75 339.34 290.60C339.61 290.45 339.88 290.30 340.15 290.15C340.41 290.00 340.68 289.84 340.95 289.69C341.22 289.53 341.49 289.37 341.75 289.22C342.02 289.06 342.29 288.90 342.56 288.74C342.83 288.58 343.09 288.42 343.36 288.26C343.63 288.10 343.90 287.94 344.17 287.78C344.43 287.62 344.70 287.47 344.97 287.31C345.24 287.15 345.51 287.00 345.77 286.84C346.04 286.69 346.31 286.54 346.58 286.39C346.84 286.24 347.11 286.09 347.38 285.95C347.65 285.80 347.92 285.66 348.18 285.52C348.45 285.39 348.72 285.25 348.99 285.12C349.26 284.99 349.52 284.86 349.79 284.74C350.06 284.62 350.33 284.50 350.60 284.39C350.86 284.28 351.13 284.17 351.40 284.07C351.67 283.97 351.94 283.87 352.20 283.78C352.47 283.69 352.74 283.61 353.01 283.53C353.28 283.45 353.54 283.38 353.81 283.32C354.08 283.26 354.35 283.20 354.61 283.15C354.88 283.10 355.15 283.06 355.42 283.03C355.69 282.99 355.95 282.97 356.22 282.95C356.49 282.93 356.76 282.91 357.03 282.90C357.29 282.90 357.56 282.89 357.83 282.90C358.10 282.90 358.37 282.91 358.63 282.93C358.90 282.94 359.17 282.96 359.44 282.99C359.71 283.01 359.97 283.04 360.24 283.08C360.51 283.11 360.78 283.15 361.04 283.20C361.31 283.24 361.58 283.29 361.85 283.34C362.12 283.39 362.38 283.45 362.65 283.51C362.92 283.57 363.19 283.63 363.46 283.70C363.72 283.76 363.99 283.83 364.26 283.90C364.53 283.97 364.80 284.05 365.06 284.12C365.33 284.20 365.60 284.28 365.87 284.36C366.14 284.44 366.40 284.52 366.67 284.61C366.94 284.69 367.21 284.77 367.47 284.86C367.74 284.95 368.01 285.03 368.28 285.12C368.55 285.21 368.81 285.30 369.08 285.39C369.35 285.48 369.62 285.57 369.89 285.66C370.15 285.74 370.42 285.83 370.69 285.92C370.96 286.01 371.23 286.10 371.49 286.19C371.76 286.27 372.03 286.36 372.30 286.45C372.57 286.53 372.83 286.62 373.10 286.70C373.37 286.78 373.64 286.86 373.91 286.94C374.17 287.02 374.44 287.10 374.71 287.17C374.98 287.25 375.24 287.32 375.51 287.39C375.78 287.46 376.05 287.53 376.32 287.60C376.58 287.67 376.85 287.74 377.12 287.80C377.39 287.87 377.66 287.93 377.92 287.99C378.19 288.06 378.46 288.12 378.73 288.18C379.00 288.23 379.26 288.29 379.53 288.35C379.80 288.40 380.07 288.46 380.34 288.51C380.60 288.56 380.87 288.61 381.14 288.66C381.41 288.71 381.67 288.76 381.94 288.81C382.21 288.86 382.48 288.90 382.75 288.95C383.01 288.99 383.28 289.03 383.55 289.07C383.82 289.12 384.09 289.16 384.35 289.19C384.62 289.23 384.89 289.27 385.16 289.31C385.43 289.35 385.69 289.38 385.96 289.41C386.23 289.45 386.50 289.48 386.77 289.51C387.03 289.55 387.30 289.58 387.57 289.61C387.84 289.64 388.10 289.66 388.37 289.69C388.64 289.72 388.91 289.75 389.18 289.77C389.44 289.80 389.71 289.82 389.98 289.85C390.25 289.87 390.52 289.89 390.78 289.91C391.05 289.93 391.32 289.96 391.59 289.98C391.86 290.00 392.12 290.01 392.39 290.03C392.66 290.05 392.93 290.07 393.20 290.08C393.46 290.10 393.73 290.12 394.00 290.13C394.27 290.15 394.54 290.16 394.80 290.17C395.07 290.19 395.34 290.20 395.61 290.21C395.87 290.23 396.14 290.24 396.41 290.25C396.68 290.26 396.95 290.27 397.21 290.28C397.48 290.29 397.75 290.30 398.02 290.31C398.29 290.31 398.55 290.32 398.82 290.33C399.09 290.34 399.36 290.34 399.63 290.35C399.89 290.36 400.16 290.36 400.43 290.37C400.70 290.38 400.97 290.38 401.23 290.39C401.50 290.39 401.77 290.39 402.04 290.40C402.30 290.40 402.57 290.41 402.84 290.41C403.11 290.41 403.38 290.42 403.64 290.42C403.91 290.42 404.18 290.43 404.45 290.43C404.72 290.43 404.98 290.43 405.25 290.44C405.52 290.44 405.79 290.44 406.06 290.44C406.32 290.45 406.59 290.45 406.86 290.45C407.13 290.45 407.40 290.45 407.66 290.45C407.93 290.46 408.20 290.46 408.47 290.46C408.73 290.46 409.00 290.46 409.27 290.46C409.54 290.46 409.81 290.46 410.07 290.47C410.34 290.47 410.61 290.47 410.88 290.47C411.15 290.47 411.41 290.47 411.68 290.47C411.95 290.47 412.22 290.47 412.49 290.47C412.75 290.47 413.02 290.47 413.29 290.47C413.56 290.47 413.83 290.47 414.09 290.47C414.36 290.47 414.63 290.47 414.90 290.47C415.16 290.47 415.43 290.47 415.70 290.47C415.97 290.47 416.24 290.47 416.50 290.47C416.77 290.47 417.04 290.46 417.31 290.46C417.58 290.46 417.84 290.46 418.11 290.46C418.38 290.46 418.65 290.46 418.92 290.46C419.18 290.46 419.45 290.45 419.72 290.45C419.99 290.45 420.26 290.45 420.52 290.45C420.79 290.45 421.06 290.44 421.33 290.44C421.60 290.44 421.86 290.44 422.13 290.44C422.40 290.43 422.67 290.43 422.93 290.43C423.20 290.43 423.47 290.42 423.74 290.42C424.01 290.42 424.27 290.42 424.54 290.41C424.81 290.41 425.08 290.41 425.35 290.40C425.61 290.40 425.88 290.40 426.15 290.40C426.42 290.39 426.69 290.39 426.95 290.39C427.22 290.38 427.49 290.38 427.76 290.38C428.03 290.37 428.29 290.37 428.56 290.37C428.83 290.36 429.10 290.36 429.36 290.35C429.63 290.35 429.90 290.35 430.17 290.34C430.44 290.34 430.70 290.34 430.97 290.33C431.24 290.33 431.51 290.32 431.78 290.32C432.04 290.31 432.31 290.31 432.58 290.31C432.85 290.30 433.12 290.30 433.38 290.29C433.65 290.29 433.92 290.28 434.19 290.28C434.46 290.27 434.72 290.27 434.99 290.26C435.26 290.26 435.53 290.25 435.79 290.25C436.06 290.24 436.33 290.24 436.60 290.23C436.87 290.23 437.13 290.22 437.40 290.22C437.67 290.21 437.94 290.21 438.21 290.20C438.47 290.20 438.74 290.19 439.01 290.19C439.28 290.18 439.55 290.18 439.81 290.17C440.08 290.16 440.35 290.16 440.62 290.15C440.89 290.15 441.15 290.14 441.42 290.14C441.69 290.13 441.96 290.12 442.23 290.12C442.49 290.11 442.76 290.11 443.03 290.10C443.30 290.09 443.56 290.09 443.83 290.08C444.10 290.07 444.37 290.07 444.64 290.06C444.90 290.05 445.17 290.05 445.44 290.04C445.71 290.04 445.98 290.03 446.24 290.02C446.51 290.02 446.78 290.01 447.05 290.00C447.32 290.00 447.58 289.99 447.85 289.98C448.12 289.97 448.39 289.97 448.66 289.96C448.92 289.95 449.19 289.95 449.46 289.94C449.73 289.93 449.99 289.93 450.26 289.92C450.53 289.91 450.80 289.90 451.07 289.90C451.33 289.89 451.60 289.88 451.87 289.87C452.14 289.87 452.41 289.86 452.67 289.85C452.94 289.84 453.21 289.84 453.48 289.83C453.75 289.82 454.01 289.81 454.28 289.81C454.55 289.80 454.82 289.79 455.09 289.78C455.35 289.78 455.62 289.77 455.89 289.76C456.16 289.75 456.42 289.74 456.69 289.74C456.96 289.73 457.23 289.72 457.50 289.71C457.76 289.71 458.03 289.70 458.30 289.69C458.57 289.68 458.84 289.67 459.10 289.66C459.37 289.66 459.64 289.65 459.91 289.64C460.18 289.63 460.44 289.62 460.71 289.62C460.98 289.61 461.25 289.60 461.52 289.59C461.78 289.58 462.05 289.57 462.32 289.57C462.59 289.56 462.86 289.55 463.12 289.54C463.39 289.53 463.66 289.52 463.93 289.51C464.19 289.51 464.46 289.50 464.73 289.49C465.00 289.48 465.27 289.47 465.53 289.46C465.80 289.45 466.07 289.45 466.34 289.44C466.61 289.43 466.87 289.42 467.14 289.41C467.41 289.40 467.68 289.39 467.95 289.38C468.21 289.38 468.48 289.37 468.75 289.36C469.02 289.35 469.29 289.34 469.55 289.33C469.82 289.32 470.09 289.31 470.36 289.31C470.62 289.30 470.89 289.29 471.16 289.28C471.43 289.27 471.70 289.26 471.96 289.25C472.23 289.24 472.50 289.23 472.77 289.22C473.04 289.22 473.30 289.21 473.57 289.20C473.84 289.19 474.11 289.18 474.38 289.17C474.64 289.16 474.91 289.15 475.18 289.14C475.45 289.13 475.72 289.12 475.98 289.12C476.25 289.11 476.52 289.10 476.79 289.09C477.05 289.08 477.32 289.07 477.59 289.06C477.86 289.05 478.13 289.04 478.39 289.03C478.66 289.02 478.93 289.01 479.20 289.01C479.47 289.00 479.73 288.99 480.00 288.98C480.27 288.97 480.54 288.96 480.81 288.95C481.07 288.94 481.34 288.93 481.61 288.92C481.88 288.91 482.15 288.90 482.41 288.89C482.68 288.89 482.95 288.88 483.22 288.87C483.49 288.86 483.75 288.85 484.02 288.84C484.29 288.83 484.56 288.82 484.82 288.81C485.09 288.80 485.36 288.79 485.63 288.78C485.90 288.77 486.16 288.77 486.43 288.76C486.70 288.75 486.97 288.74 487.24 288.73C487.50 288.72 487.77 288.71 488.04 288.70C488.31 288.69 488.58 288.68 488.84 288.67C489.11 288.66 489.38 288.66 489.65 288.65C489.92 288.64 490.18 288.63 490.45 288.62C490.72 288.61 490.99 288.60 491.25 288.59C491.52 288.58 491.79 288.57 492.06 288.56C492.33 288.56 492.59 288.55 492.86 288.54C493.13 288.53 493.40 288.52 493.67 288.51C493.93 288.50 494.20 288.49 494.47 288.48C494.74 288.47 495.01 288.46 495.27 288.46C495.54 288.45 495.81 288.44 496.08 288.43C496.35 288.42 496.61 288.41 496.88 288.40C497.15 288.39 497.42 288.38 497.68 288.38C497.95 288.37 498.22 288.36 498.49 288.35C498.76 288.34 499.02 288.33 499.29 288.32C499.56 288.31 499.83 288.31 500.10 288.30C500.36 288.29 500.77 288.28 500.90 288.27" fill="none" stroke="#ec86b6" stroke-width="1.8"/><path d="M308.80 220.67C308.93 221.27 309.34 223.07 309.60 224.27C309.87 225.46 310.14 226.65 310.41 227.83C310.68 229.01 310.94 230.19 311.21 231.36C311.48 232.52 311.75 233.69 312.02 234.84C312.28 235.99 312.55 237.14 312.82 238.27C313.09 239.41 313.35 240.54 313.62 241.65C313.89 242.77 314.16 243.88 314.43 244.97C314.69 246.07 314.96 247.15 315.23 248.23C315.50 249.30 315.77 250.36 316.03 251.41C316.30 252.46 316.57 253.49 316.84 254.52C317.11 255.54 317.37 256.55 317.64 257.54C317.91 258.53 318.18 259.51 318.45 260.47C318.71 261.44 318.98 262.38 319.25 263.32C319.52 264.25 319.78 265.16 320.05 266.06C320.32 266.95 320.59 267.83 320.86 268.70C321.12 269.56 321.39 270.40 321.66 271.22C321.93 272.05 322.20 272.85 322.46 273.63C322.73 274.42 323.00 275.18 323.27 275.92C323.54 276.66 323.80 277.39 324.07 278.08C324.34 278.78 324.61 279.46 324.88 280.11C325.14 280.77 325.41 281.40 325.68 282.00C325.95 282.61 326.21 283.19 326.48 283.75C326.75 284.31 327.02 284.84 327.29 285.35C327.55 285.85 327.82 286.33 328.09 286.79C328.36 287.24 328.63 287.67 328.89 288.07C329.16 288.47 329.43 288.84 329.70 289.18C329.97 289.52 330.23 289.84 330.50 290.12C330.77 290.41 331.04 290.66 331.31 290.89C331.57 291.11 331.84 291.30 332.11 291.47C332.38 291.63 332.65 291.76 332.91 291.87C333.18 291.97 333.45 292.05 333.72 292.10C333.98 292.15 334.25 292.18 334.52 292.19C334.79 292.19 335.06 292.18 335.32 292.14C335.59 292.11 335.86 292.06 336.13 291.99C336.40 291.92 336.66 291.83 336.93 291.74C337.20 291.64 337.47 291.53 337.74 291.41C338.00 291.29 338.27 291.16 338.54 291.03C338.81 290.89 339.08 290.75 339.34 290.60C339.61 290.45 339.88 290.30 340.15 290.15C340.41 290.00 340.68 289.84 340.95 289.69C341.22 289.53 341.49 289.37 341.75 289.22C342.02 289.06 342.29 288.90 342.56 288.74C342.83 288.58 343.09 288.42 343.36 288.26C343.63 288.10 343.90 287.94 344.17 287.78C344.43 287.62 344.70 287.47 344.97 287.31C345.24 287.15 345.51 287.00 345.77 286.84C346.04 286.69 346.31 286.54 346.58 286.39C346.84 286.24 347.11 286.09 347.38 285.95C347.65 285.80 347.92 285.66 348.18 285.52C348.45 285.39 348.72 285.25 348.99 285.12C349.26 284.99 349.52 284.86 349.79 284.74C350.06 284.62 350.33 284.50 350.60 284.39C350.86 284.28 351.13 284.17 351.40 284.07C351.67 283.97 351.94 283.87 352.20 283.78C352.47 283.69 352.74 283.61 353.01 283.53C353.28 283.45 353.54 283.38 353.81 283.32C354.08 283.26 354.35 283.20 354.61 283.15C354.88 283.10 355.15 283.06 355.42 283.03C355.69 282.99 355.95 282.97 356.22 282.95C356.49 282.93 356.76 282.91 357.03 282.90C357.29 282.90 357.56 282.89 357.83 282.90C358.10 282.90 358.37 282.91 358.63 282.93C358.90 282.94 359.17 282.96 359.44 282.99C359.71 283.01 359.97 283.04 360.24 283.08C360.51 283.11 360.78 283.15 361.04 283.20C361.31 283.24 361.58 283.29 361.85 283.34C362.12 283.39 362.38 283.45 362.65 283.51C362.92 283.57 363.19 283.63 363.46 283.70C363.72 283.76 363.99 283.83 364.26 283.90C364.53 283.97 364.80 284.05 365.06 284.12C365.33 284.20 365.60 284.28 365.87 284.36C366.14 284.44 366.40 284.52 366.67 284.61C366.94 284.69 367.21 284.77 367.47 284.86C367.74 284.95 368.01 285.03 368.28 285.12C368.55 285.21 368.81 285.30 369.08 285.39C369.35 285.48 369.62 285.57 369.89 285.66C370.15 285.74 370.42 285.83 370.69 285.92C370.96 286.01 371.23 286.10 371.49 286.19C371.76 286.27 372.03 286.36 372.30 286.45C372.57 286.53 372.83 286.62 373.10 286.70C373.37 286.78 373.64 286.86 373.91 286.94C374.17 287.02 374.44 287.10 374.71 287.17C374.98 287.25 375.24 287.32 375.51 287.39C375.78 287.46 376.05 287.53 376.32 287.60C376.58 287.67 376.85 287.74 377.12 287.80C377.39 287.87 377.66 287.93 377.92 287.99C378.19 288.06 378.46 288.12 378.73 288.18C379.00 288.23 379.26 288.29 379.53 288.35C379.80 288.40 380.07 288.46 380.34 288.51C380.60 288.56 380.87 288.61 381.14 288.66C381.41 288.71 381.67 288.76 381.94 288.81C382.21 288.86 382.48 288.90 382.75 288.95C383.01 288.99 383.28 289.03 383.55 289.07C383.82 289.12 384.09 289.16 384.35 289.19C384.62 289.23 384.89 289.27 385.16 289.31C385.43 289.35 385.69 289.38 385.96 289.41C386.23 289.45 386.50 289.48 386.77 289.51C387.03 289.55 387.30 289.58 387.57 289.61C387.84 289.64 388.10 289.66 388.37 289.69C388.64 289.72 388.91 289.75 389.18 289.77C389.44 289.80 389.71 289.82 389.98 289.85C390.25 289.87 390.52 289.89 390.78 289.91C391.05 289.93 391.32 289.96 391.59 289.98C391.86 290.00 392.12 290.01 392.39 290.03C392.66 290.05 392.93 290.07 393.20 290.08C393.46 290.10 393.73 290.12 394.00 290.13C394.27 290.15 394.54 290.16 394.80 290.17C395.07 290.19 395.34 290.20 395.61 290.21C395.87 290.23 396.14 290.24 396.41 290.25C396.68 290.26 396.95 290.27 397.21 290.28C397.48 290.29 397.75 290.30 398.02 290.31C398.29 290.31 398.55 290.32 398.82 290.33C399.09 290.34 399.36 290.34 399.63 290.35C399.89 290.36 400.16 290.36 400.43 290.37C400.70 290.38 400.97 290.38 401.23 290.39C401.50 290.39 401.77 290.39 402.04 290.40C402.30 290.40 402.57 290.41 402.84 290.41C403.11 290.41 403.38 290.42 403.64 290.42C403.91 290.42 404.18 290.43 404.45 290.43C404.72 290.43 404.98 290.43 405.25 290.44C405.52 290.44 405.79 290.44 406.06 290.44C406.32 290.45 406.59 290.45 406.86 290.45C407.13 290.45 407.40 290.45 407.66 290.45C407.93 290.46 408.20 290.46 408.47 290.46C408.73 290.46 409.00 290.46 409.27 290.46C409.54 290.46 409.81 290.46 410.07 290.47C410.34 290.47 410.61 290.47 410.88 290.47C411.15 290.47 411.41 290.47 411.68 290.47C411.95 290.47 412.22 290.47 412.49 290.47C412.75 290.47 413.02 290.47 413.29 290.47C413.56 290.47 413.83 290.47 414.09 290.47C414.36 290.47 414.63 290.47 414.90 290.47C415.16 290.47 415.43 290.47 415.70 290.47C415.97 290.47 416.24 290.47 416.50 290.47C416.77 290.47 417.04 290.46 417.31 290.46C417.58 290.46 417.84 290.46 418.11 290.46C418.38 290.46 418.65 290.46 418.92 290.46C419.18 290.46 419.45 290.45 419.72 290.45C419.99 290.45 420.26 290.45 420.52 290.45C420.79 290.45 421.06 290.44 421.33 290.44C421.60 290.44 421.86 290.44 422.13 290.44C422.40 290.43 422.67 290.43 422.93 290.43C423.20 290.43 423.47 290.42 423.74 290.42C424.01 290.42 424.27 290.42 424.54 290.41C424.81 290.41 425.08 290.41 425.35 290.40C425.61 290.40 425.88 290.40 426.15 290.40C426.42 290.39 426.69 290.39 426.95 290.39C427.22 290.38 427.49 290.38 427.76 290.38C428.03 290.37 428.29 290.37 428.56 290.37C428.83 290.36 429.10 290.36 429.36 290.35C429.63 290.35 429.90 290.35 430.17 290.34C430.44 290.34 430.70 290.34 430.97 290.33C431.24 290.33 431.51 290.32 431.78 290.32C432.04 290.31 432.31 290.31 432.58 290.31C432.85 290.30 433.12 290.30 433.38 290.29C433.65 290.29 433.92 290.28 434.19 290.28C434.46 290.27 434.72 290.27 434.99 290.26C435.26 290.26 435.53 290.25 435.79 290.25C436.06 290.24 436.33 290.24 436.60 290.23C436.87 290.23 437.13 290.22 437.40 290.22C437.67 290.21 437.94 290.21 438.21 290.20C438.47 290.20 438.74 290.19 439.01 290.19C439.28 290.18 439.55 290.18 439.81 290.17C440.08 290.16 440.35 290.16 440.62 290.15C440.89 290.15 441.15 290.14 441.42 290.14C441.69 290.13 441.96 290.12 442.23 290.12C442.49 290.11 442.76 290.11 443.03 290.10C443.30 290.09 443.56 290.09 443.83 290.08C444.10 290.07 444.37 290.07 444.64 290.06C444.90 290.05 445.17 290.05 445.44 290.04C445.71 290.04 445.98 290.03 446.24 290.02C446.51 290.02 446.78 290.01 447.05 290.00C447.32 290.00 447.58 289.99 447.85 289.98C448.12 289.97 448.39 289.97 448.66 289.96C448.92 289.95 449.19 289.95 449.46 289.94C449.73 289.93 449.99 289.93 450.26 289.92C450.53 289.91 450.80 289.90 451.07 289.90C451.33 289.89 451.60 289.88 451.87 289.87C452.14 289.87 452.41 289.86 452.67 289.85C452.94 289.84 453.21 289.84 453.48 289.83C453.75 289.82 454.01 289.81 454.28 289.81C454.55 289.80 454.82 289.79 455.09 289.78C455.35 289.78 455.62 289.77 455.89 289.76C456.16 289.75 456.42 289.74 456.69 289.74C456.96 289.73 457.23 289.72 457.50 289.71C457.76 289.71 458.03 289.70 458.30 289.69C458.57 289.68 458.84 289.67 459.10 289.66C459.37 289.66 459.64 289.65 459.91 289.64C460.18 289.63 460.44 289.62 460.71 289.62C460.98 289.61 461.25 289.60 461.52 289.59C461.78 289.58 462.05 289.57 462.32 289.57C462.59 289.56 462.86 289.55 463.12 289.54C463.39 289.53 463.66 289.52 463.93 289.51C464.19 289.51 464.46 289.50 464.73 289.49C465.00 289.48 465.27 289.47 465.53 289.46C465.80 289.45 466.07 289.45 466.34 289.44C466.61 289.43 466.87 289.42 467.14 289.41C467.41 289.40 467.68 289.39 467.95 289.38C468.21 289.38 468.48 289.37 468.75 289.36C469.02 289.35 469.29 289.34 469.55 289.33C469.82 289.32 470.09 289.31 470.36 289.31C470.62 289.30 470.89 289.29 471.16 289.28C471.43 289.27 471.70 289.26 471.96 289.25C472.23 289.24 472.50 289.23 472.77 289.22C473.04 289.22 473.30 289.21 473.57 289.20C473.84 289.19 474.11 289.18 474.38 289.17C474.64 289.16 474.91 289.15 475.18 289.14C475.45 289.13 475.72 289.12 475.98 289.12C476.25 289.11 476.52 289.10 476.79 289.09C477.05 289.08 477.32 289.07 477.59 289.06C477.86 289.05 478.13 289.04 478.39 289.03C478.66 289.02 478.93 289.01 479.20 289.01C479.47 289.00 479.73 288.99 480.00 288.98C480.27 288.97 480.54 288.96 480.81 288.95C481.07 288.94 481.34 288.93 481.61 288.92C481.88 288.91 482.15 288.90 482.41 288.89C482.68 288.89 482.95 288.88 483.22 288.87C483.49 288.86 483.75 288.85 484.02 288.84C484.29 288.83 484.56 288.82 484.82 288.81C485.09 288.80 485.36 288.79 485.63 288.78C485.90 288.77 486.16 288.77 486.43 288.76C486.70 288.75 486.97 288.74 487.24 288.73C487.50 288.72 487.77 288.71 488.04 288.70C488.31 288.69 488.58 288.68 488.84 288.67C489.11 288.66 489.38 288.66 489.65 288.65C489.92 288.64 490.18 288.63 490.45 288.62C490.72 288.61 490.99 288.60 491.25 288.59C491.52 288.58 491.79 288.57 492.06 288.56C492.33 288.56 492.59 288.55 492.86 288.54C493.13 288.53 493.40 288.52 493.67 288.51C493.93 288.50 494.20 288.49 494.47 288.48C494.74 288.47 495.01 288.46 495.27 288.46C495.54 288.45 495.81 288.44 496.08 288.43C496.35 288.42 496.61 288.41 496.88 288.40C497.15 288.39 497.42 288.38 497.68 288.38C497.95 288.37 498.22 288.36 498.49 288.35C498.76 288.34 499.02 288.33 499.29 288.32C499.56 288.31 499.83 288.31 500.10 288.30C500.36 288.29 500.77 288.28 500.90 288.27" fill="none" stroke="#a62a66" stroke-width="0.9"/><path d="M308.80 219.07C308.93 219.67 309.34 221.46 309.60 222.65C309.87 223.83 310.14 225.02 310.41 226.19C310.68 227.37 310.94 228.54 311.21 229.70C311.48 230.86 311.75 232.01 312.02 233.16C312.28 234.31 312.55 235.44 312.82 236.57C313.09 237.70 313.35 238.82 313.62 239.93C313.89 241.04 314.16 242.14 314.43 243.23C314.69 244.32 314.96 245.40 315.23 246.46C315.50 247.53 315.77 248.58 316.03 249.62C316.30 250.67 316.57 251.69 316.84 252.71C317.11 253.72 317.37 254.73 317.64 255.71C317.91 256.70 318.18 257.67 318.45 258.63C318.71 259.58 318.98 260.52 319.25 261.45C319.52 262.37 319.78 263.28 320.05 264.17C320.32 265.06 320.59 265.93 320.86 266.78C321.12 267.64 321.39 268.47 321.66 269.29C321.93 270.10 322.20 270.90 322.46 271.68C322.73 272.46 323.00 273.21 323.27 273.95C323.54 274.68 323.80 275.39 324.07 276.09C324.34 276.78 324.61 277.46 324.88 278.11C325.14 278.77 325.41 279.40 325.68 280.00C325.95 280.61 326.21 281.19 326.48 281.75C326.75 282.31 327.02 282.84 327.29 283.35C327.55 283.85 327.82 284.33 328.09 284.79C328.36 285.24 328.63 285.67 328.89 286.07C329.16 286.47 329.43 286.84 329.70 287.18C329.97 287.52 330.23 287.84 330.50 288.12C330.77 288.41 331.04 288.66 331.31 288.89C331.57 289.11 331.84 289.30 332.11 289.47C332.38 289.63 332.65 289.76 332.91 289.87C333.18 289.97 333.45 290.05 333.72 290.10C333.98 290.15 334.25 290.18 334.52 290.19C334.79 290.19 335.06 290.18 335.32 290.14C335.59 290.11 335.86 290.06 336.13 289.99C336.40 289.92 336.66 289.83 336.93 289.74C337.20 289.64 337.47 289.53 337.74 289.41C338.00 289.29 338.27 289.16 338.54 289.03C338.81 288.89 339.08 288.75 339.34 288.60C339.61 288.45 339.88 288.30 340.15 288.15C340.41 288.00 340.68 287.84 340.95 287.69C341.22 287.53 341.49 287.37 341.75 287.22C342.02 287.06 342.29 286.90 342.56 286.74C342.83 286.58 343.09 286.42 343.36 286.26C343.63 286.10 343.90 285.94 344.17 285.78C344.43 285.62 344.70 285.47 344.97 285.31C345.24 285.15 345.51 285.00 345.77 284.84C346.04 284.69 346.31 284.54 346.58 284.39C346.84 284.24 347.11 284.09 347.38 283.95C347.65 283.80 347.92 283.66 348.18 283.52C348.45 283.39 348.72 283.25 348.99 283.12C349.26 282.99 349.52 282.86 349.79 282.74C350.06 282.62 350.33 282.50 350.60 282.39C350.86 282.28 351.13 282.17 351.40 282.07C351.67 281.97 351.94 281.87 352.20 281.78C352.47 281.69 352.74 281.61 353.01 281.53C353.28 281.45 353.54 281.38 353.81 281.32C354.08 281.26 354.35 281.20 354.61 281.15C354.88 281.10 355.15 281.06 355.42 281.03C355.69 280.99 355.95 280.97 356.22 280.95C356.49 280.93 356.76 280.91 357.03 280.90C357.29 280.90 357.56 280.89 357.83 280.90C358.10 280.90 358.37 280.91 358.63 280.93C358.90 280.94 359.17 280.96 359.44 280.99C359.71 281.01 359.97 281.04 360.24 281.08C360.51 281.11 360.78 281.15 361.04 281.20C361.31 281.24 361.58 281.29 361.85 281.34C362.12 281.39 362.38 281.45 362.65 281.51C362.92 281.57 363.19 281.63 363.46 281.70C363.72 281.76 363.99 281.83 364.26 281.90C364.53 281.97 364.80 282.05 365.06 282.12C365.33 282.20 365.60 282.28 365.87 282.36C366.14 282.44 366.40 282.52 366.67 282.61C366.94 282.69 367.21 282.77 367.47 282.86C367.74 282.95 368.01 283.03 368.28 283.12C368.55 283.21 368.81 283.30 369.08 283.39C369.35 283.48 369.62 283.57 369.89 283.66C370.15 283.74 370.42 283.83 370.69 283.92C370.96 284.01 371.23 284.10 371.49 284.19C371.76 284.27 372.03 284.36 372.30 284.45C372.57 284.53 372.83 284.62 373.10 284.70C373.37 284.78 373.64 284.86 373.91 284.94C374.17 285.02 374.44 285.10 374.71 285.17C374.98 285.25 375.24 285.32 375.51 285.39C375.78 285.46 376.05 285.53 376.32 285.60C376.58 285.67 376.85 285.74 377.12 285.80C377.39 285.87 377.66 285.93 377.92 285.99C378.19 286.06 378.46 286.12 378.73 286.18C379.00 286.23 379.26 286.29 379.53 286.35C379.80 286.40 380.07 286.46 380.34 286.51C380.60 286.56 380.87 286.61 381.14 286.66C381.41 286.71 381.67 286.76 381.94 286.81C382.21 286.86 382.48 286.90 382.75 286.95C383.01 286.99 383.28 287.03 383.55 287.07C383.82 287.11 384.09 287.15 384.35 287.18C384.62 287.22 384.89 287.26 385.16 287.29C385.43 287.32 385.69 287.36 385.96 287.39C386.23 287.42 386.50 287.45 386.77 287.48C387.03 287.51 387.30 287.54 387.57 287.57C387.84 287.60 388.10 287.62 388.37 287.65C388.64 287.67 388.91 287.70 389.18 287.72C389.44 287.74 389.71 287.77 389.98 287.79C390.25 287.81 390.52 287.83 390.78 287.85C391.05 287.87 391.32 287.89 391.59 287.90C391.86 287.92 392.12 287.94 392.39 287.95C392.66 287.97 392.93 287.99 393.20 288.00C393.46 288.01 393.73 288.03 394.00 288.04C394.27 288.05 394.54 288.06 394.80 288.08C395.07 288.09 395.34 288.10 395.61 288.11C395.87 288.12 396.14 288.14 396.41 288.15C396.68 288.16 396.95 288.17 397.21 288.18C397.48 288.19 397.75 288.20 398.02 288.21C398.29 288.21 398.55 288.22 398.82 288.23C399.09 288.24 399.36 288.24 399.63 288.25C399.89 288.26 400.16 288.26 400.43 288.27C400.70 288.28 400.97 288.28 401.23 288.29C401.50 288.29 401.77 288.29 402.04 288.30C402.30 288.30 402.57 288.31 402.84 288.31C403.11 288.31 403.38 288.32 403.64 288.32C403.91 288.32 404.18 288.33 404.45 288.33C404.72 288.33 404.98 288.34 405.25 288.34C405.52 288.34 405.79 288.34 406.06 288.34C406.32 288.34 406.59 288.34 406.86 288.34C407.13 288.34 407.40 288.34 407.66 288.33C407.93 288.33 408.20 288.33 408.47 288.33C408.73 288.33 409.00 288.32 409.27 288.32C409.54 288.32 409.81 288.32 410.07 288.31C410.34 288.31 410.61 288.31 410.88 288.31C411.15 288.30 411.41 288.30 411.68 288.30C411.95 288.30 412.22 288.29 412.49 288.29C412.75 288.29 413.02 288.28 413.29 288.28C413.56 288.28 413.83 288.27 414.09 288.27C414.36 288.27 414.63 288.26 414.90 288.26C415.16 288.26 415.43 288.25 415.70 288.25C415.97 288.24 416.24 288.24 416.50 288.24C416.77 288.23 417.04 288.23 417.31 288.22C417.58 288.22 417.84 288.21 418.11 288.21C418.38 288.20 418.65 288.20 418.92 288.20C419.18 288.19 419.45 288.19 419.72 288.18C419.99 288.18 420.26 288.17 420.52 288.17C420.79 288.16 421.06 288.16 421.33 288.15C421.60 288.14 421.86 288.14 422.13 288.13C422.40 288.13 422.67 288.12 422.93 288.12C423.20 288.11 423.47 288.11 423.74 288.10C424.01 288.09 424.27 288.09 424.54 288.08C424.81 288.08 425.08 288.07 425.35 288.06C425.61 288.06 425.88 288.05 426.15 288.04C426.42 288.04 426.69 288.03 426.95 288.02C427.22 288.02 427.49 288.01 427.76 288.00C428.03 288.00 428.29 287.99 428.56 287.98C428.83 287.98 429.10 287.97 429.36 287.96C429.63 287.96 429.90 287.95 430.17 287.94C430.44 287.93 430.70 287.91 430.97 287.90C431.24 287.89 431.51 287.88 431.78 287.87C432.04 287.85 432.31 287.84 432.58 287.83C432.85 287.82 433.12 287.80 433.38 287.79C433.65 287.78 433.92 287.77 434.19 287.75C434.46 287.74 434.72 287.73 434.99 287.71C435.26 287.70 435.53 287.69 435.79 287.68C436.06 287.66 436.33 287.65 436.60 287.64C436.87 287.62 437.13 287.61 437.40 287.60C437.67 287.58 437.94 287.57 438.21 287.56C438.47 287.54 438.74 287.53 439.01 287.52C439.28 287.50 439.55 287.49 439.81 287.48C440.08 287.46 440.35 287.45 440.62 287.43C440.89 287.42 441.15 287.41 441.42 287.39C441.69 287.38 441.96 287.36 442.23 287.35C442.49 287.34 442.76 287.32 443.03 287.31C443.30 287.29 443.56 287.28 443.83 287.27C444.10 287.25 444.37 287.24 444.64 287.22C444.90 287.21 445.17 287.19 445.44 287.18C445.71 287.16 445.98 287.15 446.24 287.13C446.51 287.12 446.78 287.11 447.05 287.09C447.32 287.08 447.58 287.06 447.85 287.05C448.12 287.03 448.39 287.02 448.66 287.00C448.92 286.99 449.19 286.97 449.46 286.96C449.73 286.94 449.99 286.92 450.26 286.91C450.53 286.89 450.80 286.87 451.07 286.85C451.33 286.83 451.60 286.81 451.87 286.79C452.14 286.77 452.41 286.75 452.67 286.73C452.94 286.71 453.21 286.69 453.48 286.67C453.75 286.65 454.01 286.63 454.28 286.61C454.55 286.59 454.82 286.57 455.09 286.55C455.35 286.53 455.62 286.51 455.89 286.49C456.16 286.47 456.42 286.45 456.69 286.43C456.96 286.41 457.23 286.39 457.50 286.37C457.76 286.35 458.03 286.33 458.30 286.31C458.57 286.29 458.84 286.27 459.10 286.25C459.37 286.23 459.64 286.21 459.91 286.19C460.18 286.17 460.44 286.15 460.71 286.13C460.98 286.11 461.25 286.08 461.52 286.06C461.78 286.04 462.05 286.02 462.32 286.00C462.59 285.98 462.86 285.96 463.12 285.94C463.39 285.92 463.66 285.90 463.93 285.88C464.19 285.86 464.46 285.84 464.73 285.82C465.00 285.79 465.27 285.77 465.53 285.75C465.80 285.73 466.07 285.71 466.34 285.69C466.61 285.67 466.87 285.65 467.14 285.63C467.41 285.61 467.68 285.58 467.95 285.56C468.21 285.54 468.48 285.51 468.75 285.49C469.02 285.46 469.29 285.44 469.55 285.41C469.82 285.39 470.09 285.37 470.36 285.34C470.62 285.32 470.89 285.29 471.16 285.27C471.43 285.24 471.70 285.22 471.96 285.20C472.23 285.17 472.50 285.15 472.77 285.12C473.04 285.10 473.30 285.07 473.57 285.05C473.84 285.03 474.11 285.00 474.38 284.98C474.64 284.95 474.91 284.93 475.18 284.90C475.45 284.88 475.72 284.86 475.98 284.83C476.25 284.81 476.52 284.78 476.79 284.76C477.05 284.73 477.32 284.71 477.59 284.68C477.86 284.66 478.13 284.63 478.39 284.61C478.66 284.59 478.93 284.56 479.20 284.54C479.47 284.51 479.73 284.49 480.00 284.46C480.27 284.44 480.54 284.41 480.81 284.39C481.07 284.37 481.34 284.34 481.61 284.32C481.88 284.29 482.15 284.27 482.41 284.24C482.68 284.22 482.95 284.19 483.22 284.17C483.49 284.14 483.75 284.12 484.02 284.10C484.29 284.07 484.56 284.05 484.82 284.02C485.09 284.00 485.36 283.97 485.63 283.94C485.90 283.92 486.16 283.89 486.43 283.87C486.70 283.84 486.97 283.81 487.24 283.79C487.50 283.76 487.77 283.74 488.04 283.71C488.31 283.68 488.58 283.66 488.84 283.63C489.11 283.61 489.38 283.58 489.65 283.55C489.92 283.53 490.18 283.50 490.45 283.48C490.72 283.45 490.99 283.42 491.25 283.40C491.52 283.37 491.79 283.35 492.06 283.32C492.33 283.29 492.59 283.27 492.86 283.24C493.13 283.22 493.40 283.19 493.67 283.16C493.93 283.14 494.20 283.11 494.47 283.09C494.74 283.06 495.01 283.04 495.27 283.01C495.54 282.98 495.81 282.96 496.08 282.93C496.35 282.91 496.61 282.88 496.88 282.86C497.15 282.83 497.42 282.80 497.68 282.78C497.95 282.75 498.22 282.73 498.49 282.70C498.76 282.68 499.02 282.65 499.29 282.62C499.56 282.60 499.83 282.57 500.10 282.55C500.36 282.52 500.77 282.48 500.90 282.47" fill="none" stroke="#5a4a55" stroke-width="1.05" stroke-dasharray="2.5 2.1"/><path d="M308.80 222.27C308.93 222.87 309.34 224.68 309.60 225.88C309.87 227.08 310.14 228.28 310.41 229.47C310.68 230.66 310.94 231.84 311.21 233.02C311.48 234.19 311.75 235.36 312.02 236.52C312.28 237.68 312.55 238.83 312.82 239.97C313.09 241.12 313.35 242.25 313.62 243.37C313.89 244.50 314.16 245.61 314.43 246.72C314.69 247.82 314.96 248.91 315.23 249.99C315.50 251.07 315.77 252.14 316.03 253.19C316.30 254.25 316.57 255.29 316.84 256.32C317.11 257.35 317.37 258.37 317.64 259.37C317.91 260.37 318.18 261.35 318.45 262.32C318.71 263.29 318.98 264.25 319.25 265.19C319.52 266.12 319.78 267.05 320.05 267.95C320.32 268.85 320.59 269.74 320.86 270.61C321.12 271.48 321.39 272.33 321.66 273.16C321.93 273.99 322.20 274.80 322.46 275.59C322.73 276.38 323.00 277.15 323.27 277.90C323.54 278.65 323.80 279.38 324.07 280.08C324.34 280.78 324.61 281.46 324.88 282.11C325.14 282.77 325.41 283.40 325.68 284.00C325.95 284.61 326.21 285.19 326.48 285.75C326.75 286.31 327.02 286.84 327.29 287.35C327.55 287.85 327.82 288.33 328.09 288.79C328.36 289.24 328.63 289.67 328.89 290.07C329.16 290.47 329.43 290.84 329.70 291.18C329.97 291.52 330.23 291.84 330.50 292.12C330.77 292.41 331.04 292.66 331.31 292.89C331.57 293.11 331.84 293.30 332.11 293.47C332.38 293.63 332.65 293.76 332.91 293.87C333.18 293.97 333.45 294.05 333.72 294.10C333.98 294.15 334.25 294.18 334.52 294.19C334.79 294.19 335.06 294.18 335.32 294.14C335.59 294.11 335.86 294.06 336.13 293.99C336.40 293.92 336.66 293.83 336.93 293.74C337.20 293.64 337.47 293.53 337.74 293.41C338.00 293.29 338.27 293.16 338.54 293.03C338.81 292.89 339.08 292.75 339.34 292.60C339.61 292.45 339.88 292.30 340.15 292.15C340.41 292.00 340.68 291.84 340.95 291.69C341.22 291.53 341.49 291.37 341.75 291.22C342.02 291.06 342.29 290.90 342.56 290.74C342.83 290.58 343.09 290.42 343.36 290.26C343.63 290.10 343.90 289.94 344.17 289.78C344.43 289.62 344.70 289.47 344.97 289.31C345.24 289.15 345.51 289.00 345.77 288.84C346.04 288.69 346.31 288.54 346.58 288.39C346.84 288.24 347.11 288.09 347.38 287.95C347.65 287.80 347.92 287.66 348.18 287.52C348.45 287.39 348.72 287.25 348.99 287.12C349.26 286.99 349.52 286.86 349.79 286.74C350.06 286.62 350.33 286.50 350.60 286.39C350.86 286.28 351.13 286.17 351.40 286.07C351.67 285.97 351.94 285.87 352.20 285.78C352.47 285.69 352.74 285.61 353.01 285.53C353.28 285.45 353.54 285.38 353.81 285.32C354.08 285.26 354.35 285.20 354.61 285.15C354.88 285.10 355.15 285.06 355.42 285.03C355.69 284.99 355.95 284.97 356.22 284.95C356.49 284.93 356.76 284.91 357.03 284.90C357.29 284.90 357.56 284.89 357.83 284.90C358.10 284.90 358.37 284.91 358.63 284.93C358.90 284.94 359.17 284.96 359.44 284.99C359.71 285.01 359.97 285.04 360.24 285.08C360.51 285.11 360.78 285.15 361.04 285.20C361.31 285.24 361.58 285.29 361.85 285.34C362.12 285.39 362.38 285.45 362.65 285.51C362.92 285.57 363.19 285.63 363.46 285.70C363.72 285.76 363.99 285.83 364.26 285.90C364.53 285.97 364.80 286.05 365.06 286.12C365.33 286.20 365.60 286.28 365.87 286.36C366.14 286.44 366.40 286.52 366.67 286.61C366.94 286.69 367.21 286.77 367.47 286.86C367.74 286.95 368.01 287.03 368.28 287.12C368.55 287.21 368.81 287.30 369.08 287.39C369.35 287.48 369.62 287.57 369.89 287.66C370.15 287.74 370.42 287.83 370.69 287.92C370.96 288.01 371.23 288.10 371.49 288.19C371.76 288.27 372.03 288.36 372.30 288.45C372.57 288.53 372.83 288.62 373.10 288.70C373.37 288.78 373.64 288.86 373.91 288.94C374.17 289.02 374.44 289.10 374.71 289.17C374.98 289.25 375.24 289.32 375.51 289.39C375.78 289.46 376.05 289.53 376.32 289.60C376.58 289.67 376.85 289.74 377.12 289.80C377.39 289.87 377.66 289.93 377.92 289.99C378.19 290.06 378.46 290.12 378.73 290.18C379.00 290.23 379.26 290.29 379.53 290.35C379.80 290.40 380.07 290.46 380.34 290.51C380.60 290.56 380.87 290.61 381.14 290.66C381.41 290.71 381.67 290.76 381.94 290.81C382.21 290.86 382.48 290.90 382.75 290.95C383.01 290.99 383.28 291.03 383.55 291.08C383.82 291.12 384.09 291.16 384.35 291.21C384.62 291.25 384.89 291.29 385.16 291.33C385.43 291.37 385.69 291.40 385.96 291.44C386.23 291.48 386.50 291.51 386.77 291.55C387.03 291.58 387.30 291.61 387.57 291.64C387.84 291.68 388.10 291.71 388.37 291.74C388.64 291.77 388.91 291.80 389.18 291.82C389.44 291.85 389.71 291.88 389.98 291.90C390.25 291.93 390.52 291.95 390.78 291.98C391.05 292.00 391.32 292.02 391.59 292.05C391.86 292.07 392.12 292.09 392.39 292.11C392.66 292.13 392.93 292.15 393.20 292.17C393.46 292.19 393.73 292.21 394.00 292.22C394.27 292.24 394.54 292.26 394.80 292.27C395.07 292.29 395.34 292.30 395.61 292.31C395.87 292.33 396.14 292.34 396.41 292.35C396.68 292.36 396.95 292.37 397.21 292.38C397.48 292.39 397.75 292.40 398.02 292.41C398.29 292.41 398.55 292.42 398.82 292.43C399.09 292.44 399.36 292.44 399.63 292.45C399.89 292.46 400.16 292.46 400.43 292.47C400.70 292.48 400.97 292.48 401.23 292.49C401.50 292.49 401.77 292.49 402.04 292.50C402.30 292.50 402.57 292.51 402.84 292.51C403.11 292.51 403.38 292.52 403.64 292.52C403.91 292.52 404.18 292.53 404.45 292.53C404.72 292.53 404.98 292.53 405.25 292.54C405.52 292.54 405.79 292.54 406.06 292.54C406.32 292.55 406.59 292.56 406.86 292.56C407.13 292.57 407.40 292.57 407.66 292.58C407.93 292.58 408.20 292.59 408.47 292.59C408.73 292.59 409.00 292.60 409.27 292.60C409.54 292.61 409.81 292.61 410.07 292.62C410.34 292.62 410.61 292.63 410.88 292.63C411.15 292.63 411.41 292.64 411.68 292.64C411.95 292.64 412.22 292.65 412.49 292.65C412.75 292.66 413.02 292.66 413.29 292.66C413.56 292.67 413.83 292.67 414.09 292.67C414.36 292.68 414.63 292.68 414.90 292.68C415.16 292.68 415.43 292.69 415.70 292.69C415.97 292.69 416.24 292.70 416.50 292.70C416.77 292.70 417.04 292.70 417.31 292.71C417.58 292.71 417.84 292.71 418.11 292.71C418.38 292.71 418.65 292.72 418.92 292.72C419.18 292.72 419.45 292.72 419.72 292.72C419.99 292.73 420.26 292.73 420.52 292.73C420.79 292.73 421.06 292.73 421.33 292.73C421.60 292.73 421.86 292.74 422.13 292.74C422.40 292.74 422.67 292.74 422.93 292.74C423.20 292.74 423.47 292.74 423.74 292.74C424.01 292.74 424.27 292.74 424.54 292.74C424.81 292.75 425.08 292.75 425.35 292.75C425.61 292.75 425.88 292.75 426.15 292.75C426.42 292.75 426.69 292.75 426.95 292.75C427.22 292.75 427.49 292.75 427.76 292.75C428.03 292.75 428.29 292.75 428.56 292.75C428.83 292.75 429.10 292.75 429.36 292.75C429.63 292.75 429.90 292.75 430.17 292.75C430.44 292.75 430.70 292.76 430.97 292.76C431.24 292.76 431.51 292.77 431.78 292.77C432.04 292.78 432.31 292.78 432.58 292.78C432.85 292.79 433.12 292.79 433.38 292.79C433.65 292.80 433.92 292.80 434.19 292.80C434.46 292.81 434.72 292.81 434.99 292.81C435.26 292.82 435.53 292.82 435.79 292.82C436.06 292.83 436.33 292.83 436.60 292.83C436.87 292.84 437.13 292.84 437.40 292.84C437.67 292.84 437.94 292.85 438.21 292.85C438.47 292.85 438.74 292.85 439.01 292.86C439.28 292.86 439.55 292.86 439.81 292.86C440.08 292.87 440.35 292.87 440.62 292.87C440.89 292.87 441.15 292.88 441.42 292.88C441.69 292.88 441.96 292.88 442.23 292.88C442.49 292.89 442.76 292.89 443.03 292.89C443.30 292.89 443.56 292.89 443.83 292.90C444.10 292.90 444.37 292.90 444.64 292.90C444.90 292.90 445.17 292.90 445.44 292.90C445.71 292.91 445.98 292.91 446.24 292.91C446.51 292.91 446.78 292.91 447.05 292.91C447.32 292.91 447.58 292.92 447.85 292.92C448.12 292.92 448.39 292.92 448.66 292.92C448.92 292.92 449.19 292.92 449.46 292.92C449.73 292.93 449.99 292.93 450.26 292.93C450.53 292.93 450.80 292.94 451.07 292.95C451.33 292.95 451.60 292.96 451.87 292.96C452.14 292.96 452.41 292.97 452.67 292.97C452.94 292.98 453.21 292.98 453.48 292.99C453.75 292.99 454.01 293.00 454.28 293.00C454.55 293.01 454.82 293.01 455.09 293.02C455.35 293.02 455.62 293.03 455.89 293.03C456.16 293.03 456.42 293.04 456.69 293.04C456.96 293.05 457.23 293.05 457.50 293.06C457.76 293.06 458.03 293.06 458.30 293.07C458.57 293.07 458.84 293.08 459.10 293.08C459.37 293.09 459.64 293.09 459.91 293.09C460.18 293.10 460.44 293.10 460.71 293.11C460.98 293.11 461.25 293.11 461.52 293.12C461.78 293.12 462.05 293.12 462.32 293.13C462.59 293.13 462.86 293.14 463.12 293.14C463.39 293.14 463.66 293.15 463.93 293.15C464.19 293.16 464.46 293.16 464.73 293.16C465.00 293.17 465.27 293.17 465.53 293.17C465.80 293.18 466.07 293.18 466.34 293.18C466.61 293.19 466.87 293.19 467.14 293.19C467.41 293.20 467.68 293.20 467.95 293.21C468.21 293.22 468.48 293.22 468.75 293.23C469.02 293.24 469.29 293.24 469.55 293.25C469.82 293.26 470.09 293.26 470.36 293.27C470.62 293.27 470.89 293.28 471.16 293.29C471.43 293.29 471.70 293.30 471.96 293.31C472.23 293.31 472.50 293.32 472.77 293.33C473.04 293.33 473.30 293.34 473.57 293.34C473.84 293.35 474.11 293.36 474.38 293.36C474.64 293.37 474.91 293.38 475.18 293.38C475.45 293.39 475.72 293.39 475.98 293.40C476.25 293.41 476.52 293.41 476.79 293.42C477.05 293.42 477.32 293.43 477.59 293.44C477.86 293.44 478.13 293.45 478.39 293.46C478.66 293.46 478.93 293.47 479.20 293.47C479.47 293.48 479.73 293.49 480.00 293.49C480.27 293.50 480.54 293.50 480.81 293.51C481.07 293.52 481.34 293.52 481.61 293.53C481.88 293.53 482.15 293.54 482.41 293.55C482.68 293.55 482.95 293.56 483.22 293.57C483.49 293.57 483.75 293.58 484.02 293.58C484.29 293.59 484.56 293.60 484.82 293.60C485.09 293.61 485.36 293.62 485.63 293.62C485.90 293.63 486.16 293.64 486.43 293.65C486.70 293.65 486.97 293.66 487.24 293.67C487.50 293.68 487.77 293.68 488.04 293.69C488.31 293.70 488.58 293.71 488.84 293.72C489.11 293.72 489.38 293.73 489.65 293.74C489.92 293.75 490.18 293.75 490.45 293.76C490.72 293.77 490.99 293.78 491.25 293.78C491.52 293.79 491.79 293.80 492.06 293.81C492.33 293.82 492.59 293.82 492.86 293.83C493.13 293.84 493.40 293.85 493.67 293.85C493.93 293.86 494.20 293.87 494.47 293.88C494.74 293.89 495.01 293.89 495.27 293.90C495.54 293.91 495.81 293.92 496.08 293.93C496.35 293.93 496.61 293.94 496.88 293.95C497.15 293.96 497.42 293.97 497.68 293.97C497.95 293.98 498.22 293.99 498.49 294.00C498.76 294.01 499.02 294.01 499.29 294.02C499.56 294.03 499.83 294.04 500.10 294.05C500.36 294.05 500.77 294.07 500.90 294.07" fill="none" stroke="#5a4a55" stroke-width="1.05" stroke-dasharray="2.5 2.1"/><path d="M334.5 191.80V311.35" stroke="#222" stroke-width="1.5" stroke-dasharray="2.8 2.16" stroke-dashoffset="0.92"/><rect x="41.5" y="19.8" width="211.90" height="119.55" fill="none" stroke="#2e2e2e" stroke-width="1.4"/><rect x="299.1" y="19.8" width="212.10" height="119.55" fill="none" stroke="#2e2e2e" stroke-width="1.4"/><rect x="41.5" y="191.8" width="211.90" height="119.55" fill="none" stroke="#2e2e2e" stroke-width="1.4"/><rect x="299.1" y="191.8" width="212.10" height="119.55" fill="none" stroke="#2e2e2e" stroke-width="1.4"/><g opacity="0.99"><g font-size="7.2" fill="#222" stroke="#222" stroke-width="0.18"><path d="M47.35 139.35v3.2M60.58 139.35v3.2M73.82 139.35v3.2M87.05 139.35v3.2M100.28 139.35v3.2M113.51 139.35v3.2M126.75 139.35v3.2M139.98 139.35v3.2M153.21 139.35v3.2M166.45 139.35v3.2M179.68 139.35v3.2M192.91 139.35v3.2M206.15 139.35v3.2M219.38 139.35v3.2M232.61 139.35v3.2M245.84 139.35v3.2" stroke="#333" stroke-width="1" fill="none"/><text x="51.45" y="149.25" text-anchor="end" transform="rotate(-45 51.45 149.25)">0</text><text x="64.68" y="149.25" text-anchor="end" transform="rotate(-45 64.68 149.25)">10</text><text x="77.92" y="149.25" text-anchor="end" transform="rotate(-45 77.92 149.25)">20</text><text x="91.15" y="149.25" text-anchor="end" transform="rotate(-45 91.15 149.25)">30</text><text x="104.38" y="149.25" text-anchor="end" transform="rotate(-45 104.38 149.25)">40</text><text x="117.61" y="149.25" text-anchor="end" transform="rotate(-45 117.61 149.25)">50</text><text x="130.85" y="149.25" text-anchor="end" transform="rotate(-45 130.85 149.25)">60</text><text x="144.08" y="149.25" text-anchor="end" transform="rotate(-45 144.08 149.25)">70</text><text x="157.31" y="149.25" text-anchor="end" transform="rotate(-45 157.31 149.25)">80</text><text x="170.55" y="149.25" text-anchor="end" transform="rotate(-45 170.55 149.25)">90</text><text x="183.78" y="149.25" text-anchor="end" transform="rotate(-45 183.78 149.25)">100</text><text x="197.01" y="149.25" text-anchor="end" transform="rotate(-45 197.01 149.25)">110</text><text x="210.25" y="149.25" text-anchor="end" transform="rotate(-45 210.25 149.25)">120</text><text x="223.48" y="149.25" text-anchor="end" transform="rotate(-45 223.48 149.25)">130</text><text x="236.71" y="149.25" text-anchor="end" transform="rotate(-45 236.71 149.25)">140</text><text x="249.94" y="149.25" text-anchor="end" transform="rotate(-45 249.94 149.25)">150</text><path d="M304.80 139.35v3.2M318.03 139.35v3.2M331.27 139.35v3.2M344.50 139.35v3.2M357.73 139.35v3.2M370.97 139.35v3.2M384.20 139.35v3.2M397.43 139.35v3.2M410.66 139.35v3.2M423.90 139.35v3.2M437.13 139.35v3.2M450.36 139.35v3.2M463.60 139.35v3.2M476.83 139.35v3.2M490.06 139.35v3.2M503.29 139.35v3.2" stroke="#333" stroke-width="1" fill="none"/><text x="308.90" y="149.25" text-anchor="end" transform="rotate(-45 308.90 149.25)">0</text><text x="322.13" y="149.25" text-anchor="end" transform="rotate(-45 322.13 149.25)">10</text><text x="335.37" y="149.25" text-anchor="end" transform="rotate(-45 335.37 149.25)">20</text><text x="348.60" y="149.25" text-anchor="end" transform="rotate(-45 348.60 149.25)">30</text><text x="361.83" y="149.25" text-anchor="end" transform="rotate(-45 361.83 149.25)">40</text><text x="375.07" y="149.25" text-anchor="end" transform="rotate(-45 375.07 149.25)">50</text><text x="388.30" y="149.25" text-anchor="end" transform="rotate(-45 388.30 149.25)">60</text><text x="401.53" y="149.25" text-anchor="end" transform="rotate(-45 401.53 149.25)">70</text><text x="414.76" y="149.25" text-anchor="end" transform="rotate(-45 414.76 149.25)">80</text><text x="428.00" y="149.25" text-anchor="end" transform="rotate(-45 428.00 149.25)">90</text><text x="441.23" y="149.25" text-anchor="end" transform="rotate(-45 441.23 149.25)">100</text><text x="454.46" y="149.25" text-anchor="end" transform="rotate(-45 454.46 149.25)">110</text><text x="467.70" y="149.25" text-anchor="end" transform="rotate(-45 467.70 149.25)">120</text><text x="480.93" y="149.25" text-anchor="end" transform="rotate(-45 480.93 149.25)">130</text><text x="494.16" y="149.25" text-anchor="end" transform="rotate(-45 494.16 149.25)">140</text><text x="507.39" y="149.25" text-anchor="end" transform="rotate(-45 507.39 149.25)">150</text><path d="M47.35 311.35v3.2M60.58 311.35v3.2M73.82 311.35v3.2M87.05 311.35v3.2M100.28 311.35v3.2M113.51 311.35v3.2M126.75 311.35v3.2M139.98 311.35v3.2M153.21 311.35v3.2M166.45 311.35v3.2M179.68 311.35v3.2M192.91 311.35v3.2M206.15 311.35v3.2M219.38 311.35v3.2M232.61 311.35v3.2M245.84 311.35v3.2" stroke="#333" stroke-width="1" fill="none"/><text x="51.45" y="321.25" text-anchor="end" transform="rotate(-45 51.45 321.25)">0</text><text x="64.68" y="321.25" text-anchor="end" transform="rotate(-45 64.68 321.25)">10</text><text x="77.92" y="321.25" text-anchor="end" transform="rotate(-45 77.92 321.25)">20</text><text x="91.15" y="321.25" text-anchor="end" transform="rotate(-45 91.15 321.25)">30</text><text x="104.38" y="321.25" text-anchor="end" transform="rotate(-45 104.38 321.25)">40</text><text x="117.61" y="321.25" text-anchor="end" transform="rotate(-45 117.61 321.25)">50</text><text x="130.85" y="321.25" text-anchor="end" transform="rotate(-45 130.85 321.25)">60</text><text x="144.08" y="321.25" text-anchor="end" transform="rotate(-45 144.08 321.25)">70</text><text x="157.31" y="321.25" text-anchor="end" transform="rotate(-45 157.31 321.25)">80</text><text x="170.55" y="321.25" text-anchor="end" transform="rotate(-45 170.55 321.25)">90</text><text x="183.78" y="321.25" text-anchor="end" transform="rotate(-45 183.78 321.25)">100</text><text x="197.01" y="321.25" text-anchor="end" transform="rotate(-45 197.01 321.25)">110</text><text x="210.25" y="321.25" text-anchor="end" transform="rotate(-45 210.25 321.25)">120</text><text x="223.48" y="321.25" text-anchor="end" transform="rotate(-45 223.48 321.25)">130</text><text x="236.71" y="321.25" text-anchor="end" transform="rotate(-45 236.71 321.25)">140</text><text x="249.94" y="321.25" text-anchor="end" transform="rotate(-45 249.94 321.25)">150</text><path d="M304.80 311.35v3.2M318.03 311.35v3.2M331.27 311.35v3.2M344.50 311.35v3.2M357.73 311.35v3.2M370.97 311.35v3.2M384.20 311.35v3.2M397.43 311.35v3.2M410.66 311.35v3.2M423.90 311.35v3.2M437.13 311.35v3.2M450.36 311.35v3.2M463.60 311.35v3.2M476.83 311.35v3.2M490.06 311.35v3.2M503.29 311.35v3.2" stroke="#333" stroke-width="1" fill="none"/><text x="308.90" y="321.25" text-anchor="end" transform="rotate(-45 308.90 321.25)">0</text><text x="322.13" y="321.25" text-anchor="end" transform="rotate(-45 322.13 321.25)">10</text><text x="335.37" y="321.25" text-anchor="end" transform="rotate(-45 335.37 321.25)">20</text><text x="348.60" y="321.25" text-anchor="end" transform="rotate(-45 348.60 321.25)">30</text><text x="361.83" y="321.25" text-anchor="end" transform="rotate(-45 361.83 321.25)">40</text><text x="375.07" y="321.25" text-anchor="end" transform="rotate(-45 375.07 321.25)">50</text><text x="388.30" y="321.25" text-anchor="end" transform="rotate(-45 388.30 321.25)">60</text><text x="401.53" y="321.25" text-anchor="end" transform="rotate(-45 401.53 321.25)">70</text><text x="414.76" y="321.25" text-anchor="end" transform="rotate(-45 414.76 321.25)">80</text><text x="428.00" y="321.25" text-anchor="end" transform="rotate(-45 428.00 321.25)">90</text><text x="441.23" y="321.25" text-anchor="end" transform="rotate(-45 441.23 321.25)">100</text><text x="454.46" y="321.25" text-anchor="end" transform="rotate(-45 454.46 321.25)">110</text><text x="467.70" y="321.25" text-anchor="end" transform="rotate(-45 467.70 321.25)">120</text><text x="480.93" y="321.25" text-anchor="end" transform="rotate(-45 480.93 321.25)">130</text><text x="494.16" y="321.25" text-anchor="end" transform="rotate(-45 494.16 321.25)">140</text><text x="507.39" y="321.25" text-anchor="end" transform="rotate(-45 507.39 321.25)">150</text><path d="M38.70 124.70h2.8M38.70 106.86h2.8M38.70 89.02h2.8M38.70 71.18h2.8M38.70 53.34h2.8M38.70 35.50h2.8" stroke="#333" stroke-width="1" fill="none"/><text x="35.60" y="127.30" text-anchor="end">6</text><text x="35.60" y="109.46" text-anchor="end">8</text><text x="35.60" y="91.62" text-anchor="end">10</text><text x="35.60" y="73.78" text-anchor="end">12</text><text x="35.60" y="55.94" text-anchor="end">14</text><text x="35.60" y="38.10" text-anchor="end">16</text><path d="M296.30 135.40h2.8M296.30 121.65h2.8M296.30 107.90h2.8M296.30 94.15h2.8M296.30 80.40h2.8M296.30 66.65h2.8M296.30 52.90h2.8M296.30 39.15h2.8M296.30 25.40h2.8" stroke="#333" stroke-width="1" fill="none"/><text x="293.20" y="138.00" text-anchor="end">0.0</text><text x="293.20" y="124.25" text-anchor="end">0.5</text><text x="293.20" y="110.50" text-anchor="end">1.0</text><text x="293.20" y="96.75" text-anchor="end">1.5</text><text x="293.20" y="83.00" text-anchor="end">2.0</text><text x="293.20" y="69.25" text-anchor="end">2.5</text><text x="293.20" y="55.50" text-anchor="end">3.0</text><text x="293.20" y="41.75" text-anchor="end">3.5</text><text x="293.20" y="28.00" text-anchor="end">4.0</text><path d="M38.70 305.50h2.8M38.70 283.84h2.8M38.70 262.18h2.8M38.70 240.52h2.8M38.70 218.86h2.8M38.70 197.20h2.8" stroke="#333" stroke-width="1" fill="none"/><text x="35.60" y="308.10" text-anchor="end">11.0</text><text x="35.60" y="286.44" text-anchor="end">11.5</text><text x="35.60" y="264.78" text-anchor="end">12.0</text><text x="35.60" y="243.12" text-anchor="end">12.5</text><text x="35.60" y="221.46" text-anchor="end">13.0</text><text x="35.60" y="199.80" text-anchor="end">13.5</text><path d="M296.30 306.50h2.8M296.30 295.58h2.8M296.30 284.66h2.8M296.30 273.74h2.8M296.30 262.82h2.8M296.30 251.90h2.8M296.30 240.98h2.8M296.30 230.06h2.8M296.30 219.14h2.8M296.30 208.22h2.8M296.30 197.30h2.8" stroke="#333" stroke-width="1" fill="none"/><text x="293.20" y="309.10" text-anchor="end">0.50</text><text x="293.20" y="298.18" text-anchor="end">0.75</text><text x="293.20" y="287.26" text-anchor="end">1.00</text><text x="293.20" y="276.34" text-anchor="end">1.25</text><text x="293.20" y="265.42" text-anchor="end">1.50</text><text x="293.20" y="254.50" text-anchor="end">1.75</text><text x="293.20" y="243.58" text-anchor="end">2.00</text><text x="293.20" y="232.66" text-anchor="end">2.25</text><text x="293.20" y="221.74" text-anchor="end">2.50</text><text x="293.20" y="210.82" text-anchor="end">2.75</text><text x="293.20" y="199.90" text-anchor="end">3.00</text></g><text font-size="8.2" fill="#111" stroke="#111" stroke-width="0.3" text-anchor="middle" textLength="52.4" lengthAdjust="spacingAndGlyphs" transform="translate(21.6 80.3) rotate(-90)" x="0" y="0">Hemoglobin (g/dL)</text><text font-size="8.2" fill="#111" stroke="#111" stroke-width="0.3" text-anchor="middle" textLength="52.4" lengthAdjust="spacingAndGlyphs" transform="translate(15.3 252.3) rotate(-90)" x="0" y="0">Hemoglobin (g/dL)</text><text font-size="8.2" fill="#111" stroke="#111" stroke-width="0.3" text-anchor="middle" textLength="107.9" lengthAdjust="spacingAndGlyphs" transform="translate(277.2 79.8) rotate(-90)" x="0" y="0">Erythrocyte zinc protoporphyrin, μg/dL</text><text font-size="8.2" fill="#111" stroke="#111" stroke-width="0.3" text-anchor="middle" textLength="108.6" lengthAdjust="spacingAndGlyphs" transform="translate(272.2 251.5) rotate(-90)" x="0" y="0">Erythrocyte zinc protoporphyrin, μg/dL</text><text font-size="8.4" fill="#111" stroke="#111" stroke-width="0.3" textLength="18.10" lengthAdjust="spacingAndGlyphs" x="116.80" y="341.6">Serum</text><text font-size="8.4" fill="#111" stroke="#111" stroke-width="0.3" textLength="18.80" lengthAdjust="spacingAndGlyphs" x="137.00" y="341.6">ferritin</text><text font-size="8.4" fill="#111" stroke="#111" stroke-width="0.3" textLength="20.10" lengthAdjust="spacingAndGlyphs" x="157.90" y="341.6">(μg/L)</text><text font-size="8.4" fill="#111" stroke="#111" stroke-width="0.3" textLength="18.10" lengthAdjust="spacingAndGlyphs" x="374.40" y="341.6">Serum</text><text font-size="8.4" fill="#111" stroke="#111" stroke-width="0.3" textLength="18.80" lengthAdjust="spacingAndGlyphs" x="394.60" y="341.6">ferritin</text><text font-size="8.4" fill="#111" stroke="#111" stroke-width="0.3" textLength="20.10" lengthAdjust="spacingAndGlyphs" x="415.50" y="341.6">(μg/L)</text><g font-size="10.6" font-weight="bold" fill="#000" stroke="#000" stroke-width="0.3"><text x="15.0" y="16.9">A</text><text x="270.6" y="16.6">B</text><text x="9.1" y="189.0">C</text><text x="266.4" y="188.9">D</text></g></g></svg></body></html>
